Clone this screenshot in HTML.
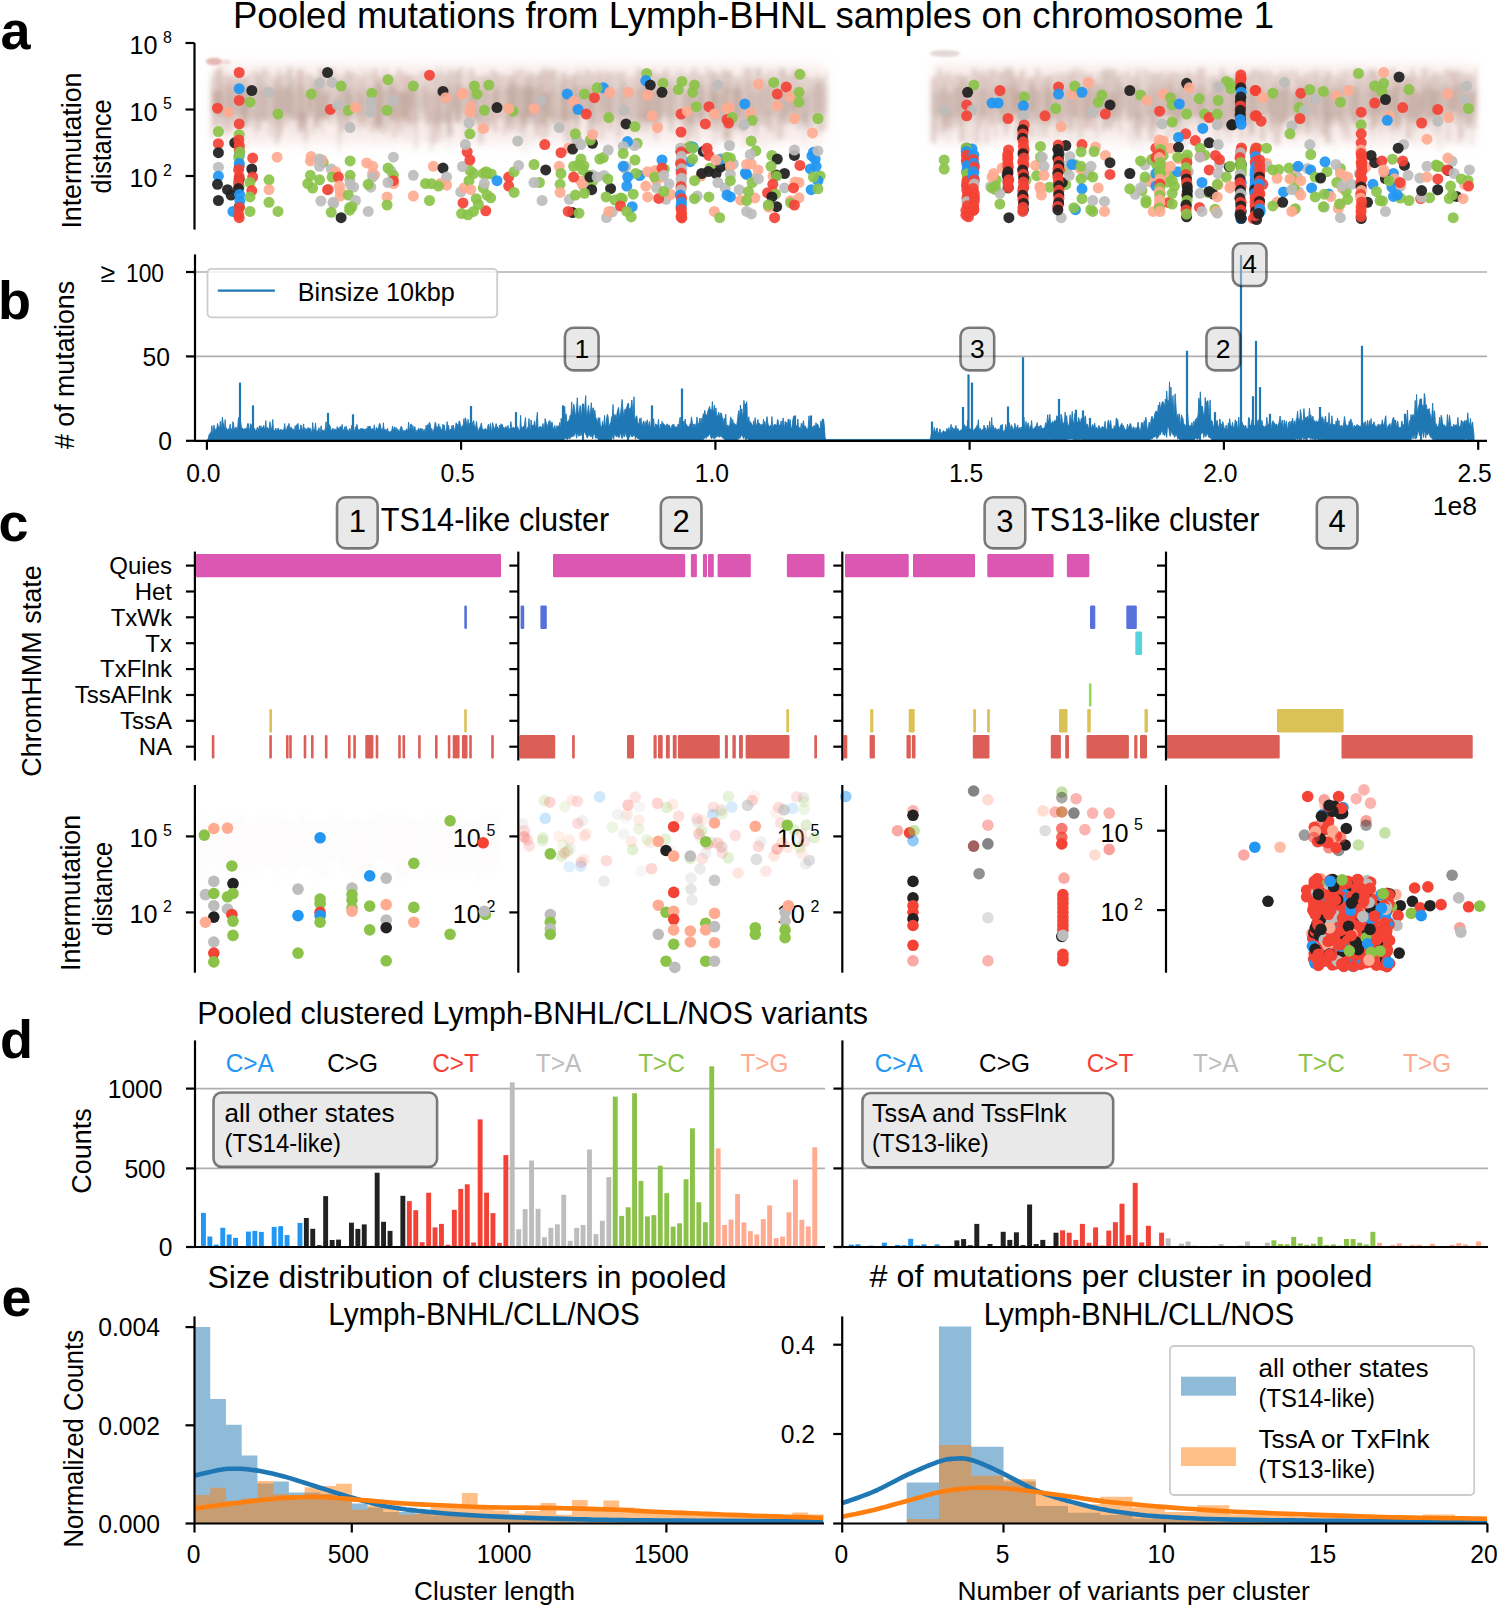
<!DOCTYPE html>
<html><head><meta charset="utf-8"><style>
html,body{margin:0;padding:0;background:#fff;}
svg{display:block;font-family:"Liberation Sans", sans-serif;}
</style></head><body>
<svg width="1497" height="1606" viewBox="0 0 1497 1606">
<rect width="1497" height="1606" fill="#fff"/>
<text x="0.5" y="48.5" font-size="54" text-anchor="start" font-weight="bold">a</text>
<text x="-2.0" y="318.5" font-size="54" text-anchor="start" font-weight="bold">b</text>
<text x="-1.5" y="541.2" font-size="54" text-anchor="start" font-weight="bold">c</text>
<text x="0.0" y="1058.4" font-size="54" text-anchor="start" font-weight="bold">d</text>
<text x="1.5" y="1315.5" font-size="54" text-anchor="start" font-weight="bold">e</text>
<text x="233.0" y="27.5" font-size="37.6" text-anchor="start" textLength="1041.0" lengthAdjust="spacingAndGlyphs">Pooled mutations from Lymph-BHNL samples on chromosome 1</text>
<text x="157.5" y="54.0" font-size="25.5" text-anchor="end" textLength="28.0" lengthAdjust="spacingAndGlyphs">10</text>
<text x="172.0" y="42.6" font-size="16" text-anchor="end">8</text>
<text x="157.5" y="120.5" font-size="25.5" text-anchor="end" textLength="28.0" lengthAdjust="spacingAndGlyphs">10</text>
<text x="172.0" y="109.1" font-size="16" text-anchor="end">5</text>
<text x="157.5" y="187.0" font-size="25.5" text-anchor="end" textLength="28.0" lengthAdjust="spacingAndGlyphs">10</text>
<text x="172.0" y="175.6" font-size="16" text-anchor="end">2</text>
<text x="81.0" y="150.6" font-size="27" text-anchor="middle" textLength="156.0" lengthAdjust="spacingAndGlyphs" transform="rotate(-90 81.0 150.6)">Intermutation</text>
<text x="111.0" y="146.4" font-size="27" text-anchor="middle" textLength="94.0" lengthAdjust="spacingAndGlyphs" transform="rotate(-90 111.0 146.4)">distance</text>
<defs><filter id="hz" x="-10%" y="-30%" width="120%" height="160%"><feGaussianBlur stdDeviation="2.6"/></filter><filter id="hz2" x="-10%" y="-30%" width="120%" height="160%"><feGaussianBlur stdDeviation="1.2"/></filter><filter id="hz3" x="-10%" y="-50%" width="120%" height="200%"><feGaussianBlur stdDeviation="6"/></filter><filter id="dotblur"><feGaussianBlur stdDeviation="0.6"/></filter></defs>
<rect x="213" y="64" width="611" height="80" fill="#e8c0b8" fill-opacity="0.25" filter="url(#hz3)"/>
<g filter="url(#hz)"><rect x="211.0" y="76.3" width="2.3" height="61.1" fill="#b07c74" fill-opacity="0.30"/><rect x="211.0" y="86.6" width="2.3" height="26.8" fill="#866654" fill-opacity="0.19"/><rect x="213.3" y="71.3" width="4.2" height="54.6" fill="#b08474" fill-opacity="0.35"/><rect x="213.3" y="90.7" width="4.2" height="23.0" fill="#866654" fill-opacity="0.29"/><rect x="217.6" y="67.3" width="4.3" height="48.1" fill="#a07c6c" fill-opacity="0.41"/><rect x="217.6" y="90.2" width="4.3" height="35.3" fill="#866654" fill-opacity="0.24"/><rect x="221.8" y="75.4" width="3.3" height="56.5" fill="#b07c74" fill-opacity="0.28"/><rect x="221.8" y="84.6" width="3.3" height="32.7" fill="#866654" fill-opacity="0.14"/><rect x="225.1" y="76.2" width="2.1" height="48.8" fill="#b07c74" fill-opacity="0.24"/><rect x="225.1" y="92.3" width="2.1" height="19.6" fill="#866654" fill-opacity="0.15"/><rect x="227.2" y="74.8" width="3.8" height="57.0" fill="#b07c74" fill-opacity="0.38"/><rect x="227.2" y="84.3" width="3.8" height="30.3" fill="#866654" fill-opacity="0.29"/><rect x="231.0" y="77.4" width="3.2" height="44.7" fill="#b07c74" fill-opacity="0.31"/><rect x="231.0" y="91.6" width="3.2" height="25.1" fill="#866654" fill-opacity="0.12"/><rect x="234.2" y="74.7" width="3.4" height="52.4" fill="#a88a80" fill-opacity="0.30"/><rect x="234.2" y="83.3" width="3.4" height="29.3" fill="#866654" fill-opacity="0.26"/><rect x="237.6" y="75.1" width="2.9" height="48.4" fill="#a88a80" fill-opacity="0.39"/><rect x="237.6" y="89.1" width="2.9" height="27.2" fill="#866654" fill-opacity="0.12"/><rect x="240.5" y="77.8" width="3.3" height="51.1" fill="#a08478" fill-opacity="0.39"/><rect x="240.5" y="86.9" width="3.3" height="28.6" fill="#866654" fill-opacity="0.27"/><rect x="243.8" y="77.0" width="2.9" height="49.9" fill="#a07c6c" fill-opacity="0.36"/><rect x="243.8" y="91.4" width="2.9" height="31.7" fill="#866654" fill-opacity="0.27"/><rect x="246.7" y="75.9" width="3.9" height="48.4" fill="#a88070" fill-opacity="0.29"/><rect x="246.7" y="87.8" width="3.9" height="28.1" fill="#866654" fill-opacity="0.20"/><rect x="250.5" y="71.5" width="4.4" height="58.1" fill="#a88a80" fill-opacity="0.20"/><rect x="250.5" y="89.5" width="4.4" height="30.3" fill="#866654" fill-opacity="0.18"/><rect x="254.9" y="69.5" width="2.1" height="48.7" fill="#a88a80" fill-opacity="0.39"/><rect x="254.9" y="91.6" width="2.1" height="31.5" fill="#866654" fill-opacity="0.14"/><rect x="257.0" y="74.4" width="4.1" height="55.8" fill="#a08478" fill-opacity="0.37"/><rect x="257.0" y="85.2" width="4.1" height="37.5" fill="#866654" fill-opacity="0.12"/><rect x="261.1" y="68.8" width="2.7" height="50.8" fill="#b07c74" fill-opacity="0.34"/><rect x="261.1" y="90.5" width="2.7" height="26.7" fill="#866654" fill-opacity="0.15"/><rect x="263.8" y="67.3" width="3.2" height="54.7" fill="#a88070" fill-opacity="0.24"/><rect x="263.8" y="85.0" width="3.2" height="36.6" fill="#866654" fill-opacity="0.29"/><rect x="267.0" y="71.7" width="4.4" height="64.2" fill="#a08478" fill-opacity="0.21"/><rect x="267.0" y="87.3" width="4.4" height="30.8" fill="#866654" fill-opacity="0.17"/><rect x="271.4" y="77.7" width="4.1" height="48.6" fill="#a88a80" fill-opacity="0.30"/><rect x="271.4" y="89.8" width="4.1" height="26.5" fill="#866654" fill-opacity="0.21"/><rect x="275.5" y="73.9" width="2.8" height="70.6" fill="#b08474" fill-opacity="0.39"/><rect x="275.5" y="82.8" width="2.8" height="28.4" fill="#866654" fill-opacity="0.28"/><rect x="278.3" y="68.7" width="2.7" height="69.7" fill="#a88a80" fill-opacity="0.39"/><rect x="278.3" y="91.8" width="2.7" height="33.6" fill="#866654" fill-opacity="0.21"/><rect x="281.0" y="76.5" width="2.4" height="56.0" fill="#a07c6c" fill-opacity="0.31"/><rect x="281.0" y="84.4" width="2.4" height="27.2" fill="#866654" fill-opacity="0.21"/><rect x="283.4" y="73.5" width="4.2" height="50.4" fill="#a88a80" fill-opacity="0.29"/><rect x="283.4" y="88.0" width="4.2" height="27.2" fill="#866654" fill-opacity="0.27"/><rect x="287.7" y="67.2" width="4.2" height="51.4" fill="#a08478" fill-opacity="0.42"/><rect x="287.7" y="86.1" width="4.2" height="27.3" fill="#866654" fill-opacity="0.23"/><rect x="291.9" y="77.3" width="4.1" height="43.9" fill="#a07c6c" fill-opacity="0.35"/><rect x="291.9" y="91.2" width="4.1" height="27.3" fill="#866654" fill-opacity="0.09"/><rect x="296.0" y="68.5" width="2.1" height="49.5" fill="#b08474" fill-opacity="0.26"/><rect x="296.0" y="89.2" width="2.1" height="34.3" fill="#866654" fill-opacity="0.16"/><rect x="298.1" y="70.2" width="2.9" height="60.4" fill="#a07c6c" fill-opacity="0.41"/><rect x="298.1" y="83.6" width="2.9" height="35.2" fill="#866654" fill-opacity="0.10"/><rect x="301.0" y="67.8" width="2.1" height="62.8" fill="#b08474" fill-opacity="0.38"/><rect x="301.0" y="83.4" width="2.1" height="36.0" fill="#866654" fill-opacity="0.28"/><rect x="303.1" y="73.1" width="2.2" height="52.1" fill="#b08474" fill-opacity="0.28"/><rect x="303.1" y="88.8" width="2.2" height="36.0" fill="#866654" fill-opacity="0.18"/><rect x="305.3" y="75.7" width="2.7" height="64.4" fill="#a88070" fill-opacity="0.22"/><rect x="305.3" y="91.9" width="2.7" height="30.7" fill="#866654" fill-opacity="0.12"/><rect x="308.0" y="73.5" width="4.0" height="44.5" fill="#a08478" fill-opacity="0.35"/><rect x="308.0" y="90.9" width="4.0" height="20.7" fill="#866654" fill-opacity="0.28"/><rect x="311.9" y="77.7" width="2.9" height="56.1" fill="#a88070" fill-opacity="0.30"/><rect x="311.9" y="84.5" width="2.9" height="30.6" fill="#866654" fill-opacity="0.09"/><rect x="314.9" y="77.2" width="4.0" height="50.9" fill="#a07c6c" fill-opacity="0.29"/><rect x="314.9" y="82.8" width="4.0" height="41.9" fill="#866654" fill-opacity="0.29"/><rect x="318.8" y="68.2" width="4.4" height="50.6" fill="#a88a80" fill-opacity="0.42"/><rect x="318.8" y="92.4" width="4.4" height="25.1" fill="#866654" fill-opacity="0.16"/><rect x="323.3" y="69.3" width="2.5" height="49.3" fill="#a88070" fill-opacity="0.38"/><rect x="323.3" y="93.8" width="2.5" height="23.4" fill="#866654" fill-opacity="0.22"/><rect x="325.7" y="77.3" width="3.6" height="44.7" fill="#b08474" fill-opacity="0.27"/><rect x="325.7" y="91.5" width="3.6" height="27.8" fill="#866654" fill-opacity="0.28"/><rect x="329.3" y="68.1" width="2.6" height="57.9" fill="#a08478" fill-opacity="0.22"/><rect x="329.3" y="82.2" width="2.6" height="31.7" fill="#866654" fill-opacity="0.10"/><rect x="331.9" y="67.8" width="3.4" height="48.6" fill="#b08474" fill-opacity="0.26"/><rect x="331.9" y="87.9" width="3.4" height="35.9" fill="#866654" fill-opacity="0.11"/><rect x="335.3" y="75.7" width="3.3" height="40.6" fill="#a08478" fill-opacity="0.24"/><rect x="335.3" y="93.8" width="3.3" height="29.3" fill="#866654" fill-opacity="0.15"/><rect x="338.6" y="72.7" width="2.3" height="70.7" fill="#b07c74" fill-opacity="0.23"/><rect x="338.6" y="82.4" width="2.3" height="32.7" fill="#866654" fill-opacity="0.28"/><rect x="340.8" y="77.0" width="4.0" height="53.2" fill="#a08478" fill-opacity="0.35"/><rect x="340.8" y="85.6" width="4.0" height="33.0" fill="#866654" fill-opacity="0.09"/><rect x="344.9" y="69.7" width="4.2" height="59.3" fill="#a07c6c" fill-opacity="0.30"/><rect x="344.9" y="88.6" width="4.2" height="30.1" fill="#866654" fill-opacity="0.27"/><rect x="349.0" y="71.4" width="3.1" height="59.0" fill="#a07c6c" fill-opacity="0.34"/><rect x="349.0" y="93.7" width="3.1" height="16.6" fill="#866654" fill-opacity="0.23"/><rect x="352.1" y="73.5" width="3.5" height="44.0" fill="#a88a80" fill-opacity="0.26"/><rect x="352.1" y="86.8" width="3.5" height="33.0" fill="#866654" fill-opacity="0.13"/><rect x="355.6" y="72.8" width="2.0" height="51.2" fill="#b07c74" fill-opacity="0.30"/><rect x="355.6" y="89.7" width="2.0" height="23.9" fill="#866654" fill-opacity="0.15"/><rect x="357.6" y="77.5" width="3.7" height="50.3" fill="#b07c74" fill-opacity="0.33"/><rect x="357.6" y="93.0" width="3.7" height="21.4" fill="#866654" fill-opacity="0.22"/><rect x="361.3" y="67.8" width="2.1" height="56.4" fill="#a08478" fill-opacity="0.24"/><rect x="361.3" y="85.7" width="2.1" height="35.3" fill="#866654" fill-opacity="0.27"/><rect x="363.4" y="74.7" width="2.9" height="53.5" fill="#a88a80" fill-opacity="0.39"/><rect x="363.4" y="93.5" width="2.9" height="25.6" fill="#866654" fill-opacity="0.12"/><rect x="366.4" y="69.4" width="2.6" height="55.9" fill="#b07c74" fill-opacity="0.21"/><rect x="366.4" y="86.7" width="2.6" height="33.5" fill="#866654" fill-opacity="0.16"/><rect x="369.0" y="73.0" width="4.1" height="59.9" fill="#b08474" fill-opacity="0.22"/><rect x="369.0" y="89.5" width="4.1" height="24.7" fill="#866654" fill-opacity="0.28"/><rect x="373.1" y="68.5" width="4.4" height="60.4" fill="#b07c74" fill-opacity="0.35"/><rect x="373.1" y="83.0" width="4.4" height="40.6" fill="#866654" fill-opacity="0.13"/><rect x="377.5" y="77.3" width="4.1" height="53.9" fill="#a07c6c" fill-opacity="0.40"/><rect x="377.5" y="83.5" width="4.1" height="41.0" fill="#866654" fill-opacity="0.29"/><rect x="381.6" y="73.6" width="2.3" height="60.8" fill="#b07c74" fill-opacity="0.25"/><rect x="381.6" y="88.7" width="2.3" height="36.6" fill="#866654" fill-opacity="0.20"/><rect x="383.9" y="67.3" width="3.4" height="66.6" fill="#a08478" fill-opacity="0.24"/><rect x="383.9" y="88.5" width="3.4" height="25.9" fill="#866654" fill-opacity="0.21"/><rect x="387.4" y="74.5" width="2.6" height="54.7" fill="#a88a80" fill-opacity="0.41"/><rect x="387.4" y="86.3" width="2.6" height="30.4" fill="#866654" fill-opacity="0.11"/><rect x="390.0" y="76.7" width="2.5" height="42.0" fill="#a88070" fill-opacity="0.40"/><rect x="390.0" y="83.4" width="2.5" height="38.5" fill="#866654" fill-opacity="0.20"/><rect x="392.5" y="75.4" width="4.4" height="62.1" fill="#b08474" fill-opacity="0.33"/><rect x="392.5" y="87.2" width="4.4" height="33.6" fill="#866654" fill-opacity="0.25"/><rect x="397.0" y="68.4" width="2.8" height="59.6" fill="#b08474" fill-opacity="0.32"/><rect x="397.0" y="91.4" width="2.8" height="29.5" fill="#866654" fill-opacity="0.19"/><rect x="399.8" y="71.2" width="3.6" height="63.0" fill="#b07c74" fill-opacity="0.33"/><rect x="399.8" y="92.0" width="3.6" height="26.2" fill="#866654" fill-opacity="0.30"/><rect x="403.4" y="76.2" width="3.2" height="46.2" fill="#b08474" fill-opacity="0.42"/><rect x="403.4" y="90.4" width="3.2" height="26.8" fill="#866654" fill-opacity="0.23"/><rect x="406.5" y="72.8" width="2.5" height="54.4" fill="#b08474" fill-opacity="0.41"/><rect x="406.5" y="92.3" width="2.5" height="27.0" fill="#866654" fill-opacity="0.24"/><rect x="409.0" y="75.2" width="4.2" height="48.6" fill="#b07c74" fill-opacity="0.34"/><rect x="409.0" y="85.5" width="4.2" height="24.8" fill="#866654" fill-opacity="0.24"/><rect x="413.3" y="75.6" width="2.4" height="57.1" fill="#a88a80" fill-opacity="0.22"/><rect x="413.3" y="82.1" width="2.4" height="42.5" fill="#866654" fill-opacity="0.26"/><rect x="415.7" y="74.5" width="3.0" height="45.9" fill="#a08478" fill-opacity="0.26"/><rect x="415.7" y="87.6" width="3.0" height="23.1" fill="#866654" fill-opacity="0.19"/><rect x="418.7" y="71.6" width="3.9" height="49.7" fill="#a88a80" fill-opacity="0.20"/><rect x="418.7" y="90.5" width="3.9" height="22.1" fill="#866654" fill-opacity="0.10"/><rect x="422.6" y="70.0" width="3.6" height="50.4" fill="#b08474" fill-opacity="0.25"/><rect x="422.6" y="85.2" width="3.6" height="26.0" fill="#866654" fill-opacity="0.26"/><rect x="426.1" y="71.1" width="3.3" height="53.2" fill="#b07c74" fill-opacity="0.24"/><rect x="426.1" y="90.8" width="3.3" height="35.1" fill="#866654" fill-opacity="0.20"/><rect x="429.5" y="75.1" width="2.9" height="46.9" fill="#b08474" fill-opacity="0.31"/><rect x="429.5" y="92.4" width="2.9" height="22.9" fill="#866654" fill-opacity="0.13"/><rect x="432.3" y="74.8" width="4.4" height="68.7" fill="#b08474" fill-opacity="0.34"/><rect x="432.3" y="93.1" width="4.4" height="31.8" fill="#866654" fill-opacity="0.13"/><rect x="436.7" y="67.8" width="2.7" height="60.4" fill="#a88a80" fill-opacity="0.33"/><rect x="436.7" y="93.0" width="2.7" height="28.7" fill="#866654" fill-opacity="0.21"/><rect x="439.4" y="72.8" width="2.7" height="67.9" fill="#a07c6c" fill-opacity="0.28"/><rect x="439.4" y="84.9" width="2.7" height="36.6" fill="#866654" fill-opacity="0.24"/><rect x="442.1" y="68.2" width="2.8" height="54.0" fill="#a08478" fill-opacity="0.22"/><rect x="442.1" y="82.5" width="2.8" height="40.4" fill="#866654" fill-opacity="0.09"/><rect x="444.8" y="74.5" width="3.9" height="49.4" fill="#a88a80" fill-opacity="0.36"/><rect x="444.8" y="87.3" width="3.9" height="33.3" fill="#866654" fill-opacity="0.14"/><rect x="448.7" y="68.9" width="3.5" height="67.8" fill="#a08478" fill-opacity="0.37"/><rect x="448.7" y="84.8" width="3.5" height="29.7" fill="#866654" fill-opacity="0.20"/><rect x="452.3" y="72.0" width="3.0" height="47.7" fill="#a08478" fill-opacity="0.22"/><rect x="452.3" y="93.9" width="3.0" height="16.8" fill="#866654" fill-opacity="0.26"/><rect x="455.2" y="70.5" width="4.1" height="51.4" fill="#a07c6c" fill-opacity="0.40"/><rect x="455.2" y="83.9" width="4.1" height="39.3" fill="#866654" fill-opacity="0.22"/><rect x="459.4" y="67.3" width="4.0" height="54.6" fill="#a88a80" fill-opacity="0.32"/><rect x="459.4" y="86.6" width="4.0" height="25.5" fill="#866654" fill-opacity="0.18"/><rect x="463.4" y="77.0" width="4.1" height="65.6" fill="#b08474" fill-opacity="0.21"/><rect x="463.4" y="91.4" width="4.1" height="25.6" fill="#866654" fill-opacity="0.12"/><rect x="467.5" y="68.4" width="3.2" height="51.6" fill="#a07c6c" fill-opacity="0.24"/><rect x="467.5" y="86.7" width="3.2" height="33.4" fill="#866654" fill-opacity="0.29"/><rect x="470.7" y="69.7" width="3.6" height="46.4" fill="#b08474" fill-opacity="0.33"/><rect x="470.7" y="87.1" width="3.6" height="34.0" fill="#866654" fill-opacity="0.22"/><rect x="474.3" y="77.0" width="4.4" height="47.9" fill="#a88a80" fill-opacity="0.36"/><rect x="474.3" y="87.1" width="4.4" height="33.5" fill="#866654" fill-opacity="0.24"/><rect x="478.7" y="74.9" width="3.9" height="69.7" fill="#a08478" fill-opacity="0.23"/><rect x="478.7" y="92.3" width="3.9" height="31.4" fill="#866654" fill-opacity="0.09"/><rect x="482.6" y="75.9" width="2.2" height="47.5" fill="#a88070" fill-opacity="0.42"/><rect x="482.6" y="83.5" width="2.2" height="27.0" fill="#866654" fill-opacity="0.23"/><rect x="484.8" y="75.4" width="4.2" height="55.8" fill="#b08474" fill-opacity="0.36"/><rect x="484.8" y="83.1" width="4.2" height="39.7" fill="#866654" fill-opacity="0.10"/><rect x="489.1" y="71.2" width="2.1" height="57.0" fill="#a07c6c" fill-opacity="0.23"/><rect x="489.1" y="91.7" width="2.1" height="32.0" fill="#866654" fill-opacity="0.15"/><rect x="491.1" y="69.7" width="3.1" height="55.3" fill="#a07c6c" fill-opacity="0.27"/><rect x="491.1" y="93.5" width="3.1" height="25.9" fill="#866654" fill-opacity="0.10"/><rect x="494.2" y="71.9" width="3.6" height="60.8" fill="#b07c74" fill-opacity="0.38"/><rect x="494.2" y="88.2" width="3.6" height="22.2" fill="#866654" fill-opacity="0.30"/><rect x="497.8" y="75.2" width="4.5" height="43.4" fill="#a07c6c" fill-opacity="0.27"/><rect x="497.8" y="86.1" width="4.5" height="33.1" fill="#866654" fill-opacity="0.09"/><rect x="502.3" y="74.2" width="4.0" height="61.1" fill="#b07c74" fill-opacity="0.27"/><rect x="502.3" y="88.2" width="4.0" height="21.9" fill="#866654" fill-opacity="0.11"/><rect x="506.4" y="75.0" width="2.8" height="54.1" fill="#b08474" fill-opacity="0.30"/><rect x="506.4" y="87.8" width="2.8" height="36.8" fill="#866654" fill-opacity="0.28"/><rect x="509.1" y="76.0" width="4.4" height="55.7" fill="#a08478" fill-opacity="0.38"/><rect x="509.1" y="82.6" width="4.4" height="35.3" fill="#866654" fill-opacity="0.27"/><rect x="513.6" y="69.7" width="2.6" height="55.6" fill="#b07c74" fill-opacity="0.42"/><rect x="513.6" y="86.4" width="2.6" height="28.5" fill="#866654" fill-opacity="0.21"/><rect x="516.2" y="72.6" width="2.9" height="60.7" fill="#a88070" fill-opacity="0.23"/><rect x="516.2" y="84.2" width="2.9" height="32.4" fill="#866654" fill-opacity="0.24"/><rect x="519.1" y="68.1" width="2.1" height="63.5" fill="#b07c74" fill-opacity="0.26"/><rect x="519.1" y="88.9" width="2.1" height="31.4" fill="#866654" fill-opacity="0.27"/><rect x="521.2" y="69.4" width="4.0" height="60.7" fill="#a88a80" fill-opacity="0.30"/><rect x="521.2" y="86.4" width="4.0" height="37.1" fill="#866654" fill-opacity="0.24"/><rect x="525.2" y="76.8" width="2.7" height="49.0" fill="#a07c6c" fill-opacity="0.40"/><rect x="525.2" y="87.4" width="2.7" height="28.4" fill="#866654" fill-opacity="0.28"/><rect x="527.9" y="72.3" width="2.5" height="44.0" fill="#a07c6c" fill-opacity="0.41"/><rect x="527.9" y="84.4" width="2.5" height="37.5" fill="#866654" fill-opacity="0.25"/><rect x="530.3" y="72.4" width="3.3" height="49.9" fill="#a88a80" fill-opacity="0.38"/><rect x="530.3" y="87.1" width="3.3" height="28.5" fill="#866654" fill-opacity="0.30"/><rect x="533.6" y="77.6" width="2.0" height="50.0" fill="#b08474" fill-opacity="0.32"/><rect x="533.6" y="88.1" width="2.0" height="37.8" fill="#866654" fill-opacity="0.15"/><rect x="535.6" y="74.1" width="3.9" height="62.1" fill="#a88a80" fill-opacity="0.41"/><rect x="535.6" y="86.9" width="3.9" height="33.2" fill="#866654" fill-opacity="0.15"/><rect x="539.6" y="72.6" width="2.8" height="53.0" fill="#a08478" fill-opacity="0.41"/><rect x="539.6" y="85.0" width="2.8" height="25.1" fill="#866654" fill-opacity="0.17"/><rect x="542.3" y="67.4" width="3.7" height="72.5" fill="#a88070" fill-opacity="0.37"/><rect x="542.3" y="92.8" width="3.7" height="32.0" fill="#866654" fill-opacity="0.27"/><rect x="546.0" y="72.1" width="3.0" height="57.2" fill="#a07c6c" fill-opacity="0.36"/><rect x="546.0" y="91.2" width="3.0" height="25.0" fill="#866654" fill-opacity="0.26"/><rect x="549.0" y="68.6" width="3.2" height="49.1" fill="#b08474" fill-opacity="0.38"/><rect x="549.0" y="92.3" width="3.2" height="27.1" fill="#866654" fill-opacity="0.14"/><rect x="552.2" y="69.8" width="4.5" height="54.4" fill="#a07c6c" fill-opacity="0.35"/><rect x="552.2" y="86.0" width="4.5" height="38.6" fill="#866654" fill-opacity="0.13"/><rect x="556.7" y="77.4" width="4.1" height="44.8" fill="#a08478" fill-opacity="0.21"/><rect x="556.7" y="93.6" width="4.1" height="20.1" fill="#866654" fill-opacity="0.09"/><rect x="560.7" y="72.3" width="2.6" height="59.9" fill="#a88070" fill-opacity="0.36"/><rect x="560.7" y="83.1" width="2.6" height="36.7" fill="#866654" fill-opacity="0.30"/><rect x="563.4" y="72.9" width="3.4" height="48.4" fill="#a88070" fill-opacity="0.41"/><rect x="563.4" y="90.8" width="3.4" height="30.1" fill="#866654" fill-opacity="0.26"/><rect x="566.7" y="77.9" width="3.9" height="64.1" fill="#a88070" fill-opacity="0.35"/><rect x="566.7" y="91.4" width="3.9" height="29.4" fill="#866654" fill-opacity="0.10"/><rect x="570.6" y="74.4" width="3.0" height="45.9" fill="#a88070" fill-opacity="0.40"/><rect x="570.6" y="89.3" width="3.0" height="28.4" fill="#866654" fill-opacity="0.11"/><rect x="573.6" y="74.7" width="3.5" height="66.4" fill="#a88a80" fill-opacity="0.41"/><rect x="573.6" y="85.5" width="3.5" height="32.4" fill="#866654" fill-opacity="0.28"/><rect x="577.1" y="69.4" width="3.4" height="59.3" fill="#a88070" fill-opacity="0.31"/><rect x="577.1" y="91.1" width="3.4" height="30.6" fill="#866654" fill-opacity="0.16"/><rect x="580.5" y="74.8" width="4.2" height="41.2" fill="#a88070" fill-opacity="0.27"/><rect x="580.5" y="84.7" width="4.2" height="29.7" fill="#866654" fill-opacity="0.24"/><rect x="584.7" y="68.4" width="3.0" height="50.1" fill="#a88070" fill-opacity="0.33"/><rect x="584.7" y="88.4" width="3.0" height="31.4" fill="#866654" fill-opacity="0.11"/><rect x="587.7" y="70.1" width="3.0" height="63.1" fill="#a07c6c" fill-opacity="0.28"/><rect x="587.7" y="84.9" width="3.0" height="27.9" fill="#866654" fill-opacity="0.25"/><rect x="590.7" y="73.4" width="3.8" height="64.2" fill="#a08478" fill-opacity="0.32"/><rect x="590.7" y="89.7" width="3.8" height="33.3" fill="#866654" fill-opacity="0.28"/><rect x="594.6" y="72.4" width="2.8" height="59.7" fill="#a88070" fill-opacity="0.26"/><rect x="594.6" y="89.6" width="2.8" height="33.6" fill="#866654" fill-opacity="0.09"/><rect x="597.4" y="68.3" width="2.4" height="56.9" fill="#b08474" fill-opacity="0.35"/><rect x="597.4" y="87.1" width="2.4" height="23.0" fill="#866654" fill-opacity="0.08"/><rect x="599.8" y="73.8" width="2.8" height="66.4" fill="#b08474" fill-opacity="0.42"/><rect x="599.8" y="85.2" width="2.8" height="36.3" fill="#866654" fill-opacity="0.16"/><rect x="602.6" y="70.8" width="2.3" height="46.2" fill="#a88a80" fill-opacity="0.23"/><rect x="602.6" y="82.5" width="2.3" height="28.7" fill="#866654" fill-opacity="0.24"/><rect x="604.9" y="70.5" width="2.3" height="60.0" fill="#a07c6c" fill-opacity="0.23"/><rect x="604.9" y="86.5" width="2.3" height="35.1" fill="#866654" fill-opacity="0.23"/><rect x="607.1" y="70.6" width="2.2" height="44.5" fill="#a88070" fill-opacity="0.41"/><rect x="607.1" y="86.2" width="2.2" height="36.6" fill="#866654" fill-opacity="0.22"/><rect x="609.4" y="73.7" width="4.1" height="57.0" fill="#a88a80" fill-opacity="0.35"/><rect x="609.4" y="90.7" width="4.1" height="26.9" fill="#866654" fill-opacity="0.17"/><rect x="613.5" y="70.3" width="4.3" height="48.6" fill="#a88a80" fill-opacity="0.23"/><rect x="613.5" y="88.1" width="4.3" height="24.7" fill="#866654" fill-opacity="0.13"/><rect x="617.8" y="73.0" width="3.1" height="64.9" fill="#a07c6c" fill-opacity="0.30"/><rect x="617.8" y="90.5" width="3.1" height="31.4" fill="#866654" fill-opacity="0.10"/><rect x="620.9" y="71.0" width="4.4" height="54.0" fill="#a88a80" fill-opacity="0.31"/><rect x="620.9" y="82.4" width="4.4" height="32.6" fill="#866654" fill-opacity="0.23"/><rect x="625.3" y="77.0" width="2.4" height="40.5" fill="#b08474" fill-opacity="0.25"/><rect x="625.3" y="86.4" width="2.4" height="28.3" fill="#866654" fill-opacity="0.11"/><rect x="627.7" y="76.2" width="4.0" height="46.1" fill="#b08474" fill-opacity="0.23"/><rect x="627.7" y="90.0" width="4.0" height="32.8" fill="#866654" fill-opacity="0.21"/><rect x="631.7" y="77.5" width="2.0" height="54.1" fill="#a88a80" fill-opacity="0.28"/><rect x="631.7" y="93.3" width="2.0" height="18.3" fill="#866654" fill-opacity="0.09"/><rect x="633.7" y="74.5" width="3.1" height="45.5" fill="#a07c6c" fill-opacity="0.29"/><rect x="633.7" y="82.6" width="3.1" height="34.9" fill="#866654" fill-opacity="0.09"/><rect x="636.8" y="67.0" width="3.8" height="65.1" fill="#b08474" fill-opacity="0.31"/><rect x="636.8" y="88.6" width="3.8" height="33.9" fill="#866654" fill-opacity="0.21"/><rect x="640.6" y="70.9" width="4.4" height="52.6" fill="#a88a80" fill-opacity="0.40"/><rect x="640.6" y="84.9" width="4.4" height="34.1" fill="#866654" fill-opacity="0.16"/><rect x="645.0" y="75.5" width="2.4" height="55.9" fill="#b08474" fill-opacity="0.39"/><rect x="645.0" y="85.0" width="2.4" height="35.0" fill="#866654" fill-opacity="0.28"/><rect x="647.4" y="73.8" width="4.3" height="48.7" fill="#b08474" fill-opacity="0.37"/><rect x="647.4" y="87.3" width="4.3" height="33.9" fill="#866654" fill-opacity="0.22"/><rect x="651.7" y="67.6" width="3.3" height="59.5" fill="#b07c74" fill-opacity="0.24"/><rect x="651.7" y="89.5" width="3.3" height="34.8" fill="#866654" fill-opacity="0.25"/><rect x="655.0" y="73.4" width="2.3" height="66.1" fill="#a07c6c" fill-opacity="0.41"/><rect x="655.0" y="90.6" width="2.3" height="21.0" fill="#866654" fill-opacity="0.15"/><rect x="657.3" y="74.2" width="4.4" height="54.9" fill="#a07c6c" fill-opacity="0.30"/><rect x="657.3" y="89.8" width="4.4" height="30.8" fill="#866654" fill-opacity="0.29"/><rect x="661.7" y="71.4" width="3.1" height="45.8" fill="#a08478" fill-opacity="0.26"/><rect x="661.7" y="83.8" width="3.1" height="32.2" fill="#866654" fill-opacity="0.10"/><rect x="664.8" y="67.8" width="2.1" height="50.5" fill="#b08474" fill-opacity="0.35"/><rect x="664.8" y="93.0" width="2.1" height="19.5" fill="#866654" fill-opacity="0.20"/><rect x="666.9" y="69.8" width="2.3" height="53.6" fill="#a08478" fill-opacity="0.36"/><rect x="666.9" y="88.5" width="2.3" height="27.8" fill="#866654" fill-opacity="0.08"/><rect x="669.1" y="77.8" width="4.0" height="53.5" fill="#a08478" fill-opacity="0.28"/><rect x="669.1" y="82.9" width="4.0" height="35.7" fill="#866654" fill-opacity="0.20"/><rect x="673.1" y="71.1" width="2.4" height="62.4" fill="#a88a80" fill-opacity="0.21"/><rect x="673.1" y="90.7" width="2.4" height="30.5" fill="#866654" fill-opacity="0.23"/><rect x="675.5" y="72.9" width="3.6" height="46.6" fill="#b07c74" fill-opacity="0.23"/><rect x="675.5" y="82.6" width="3.6" height="28.9" fill="#866654" fill-opacity="0.10"/><rect x="679.2" y="67.5" width="4.0" height="56.8" fill="#b08474" fill-opacity="0.20"/><rect x="679.2" y="87.6" width="4.0" height="34.0" fill="#866654" fill-opacity="0.12"/><rect x="683.2" y="73.2" width="2.3" height="56.7" fill="#a88a80" fill-opacity="0.34"/><rect x="683.2" y="91.6" width="2.3" height="27.2" fill="#866654" fill-opacity="0.23"/><rect x="685.5" y="75.9" width="3.7" height="68.0" fill="#b08474" fill-opacity="0.26"/><rect x="685.5" y="92.1" width="3.7" height="30.4" fill="#866654" fill-opacity="0.22"/><rect x="689.3" y="70.7" width="3.8" height="64.5" fill="#a07c6c" fill-opacity="0.26"/><rect x="689.3" y="82.2" width="3.8" height="43.1" fill="#866654" fill-opacity="0.29"/><rect x="693.1" y="67.8" width="2.6" height="57.7" fill="#b07c74" fill-opacity="0.32"/><rect x="693.1" y="92.5" width="2.6" height="26.8" fill="#866654" fill-opacity="0.20"/><rect x="695.7" y="69.2" width="3.0" height="72.6" fill="#b07c74" fill-opacity="0.21"/><rect x="695.7" y="86.9" width="3.0" height="29.8" fill="#866654" fill-opacity="0.11"/><rect x="698.7" y="74.4" width="3.5" height="50.4" fill="#a08478" fill-opacity="0.39"/><rect x="698.7" y="85.4" width="3.5" height="35.2" fill="#866654" fill-opacity="0.30"/><rect x="702.1" y="76.2" width="2.9" height="42.8" fill="#a88a80" fill-opacity="0.28"/><rect x="702.1" y="85.5" width="2.9" height="32.7" fill="#866654" fill-opacity="0.15"/><rect x="705.0" y="67.2" width="3.8" height="62.2" fill="#b08474" fill-opacity="0.22"/><rect x="705.0" y="91.1" width="3.8" height="23.0" fill="#866654" fill-opacity="0.09"/><rect x="708.8" y="70.5" width="4.1" height="59.1" fill="#a88070" fill-opacity="0.34"/><rect x="708.8" y="83.4" width="4.1" height="33.6" fill="#866654" fill-opacity="0.21"/><rect x="712.9" y="72.5" width="3.9" height="49.6" fill="#a08478" fill-opacity="0.42"/><rect x="712.9" y="91.8" width="3.9" height="24.3" fill="#866654" fill-opacity="0.28"/><rect x="716.7" y="74.9" width="2.3" height="56.9" fill="#a88a80" fill-opacity="0.24"/><rect x="716.7" y="86.5" width="2.3" height="31.2" fill="#866654" fill-opacity="0.21"/><rect x="719.1" y="74.0" width="2.7" height="53.1" fill="#a07c6c" fill-opacity="0.31"/><rect x="719.1" y="93.6" width="2.7" height="28.7" fill="#866654" fill-opacity="0.17"/><rect x="721.7" y="68.1" width="2.7" height="70.3" fill="#a88070" fill-opacity="0.30"/><rect x="721.7" y="87.9" width="2.7" height="28.4" fill="#866654" fill-opacity="0.24"/><rect x="724.4" y="70.7" width="4.1" height="70.5" fill="#a07c6c" fill-opacity="0.39"/><rect x="724.4" y="84.3" width="4.1" height="28.5" fill="#866654" fill-opacity="0.19"/><rect x="728.5" y="71.2" width="4.1" height="68.6" fill="#a88070" fill-opacity="0.33"/><rect x="728.5" y="86.1" width="4.1" height="24.7" fill="#866654" fill-opacity="0.09"/><rect x="732.6" y="76.8" width="3.5" height="53.6" fill="#a88a80" fill-opacity="0.30"/><rect x="732.6" y="88.0" width="3.5" height="37.8" fill="#866654" fill-opacity="0.26"/><rect x="736.1" y="77.9" width="3.0" height="51.4" fill="#a07c6c" fill-opacity="0.34"/><rect x="736.1" y="85.2" width="3.0" height="30.4" fill="#866654" fill-opacity="0.29"/><rect x="739.1" y="77.4" width="2.1" height="57.1" fill="#a08478" fill-opacity="0.36"/><rect x="739.1" y="89.2" width="2.1" height="29.7" fill="#866654" fill-opacity="0.30"/><rect x="741.2" y="73.7" width="2.2" height="55.6" fill="#a88a80" fill-opacity="0.29"/><rect x="741.2" y="91.5" width="2.2" height="27.7" fill="#866654" fill-opacity="0.10"/><rect x="743.4" y="67.2" width="3.4" height="64.1" fill="#a88a80" fill-opacity="0.28"/><rect x="743.4" y="82.4" width="3.4" height="33.5" fill="#866654" fill-opacity="0.10"/><rect x="746.8" y="67.9" width="4.2" height="56.8" fill="#a88a80" fill-opacity="0.40"/><rect x="746.8" y="82.0" width="4.2" height="30.5" fill="#866654" fill-opacity="0.15"/><rect x="751.1" y="76.9" width="2.5" height="57.9" fill="#b08474" fill-opacity="0.31"/><rect x="751.1" y="93.9" width="2.5" height="29.7" fill="#866654" fill-opacity="0.21"/><rect x="753.6" y="67.7" width="2.1" height="58.7" fill="#a07c6c" fill-opacity="0.26"/><rect x="753.6" y="88.6" width="2.1" height="30.6" fill="#866654" fill-opacity="0.22"/><rect x="755.7" y="68.9" width="2.2" height="62.4" fill="#b07c74" fill-opacity="0.26"/><rect x="755.7" y="89.7" width="2.2" height="24.1" fill="#866654" fill-opacity="0.10"/><rect x="757.9" y="67.5" width="3.8" height="56.7" fill="#a08478" fill-opacity="0.38"/><rect x="757.9" y="91.9" width="3.8" height="19.3" fill="#866654" fill-opacity="0.15"/><rect x="761.7" y="76.5" width="4.3" height="40.9" fill="#b07c74" fill-opacity="0.28"/><rect x="761.7" y="82.4" width="4.3" height="43.4" fill="#866654" fill-opacity="0.17"/><rect x="766.0" y="73.1" width="2.4" height="54.6" fill="#a88a80" fill-opacity="0.34"/><rect x="766.0" y="87.1" width="2.4" height="38.5" fill="#866654" fill-opacity="0.12"/><rect x="768.4" y="68.4" width="2.3" height="65.6" fill="#a88070" fill-opacity="0.24"/><rect x="768.4" y="86.3" width="2.3" height="31.0" fill="#866654" fill-opacity="0.28"/><rect x="770.7" y="70.9" width="3.5" height="60.8" fill="#a07c6c" fill-opacity="0.20"/><rect x="770.7" y="82.4" width="3.5" height="31.7" fill="#866654" fill-opacity="0.20"/><rect x="774.2" y="75.4" width="2.0" height="41.1" fill="#a88a80" fill-opacity="0.21"/><rect x="774.2" y="84.4" width="2.0" height="32.7" fill="#866654" fill-opacity="0.13"/><rect x="776.3" y="70.6" width="3.3" height="68.3" fill="#a88a80" fill-opacity="0.24"/><rect x="776.3" y="85.6" width="3.3" height="39.4" fill="#866654" fill-opacity="0.17"/><rect x="779.5" y="67.3" width="3.2" height="72.1" fill="#a07c6c" fill-opacity="0.35"/><rect x="779.5" y="91.9" width="3.2" height="27.4" fill="#866654" fill-opacity="0.15"/><rect x="782.7" y="69.1" width="3.6" height="55.1" fill="#a88a80" fill-opacity="0.39"/><rect x="782.7" y="88.8" width="3.6" height="30.0" fill="#866654" fill-opacity="0.19"/><rect x="786.3" y="74.5" width="3.2" height="50.9" fill="#a07c6c" fill-opacity="0.30"/><rect x="786.3" y="84.0" width="3.2" height="30.3" fill="#866654" fill-opacity="0.26"/><rect x="789.5" y="75.4" width="2.8" height="46.7" fill="#a88070" fill-opacity="0.26"/><rect x="789.5" y="89.3" width="2.8" height="21.5" fill="#866654" fill-opacity="0.18"/><rect x="792.3" y="69.6" width="4.2" height="53.4" fill="#b07c74" fill-opacity="0.40"/><rect x="792.3" y="93.9" width="4.2" height="18.5" fill="#866654" fill-opacity="0.27"/><rect x="796.5" y="68.2" width="2.1" height="62.5" fill="#a88a80" fill-opacity="0.26"/><rect x="796.5" y="90.9" width="2.1" height="24.0" fill="#866654" fill-opacity="0.08"/><rect x="798.6" y="73.5" width="2.8" height="55.7" fill="#a88070" fill-opacity="0.25"/><rect x="798.6" y="85.9" width="2.8" height="34.8" fill="#866654" fill-opacity="0.26"/><rect x="801.5" y="75.6" width="2.2" height="44.7" fill="#a88070" fill-opacity="0.27"/><rect x="801.5" y="93.5" width="2.2" height="27.7" fill="#866654" fill-opacity="0.12"/><rect x="803.7" y="72.5" width="3.9" height="52.8" fill="#a07c6c" fill-opacity="0.26"/><rect x="803.7" y="93.1" width="3.9" height="32.4" fill="#866654" fill-opacity="0.26"/><rect x="807.6" y="77.3" width="4.1" height="53.3" fill="#a08478" fill-opacity="0.25"/><rect x="807.6" y="84.9" width="4.1" height="31.4" fill="#866654" fill-opacity="0.13"/><rect x="811.7" y="77.9" width="2.4" height="50.5" fill="#b07c74" fill-opacity="0.20"/><rect x="811.7" y="90.2" width="2.4" height="26.9" fill="#866654" fill-opacity="0.12"/><rect x="814.1" y="77.9" width="2.4" height="45.0" fill="#a07c6c" fill-opacity="0.38"/><rect x="814.1" y="85.8" width="2.4" height="33.8" fill="#866654" fill-opacity="0.21"/><rect x="816.5" y="73.0" width="2.7" height="61.6" fill="#a07c6c" fill-opacity="0.22"/><rect x="816.5" y="83.4" width="2.7" height="30.1" fill="#866654" fill-opacity="0.21"/><rect x="819.2" y="77.7" width="3.6" height="54.0" fill="#a88070" fill-opacity="0.37"/><rect x="819.2" y="83.2" width="3.6" height="35.0" fill="#866654" fill-opacity="0.19"/><rect x="822.8" y="77.1" width="2.3" height="52.9" fill="#b07c74" fill-opacity="0.21"/><rect x="822.8" y="90.6" width="2.3" height="19.7" fill="#866654" fill-opacity="0.09"/><rect x="825.1" y="70.7" width="2.1" height="58.4" fill="#a07c6c" fill-opacity="0.32"/><rect x="825.1" y="84.4" width="2.1" height="30.3" fill="#866654" fill-opacity="0.20"/><rect x="364.6" y="112" width="2.7" height="20.7" fill="#b08880" fill-opacity="0.08"/><rect x="550.3" y="112" width="3.4" height="23.9" fill="#a08078" fill-opacity="0.07"/><rect x="554.7" y="112" width="3.5" height="17.5" fill="#a89088" fill-opacity="0.08"/><rect x="318.9" y="112" width="4.7" height="17.6" fill="#b89890" fill-opacity="0.16"/><rect x="300.4" y="112" width="4.5" height="19.1" fill="#b08880" fill-opacity="0.15"/><rect x="798.7" y="112" width="2.2" height="17.4" fill="#a89088" fill-opacity="0.15"/><rect x="617.2" y="112" width="2.4" height="20.5" fill="#b08880" fill-opacity="0.06"/><rect x="691.4" y="112" width="4.2" height="40.3" fill="#b89890" fill-opacity="0.12"/><rect x="743.3" y="112" width="4.2" height="34.5" fill="#a89088" fill-opacity="0.09"/><rect x="429.3" y="112" width="4.3" height="39.9" fill="#a08078" fill-opacity="0.16"/><rect x="447.2" y="112" width="3.3" height="21.6" fill="#a08078" fill-opacity="0.16"/><rect x="767.5" y="112" width="3.8" height="18.1" fill="#b08880" fill-opacity="0.15"/><rect x="477.8" y="112" width="2.8" height="23.2" fill="#b89890" fill-opacity="0.15"/><rect x="437.4" y="112" width="3.4" height="24.5" fill="#a08078" fill-opacity="0.17"/><rect x="523.4" y="112" width="3.1" height="23.2" fill="#b89890" fill-opacity="0.12"/><rect x="743.6" y="112" width="4.1" height="19.0" fill="#a08078" fill-opacity="0.13"/><rect x="304.0" y="112" width="2.5" height="36.9" fill="#b89890" fill-opacity="0.08"/><rect x="605.1" y="112" width="2.5" height="38.1" fill="#b89890" fill-opacity="0.06"/><rect x="305.1" y="112" width="3.1" height="27.1" fill="#b08880" fill-opacity="0.16"/><rect x="629.2" y="112" width="2.2" height="20.0" fill="#b08880" fill-opacity="0.18"/><rect x="654.7" y="112" width="2.6" height="24.6" fill="#b89890" fill-opacity="0.12"/><rect x="742.8" y="112" width="4.6" height="36.1" fill="#b89890" fill-opacity="0.09"/><rect x="284.6" y="112" width="4.8" height="15.9" fill="#b89890" fill-opacity="0.17"/><rect x="645.8" y="112" width="4.4" height="16.7" fill="#b89890" fill-opacity="0.09"/><rect x="457.2" y="112" width="3.1" height="16.3" fill="#b89890" fill-opacity="0.14"/><rect x="215.2" y="112" width="2.3" height="18.7" fill="#b89890" fill-opacity="0.12"/><rect x="373.9" y="112" width="2.5" height="17.0" fill="#a08078" fill-opacity="0.16"/><rect x="479.4" y="112" width="3.5" height="19.9" fill="#b89890" fill-opacity="0.08"/><rect x="702.5" y="112" width="2.8" height="21.2" fill="#a89088" fill-opacity="0.07"/><rect x="338.2" y="112" width="2.5" height="24.8" fill="#b08880" fill-opacity="0.15"/><rect x="261.4" y="112" width="2.7" height="33.8" fill="#a89088" fill-opacity="0.06"/><rect x="604.4" y="112" width="2.6" height="24.2" fill="#b08880" fill-opacity="0.08"/><rect x="754.6" y="112" width="3.7" height="39.3" fill="#b89890" fill-opacity="0.11"/><rect x="424.5" y="112" width="3.5" height="28.8" fill="#b89890" fill-opacity="0.13"/><rect x="755.0" y="112" width="3.7" height="28.0" fill="#a08078" fill-opacity="0.16"/><rect x="371.1" y="112" width="5.0" height="32.4" fill="#b89890" fill-opacity="0.05"/><rect x="321.1" y="112" width="3.0" height="23.5" fill="#b89890" fill-opacity="0.16"/><rect x="792.7" y="112" width="3.2" height="15.3" fill="#a89088" fill-opacity="0.13"/><rect x="240.7" y="112" width="3.3" height="40.0" fill="#a89088" fill-opacity="0.09"/><rect x="680.3" y="112" width="4.2" height="28.3" fill="#b89890" fill-opacity="0.13"/><rect x="623.7" y="112" width="3.0" height="24.5" fill="#a08078" fill-opacity="0.10"/><rect x="665.9" y="112" width="4.1" height="20.2" fill="#a08078" fill-opacity="0.07"/><rect x="505.0" y="112" width="4.1" height="16.0" fill="#a89088" fill-opacity="0.06"/><rect x="254.1" y="112" width="3.6" height="27.7" fill="#a08078" fill-opacity="0.14"/><rect x="771.3" y="112" width="4.4" height="30.2" fill="#a08078" fill-opacity="0.10"/><rect x="446.9" y="112" width="4.2" height="37.4" fill="#a08078" fill-opacity="0.07"/><rect x="570.7" y="112" width="2.2" height="34.6" fill="#b89890" fill-opacity="0.11"/><rect x="631.2" y="112" width="4.0" height="23.2" fill="#b08880" fill-opacity="0.11"/><rect x="743.6" y="112" width="2.6" height="18.6" fill="#b08880" fill-opacity="0.17"/><rect x="557.6" y="112" width="4.9" height="19.7" fill="#a08078" fill-opacity="0.11"/><rect x="562.9" y="112" width="4.7" height="31.5" fill="#a08078" fill-opacity="0.14"/><rect x="522.3" y="112" width="5.0" height="41.8" fill="#b08880" fill-opacity="0.09"/><rect x="295.5" y="112" width="2.5" height="18.6" fill="#b89890" fill-opacity="0.08"/><rect x="642.7" y="112" width="3.4" height="28.8" fill="#b89890" fill-opacity="0.07"/><rect x="587.1" y="112" width="4.9" height="31.0" fill="#a89088" fill-opacity="0.09"/><rect x="305.5" y="112" width="2.0" height="41.5" fill="#b08880" fill-opacity="0.11"/><rect x="646.8" y="112" width="3.5" height="19.8" fill="#a08078" fill-opacity="0.11"/><rect x="536.8" y="112" width="3.1" height="20.6" fill="#b08880" fill-opacity="0.14"/><rect x="270.4" y="112" width="3.2" height="27.0" fill="#a89088" fill-opacity="0.11"/><rect x="529.9" y="112" width="3.8" height="30.9" fill="#a08078" fill-opacity="0.11"/><rect x="388.6" y="112" width="3.0" height="35.4" fill="#b89890" fill-opacity="0.07"/><rect x="685.0" y="112" width="3.7" height="36.6" fill="#b08880" fill-opacity="0.18"/><rect x="547.1" y="112" width="3.3" height="23.6" fill="#b89890" fill-opacity="0.17"/><rect x="273.1" y="112" width="2.2" height="27.6" fill="#a08078" fill-opacity="0.11"/><rect x="521.1" y="112" width="2.5" height="29.6" fill="#a08078" fill-opacity="0.16"/><rect x="585.9" y="112" width="4.6" height="28.6" fill="#b89890" fill-opacity="0.07"/><rect x="804.4" y="112" width="3.8" height="21.1" fill="#a89088" fill-opacity="0.17"/><rect x="607.9" y="112" width="2.5" height="33.9" fill="#a08078" fill-opacity="0.06"/><rect x="303.7" y="112" width="3.1" height="23.7" fill="#b89890" fill-opacity="0.10"/><rect x="447.8" y="112" width="4.2" height="23.1" fill="#b89890" fill-opacity="0.13"/><rect x="447.4" y="112" width="4.5" height="22.8" fill="#b08880" fill-opacity="0.11"/><rect x="483.4" y="112" width="3.4" height="29.5" fill="#b89890" fill-opacity="0.09"/><rect x="714.5" y="112" width="4.9" height="30.1" fill="#b89890" fill-opacity="0.14"/><rect x="406.4" y="112" width="3.8" height="27.5" fill="#a08078" fill-opacity="0.14"/><rect x="714.3" y="112" width="4.7" height="19.5" fill="#a89088" fill-opacity="0.16"/><rect x="781.4" y="112" width="2.2" height="23.7" fill="#b08880" fill-opacity="0.09"/><rect x="787.0" y="112" width="3.0" height="24.8" fill="#a08078" fill-opacity="0.08"/><rect x="762.3" y="112" width="5.0" height="39.5" fill="#b89890" fill-opacity="0.10"/><rect x="637.8" y="112" width="4.0" height="19.7" fill="#a08078" fill-opacity="0.13"/><rect x="802.7" y="112" width="3.1" height="36.2" fill="#a89088" fill-opacity="0.08"/><rect x="713.8" y="112" width="3.0" height="20.5" fill="#b89890" fill-opacity="0.06"/><rect x="213.4" y="112" width="3.1" height="36.8" fill="#a89088" fill-opacity="0.06"/><rect x="694.2" y="112" width="4.5" height="19.8" fill="#b89890" fill-opacity="0.07"/><rect x="478.0" y="112" width="3.6" height="32.2" fill="#b89890" fill-opacity="0.17"/><rect x="338.4" y="112" width="2.5" height="41.2" fill="#a89088" fill-opacity="0.18"/><rect x="300.6" y="112" width="3.3" height="29.1" fill="#a08078" fill-opacity="0.07"/><rect x="415.0" y="112" width="4.4" height="34.0" fill="#b89890" fill-opacity="0.13"/><rect x="223.7" y="112" width="4.3" height="21.1" fill="#a08078" fill-opacity="0.13"/><rect x="231.9" y="112" width="4.0" height="18.6" fill="#a08078" fill-opacity="0.12"/><rect x="298.2" y="112" width="3.1" height="18.7" fill="#b89890" fill-opacity="0.18"/><rect x="445.4" y="112" width="2.1" height="27.5" fill="#a89088" fill-opacity="0.14"/><rect x="337.0" y="112" width="4.7" height="15.1" fill="#b89890" fill-opacity="0.06"/><rect x="711.8" y="112" width="2.6" height="36.5" fill="#b08880" fill-opacity="0.16"/><rect x="413.8" y="112" width="3.3" height="40.1" fill="#a08078" fill-opacity="0.14"/><rect x="298.2" y="112" width="3.1" height="24.4" fill="#a08078" fill-opacity="0.10"/><rect x="435.9" y="112" width="3.6" height="20.6" fill="#b08880" fill-opacity="0.07"/><rect x="357.6" y="112" width="2.7" height="25.6" fill="#a08078" fill-opacity="0.12"/><rect x="244.1" y="112" width="4.4" height="37.1" fill="#b08880" fill-opacity="0.06"/><rect x="733.1" y="112" width="2.8" height="18.6" fill="#a89088" fill-opacity="0.14"/><rect x="614.6" y="112" width="4.7" height="36.0" fill="#b08880" fill-opacity="0.12"/><rect x="290.0" y="112" width="4.8" height="24.8" fill="#b08880" fill-opacity="0.10"/><rect x="725.0" y="112" width="2.7" height="32.3" fill="#a08078" fill-opacity="0.17"/></g>
<rect x="933" y="64" width="541" height="80" fill="#e8c0b8" fill-opacity="0.25" filter="url(#hz3)"/>
<g filter="url(#hz)"><rect x="931.0" y="77.4" width="4.4" height="65.1" fill="#b07c74" fill-opacity="0.36"/><rect x="931.0" y="92.2" width="4.4" height="21.8" fill="#866654" fill-opacity="0.13"/><rect x="935.4" y="74.5" width="2.1" height="58.5" fill="#a88a80" fill-opacity="0.38"/><rect x="935.4" y="93.4" width="2.1" height="25.3" fill="#866654" fill-opacity="0.18"/><rect x="937.5" y="67.4" width="2.7" height="48.1" fill="#a07c6c" fill-opacity="0.27"/><rect x="937.5" y="87.1" width="2.7" height="37.1" fill="#866654" fill-opacity="0.12"/><rect x="940.2" y="69.5" width="2.4" height="68.1" fill="#a88a80" fill-opacity="0.28"/><rect x="940.2" y="90.1" width="2.4" height="22.8" fill="#866654" fill-opacity="0.28"/><rect x="942.6" y="75.1" width="4.0" height="56.2" fill="#b08474" fill-opacity="0.37"/><rect x="942.6" y="86.3" width="4.0" height="37.4" fill="#866654" fill-opacity="0.18"/><rect x="946.6" y="71.4" width="4.4" height="56.9" fill="#b08474" fill-opacity="0.25"/><rect x="946.6" y="93.1" width="4.4" height="24.9" fill="#866654" fill-opacity="0.26"/><rect x="951.0" y="76.7" width="2.9" height="54.5" fill="#a88a80" fill-opacity="0.32"/><rect x="951.0" y="90.7" width="2.9" height="27.1" fill="#866654" fill-opacity="0.13"/><rect x="953.9" y="74.7" width="2.8" height="43.3" fill="#a07c6c" fill-opacity="0.26"/><rect x="953.9" y="85.7" width="2.8" height="39.6" fill="#866654" fill-opacity="0.24"/><rect x="956.7" y="72.7" width="3.3" height="54.0" fill="#a08478" fill-opacity="0.27"/><rect x="956.7" y="87.9" width="3.3" height="28.0" fill="#866654" fill-opacity="0.23"/><rect x="959.9" y="75.6" width="4.2" height="66.6" fill="#a88070" fill-opacity="0.42"/><rect x="959.9" y="82.7" width="4.2" height="37.7" fill="#866654" fill-opacity="0.14"/><rect x="964.1" y="76.6" width="2.6" height="40.3" fill="#a08478" fill-opacity="0.39"/><rect x="964.1" y="91.9" width="2.6" height="33.2" fill="#866654" fill-opacity="0.09"/><rect x="966.7" y="75.4" width="4.2" height="40.7" fill="#a88070" fill-opacity="0.25"/><rect x="966.7" y="83.0" width="4.2" height="42.3" fill="#866654" fill-opacity="0.09"/><rect x="970.9" y="67.2" width="3.8" height="52.4" fill="#a08478" fill-opacity="0.23"/><rect x="970.9" y="88.3" width="3.8" height="21.8" fill="#866654" fill-opacity="0.21"/><rect x="974.8" y="69.7" width="4.0" height="74.4" fill="#b07c74" fill-opacity="0.34"/><rect x="974.8" y="83.4" width="4.0" height="32.0" fill="#866654" fill-opacity="0.09"/><rect x="978.8" y="75.4" width="3.1" height="52.9" fill="#a88a80" fill-opacity="0.37"/><rect x="978.8" y="90.5" width="3.1" height="27.1" fill="#866654" fill-opacity="0.13"/><rect x="981.9" y="70.5" width="3.7" height="46.4" fill="#a08478" fill-opacity="0.39"/><rect x="981.9" y="88.2" width="3.7" height="34.3" fill="#866654" fill-opacity="0.19"/><rect x="985.5" y="76.6" width="2.8" height="67.9" fill="#b07c74" fill-opacity="0.34"/><rect x="985.5" y="88.7" width="2.8" height="23.6" fill="#866654" fill-opacity="0.09"/><rect x="988.3" y="68.8" width="2.1" height="48.0" fill="#b07c74" fill-opacity="0.31"/><rect x="988.3" y="93.2" width="2.1" height="32.7" fill="#866654" fill-opacity="0.13"/><rect x="990.4" y="69.8" width="3.1" height="55.9" fill="#b07c74" fill-opacity="0.38"/><rect x="990.4" y="86.3" width="3.1" height="34.6" fill="#866654" fill-opacity="0.14"/><rect x="993.5" y="68.7" width="3.9" height="69.0" fill="#a88070" fill-opacity="0.22"/><rect x="993.5" y="83.2" width="3.9" height="29.7" fill="#866654" fill-opacity="0.13"/><rect x="997.4" y="72.7" width="2.5" height="50.6" fill="#a08478" fill-opacity="0.34"/><rect x="997.4" y="90.2" width="2.5" height="32.0" fill="#866654" fill-opacity="0.13"/><rect x="1000.0" y="71.7" width="4.0" height="43.7" fill="#a88a80" fill-opacity="0.39"/><rect x="1000.0" y="89.0" width="4.0" height="35.8" fill="#866654" fill-opacity="0.23"/><rect x="1004.0" y="67.2" width="3.2" height="68.3" fill="#b08474" fill-opacity="0.35"/><rect x="1004.0" y="85.7" width="3.2" height="38.3" fill="#866654" fill-opacity="0.17"/><rect x="1007.2" y="69.2" width="2.3" height="59.8" fill="#a88070" fill-opacity="0.38"/><rect x="1007.2" y="86.9" width="2.3" height="30.8" fill="#866654" fill-opacity="0.13"/><rect x="1009.4" y="67.8" width="3.5" height="52.3" fill="#a88070" fill-opacity="0.41"/><rect x="1009.4" y="84.6" width="3.5" height="33.2" fill="#866654" fill-opacity="0.11"/><rect x="1012.9" y="74.9" width="2.9" height="42.6" fill="#b08474" fill-opacity="0.40"/><rect x="1012.9" y="83.5" width="2.9" height="27.8" fill="#866654" fill-opacity="0.27"/><rect x="1015.8" y="77.6" width="3.6" height="62.3" fill="#b07c74" fill-opacity="0.37"/><rect x="1015.8" y="90.5" width="3.6" height="24.2" fill="#866654" fill-opacity="0.29"/><rect x="1019.4" y="71.1" width="2.4" height="52.6" fill="#b07c74" fill-opacity="0.36"/><rect x="1019.4" y="91.7" width="2.4" height="33.3" fill="#866654" fill-opacity="0.26"/><rect x="1021.8" y="69.5" width="2.7" height="66.9" fill="#a88070" fill-opacity="0.35"/><rect x="1021.8" y="89.0" width="2.7" height="34.1" fill="#866654" fill-opacity="0.10"/><rect x="1024.5" y="78.0" width="2.9" height="39.7" fill="#a88070" fill-opacity="0.21"/><rect x="1024.5" y="92.9" width="2.9" height="28.0" fill="#866654" fill-opacity="0.26"/><rect x="1027.4" y="77.7" width="2.1" height="44.3" fill="#b08474" fill-opacity="0.39"/><rect x="1027.4" y="87.3" width="2.1" height="31.1" fill="#866654" fill-opacity="0.10"/><rect x="1029.5" y="77.4" width="3.4" height="60.3" fill="#b08474" fill-opacity="0.36"/><rect x="1029.5" y="84.0" width="3.4" height="28.5" fill="#866654" fill-opacity="0.29"/><rect x="1032.9" y="76.6" width="2.6" height="44.8" fill="#a07c6c" fill-opacity="0.36"/><rect x="1032.9" y="87.3" width="2.6" height="23.2" fill="#866654" fill-opacity="0.21"/><rect x="1035.5" y="69.0" width="4.2" height="55.2" fill="#b07c74" fill-opacity="0.29"/><rect x="1035.5" y="90.8" width="4.2" height="25.8" fill="#866654" fill-opacity="0.22"/><rect x="1039.7" y="73.0" width="2.9" height="54.8" fill="#b07c74" fill-opacity="0.22"/><rect x="1039.7" y="84.7" width="2.9" height="35.2" fill="#866654" fill-opacity="0.17"/><rect x="1042.6" y="77.7" width="3.7" height="59.2" fill="#a07c6c" fill-opacity="0.36"/><rect x="1042.6" y="89.8" width="3.7" height="33.3" fill="#866654" fill-opacity="0.08"/><rect x="1046.2" y="75.0" width="4.4" height="50.9" fill="#a88070" fill-opacity="0.39"/><rect x="1046.2" y="86.7" width="4.4" height="32.2" fill="#866654" fill-opacity="0.26"/><rect x="1050.6" y="77.1" width="2.7" height="48.3" fill="#a88070" fill-opacity="0.33"/><rect x="1050.6" y="89.3" width="2.7" height="27.6" fill="#866654" fill-opacity="0.14"/><rect x="1053.3" y="72.1" width="3.4" height="46.6" fill="#a88070" fill-opacity="0.22"/><rect x="1053.3" y="92.9" width="3.4" height="25.7" fill="#866654" fill-opacity="0.23"/><rect x="1056.7" y="73.5" width="2.2" height="58.1" fill="#a88a80" fill-opacity="0.30"/><rect x="1056.7" y="87.5" width="2.2" height="38.3" fill="#866654" fill-opacity="0.21"/><rect x="1058.9" y="75.4" width="2.9" height="56.5" fill="#b07c74" fill-opacity="0.26"/><rect x="1058.9" y="91.4" width="2.9" height="32.4" fill="#866654" fill-opacity="0.11"/><rect x="1061.7" y="71.2" width="2.4" height="59.0" fill="#a88070" fill-opacity="0.32"/><rect x="1061.7" y="86.4" width="2.4" height="32.2" fill="#866654" fill-opacity="0.16"/><rect x="1064.1" y="76.6" width="3.1" height="44.0" fill="#a88a80" fill-opacity="0.31"/><rect x="1064.1" y="90.5" width="3.1" height="24.3" fill="#866654" fill-opacity="0.14"/><rect x="1067.2" y="70.7" width="2.8" height="61.4" fill="#a88a80" fill-opacity="0.34"/><rect x="1067.2" y="92.1" width="2.8" height="19.4" fill="#866654" fill-opacity="0.22"/><rect x="1070.0" y="72.8" width="3.0" height="57.5" fill="#b08474" fill-opacity="0.34"/><rect x="1070.0" y="82.5" width="3.0" height="42.7" fill="#866654" fill-opacity="0.20"/><rect x="1073.0" y="67.7" width="3.3" height="49.3" fill="#b08474" fill-opacity="0.37"/><rect x="1073.0" y="84.6" width="3.3" height="31.1" fill="#866654" fill-opacity="0.15"/><rect x="1076.3" y="72.5" width="2.9" height="58.2" fill="#b07c74" fill-opacity="0.23"/><rect x="1076.3" y="87.3" width="2.9" height="32.9" fill="#866654" fill-opacity="0.28"/><rect x="1079.2" y="68.1" width="2.8" height="72.1" fill="#b08474" fill-opacity="0.28"/><rect x="1079.2" y="83.7" width="2.8" height="28.5" fill="#866654" fill-opacity="0.14"/><rect x="1082.0" y="71.2" width="3.4" height="58.4" fill="#b07c74" fill-opacity="0.26"/><rect x="1082.0" y="93.1" width="3.4" height="24.9" fill="#866654" fill-opacity="0.23"/><rect x="1085.4" y="75.2" width="4.4" height="53.3" fill="#b07c74" fill-opacity="0.41"/><rect x="1085.4" y="85.5" width="4.4" height="34.5" fill="#866654" fill-opacity="0.23"/><rect x="1089.8" y="71.3" width="2.9" height="46.8" fill="#a07c6c" fill-opacity="0.28"/><rect x="1089.8" y="83.1" width="2.9" height="41.7" fill="#866654" fill-opacity="0.15"/><rect x="1092.7" y="77.6" width="2.9" height="53.5" fill="#b07c74" fill-opacity="0.39"/><rect x="1092.7" y="91.1" width="2.9" height="25.8" fill="#866654" fill-opacity="0.20"/><rect x="1095.6" y="76.2" width="2.6" height="63.4" fill="#b08474" fill-opacity="0.23"/><rect x="1095.6" y="84.4" width="2.6" height="33.5" fill="#866654" fill-opacity="0.29"/><rect x="1098.2" y="70.6" width="4.0" height="46.9" fill="#a08478" fill-opacity="0.22"/><rect x="1098.2" y="85.0" width="4.0" height="28.9" fill="#866654" fill-opacity="0.21"/><rect x="1102.2" y="71.1" width="2.8" height="61.1" fill="#a07c6c" fill-opacity="0.39"/><rect x="1102.2" y="87.3" width="2.8" height="27.0" fill="#866654" fill-opacity="0.15"/><rect x="1105.0" y="68.3" width="3.4" height="58.4" fill="#a08478" fill-opacity="0.41"/><rect x="1105.0" y="94.0" width="3.4" height="22.3" fill="#866654" fill-opacity="0.18"/><rect x="1108.5" y="70.5" width="3.5" height="59.6" fill="#a88a80" fill-opacity="0.33"/><rect x="1108.5" y="90.0" width="3.5" height="28.0" fill="#866654" fill-opacity="0.17"/><rect x="1112.0" y="68.9" width="3.7" height="53.1" fill="#a07c6c" fill-opacity="0.39"/><rect x="1112.0" y="93.9" width="3.7" height="18.1" fill="#866654" fill-opacity="0.29"/><rect x="1115.8" y="77.1" width="3.7" height="39.3" fill="#a88070" fill-opacity="0.38"/><rect x="1115.8" y="85.0" width="3.7" height="35.7" fill="#866654" fill-opacity="0.13"/><rect x="1119.5" y="71.7" width="2.1" height="61.0" fill="#a07c6c" fill-opacity="0.38"/><rect x="1119.5" y="82.6" width="2.1" height="41.8" fill="#866654" fill-opacity="0.13"/><rect x="1121.5" y="73.1" width="3.2" height="44.3" fill="#a08478" fill-opacity="0.21"/><rect x="1121.5" y="88.6" width="3.2" height="21.5" fill="#866654" fill-opacity="0.26"/><rect x="1124.7" y="72.8" width="2.8" height="46.5" fill="#a88a80" fill-opacity="0.20"/><rect x="1124.7" y="83.4" width="2.8" height="28.3" fill="#866654" fill-opacity="0.13"/><rect x="1127.6" y="69.4" width="2.1" height="52.5" fill="#b07c74" fill-opacity="0.39"/><rect x="1127.6" y="88.3" width="2.1" height="34.2" fill="#866654" fill-opacity="0.23"/><rect x="1129.7" y="76.2" width="3.3" height="41.6" fill="#a08478" fill-opacity="0.24"/><rect x="1129.7" y="85.6" width="3.3" height="31.3" fill="#866654" fill-opacity="0.17"/><rect x="1133.0" y="75.8" width="3.0" height="53.8" fill="#b08474" fill-opacity="0.30"/><rect x="1133.0" y="88.3" width="3.0" height="29.5" fill="#866654" fill-opacity="0.14"/><rect x="1136.0" y="68.5" width="3.1" height="70.5" fill="#a08478" fill-opacity="0.37"/><rect x="1136.0" y="84.3" width="3.1" height="34.9" fill="#866654" fill-opacity="0.22"/><rect x="1139.0" y="75.2" width="3.6" height="52.5" fill="#a08478" fill-opacity="0.21"/><rect x="1139.0" y="92.0" width="3.6" height="27.5" fill="#866654" fill-opacity="0.09"/><rect x="1142.6" y="68.2" width="2.5" height="58.3" fill="#a88070" fill-opacity="0.24"/><rect x="1142.6" y="93.7" width="2.5" height="30.7" fill="#866654" fill-opacity="0.18"/><rect x="1145.1" y="69.3" width="2.7" height="60.5" fill="#a88a80" fill-opacity="0.26"/><rect x="1145.1" y="88.8" width="2.7" height="27.8" fill="#866654" fill-opacity="0.17"/><rect x="1147.8" y="72.0" width="3.8" height="68.5" fill="#a88070" fill-opacity="0.26"/><rect x="1147.8" y="84.6" width="3.8" height="30.8" fill="#866654" fill-opacity="0.20"/><rect x="1151.6" y="72.8" width="3.0" height="68.8" fill="#a07c6c" fill-opacity="0.35"/><rect x="1151.6" y="92.5" width="3.0" height="33.1" fill="#866654" fill-opacity="0.16"/><rect x="1154.6" y="73.8" width="3.5" height="51.7" fill="#a88a80" fill-opacity="0.37"/><rect x="1154.6" y="86.1" width="3.5" height="25.1" fill="#866654" fill-opacity="0.16"/><rect x="1158.1" y="72.2" width="3.6" height="56.6" fill="#a08478" fill-opacity="0.33"/><rect x="1158.1" y="90.2" width="3.6" height="24.7" fill="#866654" fill-opacity="0.13"/><rect x="1161.7" y="70.3" width="4.1" height="44.9" fill="#b08474" fill-opacity="0.24"/><rect x="1161.7" y="82.7" width="4.1" height="35.8" fill="#866654" fill-opacity="0.25"/><rect x="1165.8" y="76.0" width="3.7" height="40.2" fill="#b08474" fill-opacity="0.36"/><rect x="1165.8" y="89.0" width="3.7" height="23.2" fill="#866654" fill-opacity="0.11"/><rect x="1169.4" y="71.1" width="3.5" height="45.0" fill="#b07c74" fill-opacity="0.40"/><rect x="1169.4" y="83.0" width="3.5" height="34.7" fill="#866654" fill-opacity="0.25"/><rect x="1173.0" y="73.2" width="2.6" height="57.1" fill="#a88a80" fill-opacity="0.25"/><rect x="1173.0" y="90.4" width="2.6" height="33.5" fill="#866654" fill-opacity="0.21"/><rect x="1175.6" y="72.8" width="3.8" height="58.2" fill="#a08478" fill-opacity="0.35"/><rect x="1175.6" y="93.3" width="3.8" height="28.4" fill="#866654" fill-opacity="0.26"/><rect x="1179.3" y="72.0" width="2.3" height="50.1" fill="#a08478" fill-opacity="0.26"/><rect x="1179.3" y="84.7" width="2.3" height="33.8" fill="#866654" fill-opacity="0.26"/><rect x="1181.6" y="77.4" width="2.2" height="63.2" fill="#a88a80" fill-opacity="0.29"/><rect x="1181.6" y="85.3" width="2.2" height="30.6" fill="#866654" fill-opacity="0.16"/><rect x="1183.8" y="72.4" width="4.4" height="43.8" fill="#b08474" fill-opacity="0.35"/><rect x="1183.8" y="82.3" width="4.4" height="35.4" fill="#866654" fill-opacity="0.11"/><rect x="1188.2" y="70.5" width="2.4" height="54.1" fill="#a88070" fill-opacity="0.34"/><rect x="1188.2" y="89.7" width="2.4" height="29.0" fill="#866654" fill-opacity="0.23"/><rect x="1190.5" y="74.8" width="2.3" height="40.8" fill="#a88070" fill-opacity="0.26"/><rect x="1190.5" y="93.3" width="2.3" height="22.3" fill="#866654" fill-opacity="0.15"/><rect x="1192.9" y="73.7" width="4.3" height="43.3" fill="#b07c74" fill-opacity="0.28"/><rect x="1192.9" y="85.3" width="4.3" height="32.3" fill="#866654" fill-opacity="0.14"/><rect x="1197.2" y="68.6" width="3.5" height="47.1" fill="#b08474" fill-opacity="0.34"/><rect x="1197.2" y="90.1" width="3.5" height="35.9" fill="#866654" fill-opacity="0.24"/><rect x="1200.7" y="67.8" width="4.2" height="56.9" fill="#a07c6c" fill-opacity="0.30"/><rect x="1200.7" y="84.9" width="4.2" height="28.0" fill="#866654" fill-opacity="0.22"/><rect x="1204.8" y="75.4" width="2.0" height="52.6" fill="#a88070" fill-opacity="0.24"/><rect x="1204.8" y="92.9" width="2.0" height="17.8" fill="#866654" fill-opacity="0.13"/><rect x="1206.9" y="76.8" width="4.0" height="45.4" fill="#a88a80" fill-opacity="0.22"/><rect x="1206.9" y="93.0" width="4.0" height="20.9" fill="#866654" fill-opacity="0.20"/><rect x="1210.9" y="74.6" width="2.3" height="41.8" fill="#a08478" fill-opacity="0.33"/><rect x="1210.9" y="82.6" width="2.3" height="35.6" fill="#866654" fill-opacity="0.20"/><rect x="1213.1" y="77.1" width="3.0" height="40.2" fill="#b08474" fill-opacity="0.30"/><rect x="1213.1" y="82.6" width="3.0" height="42.7" fill="#866654" fill-opacity="0.12"/><rect x="1216.1" y="77.4" width="4.0" height="48.4" fill="#a07c6c" fill-opacity="0.39"/><rect x="1216.1" y="83.9" width="4.0" height="35.6" fill="#866654" fill-opacity="0.11"/><rect x="1220.2" y="67.3" width="2.9" height="60.4" fill="#a88a80" fill-opacity="0.34"/><rect x="1220.2" y="89.6" width="2.9" height="36.1" fill="#866654" fill-opacity="0.18"/><rect x="1223.0" y="71.8" width="2.5" height="57.2" fill="#a88070" fill-opacity="0.34"/><rect x="1223.0" y="91.9" width="2.5" height="28.1" fill="#866654" fill-opacity="0.09"/><rect x="1225.5" y="76.2" width="2.8" height="56.3" fill="#b07c74" fill-opacity="0.33"/><rect x="1225.5" y="85.2" width="2.8" height="32.2" fill="#866654" fill-opacity="0.18"/><rect x="1228.3" y="73.8" width="3.3" height="68.9" fill="#b08474" fill-opacity="0.24"/><rect x="1228.3" y="93.4" width="3.3" height="28.7" fill="#866654" fill-opacity="0.17"/><rect x="1231.6" y="76.9" width="3.3" height="51.6" fill="#a88070" fill-opacity="0.41"/><rect x="1231.6" y="87.2" width="3.3" height="30.2" fill="#866654" fill-opacity="0.19"/><rect x="1234.8" y="75.2" width="2.2" height="54.8" fill="#b07c74" fill-opacity="0.41"/><rect x="1234.8" y="90.4" width="2.2" height="25.5" fill="#866654" fill-opacity="0.26"/><rect x="1237.1" y="68.6" width="2.9" height="58.3" fill="#a07c6c" fill-opacity="0.29"/><rect x="1237.1" y="90.5" width="2.9" height="31.1" fill="#866654" fill-opacity="0.12"/><rect x="1239.9" y="70.4" width="2.7" height="70.3" fill="#b08474" fill-opacity="0.41"/><rect x="1239.9" y="90.0" width="2.7" height="30.6" fill="#866654" fill-opacity="0.17"/><rect x="1242.6" y="72.0" width="2.1" height="45.1" fill="#a88a80" fill-opacity="0.28"/><rect x="1242.6" y="85.8" width="2.1" height="30.7" fill="#866654" fill-opacity="0.24"/><rect x="1244.7" y="75.6" width="4.3" height="48.9" fill="#a08478" fill-opacity="0.34"/><rect x="1244.7" y="87.3" width="4.3" height="24.2" fill="#866654" fill-opacity="0.08"/><rect x="1249.0" y="72.4" width="2.1" height="62.5" fill="#a88a80" fill-opacity="0.31"/><rect x="1249.0" y="93.6" width="2.1" height="30.4" fill="#866654" fill-opacity="0.22"/><rect x="1251.1" y="69.5" width="3.4" height="65.1" fill="#a88a80" fill-opacity="0.38"/><rect x="1251.1" y="89.2" width="3.4" height="28.6" fill="#866654" fill-opacity="0.25"/><rect x="1254.5" y="69.3" width="2.2" height="52.3" fill="#a08478" fill-opacity="0.28"/><rect x="1254.5" y="92.7" width="2.2" height="25.9" fill="#866654" fill-opacity="0.22"/><rect x="1256.7" y="69.3" width="3.6" height="54.1" fill="#a08478" fill-opacity="0.26"/><rect x="1256.7" y="88.1" width="3.6" height="24.5" fill="#866654" fill-opacity="0.17"/><rect x="1260.3" y="71.0" width="3.2" height="69.5" fill="#a07c6c" fill-opacity="0.40"/><rect x="1260.3" y="89.4" width="3.2" height="33.3" fill="#866654" fill-opacity="0.11"/><rect x="1263.5" y="74.7" width="2.5" height="66.9" fill="#a08478" fill-opacity="0.24"/><rect x="1263.5" y="85.3" width="2.5" height="34.6" fill="#866654" fill-opacity="0.08"/><rect x="1266.0" y="68.3" width="2.9" height="47.4" fill="#a88070" fill-opacity="0.28"/><rect x="1266.0" y="93.5" width="2.9" height="19.3" fill="#866654" fill-opacity="0.26"/><rect x="1268.9" y="72.0" width="4.2" height="60.2" fill="#a88070" fill-opacity="0.31"/><rect x="1268.9" y="92.9" width="4.2" height="31.4" fill="#866654" fill-opacity="0.24"/><rect x="1273.1" y="77.1" width="2.7" height="47.8" fill="#a08478" fill-opacity="0.22"/><rect x="1273.1" y="84.2" width="2.7" height="30.7" fill="#866654" fill-opacity="0.28"/><rect x="1275.8" y="74.7" width="4.1" height="70.1" fill="#b08474" fill-opacity="0.39"/><rect x="1275.8" y="89.6" width="4.1" height="33.2" fill="#866654" fill-opacity="0.22"/><rect x="1280.0" y="68.7" width="4.1" height="63.1" fill="#a88070" fill-opacity="0.22"/><rect x="1280.0" y="88.1" width="4.1" height="36.7" fill="#866654" fill-opacity="0.29"/><rect x="1284.1" y="73.8" width="4.4" height="47.6" fill="#a08478" fill-opacity="0.36"/><rect x="1284.1" y="85.7" width="4.4" height="36.5" fill="#866654" fill-opacity="0.25"/><rect x="1288.5" y="68.6" width="2.9" height="47.7" fill="#b07c74" fill-opacity="0.21"/><rect x="1288.5" y="87.9" width="2.9" height="28.8" fill="#866654" fill-opacity="0.16"/><rect x="1291.3" y="70.3" width="3.7" height="70.8" fill="#a88070" fill-opacity="0.20"/><rect x="1291.3" y="92.8" width="3.7" height="22.9" fill="#866654" fill-opacity="0.27"/><rect x="1295.0" y="70.3" width="2.4" height="54.9" fill="#a88070" fill-opacity="0.32"/><rect x="1295.0" y="93.9" width="2.4" height="19.8" fill="#866654" fill-opacity="0.24"/><rect x="1297.4" y="75.9" width="3.9" height="56.9" fill="#a08478" fill-opacity="0.35"/><rect x="1297.4" y="86.9" width="3.9" height="33.6" fill="#866654" fill-opacity="0.26"/><rect x="1301.2" y="77.2" width="2.8" height="49.6" fill="#a88070" fill-opacity="0.24"/><rect x="1301.2" y="89.9" width="2.8" height="20.8" fill="#866654" fill-opacity="0.23"/><rect x="1304.1" y="71.6" width="2.9" height="62.4" fill="#a88070" fill-opacity="0.32"/><rect x="1304.1" y="83.0" width="2.9" height="40.3" fill="#866654" fill-opacity="0.24"/><rect x="1307.0" y="74.3" width="2.4" height="51.9" fill="#b08474" fill-opacity="0.32"/><rect x="1307.0" y="83.6" width="2.4" height="30.2" fill="#866654" fill-opacity="0.23"/><rect x="1309.5" y="72.0" width="3.7" height="59.6" fill="#a88070" fill-opacity="0.20"/><rect x="1309.5" y="91.0" width="3.7" height="23.2" fill="#866654" fill-opacity="0.20"/><rect x="1313.2" y="69.5" width="2.8" height="48.0" fill="#a08478" fill-opacity="0.41"/><rect x="1313.2" y="86.7" width="2.8" height="39.2" fill="#866654" fill-opacity="0.22"/><rect x="1316.0" y="72.1" width="3.9" height="59.3" fill="#a07c6c" fill-opacity="0.21"/><rect x="1316.0" y="82.0" width="3.9" height="40.7" fill="#866654" fill-opacity="0.16"/><rect x="1319.9" y="68.7" width="2.8" height="65.2" fill="#a88a80" fill-opacity="0.25"/><rect x="1319.9" y="93.4" width="2.8" height="21.6" fill="#866654" fill-opacity="0.20"/><rect x="1322.7" y="76.5" width="3.2" height="59.4" fill="#a07c6c" fill-opacity="0.34"/><rect x="1322.7" y="85.5" width="3.2" height="33.7" fill="#866654" fill-opacity="0.20"/><rect x="1325.9" y="70.5" width="3.4" height="73.4" fill="#a07c6c" fill-opacity="0.40"/><rect x="1325.9" y="90.7" width="3.4" height="33.6" fill="#866654" fill-opacity="0.27"/><rect x="1329.4" y="72.8" width="3.4" height="47.2" fill="#a88070" fill-opacity="0.28"/><rect x="1329.4" y="90.8" width="3.4" height="34.9" fill="#866654" fill-opacity="0.18"/><rect x="1332.7" y="76.8" width="4.4" height="47.4" fill="#a88070" fill-opacity="0.24"/><rect x="1332.7" y="85.7" width="4.4" height="31.6" fill="#866654" fill-opacity="0.25"/><rect x="1337.2" y="71.1" width="2.2" height="47.2" fill="#a07c6c" fill-opacity="0.32"/><rect x="1337.2" y="88.7" width="2.2" height="35.6" fill="#866654" fill-opacity="0.20"/><rect x="1339.4" y="78.0" width="2.8" height="50.1" fill="#a08478" fill-opacity="0.40"/><rect x="1339.4" y="88.9" width="2.8" height="34.3" fill="#866654" fill-opacity="0.19"/><rect x="1342.1" y="70.1" width="2.6" height="69.2" fill="#b07c74" fill-opacity="0.29"/><rect x="1342.1" y="82.6" width="2.6" height="39.9" fill="#866654" fill-opacity="0.12"/><rect x="1344.8" y="70.2" width="2.8" height="62.0" fill="#a08478" fill-opacity="0.30"/><rect x="1344.8" y="87.4" width="2.8" height="26.0" fill="#866654" fill-opacity="0.14"/><rect x="1347.6" y="69.9" width="3.9" height="70.9" fill="#b07c74" fill-opacity="0.20"/><rect x="1347.6" y="84.7" width="3.9" height="31.4" fill="#866654" fill-opacity="0.23"/><rect x="1351.4" y="74.6" width="2.3" height="45.7" fill="#a88070" fill-opacity="0.24"/><rect x="1351.4" y="87.0" width="2.3" height="36.3" fill="#866654" fill-opacity="0.29"/><rect x="1353.8" y="67.2" width="3.5" height="54.4" fill="#a88a80" fill-opacity="0.34"/><rect x="1353.8" y="87.7" width="3.5" height="37.3" fill="#866654" fill-opacity="0.28"/><rect x="1357.2" y="73.5" width="3.5" height="59.6" fill="#a88a80" fill-opacity="0.36"/><rect x="1357.2" y="82.4" width="3.5" height="28.1" fill="#866654" fill-opacity="0.14"/><rect x="1360.8" y="73.4" width="2.0" height="58.3" fill="#b07c74" fill-opacity="0.22"/><rect x="1360.8" y="92.8" width="2.0" height="27.3" fill="#866654" fill-opacity="0.12"/><rect x="1362.8" y="69.4" width="2.0" height="48.5" fill="#a88070" fill-opacity="0.30"/><rect x="1362.8" y="88.9" width="2.0" height="22.7" fill="#866654" fill-opacity="0.21"/><rect x="1364.8" y="76.0" width="2.1" height="43.2" fill="#a88070" fill-opacity="0.34"/><rect x="1364.8" y="84.0" width="2.1" height="27.9" fill="#866654" fill-opacity="0.12"/><rect x="1367.0" y="70.6" width="2.6" height="45.9" fill="#a88a80" fill-opacity="0.34"/><rect x="1367.0" y="91.5" width="2.6" height="22.5" fill="#866654" fill-opacity="0.10"/><rect x="1369.6" y="69.1" width="3.2" height="62.2" fill="#a88a80" fill-opacity="0.38"/><rect x="1369.6" y="85.7" width="3.2" height="30.3" fill="#866654" fill-opacity="0.20"/><rect x="1372.8" y="70.4" width="4.4" height="56.5" fill="#a07c6c" fill-opacity="0.41"/><rect x="1372.8" y="88.0" width="4.4" height="24.2" fill="#866654" fill-opacity="0.20"/><rect x="1377.2" y="77.0" width="2.7" height="45.6" fill="#a88070" fill-opacity="0.40"/><rect x="1377.2" y="93.4" width="2.7" height="19.6" fill="#866654" fill-opacity="0.21"/><rect x="1379.9" y="74.0" width="4.3" height="58.2" fill="#a07c6c" fill-opacity="0.21"/><rect x="1379.9" y="84.3" width="4.3" height="31.7" fill="#866654" fill-opacity="0.22"/><rect x="1384.2" y="69.2" width="3.1" height="51.9" fill="#a88a80" fill-opacity="0.23"/><rect x="1384.2" y="85.1" width="3.1" height="37.8" fill="#866654" fill-opacity="0.28"/><rect x="1387.3" y="76.1" width="3.8" height="54.7" fill="#a88a80" fill-opacity="0.30"/><rect x="1387.3" y="91.1" width="3.8" height="22.2" fill="#866654" fill-opacity="0.26"/><rect x="1391.1" y="68.2" width="2.1" height="48.8" fill="#b07c74" fill-opacity="0.33"/><rect x="1391.1" y="88.2" width="2.1" height="22.2" fill="#866654" fill-opacity="0.27"/><rect x="1393.2" y="68.4" width="2.1" height="65.0" fill="#b08474" fill-opacity="0.40"/><rect x="1393.2" y="88.2" width="2.1" height="30.4" fill="#866654" fill-opacity="0.14"/><rect x="1395.2" y="75.9" width="3.9" height="53.0" fill="#a88070" fill-opacity="0.36"/><rect x="1395.2" y="84.1" width="3.9" height="41.4" fill="#866654" fill-opacity="0.28"/><rect x="1399.2" y="77.0" width="3.7" height="52.5" fill="#a88a80" fill-opacity="0.20"/><rect x="1399.2" y="82.0" width="3.7" height="42.3" fill="#866654" fill-opacity="0.13"/><rect x="1402.8" y="74.4" width="3.8" height="44.9" fill="#a88070" fill-opacity="0.37"/><rect x="1402.8" y="84.0" width="3.8" height="29.1" fill="#866654" fill-opacity="0.17"/><rect x="1406.6" y="76.4" width="4.1" height="63.0" fill="#a07c6c" fill-opacity="0.39"/><rect x="1406.6" y="84.6" width="4.1" height="41.3" fill="#866654" fill-opacity="0.12"/><rect x="1410.7" y="68.2" width="3.2" height="53.8" fill="#a88070" fill-opacity="0.36"/><rect x="1410.7" y="87.5" width="3.2" height="29.4" fill="#866654" fill-opacity="0.24"/><rect x="1413.9" y="74.8" width="3.7" height="55.9" fill="#b07c74" fill-opacity="0.29"/><rect x="1413.9" y="91.0" width="3.7" height="33.2" fill="#866654" fill-opacity="0.25"/><rect x="1417.6" y="77.6" width="4.0" height="42.2" fill="#a07c6c" fill-opacity="0.27"/><rect x="1417.6" y="93.8" width="4.0" height="28.2" fill="#866654" fill-opacity="0.27"/><rect x="1421.6" y="68.8" width="4.1" height="58.6" fill="#b08474" fill-opacity="0.37"/><rect x="1421.6" y="88.4" width="4.1" height="23.6" fill="#866654" fill-opacity="0.27"/><rect x="1425.7" y="67.4" width="3.5" height="60.0" fill="#a08478" fill-opacity="0.21"/><rect x="1425.7" y="82.4" width="3.5" height="42.1" fill="#866654" fill-opacity="0.24"/><rect x="1429.1" y="76.2" width="3.3" height="41.6" fill="#b07c74" fill-opacity="0.35"/><rect x="1429.1" y="87.2" width="3.3" height="31.6" fill="#866654" fill-opacity="0.27"/><rect x="1432.5" y="70.2" width="2.3" height="63.8" fill="#a08478" fill-opacity="0.38"/><rect x="1432.5" y="90.2" width="2.3" height="33.9" fill="#866654" fill-opacity="0.24"/><rect x="1434.7" y="75.4" width="3.1" height="39.9" fill="#a88a80" fill-opacity="0.39"/><rect x="1434.7" y="89.8" width="3.1" height="28.7" fill="#866654" fill-opacity="0.26"/><rect x="1437.9" y="72.1" width="2.2" height="60.5" fill="#a08478" fill-opacity="0.34"/><rect x="1437.9" y="90.6" width="2.2" height="33.0" fill="#866654" fill-opacity="0.19"/><rect x="1440.1" y="75.0" width="2.1" height="41.0" fill="#a07c6c" fill-opacity="0.26"/><rect x="1440.1" y="85.9" width="2.1" height="33.7" fill="#866654" fill-opacity="0.21"/><rect x="1442.2" y="73.3" width="2.3" height="44.3" fill="#b08474" fill-opacity="0.27"/><rect x="1442.2" y="82.7" width="2.3" height="40.3" fill="#866654" fill-opacity="0.13"/><rect x="1444.5" y="69.1" width="3.5" height="47.0" fill="#a88a80" fill-opacity="0.31"/><rect x="1444.5" y="83.8" width="3.5" height="27.0" fill="#866654" fill-opacity="0.22"/><rect x="1448.0" y="68.8" width="2.2" height="73.8" fill="#a07c6c" fill-opacity="0.26"/><rect x="1448.0" y="90.7" width="2.2" height="30.2" fill="#866654" fill-opacity="0.18"/><rect x="1450.2" y="70.6" width="4.0" height="44.4" fill="#b07c74" fill-opacity="0.36"/><rect x="1450.2" y="89.1" width="4.0" height="22.5" fill="#866654" fill-opacity="0.29"/><rect x="1454.1" y="72.0" width="3.1" height="53.1" fill="#a88070" fill-opacity="0.40"/><rect x="1454.1" y="85.1" width="3.1" height="25.2" fill="#866654" fill-opacity="0.12"/><rect x="1457.2" y="69.4" width="3.6" height="74.0" fill="#b08474" fill-opacity="0.28"/><rect x="1457.2" y="82.6" width="3.6" height="32.9" fill="#866654" fill-opacity="0.24"/><rect x="1460.8" y="74.2" width="2.5" height="63.4" fill="#a88a80" fill-opacity="0.39"/><rect x="1460.8" y="85.2" width="2.5" height="33.9" fill="#866654" fill-opacity="0.19"/><rect x="1463.3" y="73.1" width="3.5" height="49.7" fill="#a88a80" fill-opacity="0.29"/><rect x="1463.3" y="83.8" width="3.5" height="31.3" fill="#866654" fill-opacity="0.19"/><rect x="1466.7" y="73.4" width="4.2" height="55.0" fill="#b08474" fill-opacity="0.34"/><rect x="1466.7" y="93.0" width="4.2" height="32.8" fill="#866654" fill-opacity="0.19"/><rect x="1470.9" y="76.1" width="3.4" height="45.3" fill="#a88a80" fill-opacity="0.36"/><rect x="1470.9" y="91.9" width="3.4" height="18.2" fill="#866654" fill-opacity="0.26"/><rect x="1474.3" y="67.3" width="2.7" height="62.3" fill="#b08474" fill-opacity="0.34"/><rect x="1474.3" y="86.8" width="2.7" height="27.2" fill="#866654" fill-opacity="0.23"/><rect x="1368.4" y="112" width="2.8" height="25.1" fill="#b89890" fill-opacity="0.05"/><rect x="1029.5" y="112" width="2.9" height="20.4" fill="#a89088" fill-opacity="0.07"/><rect x="1355.6" y="112" width="3.7" height="35.4" fill="#b89890" fill-opacity="0.17"/><rect x="1248.4" y="112" width="2.1" height="17.8" fill="#a08078" fill-opacity="0.14"/><rect x="1136.4" y="112" width="2.4" height="20.4" fill="#a08078" fill-opacity="0.18"/><rect x="1295.1" y="112" width="3.3" height="26.2" fill="#b08880" fill-opacity="0.08"/><rect x="1443.7" y="112" width="4.1" height="32.3" fill="#a08078" fill-opacity="0.10"/><rect x="1313.1" y="112" width="4.4" height="39.7" fill="#a08078" fill-opacity="0.11"/><rect x="1271.8" y="112" width="4.5" height="32.2" fill="#a89088" fill-opacity="0.14"/><rect x="1398.1" y="112" width="4.9" height="25.2" fill="#b89890" fill-opacity="0.12"/><rect x="1423.4" y="112" width="2.9" height="30.5" fill="#a08078" fill-opacity="0.06"/><rect x="981.9" y="112" width="2.6" height="41.1" fill="#b89890" fill-opacity="0.09"/><rect x="1219.0" y="112" width="4.0" height="35.5" fill="#b08880" fill-opacity="0.06"/><rect x="1068.7" y="112" width="3.4" height="28.7" fill="#a89088" fill-opacity="0.16"/><rect x="1055.0" y="112" width="2.9" height="28.1" fill="#a08078" fill-opacity="0.11"/><rect x="1306.4" y="112" width="3.5" height="22.6" fill="#a89088" fill-opacity="0.11"/><rect x="946.4" y="112" width="3.3" height="29.3" fill="#a89088" fill-opacity="0.17"/><rect x="1056.4" y="112" width="3.0" height="26.2" fill="#a08078" fill-opacity="0.07"/><rect x="1080.2" y="112" width="3.9" height="33.4" fill="#b08880" fill-opacity="0.07"/><rect x="1131.5" y="112" width="4.4" height="37.5" fill="#a89088" fill-opacity="0.13"/><rect x="1164.9" y="112" width="3.6" height="36.6" fill="#a89088" fill-opacity="0.15"/><rect x="1098.2" y="112" width="3.8" height="21.4" fill="#b08880" fill-opacity="0.05"/><rect x="1219.7" y="112" width="4.2" height="39.6" fill="#a08078" fill-opacity="0.05"/><rect x="1225.2" y="112" width="5.0" height="16.8" fill="#b89890" fill-opacity="0.07"/><rect x="1028.3" y="112" width="3.8" height="23.1" fill="#a08078" fill-opacity="0.09"/><rect x="1246.1" y="112" width="3.9" height="33.5" fill="#a08078" fill-opacity="0.17"/><rect x="1420.9" y="112" width="3.1" height="35.0" fill="#a89088" fill-opacity="0.08"/><rect x="995.1" y="112" width="2.6" height="21.0" fill="#b89890" fill-opacity="0.06"/><rect x="1075.8" y="112" width="2.3" height="33.8" fill="#a89088" fill-opacity="0.14"/><rect x="1036.6" y="112" width="3.7" height="21.6" fill="#a08078" fill-opacity="0.13"/><rect x="1048.5" y="112" width="2.4" height="30.1" fill="#b89890" fill-opacity="0.17"/><rect x="1035.9" y="112" width="3.1" height="27.9" fill="#b89890" fill-opacity="0.17"/><rect x="1172.7" y="112" width="3.9" height="22.5" fill="#b08880" fill-opacity="0.05"/><rect x="1226.0" y="112" width="3.0" height="21.6" fill="#a89088" fill-opacity="0.08"/><rect x="1152.5" y="112" width="3.3" height="18.7" fill="#b89890" fill-opacity="0.14"/><rect x="1167.3" y="112" width="4.0" height="27.4" fill="#a89088" fill-opacity="0.17"/><rect x="1110.6" y="112" width="4.9" height="17.8" fill="#a89088" fill-opacity="0.17"/><rect x="1307.4" y="112" width="3.2" height="25.1" fill="#a08078" fill-opacity="0.18"/><rect x="1436.7" y="112" width="4.9" height="41.3" fill="#b08880" fill-opacity="0.06"/><rect x="1182.7" y="112" width="4.1" height="36.3" fill="#a89088" fill-opacity="0.18"/><rect x="1331.3" y="112" width="3.2" height="37.5" fill="#b89890" fill-opacity="0.13"/><rect x="1252.1" y="112" width="4.3" height="34.1" fill="#a08078" fill-opacity="0.13"/><rect x="1155.5" y="112" width="4.1" height="18.5" fill="#a89088" fill-opacity="0.07"/><rect x="1331.6" y="112" width="3.9" height="17.8" fill="#b08880" fill-opacity="0.10"/><rect x="1148.0" y="112" width="4.5" height="19.6" fill="#a08078" fill-opacity="0.07"/><rect x="933.3" y="112" width="3.2" height="31.2" fill="#a89088" fill-opacity="0.15"/><rect x="1092.8" y="112" width="2.4" height="18.0" fill="#a89088" fill-opacity="0.08"/><rect x="1036.7" y="112" width="3.0" height="36.1" fill="#b89890" fill-opacity="0.06"/><rect x="1326.4" y="112" width="4.3" height="29.4" fill="#b89890" fill-opacity="0.18"/><rect x="1214.4" y="112" width="2.9" height="18.5" fill="#a89088" fill-opacity="0.18"/><rect x="1060.9" y="112" width="4.1" height="26.8" fill="#a08078" fill-opacity="0.09"/><rect x="1195.0" y="112" width="4.8" height="19.9" fill="#a89088" fill-opacity="0.06"/><rect x="947.8" y="112" width="4.3" height="15.5" fill="#a08078" fill-opacity="0.07"/><rect x="1138.2" y="112" width="3.9" height="27.7" fill="#a89088" fill-opacity="0.11"/><rect x="969.3" y="112" width="3.8" height="28.9" fill="#a89088" fill-opacity="0.07"/><rect x="1190.0" y="112" width="4.4" height="23.5" fill="#a08078" fill-opacity="0.11"/><rect x="1346.4" y="112" width="2.4" height="31.5" fill="#a08078" fill-opacity="0.09"/><rect x="967.0" y="112" width="2.1" height="37.0" fill="#a08078" fill-opacity="0.15"/><rect x="1104.0" y="112" width="2.9" height="15.6" fill="#a89088" fill-opacity="0.10"/><rect x="1270.7" y="112" width="3.0" height="32.7" fill="#a89088" fill-opacity="0.06"/><rect x="1263.6" y="112" width="4.5" height="19.0" fill="#a89088" fill-opacity="0.05"/><rect x="1406.2" y="112" width="2.9" height="19.3" fill="#b08880" fill-opacity="0.10"/><rect x="1371.0" y="112" width="2.9" height="32.6" fill="#a89088" fill-opacity="0.15"/><rect x="1437.7" y="112" width="2.2" height="37.5" fill="#a08078" fill-opacity="0.14"/><rect x="1307.1" y="112" width="4.3" height="20.0" fill="#a08078" fill-opacity="0.09"/><rect x="1085.5" y="112" width="5.0" height="39.8" fill="#a89088" fill-opacity="0.06"/><rect x="1116.8" y="112" width="3.4" height="15.3" fill="#a89088" fill-opacity="0.13"/><rect x="1126.7" y="112" width="4.3" height="28.9" fill="#a89088" fill-opacity="0.14"/><rect x="1463.0" y="112" width="4.1" height="30.9" fill="#b89890" fill-opacity="0.08"/><rect x="1074.2" y="112" width="4.0" height="15.6" fill="#a08078" fill-opacity="0.07"/><rect x="1139.6" y="112" width="4.2" height="41.5" fill="#b89890" fill-opacity="0.10"/><rect x="1448.2" y="112" width="2.8" height="28.4" fill="#b89890" fill-opacity="0.10"/><rect x="968.0" y="112" width="4.4" height="39.4" fill="#a08078" fill-opacity="0.07"/><rect x="1376.4" y="112" width="2.4" height="26.1" fill="#b89890" fill-opacity="0.17"/><rect x="1390.2" y="112" width="3.1" height="15.6" fill="#a08078" fill-opacity="0.15"/><rect x="948.2" y="112" width="2.4" height="15.3" fill="#a08078" fill-opacity="0.14"/><rect x="1390.4" y="112" width="2.7" height="34.6" fill="#a89088" fill-opacity="0.13"/><rect x="1215.0" y="112" width="4.3" height="36.1" fill="#b89890" fill-opacity="0.13"/><rect x="1380.1" y="112" width="2.6" height="38.0" fill="#a08078" fill-opacity="0.08"/><rect x="1413.0" y="112" width="3.5" height="34.7" fill="#a89088" fill-opacity="0.11"/><rect x="1066.2" y="112" width="2.8" height="15.5" fill="#b08880" fill-opacity="0.12"/><rect x="1213.5" y="112" width="3.1" height="28.5" fill="#b08880" fill-opacity="0.10"/><rect x="1295.6" y="112" width="3.0" height="21.8" fill="#b08880" fill-opacity="0.09"/><rect x="940.1" y="112" width="5.0" height="21.4" fill="#b08880" fill-opacity="0.15"/><rect x="1176.2" y="112" width="4.1" height="30.0" fill="#a08078" fill-opacity="0.09"/><rect x="1170.1" y="112" width="4.3" height="23.0" fill="#b89890" fill-opacity="0.09"/><rect x="1319.4" y="112" width="4.5" height="25.9" fill="#b08880" fill-opacity="0.09"/><rect x="1470.7" y="112" width="3.5" height="34.2" fill="#a08078" fill-opacity="0.17"/><rect x="1364.0" y="112" width="4.0" height="17.1" fill="#a89088" fill-opacity="0.09"/><rect x="1150.7" y="112" width="3.7" height="16.8" fill="#b89890" fill-opacity="0.14"/></g>
<g filter="url(#hz2)"><ellipse cx="214" cy="61.5" rx="8" ry="3.8" fill="#d08a84" fill-opacity="0.6"/><ellipse cx="226" cy="62" rx="5" ry="2.5" fill="#e0b0b0" fill-opacity="0.4"/><ellipse cx="945" cy="53.5" rx="15" ry="3.5" fill="#b09090" fill-opacity="0.35"/></g>
<g filter="url(#dotblur)"><circle cx="333.7" cy="203.4" r="5.5" fill="#BDBDBD" fill-opacity="0.92"/><circle cx="320.9" cy="201.0" r="5.5" fill="#BDBDBD" fill-opacity="0.92"/><circle cx="311.1" cy="156.6" r="5.5" fill="#FFAB91" fill-opacity="0.92"/><circle cx="349.8" cy="180.2" r="5.5" fill="#BDBDBD" fill-opacity="0.92"/><circle cx="340.2" cy="196.1" r="5.5" fill="#FFAB91" fill-opacity="0.92"/><circle cx="312.6" cy="188.1" r="5.5" fill="#8BC34A" fill-opacity="0.92"/><circle cx="349.7" cy="207.5" r="5.5" fill="#8BC34A" fill-opacity="0.92"/><circle cx="353.6" cy="187.0" r="5.5" fill="#BDBDBD" fill-opacity="0.92"/><circle cx="323.2" cy="162.4" r="5.5" fill="#8BC34A" fill-opacity="0.92"/><circle cx="322.0" cy="159.9" r="5.5" fill="#FFAB91" fill-opacity="0.92"/><circle cx="340.2" cy="191.0" r="5.5" fill="#FFAB91" fill-opacity="0.92"/><circle cx="349.7" cy="210.2" r="5.5" fill="#8BC34A" fill-opacity="0.92"/><circle cx="328.8" cy="189.3" r="5.5" fill="#BDBDBD" fill-opacity="0.92"/><circle cx="307.8" cy="183.6" r="5.5" fill="#8BC34A" fill-opacity="0.92"/><circle cx="391.0" cy="170.8" r="5.5" fill="#BDBDBD" fill-opacity="0.92"/><circle cx="393.7" cy="183.7" r="5.5" fill="#FFAB91" fill-opacity="0.92"/><circle cx="366.7" cy="162.9" r="5.5" fill="#FFAB91" fill-opacity="0.92"/><circle cx="370.8" cy="187.2" r="5.5" fill="#BDBDBD" fill-opacity="0.92"/><circle cx="372.5" cy="173.8" r="5.5" fill="#FFAB91" fill-opacity="0.92"/><circle cx="374.6" cy="174.9" r="5.5" fill="#FFAB91" fill-opacity="0.92"/><circle cx="433.4" cy="166.3" r="5.5" fill="#FFAB91" fill-opacity="0.92"/><circle cx="425.5" cy="183.6" r="5.5" fill="#8BC34A" fill-opacity="0.92"/><circle cx="440.8" cy="183.2" r="5.5" fill="#FFAB91" fill-opacity="0.92"/><circle cx="431.5" cy="183.7" r="5.5" fill="#8BC34A" fill-opacity="0.92"/><circle cx="460.7" cy="191.9" r="5.5" fill="#BDBDBD" fill-opacity="0.92"/><circle cx="464.4" cy="187.7" r="5.5" fill="#FFAB91" fill-opacity="0.92"/><circle cx="486.1" cy="171.7" r="5.5" fill="#8BC34A" fill-opacity="0.92"/><circle cx="490.7" cy="197.8" r="5.5" fill="#8BC34A" fill-opacity="0.92"/><circle cx="461.6" cy="213.6" r="5.5" fill="#8BC34A" fill-opacity="0.92"/><circle cx="485.8" cy="210.8" r="5.5" fill="#F44336" fill-opacity="0.92"/><circle cx="470.1" cy="170.6" r="5.5" fill="#8BC34A" fill-opacity="0.92"/><circle cx="463.0" cy="202.9" r="5.5" fill="#F44336" fill-opacity="0.92"/><circle cx="468.0" cy="214.8" r="5.5" fill="#8BC34A" fill-opacity="0.92"/><circle cx="462.4" cy="166.5" r="5.5" fill="#BDBDBD" fill-opacity="0.92"/><circle cx="491.3" cy="173.9" r="5.5" fill="#8BC34A" fill-opacity="0.92"/><circle cx="478.4" cy="204.5" r="5.5" fill="#8BC34A" fill-opacity="0.92"/><circle cx="483.2" cy="187.8" r="5.5" fill="#8BC34A" fill-opacity="0.92"/><circle cx="486.4" cy="173.8" r="5.5" fill="#8BC34A" fill-opacity="0.92"/><circle cx="592.2" cy="175.0" r="5.5" fill="#BDBDBD" fill-opacity="0.92"/><circle cx="603.3" cy="157.6" r="5.5" fill="#8BC34A" fill-opacity="0.92"/><circle cx="606.5" cy="217.6" r="5.5" fill="#BDBDBD" fill-opacity="0.92"/><circle cx="569.3" cy="199.3" r="5.5" fill="#BDBDBD" fill-opacity="0.92"/><circle cx="592.4" cy="143.3" r="5.5" fill="#212121" fill-opacity="0.92"/><circle cx="583.5" cy="185.9" r="5.5" fill="#BDBDBD" fill-opacity="0.92"/><circle cx="578.9" cy="164.4" r="5.5" fill="#8BC34A" fill-opacity="0.92"/><circle cx="614.9" cy="200.1" r="5.5" fill="#8BC34A" fill-opacity="0.92"/><circle cx="588.4" cy="175.4" r="5.5" fill="#8BC34A" fill-opacity="0.92"/><circle cx="592.4" cy="181.4" r="5.5" fill="#8BC34A" fill-opacity="0.92"/><circle cx="612.3" cy="211.8" r="5.5" fill="#BDBDBD" fill-opacity="0.92"/><circle cx="604.0" cy="175.4" r="5.5" fill="#BDBDBD" fill-opacity="0.92"/><circle cx="608.2" cy="150.1" r="5.5" fill="#BDBDBD" fill-opacity="0.92"/><circle cx="590.3" cy="140.0" r="5.5" fill="#8BC34A" fill-opacity="0.92"/><circle cx="576.7" cy="139.7" r="5.5" fill="#BDBDBD" fill-opacity="0.92"/><circle cx="583.9" cy="165.6" r="5.5" fill="#8BC34A" fill-opacity="0.92"/><circle cx="580.6" cy="180.9" r="5.5" fill="#FFAB91" fill-opacity="0.92"/><circle cx="568.7" cy="148.1" r="5.5" fill="#FFAB91" fill-opacity="0.92"/><circle cx="610.6" cy="188.6" r="5.5" fill="#212121" fill-opacity="0.92"/><circle cx="572.6" cy="212.6" r="5.5" fill="#212121" fill-opacity="0.92"/><circle cx="639.7" cy="175.6" r="5.5" fill="#2196F3" fill-opacity="0.92"/><circle cx="637.2" cy="143.3" r="5.5" fill="#8BC34A" fill-opacity="0.92"/><circle cx="635.7" cy="173.5" r="5.5" fill="#8BC34A" fill-opacity="0.92"/><circle cx="634.5" cy="145.5" r="5.5" fill="#BDBDBD" fill-opacity="0.92"/><circle cx="624.5" cy="168.1" r="5.5" fill="#BDBDBD" fill-opacity="0.92"/><circle cx="631.2" cy="216.9" r="5.5" fill="#8BC34A" fill-opacity="0.92"/><circle cx="627.5" cy="141.6" r="5.5" fill="#2196F3" fill-opacity="0.92"/><circle cx="620.7" cy="198.0" r="5.5" fill="#8BC34A" fill-opacity="0.92"/><circle cx="632.2" cy="206.7" r="5.5" fill="#2196F3" fill-opacity="0.92"/><circle cx="625.8" cy="166.4" r="5.5" fill="#BDBDBD" fill-opacity="0.92"/><circle cx="665.9" cy="199.3" r="5.5" fill="#BDBDBD" fill-opacity="0.92"/><circle cx="653.7" cy="175.2" r="5.5" fill="#FFAB91" fill-opacity="0.92"/><circle cx="661.1" cy="177.2" r="5.5" fill="#FFAB91" fill-opacity="0.92"/><circle cx="655.0" cy="170.6" r="5.5" fill="#FFAB91" fill-opacity="0.92"/><circle cx="670.5" cy="194.3" r="5.5" fill="#FFAB91" fill-opacity="0.92"/><circle cx="664.3" cy="169.0" r="5.5" fill="#8BC34A" fill-opacity="0.92"/><circle cx="656.4" cy="180.0" r="5.5" fill="#FFAB91" fill-opacity="0.92"/><circle cx="658.7" cy="198.4" r="5.5" fill="#F44336" fill-opacity="0.92"/><circle cx="657.3" cy="171.9" r="5.5" fill="#FFAB91" fill-opacity="0.92"/><circle cx="669.0" cy="183.8" r="5.5" fill="#BDBDBD" fill-opacity="0.92"/><circle cx="728.1" cy="165.8" r="5.5" fill="#8BC34A" fill-opacity="0.92"/><circle cx="697.2" cy="196.0" r="5.5" fill="#BDBDBD" fill-opacity="0.92"/><circle cx="720.5" cy="167.0" r="5.5" fill="#212121" fill-opacity="0.92"/><circle cx="710.2" cy="168.0" r="5.5" fill="#8BC34A" fill-opacity="0.92"/><circle cx="721.4" cy="158.6" r="5.5" fill="#BDBDBD" fill-opacity="0.92"/><circle cx="708.3" cy="171.6" r="5.5" fill="#212121" fill-opacity="0.92"/><circle cx="687.3" cy="148.5" r="5.5" fill="#F44336" fill-opacity="0.92"/><circle cx="690.3" cy="146.3" r="5.5" fill="#8BC34A" fill-opacity="0.92"/><circle cx="703.3" cy="151.4" r="5.5" fill="#212121" fill-opacity="0.92"/><circle cx="690.1" cy="161.7" r="5.5" fill="#2196F3" fill-opacity="0.92"/><circle cx="706.9" cy="150.1" r="5.5" fill="#BDBDBD" fill-opacity="0.92"/><circle cx="719.0" cy="159.8" r="5.5" fill="#2196F3" fill-opacity="0.92"/><circle cx="701.0" cy="176.1" r="5.5" fill="#FFAB91" fill-opacity="0.92"/><circle cx="693.2" cy="147.3" r="5.5" fill="#2196F3" fill-opacity="0.92"/><circle cx="751.4" cy="213.9" r="5.5" fill="#BDBDBD" fill-opacity="0.92"/><circle cx="733.3" cy="163.9" r="5.5" fill="#BDBDBD" fill-opacity="0.92"/><circle cx="754.4" cy="178.4" r="5.5" fill="#BDBDBD" fill-opacity="0.92"/><circle cx="758.1" cy="170.0" r="5.5" fill="#FFAB91" fill-opacity="0.92"/><circle cx="755.8" cy="150.8" r="5.5" fill="#8BC34A" fill-opacity="0.92"/><circle cx="745.4" cy="172.9" r="5.5" fill="#2196F3" fill-opacity="0.92"/><circle cx="739.1" cy="189.7" r="5.5" fill="#BDBDBD" fill-opacity="0.92"/><circle cx="740.7" cy="200.2" r="5.5" fill="#FFAB91" fill-opacity="0.92"/><circle cx="751.3" cy="163.8" r="5.5" fill="#FFAB91" fill-opacity="0.92"/><circle cx="754.9" cy="197.9" r="5.5" fill="#FFAB91" fill-opacity="0.92"/><circle cx="773.0" cy="191.2" r="5.5" fill="#FFAB91" fill-opacity="0.92"/><circle cx="767.5" cy="192.8" r="5.5" fill="#F44336" fill-opacity="0.92"/><circle cx="790.3" cy="200.8" r="5.5" fill="#FFAB91" fill-opacity="0.92"/><circle cx="790.8" cy="202.9" r="5.5" fill="#8BC34A" fill-opacity="0.92"/><circle cx="769.6" cy="207.1" r="5.5" fill="#FFAB91" fill-opacity="0.92"/><circle cx="773.0" cy="176.1" r="5.5" fill="#FFAB91" fill-opacity="0.92"/><circle cx="776.7" cy="206.7" r="5.5" fill="#212121" fill-opacity="0.92"/><circle cx="776.4" cy="175.1" r="5.5" fill="#212121" fill-opacity="0.92"/><circle cx="795.0" cy="182.0" r="5.5" fill="#FFAB91" fill-opacity="0.92"/><circle cx="768.4" cy="206.8" r="5.5" fill="#FFAB91" fill-opacity="0.92"/><circle cx="811.2" cy="189.7" r="5.5" fill="#2196F3" fill-opacity="0.92"/><circle cx="810.4" cy="168.9" r="5.5" fill="#2196F3" fill-opacity="0.92"/><circle cx="811.9" cy="155.9" r="5.5" fill="#2196F3" fill-opacity="0.92"/><circle cx="813.5" cy="152.2" r="5.5" fill="#2196F3" fill-opacity="0.92"/><circle cx="820.2" cy="175.9" r="5.5" fill="#8BC34A" fill-opacity="0.92"/><circle cx="996.2" cy="180.1" r="5.5" fill="#8BC34A" fill-opacity="0.92"/><circle cx="1006.2" cy="166.4" r="5.5" fill="#BDBDBD" fill-opacity="0.92"/><circle cx="990.6" cy="186.5" r="5.5" fill="#BDBDBD" fill-opacity="0.92"/><circle cx="1002.2" cy="167.9" r="5.5" fill="#FFAB91" fill-opacity="0.92"/><circle cx="995.5" cy="189.6" r="5.5" fill="#8BC34A" fill-opacity="0.92"/><circle cx="1049.3" cy="187.2" r="5.5" fill="#8BC34A" fill-opacity="0.92"/><circle cx="1035.7" cy="165.5" r="5.5" fill="#FFAB91" fill-opacity="0.92"/><circle cx="1039.9" cy="186.7" r="5.5" fill="#FFAB91" fill-opacity="0.92"/><circle cx="1040.5" cy="157.1" r="5.5" fill="#8BC34A" fill-opacity="0.92"/><circle cx="1040.2" cy="188.3" r="5.5" fill="#FFAB91" fill-opacity="0.92"/><circle cx="1036.7" cy="175.7" r="5.5" fill="#8BC34A" fill-opacity="0.92"/><circle cx="1066.4" cy="169.4" r="5.5" fill="#8BC34A" fill-opacity="0.92"/><circle cx="1088.7" cy="174.6" r="5.5" fill="#8BC34A" fill-opacity="0.92"/><circle cx="1084.2" cy="173.2" r="5.5" fill="#BDBDBD" fill-opacity="0.92"/><circle cx="1065.6" cy="184.5" r="5.5" fill="#8BC34A" fill-opacity="0.92"/><circle cx="1069.9" cy="156.5" r="5.5" fill="#BDBDBD" fill-opacity="0.92"/><circle cx="1075.6" cy="164.8" r="5.5" fill="#8BC34A" fill-opacity="0.92"/><circle cx="1080.3" cy="168.8" r="5.5" fill="#FFAB91" fill-opacity="0.92"/><circle cx="1068.6" cy="164.5" r="5.5" fill="#BDBDBD" fill-opacity="0.92"/><circle cx="1090.8" cy="209.5" r="5.5" fill="#8BC34A" fill-opacity="0.92"/><circle cx="1095.5" cy="147.0" r="5.5" fill="#FFAB91" fill-opacity="0.92"/><circle cx="1075.4" cy="209.7" r="5.5" fill="#2196F3" fill-opacity="0.92"/><circle cx="1094.1" cy="151.5" r="5.5" fill="#8BC34A" fill-opacity="0.92"/><circle cx="1141.9" cy="190.6" r="5.5" fill="#8BC34A" fill-opacity="0.92"/><circle cx="1146.0" cy="202.9" r="5.5" fill="#8BC34A" fill-opacity="0.92"/><circle cx="1130.0" cy="173.3" r="5.5" fill="#BDBDBD" fill-opacity="0.92"/><circle cx="1144.9" cy="164.9" r="5.5" fill="#BDBDBD" fill-opacity="0.92"/><circle cx="1145.0" cy="182.0" r="5.5" fill="#BDBDBD" fill-opacity="0.92"/><circle cx="1135.3" cy="194.3" r="5.5" fill="#BDBDBD" fill-opacity="0.92"/><circle cx="1167.3" cy="182.2" r="5.5" fill="#8BC34A" fill-opacity="0.92"/><circle cx="1162.1" cy="149.7" r="5.5" fill="#8BC34A" fill-opacity="0.92"/><circle cx="1156.7" cy="164.9" r="5.5" fill="#8BC34A" fill-opacity="0.92"/><circle cx="1169.7" cy="175.3" r="5.5" fill="#8BC34A" fill-opacity="0.92"/><circle cx="1168.6" cy="202.6" r="5.5" fill="#F44336" fill-opacity="0.92"/><circle cx="1164.0" cy="173.0" r="5.5" fill="#FFAB91" fill-opacity="0.92"/><circle cx="1174.4" cy="186.3" r="5.5" fill="#8BC34A" fill-opacity="0.92"/><circle cx="1178.8" cy="158.7" r="5.5" fill="#FFAB91" fill-opacity="0.92"/><circle cx="1151.5" cy="159.6" r="5.5" fill="#8BC34A" fill-opacity="0.92"/><circle cx="1160.9" cy="172.1" r="5.5" fill="#8BC34A" fill-opacity="0.92"/><circle cx="1151.4" cy="182.0" r="5.5" fill="#FFAB91" fill-opacity="0.92"/><circle cx="1150.7" cy="180.6" r="5.5" fill="#FFAB91" fill-opacity="0.92"/><circle cx="1219.5" cy="164.1" r="5.5" fill="#BDBDBD" fill-opacity="0.92"/><circle cx="1229.4" cy="166.9" r="5.5" fill="#212121" fill-opacity="0.92"/><circle cx="1218.1" cy="184.9" r="5.5" fill="#FFAB91" fill-opacity="0.92"/><circle cx="1215.0" cy="209.2" r="5.5" fill="#8BC34A" fill-opacity="0.92"/><circle cx="1199.5" cy="207.4" r="5.5" fill="#F44336" fill-opacity="0.92"/><circle cx="1212.8" cy="193.9" r="5.5" fill="#212121" fill-opacity="0.92"/><circle cx="1195.3" cy="140.6" r="5.5" fill="#F44336" fill-opacity="0.92"/><circle cx="1208.1" cy="192.5" r="5.5" fill="#8BC34A" fill-opacity="0.92"/><circle cx="1204.8" cy="155.2" r="5.5" fill="#8BC34A" fill-opacity="0.92"/><circle cx="1216.2" cy="211.4" r="5.5" fill="#FFAB91" fill-opacity="0.92"/><circle cx="1200.2" cy="156.6" r="5.5" fill="#F44336" fill-opacity="0.92"/><circle cx="1219.5" cy="159.6" r="5.5" fill="#F44336" fill-opacity="0.92"/><circle cx="1295.5" cy="169.5" r="5.5" fill="#FFAB91" fill-opacity="0.92"/><circle cx="1297.4" cy="177.1" r="5.5" fill="#BDBDBD" fill-opacity="0.92"/><circle cx="1298.6" cy="191.9" r="5.5" fill="#BDBDBD" fill-opacity="0.92"/><circle cx="1294.3" cy="188.0" r="5.5" fill="#8BC34A" fill-opacity="0.92"/><circle cx="1294.4" cy="209.4" r="5.5" fill="#FFAB91" fill-opacity="0.92"/><circle cx="1327.0" cy="171.7" r="5.5" fill="#8BC34A" fill-opacity="0.92"/><circle cx="1267.1" cy="166.3" r="5.5" fill="#8BC34A" fill-opacity="0.92"/><circle cx="1277.2" cy="202.1" r="5.5" fill="#FFAB91" fill-opacity="0.92"/><circle cx="1278.6" cy="169.6" r="5.5" fill="#8BC34A" fill-opacity="0.92"/><circle cx="1328.6" cy="194.0" r="5.5" fill="#2196F3" fill-opacity="0.92"/><circle cx="1325.0" cy="161.8" r="5.5" fill="#2196F3" fill-opacity="0.92"/><circle cx="1291.7" cy="178.4" r="5.5" fill="#8BC34A" fill-opacity="0.92"/><circle cx="1295.3" cy="208.7" r="5.5" fill="#8BC34A" fill-opacity="0.92"/><circle cx="1266.7" cy="163.5" r="5.5" fill="#FFAB91" fill-opacity="0.92"/><circle cx="1283.5" cy="191.9" r="5.5" fill="#2196F3" fill-opacity="0.92"/><circle cx="1307.5" cy="168.6" r="5.5" fill="#BDBDBD" fill-opacity="0.92"/><circle cx="1277.1" cy="178.3" r="5.5" fill="#FFAB91" fill-opacity="0.92"/><circle cx="1324.4" cy="207.1" r="5.5" fill="#BDBDBD" fill-opacity="0.92"/><circle cx="1342.2" cy="188.2" r="5.5" fill="#FFAB91" fill-opacity="0.92"/><circle cx="1346.2" cy="191.3" r="5.5" fill="#8BC34A" fill-opacity="0.92"/><circle cx="1340.4" cy="168.4" r="5.5" fill="#8BC34A" fill-opacity="0.92"/><circle cx="1340.7" cy="204.0" r="5.5" fill="#FFAB91" fill-opacity="0.92"/><circle cx="1341.6" cy="175.5" r="5.5" fill="#BDBDBD" fill-opacity="0.92"/><circle cx="1347.6" cy="199.4" r="5.5" fill="#8BC34A" fill-opacity="0.92"/><circle cx="1338.3" cy="208.4" r="5.5" fill="#FFAB91" fill-opacity="0.92"/><circle cx="1330.9" cy="196.6" r="5.5" fill="#FFAB91" fill-opacity="0.92"/><circle cx="1392.5" cy="159.2" r="5.5" fill="#8BC34A" fill-opacity="0.92"/><circle cx="1382.5" cy="201.0" r="5.5" fill="#8BC34A" fill-opacity="0.92"/><circle cx="1393.4" cy="173.5" r="5.5" fill="#2196F3" fill-opacity="0.92"/><circle cx="1394.6" cy="178.8" r="5.5" fill="#FFAB91" fill-opacity="0.92"/><circle cx="1393.5" cy="196.4" r="5.5" fill="#2196F3" fill-opacity="0.92"/><circle cx="1398.6" cy="185.4" r="5.5" fill="#2196F3" fill-opacity="0.92"/><circle cx="1366.0" cy="166.9" r="5.5" fill="#FFAB91" fill-opacity="0.92"/><circle cx="1391.9" cy="187.1" r="5.5" fill="#2196F3" fill-opacity="0.92"/><circle cx="1385.4" cy="178.6" r="5.5" fill="#212121" fill-opacity="0.92"/><circle cx="1383.6" cy="172.1" r="5.5" fill="#FFAB91" fill-opacity="0.92"/><circle cx="1449.2" cy="198.6" r="5.5" fill="#8BC34A" fill-opacity="0.92"/><circle cx="1420.7" cy="198.6" r="5.5" fill="#F44336" fill-opacity="0.92"/><circle cx="1419.8" cy="178.1" r="5.5" fill="#BDBDBD" fill-opacity="0.92"/><circle cx="1439.1" cy="166.5" r="5.5" fill="#8BC34A" fill-opacity="0.92"/><circle cx="1400.7" cy="186.0" r="5.5" fill="#BDBDBD" fill-opacity="0.92"/><circle cx="1436.3" cy="164.9" r="5.5" fill="#8BC34A" fill-opacity="0.92"/><circle cx="1468.0" cy="180.4" r="5.5" fill="#8BC34A" fill-opacity="0.92"/><circle cx="1452.1" cy="161.3" r="5.5" fill="#BDBDBD" fill-opacity="0.92"/><circle cx="1437.3" cy="190.1" r="5.5" fill="#BDBDBD" fill-opacity="0.92"/><circle cx="1429.6" cy="197.8" r="5.5" fill="#8BC34A" fill-opacity="0.92"/><circle cx="1464.7" cy="184.6" r="5.5" fill="#FFAB91" fill-opacity="0.92"/><circle cx="1456.5" cy="196.4" r="5.5" fill="#212121" fill-opacity="0.92"/><circle cx="1448.3" cy="170.5" r="5.5" fill="#212121" fill-opacity="0.92"/><circle cx="1421.4" cy="197.3" r="5.5" fill="#BDBDBD" fill-opacity="0.92"/><circle cx="1400.4" cy="198.0" r="5.5" fill="#8BC34A" fill-opacity="0.92"/><circle cx="1400.9" cy="183.3" r="5.5" fill="#FFAB91" fill-opacity="0.92"/><circle cx="217.5" cy="108.2" r="5.5" fill="#F44336" fill-opacity="0.92"/><circle cx="218.4" cy="131.6" r="5.5" fill="#8BC34A" fill-opacity="0.92"/><circle cx="218.4" cy="143.7" r="5.5" fill="#F44336" fill-opacity="0.92"/><circle cx="218.4" cy="152.7" r="5.5" fill="#212121" fill-opacity="0.92"/><circle cx="218.4" cy="167.2" r="5.5" fill="#BDBDBD" fill-opacity="0.92"/><circle cx="218.4" cy="176.2" r="5.5" fill="#2196F3" fill-opacity="0.92"/><circle cx="217.5" cy="184.3" r="5.5" fill="#212121" fill-opacity="0.92"/><circle cx="218.4" cy="200.5" r="5.5" fill="#212121" fill-opacity="0.92"/><circle cx="228.4" cy="112.2" r="5.5" fill="#FFAB91" fill-opacity="0.92"/><circle cx="239.2" cy="72.5" r="5.5" fill="#F44336" fill-opacity="0.92"/><circle cx="239.2" cy="88.7" r="5.5" fill="#2196F3" fill-opacity="0.92"/><circle cx="239.2" cy="100.4" r="5.5" fill="#F44336" fill-opacity="0.92"/><circle cx="239.2" cy="123.9" r="5.5" fill="#F44336" fill-opacity="0.92"/><circle cx="239.2" cy="134.7" r="5.5" fill="#8BC34A" fill-opacity="0.92"/><circle cx="234.7" cy="142.8" r="5.5" fill="#212121" fill-opacity="0.92"/><circle cx="239.2" cy="150.0" r="5.5" fill="#F44336" fill-opacity="0.92"/><circle cx="239.2" cy="155.4" r="5.5" fill="#2196F3" fill-opacity="0.92"/><circle cx="239.2" cy="166.3" r="5.5" fill="#F44336" fill-opacity="0.92"/><circle cx="239.2" cy="178.9" r="5.5" fill="#212121" fill-opacity="0.92"/><circle cx="239.2" cy="187.0" r="5.5" fill="#8BC34A" fill-opacity="0.92"/><circle cx="231.1" cy="195.1" r="5.5" fill="#212121" fill-opacity="0.92"/><circle cx="239.2" cy="206.8" r="5.5" fill="#212121" fill-opacity="0.92"/><circle cx="232.9" cy="211.4" r="5.5" fill="#2196F3" fill-opacity="0.92"/><circle cx="239.2" cy="217.7" r="5.5" fill="#F44336" fill-opacity="0.92"/><circle cx="227.5" cy="189.7" r="5.5" fill="#212121" fill-opacity="0.92"/><circle cx="251.8" cy="90.5" r="5.5" fill="#212121" fill-opacity="0.92"/><circle cx="250.0" cy="102.2" r="5.5" fill="#8BC34A" fill-opacity="0.92"/><circle cx="252.7" cy="158.1" r="5.5" fill="#F44336" fill-opacity="0.92"/><circle cx="251.8" cy="169.0" r="5.5" fill="#212121" fill-opacity="0.92"/><circle cx="252.7" cy="177.1" r="5.5" fill="#F44336" fill-opacity="0.92"/><circle cx="250.0" cy="182.5" r="5.5" fill="#8BC34A" fill-opacity="0.92"/><circle cx="251.8" cy="190.6" r="5.5" fill="#F44336" fill-opacity="0.92"/><circle cx="250.0" cy="196.9" r="5.5" fill="#8BC34A" fill-opacity="0.92"/><circle cx="250.0" cy="211.4" r="5.5" fill="#8BC34A" fill-opacity="0.92"/><circle cx="269.0" cy="92.3" r="5.5" fill="#BDBDBD" fill-opacity="0.92"/><circle cx="278.0" cy="114.0" r="5.5" fill="#8BC34A" fill-opacity="0.92"/><circle cx="277.1" cy="157.2" r="5.5" fill="#FFAB91" fill-opacity="0.92"/><circle cx="269.0" cy="179.8" r="5.5" fill="#8BC34A" fill-opacity="0.92"/><circle cx="269.0" cy="189.7" r="5.5" fill="#FFAB91" fill-opacity="0.92"/><circle cx="269.0" cy="202.3" r="5.5" fill="#8BC34A" fill-opacity="0.92"/><circle cx="278.0" cy="211.4" r="5.5" fill="#8BC34A" fill-opacity="0.92"/><circle cx="327.6" cy="72.5" r="5.5" fill="#212121" fill-opacity="0.92"/><circle cx="319.5" cy="83.3" r="5.5" fill="#BDBDBD" fill-opacity="0.92"/><circle cx="332.1" cy="82.4" r="5.5" fill="#BDBDBD" fill-opacity="0.92"/><circle cx="311.3" cy="94.1" r="5.5" fill="#8BC34A" fill-opacity="0.92"/><circle cx="341.1" cy="86.0" r="5.5" fill="#8BC34A" fill-opacity="0.92"/><circle cx="330.3" cy="109.4" r="5.5" fill="#F44336" fill-opacity="0.92"/><circle cx="337.5" cy="104.9" r="5.5" fill="#BDBDBD" fill-opacity="0.92"/><circle cx="348.3" cy="110.3" r="5.5" fill="#8BC34A" fill-opacity="0.92"/><circle cx="355.5" cy="107.6" r="5.5" fill="#FFAB91" fill-opacity="0.92"/><circle cx="350.1" cy="127.5" r="5.5" fill="#BDBDBD" fill-opacity="0.92"/><circle cx="371.8" cy="93.2" r="5.5" fill="#8BC34A" fill-opacity="0.92"/><circle cx="370.9" cy="102.2" r="5.5" fill="#BDBDBD" fill-opacity="0.92"/><circle cx="370.9" cy="112.2" r="5.5" fill="#BDBDBD" fill-opacity="0.92"/><circle cx="388.0" cy="79.7" r="5.5" fill="#8BC34A" fill-opacity="0.92"/><circle cx="393.4" cy="100.4" r="5.5" fill="#BDBDBD" fill-opacity="0.92"/><circle cx="387.1" cy="110.3" r="5.5" fill="#8BC34A" fill-opacity="0.92"/><circle cx="413.3" cy="86.0" r="5.5" fill="#8BC34A" fill-opacity="0.92"/><circle cx="429.5" cy="75.2" r="5.5" fill="#F44336" fill-opacity="0.92"/><circle cx="443.0" cy="91.4" r="5.5" fill="#212121" fill-opacity="0.92"/><circle cx="445.7" cy="97.7" r="5.5" fill="#FFAB91" fill-opacity="0.92"/><circle cx="462.0" cy="94.1" r="5.5" fill="#FFAB91" fill-opacity="0.92"/><circle cx="310.4" cy="160.9" r="5.5" fill="#FFAB91" fill-opacity="0.92"/><circle cx="319.5" cy="159.1" r="5.5" fill="#BDBDBD" fill-opacity="0.92"/><circle cx="319.5" cy="166.3" r="5.5" fill="#BDBDBD" fill-opacity="0.92"/><circle cx="310.4" cy="175.3" r="5.5" fill="#8BC34A" fill-opacity="0.92"/><circle cx="319.5" cy="179.8" r="5.5" fill="#8BC34A" fill-opacity="0.92"/><circle cx="331.2" cy="169.0" r="5.5" fill="#BDBDBD" fill-opacity="0.92"/><circle cx="335.7" cy="171.7" r="5.5" fill="#FFAB91" fill-opacity="0.92"/><circle cx="332.1" cy="177.1" r="5.5" fill="#8BC34A" fill-opacity="0.92"/><circle cx="338.4" cy="177.1" r="5.5" fill="#F44336" fill-opacity="0.92"/><circle cx="339.3" cy="186.1" r="5.5" fill="#FFAB91" fill-opacity="0.92"/><circle cx="327.6" cy="189.7" r="5.5" fill="#F44336" fill-opacity="0.92"/><circle cx="333.0" cy="202.3" r="5.5" fill="#BDBDBD" fill-opacity="0.92"/><circle cx="331.2" cy="212.3" r="5.5" fill="#8BC34A" fill-opacity="0.92"/><circle cx="341.1" cy="217.7" r="5.5" fill="#212121" fill-opacity="0.92"/><circle cx="350.1" cy="160.9" r="5.5" fill="#8BC34A" fill-opacity="0.92"/><circle cx="350.1" cy="175.3" r="5.5" fill="#8BC34A" fill-opacity="0.92"/><circle cx="350.1" cy="184.3" r="5.5" fill="#BDBDBD" fill-opacity="0.92"/><circle cx="348.3" cy="195.1" r="5.5" fill="#8BC34A" fill-opacity="0.92"/><circle cx="355.5" cy="200.5" r="5.5" fill="#BDBDBD" fill-opacity="0.92"/><circle cx="351.9" cy="206.8" r="5.5" fill="#8BC34A" fill-opacity="0.92"/><circle cx="368.2" cy="211.4" r="5.5" fill="#BDBDBD" fill-opacity="0.92"/><circle cx="372.7" cy="166.3" r="5.5" fill="#FFAB91" fill-opacity="0.92"/><circle cx="372.7" cy="177.1" r="5.5" fill="#BDBDBD" fill-opacity="0.92"/><circle cx="368.2" cy="184.3" r="5.5" fill="#8BC34A" fill-opacity="0.92"/><circle cx="393.4" cy="157.2" r="5.5" fill="#BDBDBD" fill-opacity="0.92"/><circle cx="388.0" cy="168.1" r="5.5" fill="#8BC34A" fill-opacity="0.92"/><circle cx="393.4" cy="175.3" r="5.5" fill="#8BC34A" fill-opacity="0.92"/><circle cx="393.4" cy="180.7" r="5.5" fill="#F44336" fill-opacity="0.92"/><circle cx="388.0" cy="182.5" r="5.5" fill="#BDBDBD" fill-opacity="0.92"/><circle cx="387.1" cy="196.9" r="5.5" fill="#FFAB91" fill-opacity="0.92"/><circle cx="387.1" cy="205.0" r="5.5" fill="#8BC34A" fill-opacity="0.92"/><circle cx="413.3" cy="175.3" r="5.5" fill="#BDBDBD" fill-opacity="0.92"/><circle cx="413.3" cy="196.0" r="5.5" fill="#FFAB91" fill-opacity="0.92"/><circle cx="429.5" cy="200.5" r="5.5" fill="#8BC34A" fill-opacity="0.92"/><circle cx="443.0" cy="168.1" r="5.5" fill="#212121" fill-opacity="0.92"/><circle cx="446.6" cy="177.1" r="5.5" fill="#BDBDBD" fill-opacity="0.92"/><circle cx="446.6" cy="185.2" r="5.5" fill="#FFAB91" fill-opacity="0.92"/><circle cx="438.5" cy="186.1" r="5.5" fill="#8BC34A" fill-opacity="0.92"/><circle cx="474.4" cy="86.0" r="5.5" fill="#8BC34A" fill-opacity="0.92"/><circle cx="488.9" cy="85.1" r="5.5" fill="#8BC34A" fill-opacity="0.92"/><circle cx="477.1" cy="94.1" r="5.5" fill="#8BC34A" fill-opacity="0.92"/><circle cx="462.7" cy="93.2" r="5.5" fill="#FFAB91" fill-opacity="0.92"/><circle cx="470.8" cy="106.7" r="5.5" fill="#FFAB91" fill-opacity="0.92"/><circle cx="469.9" cy="112.2" r="5.5" fill="#FFAB91" fill-opacity="0.92"/><circle cx="469.0" cy="123.0" r="5.5" fill="#BDBDBD" fill-opacity="0.92"/><circle cx="483.4" cy="128.4" r="5.5" fill="#FFAB91" fill-opacity="0.92"/><circle cx="469.9" cy="133.8" r="5.5" fill="#8BC34A" fill-opacity="0.92"/><circle cx="484.4" cy="110.3" r="5.5" fill="#8BC34A" fill-opacity="0.92"/><circle cx="497.0" cy="107.6" r="5.5" fill="#212121" fill-opacity="0.92"/><circle cx="513.2" cy="111.2" r="5.5" fill="#8BC34A" fill-opacity="0.92"/><circle cx="508.7" cy="108.5" r="5.5" fill="#FFAB91" fill-opacity="0.92"/><circle cx="534.0" cy="108.5" r="5.5" fill="#FFAB91" fill-opacity="0.92"/><circle cx="541.2" cy="100.4" r="5.5" fill="#BDBDBD" fill-opacity="0.92"/><circle cx="517.7" cy="141.0" r="5.5" fill="#BDBDBD" fill-opacity="0.92"/><circle cx="559.2" cy="127.5" r="5.5" fill="#BDBDBD" fill-opacity="0.92"/><circle cx="544.8" cy="144.6" r="5.5" fill="#F44336" fill-opacity="0.92"/><circle cx="567.3" cy="94.1" r="5.5" fill="#2196F3" fill-opacity="0.92"/><circle cx="573.6" cy="101.3" r="5.5" fill="#FFAB91" fill-opacity="0.92"/><circle cx="578.1" cy="109.4" r="5.5" fill="#2196F3" fill-opacity="0.92"/><circle cx="586.3" cy="114.0" r="5.5" fill="#F44336" fill-opacity="0.92"/><circle cx="584.5" cy="94.1" r="5.5" fill="#8BC34A" fill-opacity="0.92"/><circle cx="594.4" cy="97.7" r="5.5" fill="#F44336" fill-opacity="0.92"/><circle cx="603.4" cy="87.8" r="5.5" fill="#2196F3" fill-opacity="0.92"/><circle cx="597.1" cy="87.8" r="5.5" fill="#8BC34A" fill-opacity="0.92"/><circle cx="609.7" cy="92.3" r="5.5" fill="#FFAB91" fill-opacity="0.92"/><circle cx="608.8" cy="117.6" r="5.5" fill="#8BC34A" fill-opacity="0.92"/><circle cx="592.6" cy="134.7" r="5.5" fill="#FFAB91" fill-opacity="0.92"/><circle cx="575.4" cy="133.8" r="5.5" fill="#8BC34A" fill-opacity="0.92"/><circle cx="624.1" cy="110.3" r="5.5" fill="#BDBDBD" fill-opacity="0.92"/><circle cx="626.0" cy="123.9" r="5.5" fill="#212121" fill-opacity="0.92"/><circle cx="635.0" cy="126.6" r="5.5" fill="#8BC34A" fill-opacity="0.92"/><circle cx="628.7" cy="92.3" r="5.5" fill="#FFAB91" fill-opacity="0.92"/><circle cx="646.7" cy="73.4" r="5.5" fill="#8BC34A" fill-opacity="0.92"/><circle cx="645.8" cy="80.6" r="5.5" fill="#2196F3" fill-opacity="0.92"/><circle cx="650.3" cy="85.1" r="5.5" fill="#212121" fill-opacity="0.92"/><circle cx="662.9" cy="83.3" r="5.5" fill="#8BC34A" fill-opacity="0.92"/><circle cx="662.0" cy="92.3" r="5.5" fill="#212121" fill-opacity="0.92"/><circle cx="647.6" cy="95.0" r="5.5" fill="#FFAB91" fill-opacity="0.92"/><circle cx="652.1" cy="115.8" r="5.5" fill="#FFAB91" fill-opacity="0.92"/><circle cx="657.5" cy="127.5" r="5.5" fill="#FFAB91" fill-opacity="0.92"/><circle cx="681.9" cy="81.5" r="5.5" fill="#8BC34A" fill-opacity="0.92"/><circle cx="678.3" cy="89.6" r="5.5" fill="#8BC34A" fill-opacity="0.92"/><circle cx="694.5" cy="85.1" r="5.5" fill="#8BC34A" fill-opacity="0.92"/><circle cx="692.7" cy="92.3" r="5.5" fill="#8BC34A" fill-opacity="0.92"/><circle cx="681.0" cy="114.0" r="5.5" fill="#F44336" fill-opacity="0.92"/><circle cx="687.3" cy="111.2" r="5.5" fill="#FFAB91" fill-opacity="0.92"/><circle cx="681.0" cy="132.0" r="5.5" fill="#F44336" fill-opacity="0.92"/><circle cx="696.3" cy="106.7" r="5.5" fill="#8BC34A" fill-opacity="0.92"/><circle cx="708.9" cy="106.7" r="5.5" fill="#F44336" fill-opacity="0.92"/><circle cx="705.3" cy="123.9" r="5.5" fill="#F44336" fill-opacity="0.92"/><circle cx="714.3" cy="114.0" r="5.5" fill="#FFAB91" fill-opacity="0.92"/><circle cx="717.9" cy="85.1" r="5.5" fill="#BDBDBD" fill-opacity="0.92"/><circle cx="727.0" cy="108.5" r="5.5" fill="#FFAB91" fill-opacity="0.92"/><circle cx="727.0" cy="119.4" r="5.5" fill="#F44336" fill-opacity="0.92"/><circle cx="467.2" cy="151.8" r="5.5" fill="#F44336" fill-opacity="0.92"/><circle cx="469.9" cy="160.0" r="5.5" fill="#F44336" fill-opacity="0.92"/><circle cx="465.4" cy="144.6" r="5.5" fill="#BDBDBD" fill-opacity="0.92"/><circle cx="473.5" cy="173.5" r="5.5" fill="#8BC34A" fill-opacity="0.92"/><circle cx="483.4" cy="173.5" r="5.5" fill="#8BC34A" fill-opacity="0.92"/><circle cx="469.0" cy="180.7" r="5.5" fill="#8BC34A" fill-opacity="0.92"/><circle cx="484.4" cy="183.4" r="5.5" fill="#BDBDBD" fill-opacity="0.92"/><circle cx="487.0" cy="195.1" r="5.5" fill="#8BC34A" fill-opacity="0.92"/><circle cx="470.8" cy="189.7" r="5.5" fill="#FFAB91" fill-opacity="0.92"/><circle cx="476.2" cy="198.7" r="5.5" fill="#8BC34A" fill-opacity="0.92"/><circle cx="473.5" cy="211.4" r="5.5" fill="#8BC34A" fill-opacity="0.92"/><circle cx="497.0" cy="180.7" r="5.5" fill="#2196F3" fill-opacity="0.92"/><circle cx="508.7" cy="177.1" r="5.5" fill="#F44336" fill-opacity="0.92"/><circle cx="508.7" cy="186.1" r="5.5" fill="#F44336" fill-opacity="0.92"/><circle cx="514.1" cy="192.4" r="5.5" fill="#8BC34A" fill-opacity="0.92"/><circle cx="514.1" cy="171.7" r="5.5" fill="#8BC34A" fill-opacity="0.92"/><circle cx="518.6" cy="165.4" r="5.5" fill="#BDBDBD" fill-opacity="0.92"/><circle cx="534.0" cy="164.5" r="5.5" fill="#8BC34A" fill-opacity="0.92"/><circle cx="545.7" cy="169.9" r="5.5" fill="#212121" fill-opacity="0.92"/><circle cx="539.4" cy="182.5" r="5.5" fill="#8BC34A" fill-opacity="0.92"/><circle cx="534.0" cy="182.5" r="5.5" fill="#BDBDBD" fill-opacity="0.92"/><circle cx="542.1" cy="200.5" r="5.5" fill="#BDBDBD" fill-opacity="0.92"/><circle cx="561.0" cy="152.7" r="5.5" fill="#F44336" fill-opacity="0.92"/><circle cx="559.2" cy="166.3" r="5.5" fill="#FFAB91" fill-opacity="0.92"/><circle cx="561.0" cy="173.5" r="5.5" fill="#8BC34A" fill-opacity="0.92"/><circle cx="560.1" cy="184.3" r="5.5" fill="#8BC34A" fill-opacity="0.92"/><circle cx="560.1" cy="192.4" r="5.5" fill="#FFAB91" fill-opacity="0.92"/><circle cx="568.2" cy="211.4" r="5.5" fill="#F44336" fill-opacity="0.92"/><circle cx="579.0" cy="213.2" r="5.5" fill="#8BC34A" fill-opacity="0.92"/><circle cx="572.7" cy="149.1" r="5.5" fill="#212121" fill-opacity="0.92"/><circle cx="580.9" cy="144.6" r="5.5" fill="#BDBDBD" fill-opacity="0.92"/><circle cx="580.9" cy="159.1" r="5.5" fill="#8BC34A" fill-opacity="0.92"/><circle cx="573.6" cy="166.3" r="5.5" fill="#8BC34A" fill-opacity="0.92"/><circle cx="582.7" cy="169.9" r="5.5" fill="#8BC34A" fill-opacity="0.92"/><circle cx="573.6" cy="177.1" r="5.5" fill="#F44336" fill-opacity="0.92"/><circle cx="582.7" cy="184.3" r="5.5" fill="#FFAB91" fill-opacity="0.92"/><circle cx="575.4" cy="195.1" r="5.5" fill="#8BC34A" fill-opacity="0.92"/><circle cx="589.9" cy="177.1" r="5.5" fill="#212121" fill-opacity="0.92"/><circle cx="591.7" cy="189.7" r="5.5" fill="#212121" fill-opacity="0.92"/><circle cx="597.1" cy="177.1" r="5.5" fill="#BDBDBD" fill-opacity="0.92"/><circle cx="584.5" cy="193.3" r="5.5" fill="#8BC34A" fill-opacity="0.92"/><circle cx="599.8" cy="159.1" r="5.5" fill="#8BC34A" fill-opacity="0.92"/><circle cx="607.9" cy="178.9" r="5.5" fill="#8BC34A" fill-opacity="0.92"/><circle cx="606.1" cy="196.9" r="5.5" fill="#8BC34A" fill-opacity="0.92"/><circle cx="608.8" cy="211.4" r="5.5" fill="#FFAB91" fill-opacity="0.92"/><circle cx="623.2" cy="146.4" r="5.5" fill="#BDBDBD" fill-opacity="0.92"/><circle cx="623.2" cy="153.6" r="5.5" fill="#8BC34A" fill-opacity="0.92"/><circle cx="635.0" cy="160.0" r="5.5" fill="#8BC34A" fill-opacity="0.92"/><circle cx="623.2" cy="166.3" r="5.5" fill="#2196F3" fill-opacity="0.92"/><circle cx="627.7" cy="177.1" r="5.5" fill="#2196F3" fill-opacity="0.92"/><circle cx="626.8" cy="186.1" r="5.5" fill="#2196F3" fill-opacity="0.92"/><circle cx="622.3" cy="198.7" r="5.5" fill="#8BC34A" fill-opacity="0.92"/><circle cx="620.5" cy="206.0" r="5.5" fill="#F44336" fill-opacity="0.92"/><circle cx="626.8" cy="211.4" r="5.5" fill="#8BC34A" fill-opacity="0.92"/><circle cx="633.2" cy="194.2" r="5.5" fill="#8BC34A" fill-opacity="0.92"/><circle cx="647.6" cy="171.7" r="5.5" fill="#FFAB91" fill-opacity="0.92"/><circle cx="654.8" cy="177.1" r="5.5" fill="#8BC34A" fill-opacity="0.92"/><circle cx="662.0" cy="160.0" r="5.5" fill="#2196F3" fill-opacity="0.92"/><circle cx="662.0" cy="168.1" r="5.5" fill="#F44336" fill-opacity="0.92"/><circle cx="663.8" cy="175.3" r="5.5" fill="#BDBDBD" fill-opacity="0.92"/><circle cx="645.8" cy="186.1" r="5.5" fill="#FFAB91" fill-opacity="0.92"/><circle cx="656.6" cy="187.9" r="5.5" fill="#BDBDBD" fill-opacity="0.92"/><circle cx="663.8" cy="191.5" r="5.5" fill="#8BC34A" fill-opacity="0.92"/><circle cx="647.6" cy="196.9" r="5.5" fill="#FFAB91" fill-opacity="0.92"/><circle cx="681.0" cy="151.8" r="5.5" fill="#212121" fill-opacity="0.92"/><circle cx="681.0" cy="162.7" r="5.5" fill="#F44336" fill-opacity="0.92"/><circle cx="681.0" cy="169.9" r="5.5" fill="#2196F3" fill-opacity="0.92"/><circle cx="681.0" cy="178.9" r="5.5" fill="#BDBDBD" fill-opacity="0.92"/><circle cx="681.0" cy="187.9" r="5.5" fill="#BDBDBD" fill-opacity="0.92"/><circle cx="681.0" cy="196.9" r="5.5" fill="#BDBDBD" fill-opacity="0.92"/><circle cx="681.0" cy="207.7" r="5.5" fill="#F44336" fill-opacity="0.92"/><circle cx="681.0" cy="216.8" r="5.5" fill="#F44336" fill-opacity="0.92"/><circle cx="692.7" cy="148.2" r="5.5" fill="#8BC34A" fill-opacity="0.92"/><circle cx="692.7" cy="159.1" r="5.5" fill="#8BC34A" fill-opacity="0.92"/><circle cx="707.1" cy="148.2" r="5.5" fill="#F44336" fill-opacity="0.92"/><circle cx="708.9" cy="155.4" r="5.5" fill="#F44336" fill-opacity="0.92"/><circle cx="701.7" cy="173.5" r="5.5" fill="#212121" fill-opacity="0.92"/><circle cx="694.5" cy="180.7" r="5.5" fill="#8BC34A" fill-opacity="0.92"/><circle cx="694.5" cy="198.7" r="5.5" fill="#8BC34A" fill-opacity="0.92"/><circle cx="708.9" cy="196.9" r="5.5" fill="#8BC34A" fill-opacity="0.92"/><circle cx="716.1" cy="173.5" r="5.5" fill="#212121" fill-opacity="0.92"/><circle cx="717.9" cy="182.5" r="5.5" fill="#BDBDBD" fill-opacity="0.92"/><circle cx="725.2" cy="187.9" r="5.5" fill="#BDBDBD" fill-opacity="0.92"/><circle cx="727.0" cy="195.1" r="5.5" fill="#2196F3" fill-opacity="0.92"/><circle cx="714.3" cy="211.4" r="5.5" fill="#FFAB91" fill-opacity="0.92"/><circle cx="719.7" cy="217.7" r="5.5" fill="#8BC34A" fill-opacity="0.92"/><circle cx="716.1" cy="160.0" r="5.5" fill="#FFAB91" fill-opacity="0.92"/><circle cx="727.0" cy="157.2" r="5.5" fill="#8BC34A" fill-opacity="0.92"/><circle cx="729.5" cy="107.6" r="5.5" fill="#FFAB91" fill-opacity="0.92"/><circle cx="744.8" cy="104.0" r="5.5" fill="#2196F3" fill-opacity="0.92"/><circle cx="732.2" cy="117.6" r="5.5" fill="#8BC34A" fill-opacity="0.92"/><circle cx="728.6" cy="123.0" r="5.5" fill="#F44336" fill-opacity="0.92"/><circle cx="750.3" cy="113.0" r="5.5" fill="#FFAB91" fill-opacity="0.92"/><circle cx="752.1" cy="120.3" r="5.5" fill="#8BC34A" fill-opacity="0.92"/><circle cx="743.9" cy="124.8" r="5.5" fill="#BDBDBD" fill-opacity="0.92"/><circle cx="758.4" cy="84.2" r="5.5" fill="#FFAB91" fill-opacity="0.92"/><circle cx="773.7" cy="82.4" r="5.5" fill="#8BC34A" fill-opacity="0.92"/><circle cx="786.3" cy="86.9" r="5.5" fill="#F44336" fill-opacity="0.92"/><circle cx="777.3" cy="94.1" r="5.5" fill="#F44336" fill-opacity="0.92"/><circle cx="789.9" cy="96.8" r="5.5" fill="#FFAB91" fill-opacity="0.92"/><circle cx="799.0" cy="92.3" r="5.5" fill="#8BC34A" fill-opacity="0.92"/><circle cx="799.0" cy="102.2" r="5.5" fill="#8BC34A" fill-opacity="0.92"/><circle cx="799.9" cy="74.3" r="5.5" fill="#8BC34A" fill-opacity="0.92"/><circle cx="777.3" cy="105.8" r="5.5" fill="#FFAB91" fill-opacity="0.92"/><circle cx="794.4" cy="118.5" r="5.5" fill="#FFAB91" fill-opacity="0.92"/><circle cx="817.9" cy="118.5" r="5.5" fill="#8BC34A" fill-opacity="0.92"/><circle cx="812.5" cy="132.9" r="5.5" fill="#FFAB91" fill-opacity="0.92"/><circle cx="751.2" cy="141.0" r="5.5" fill="#8BC34A" fill-opacity="0.92"/><circle cx="729.5" cy="145.5" r="5.5" fill="#BDBDBD" fill-opacity="0.92"/><circle cx="730.4" cy="158.1" r="5.5" fill="#8BC34A" fill-opacity="0.92"/><circle cx="730.4" cy="166.3" r="5.5" fill="#FFAB91" fill-opacity="0.92"/><circle cx="730.4" cy="174.4" r="5.5" fill="#BDBDBD" fill-opacity="0.92"/><circle cx="730.4" cy="180.7" r="5.5" fill="#8BC34A" fill-opacity="0.92"/><circle cx="730.4" cy="196.9" r="5.5" fill="#2196F3" fill-opacity="0.92"/><circle cx="750.3" cy="154.5" r="5.5" fill="#BDBDBD" fill-opacity="0.92"/><circle cx="746.6" cy="164.5" r="5.5" fill="#FFAB91" fill-opacity="0.92"/><circle cx="746.6" cy="174.4" r="5.5" fill="#2196F3" fill-opacity="0.92"/><circle cx="752.1" cy="182.5" r="5.5" fill="#8BC34A" fill-opacity="0.92"/><circle cx="748.4" cy="191.5" r="5.5" fill="#8BC34A" fill-opacity="0.92"/><circle cx="746.6" cy="200.5" r="5.5" fill="#8BC34A" fill-opacity="0.92"/><circle cx="746.6" cy="211.4" r="5.5" fill="#BDBDBD" fill-opacity="0.92"/><circle cx="758.4" cy="178.9" r="5.5" fill="#BDBDBD" fill-opacity="0.92"/><circle cx="771.9" cy="155.4" r="5.5" fill="#8BC34A" fill-opacity="0.92"/><circle cx="777.3" cy="159.1" r="5.5" fill="#212121" fill-opacity="0.92"/><circle cx="771.0" cy="166.3" r="5.5" fill="#8BC34A" fill-opacity="0.92"/><circle cx="784.5" cy="173.5" r="5.5" fill="#212121" fill-opacity="0.92"/><circle cx="776.4" cy="176.2" r="5.5" fill="#8BC34A" fill-opacity="0.92"/><circle cx="772.8" cy="184.3" r="5.5" fill="#F44336" fill-opacity="0.92"/><circle cx="775.5" cy="194.2" r="5.5" fill="#8BC34A" fill-opacity="0.92"/><circle cx="771.9" cy="196.9" r="5.5" fill="#212121" fill-opacity="0.92"/><circle cx="768.3" cy="205.0" r="5.5" fill="#8BC34A" fill-opacity="0.92"/><circle cx="774.6" cy="217.7" r="5.5" fill="#F44336" fill-opacity="0.92"/><circle cx="784.5" cy="187.9" r="5.5" fill="#BDBDBD" fill-opacity="0.92"/><circle cx="794.4" cy="155.4" r="5.5" fill="#212121" fill-opacity="0.92"/><circle cx="794.4" cy="150.0" r="5.5" fill="#BDBDBD" fill-opacity="0.92"/><circle cx="799.9" cy="165.4" r="5.5" fill="#F44336" fill-opacity="0.92"/><circle cx="799.0" cy="182.5" r="5.5" fill="#FFAB91" fill-opacity="0.92"/><circle cx="793.5" cy="187.9" r="5.5" fill="#F44336" fill-opacity="0.92"/><circle cx="799.0" cy="197.8" r="5.5" fill="#FFAB91" fill-opacity="0.92"/><circle cx="794.4" cy="205.0" r="5.5" fill="#F44336" fill-opacity="0.92"/><circle cx="815.2" cy="159.1" r="5.5" fill="#2196F3" fill-opacity="0.92"/><circle cx="816.1" cy="166.3" r="5.5" fill="#2196F3" fill-opacity="0.92"/><circle cx="817.9" cy="180.7" r="5.5" fill="#2196F3" fill-opacity="0.92"/><circle cx="817.9" cy="150.9" r="5.5" fill="#BDBDBD" fill-opacity="0.92"/><circle cx="813.4" cy="177.1" r="5.5" fill="#8BC34A" fill-opacity="0.92"/><circle cx="817.9" cy="188.8" r="5.5" fill="#8BC34A" fill-opacity="0.92"/><circle cx="973.9" cy="85.1" r="5.5" fill="#8BC34A" fill-opacity="0.92"/><circle cx="967.6" cy="92.3" r="5.5" fill="#212121" fill-opacity="0.92"/><circle cx="966.7" cy="104.9" r="5.5" fill="#F44336" fill-opacity="0.92"/><circle cx="972.1" cy="110.3" r="5.5" fill="#BDBDBD" fill-opacity="0.92"/><circle cx="966.7" cy="115.8" r="5.5" fill="#F44336" fill-opacity="0.92"/><circle cx="944.2" cy="110.3" r="5.5" fill="#BDBDBD" fill-opacity="0.92"/><circle cx="992.0" cy="103.1" r="5.5" fill="#2196F3" fill-opacity="0.92"/><circle cx="966.7" cy="148.2" r="5.5" fill="#212121" fill-opacity="0.92"/><circle cx="972.1" cy="149.1" r="5.5" fill="#2196F3" fill-opacity="0.92"/><circle cx="944.2" cy="160.0" r="5.5" fill="#8BC34A" fill-opacity="0.92"/><circle cx="944.2" cy="169.0" r="5.5" fill="#8BC34A" fill-opacity="0.92"/><circle cx="966.7" cy="162.7" r="5.5" fill="#F44336" fill-opacity="0.92"/><circle cx="973.9" cy="164.5" r="5.5" fill="#F44336" fill-opacity="0.92"/><circle cx="966.7" cy="171.7" r="5.5" fill="#F44336" fill-opacity="0.92"/><circle cx="973.9" cy="171.7" r="5.5" fill="#2196F3" fill-opacity="0.92"/><circle cx="972.1" cy="178.9" r="5.5" fill="#BDBDBD" fill-opacity="0.92"/><circle cx="966.7" cy="184.3" r="5.5" fill="#F44336" fill-opacity="0.92"/><circle cx="972.1" cy="189.7" r="5.5" fill="#8BC34A" fill-opacity="0.92"/><circle cx="972.1" cy="196.9" r="5.5" fill="#8BC34A" fill-opacity="0.92"/><circle cx="968.5" cy="206.0" r="5.5" fill="#F44336" fill-opacity="0.92"/><circle cx="973.9" cy="209.6" r="5.5" fill="#F44336" fill-opacity="0.92"/><circle cx="968.5" cy="216.8" r="5.5" fill="#F44336" fill-opacity="0.92"/><circle cx="992.0" cy="177.1" r="5.5" fill="#FFAB91" fill-opacity="0.92"/><circle cx="992.0" cy="187.9" r="5.5" fill="#8BC34A" fill-opacity="0.92"/><circle cx="999.9" cy="90.5" r="5.5" fill="#F44336" fill-opacity="0.92"/><circle cx="998.1" cy="103.1" r="5.5" fill="#2196F3" fill-opacity="0.92"/><circle cx="1008.0" cy="118.5" r="5.5" fill="#F44336" fill-opacity="0.92"/><circle cx="1024.3" cy="96.8" r="5.5" fill="#8BC34A" fill-opacity="0.92"/><circle cx="1023.4" cy="105.8" r="5.5" fill="#2196F3" fill-opacity="0.92"/><circle cx="1023.4" cy="115.8" r="5.5" fill="#BDBDBD" fill-opacity="0.92"/><circle cx="1045.0" cy="115.8" r="5.5" fill="#F44336" fill-opacity="0.92"/><circle cx="1055.8" cy="108.5" r="5.5" fill="#8BC34A" fill-opacity="0.92"/><circle cx="1058.5" cy="86.9" r="5.5" fill="#F44336" fill-opacity="0.92"/><circle cx="1058.5" cy="94.1" r="5.5" fill="#2196F3" fill-opacity="0.92"/><circle cx="1061.2" cy="126.6" r="5.5" fill="#FFAB91" fill-opacity="0.92"/><circle cx="1072.1" cy="94.1" r="5.5" fill="#FFAB91" fill-opacity="0.92"/><circle cx="1074.8" cy="86.0" r="5.5" fill="#8BC34A" fill-opacity="0.92"/><circle cx="1082.0" cy="92.3" r="5.5" fill="#2196F3" fill-opacity="0.92"/><circle cx="1088.3" cy="82.4" r="5.5" fill="#FFAB91" fill-opacity="0.92"/><circle cx="1101.8" cy="95.0" r="5.5" fill="#8BC34A" fill-opacity="0.92"/><circle cx="1098.2" cy="102.2" r="5.5" fill="#8BC34A" fill-opacity="0.92"/><circle cx="1110.0" cy="104.9" r="5.5" fill="#212121" fill-opacity="0.92"/><circle cx="1092.8" cy="112.2" r="5.5" fill="#BDBDBD" fill-opacity="0.92"/><circle cx="1105.4" cy="114.0" r="5.5" fill="#F44336" fill-opacity="0.92"/><circle cx="1129.8" cy="90.5" r="5.5" fill="#212121" fill-opacity="0.92"/><circle cx="1140.6" cy="95.0" r="5.5" fill="#8BC34A" fill-opacity="0.92"/><circle cx="1146.9" cy="100.4" r="5.5" fill="#FFAB91" fill-opacity="0.92"/><circle cx="1163.2" cy="94.1" r="5.5" fill="#FFAB91" fill-opacity="0.92"/><circle cx="1170.4" cy="97.7" r="5.5" fill="#8BC34A" fill-opacity="0.92"/><circle cx="1159.6" cy="111.2" r="5.5" fill="#F44336" fill-opacity="0.92"/><circle cx="1162.3" cy="123.9" r="5.5" fill="#BDBDBD" fill-opacity="0.92"/><circle cx="1172.2" cy="104.9" r="5.5" fill="#8BC34A" fill-opacity="0.92"/><circle cx="1179.4" cy="104.0" r="5.5" fill="#2196F3" fill-opacity="0.92"/><circle cx="1186.6" cy="83.3" r="5.5" fill="#212121" fill-opacity="0.92"/><circle cx="1189.3" cy="87.8" r="5.5" fill="#FFAB91" fill-opacity="0.92"/><circle cx="1186.6" cy="114.0" r="5.5" fill="#8BC34A" fill-opacity="0.92"/><circle cx="1172.2" cy="122.1" r="5.5" fill="#8BC34A" fill-opacity="0.92"/><circle cx="1199.2" cy="98.6" r="5.5" fill="#8BC34A" fill-opacity="0.92"/><circle cx="1202.8" cy="128.4" r="5.5" fill="#2196F3" fill-opacity="0.92"/><circle cx="1204.6" cy="114.0" r="5.5" fill="#8BC34A" fill-opacity="0.92"/><circle cx="1209.2" cy="117.6" r="5.5" fill="#F44336" fill-opacity="0.92"/><circle cx="1218.2" cy="100.4" r="5.5" fill="#8BC34A" fill-opacity="0.92"/><circle cx="1217.3" cy="114.0" r="5.5" fill="#8BC34A" fill-opacity="0.92"/><circle cx="1217.3" cy="124.8" r="5.5" fill="#BDBDBD" fill-opacity="0.92"/><circle cx="1226.3" cy="81.5" r="5.5" fill="#8BC34A" fill-opacity="0.92"/><circle cx="1230.8" cy="88.7" r="5.5" fill="#8BC34A" fill-opacity="0.92"/><circle cx="1219.1" cy="86.9" r="5.5" fill="#BDBDBD" fill-opacity="0.92"/><circle cx="1240.7" cy="78.8" r="5.5" fill="#F44336" fill-opacity="0.92"/><circle cx="1240.7" cy="88.7" r="5.5" fill="#2196F3" fill-opacity="0.92"/><circle cx="1240.7" cy="97.7" r="5.5" fill="#212121" fill-opacity="0.92"/><circle cx="1240.7" cy="106.7" r="5.5" fill="#212121" fill-opacity="0.92"/><circle cx="1240.7" cy="114.0" r="5.5" fill="#F44336" fill-opacity="0.92"/><circle cx="1240.7" cy="119.4" r="5.5" fill="#212121" fill-opacity="0.92"/><circle cx="1231.7" cy="124.8" r="5.5" fill="#212121" fill-opacity="0.92"/><circle cx="1255.2" cy="90.5" r="5.5" fill="#F44336" fill-opacity="0.92"/><circle cx="1255.2" cy="115.8" r="5.5" fill="#F44336" fill-opacity="0.92"/><circle cx="1185.7" cy="133.8" r="5.5" fill="#F44336" fill-opacity="0.92"/><circle cx="1178.5" cy="137.4" r="5.5" fill="#2196F3" fill-opacity="0.92"/><circle cx="1008.0" cy="157.2" r="5.5" fill="#F44336" fill-opacity="0.92"/><circle cx="1008.0" cy="166.3" r="5.5" fill="#F44336" fill-opacity="0.92"/><circle cx="1008.0" cy="173.5" r="5.5" fill="#F44336" fill-opacity="0.92"/><circle cx="1008.0" cy="180.7" r="5.5" fill="#212121" fill-opacity="0.92"/><circle cx="1008.0" cy="187.9" r="5.5" fill="#212121" fill-opacity="0.92"/><circle cx="999.9" cy="193.3" r="5.5" fill="#BDBDBD" fill-opacity="0.92"/><circle cx="995.4" cy="186.1" r="5.5" fill="#8BC34A" fill-opacity="0.92"/><circle cx="999.9" cy="204.1" r="5.5" fill="#8BC34A" fill-opacity="0.92"/><circle cx="1008.9" cy="217.7" r="5.5" fill="#212121" fill-opacity="0.92"/><circle cx="993.6" cy="173.5" r="5.5" fill="#FFAB91" fill-opacity="0.92"/><circle cx="1023.4" cy="130.2" r="5.5" fill="#F44336" fill-opacity="0.92"/><circle cx="1023.4" cy="151.8" r="5.5" fill="#F44336" fill-opacity="0.92"/><circle cx="1023.4" cy="162.7" r="5.5" fill="#F44336" fill-opacity="0.92"/><circle cx="1023.4" cy="173.5" r="5.5" fill="#212121" fill-opacity="0.92"/><circle cx="1026.1" cy="179.8" r="5.5" fill="#8BC34A" fill-opacity="0.92"/><circle cx="1023.4" cy="187.9" r="5.5" fill="#212121" fill-opacity="0.92"/><circle cx="1023.4" cy="196.9" r="5.5" fill="#F44336" fill-opacity="0.92"/><circle cx="1023.4" cy="209.6" r="5.5" fill="#212121" fill-opacity="0.92"/><circle cx="1040.5" cy="146.4" r="5.5" fill="#8BC34A" fill-opacity="0.92"/><circle cx="1042.3" cy="157.2" r="5.5" fill="#BDBDBD" fill-opacity="0.92"/><circle cx="1044.1" cy="166.3" r="5.5" fill="#BDBDBD" fill-opacity="0.92"/><circle cx="1044.1" cy="175.3" r="5.5" fill="#FFAB91" fill-opacity="0.92"/><circle cx="1041.4" cy="195.1" r="5.5" fill="#FFAB91" fill-opacity="0.92"/><circle cx="1065.8" cy="145.5" r="5.5" fill="#212121" fill-opacity="0.92"/><circle cx="1058.5" cy="150.0" r="5.5" fill="#F44336" fill-opacity="0.92"/><circle cx="1058.5" cy="159.1" r="5.5" fill="#212121" fill-opacity="0.92"/><circle cx="1059.4" cy="169.9" r="5.5" fill="#F44336" fill-opacity="0.92"/><circle cx="1062.2" cy="182.5" r="5.5" fill="#212121" fill-opacity="0.92"/><circle cx="1058.5" cy="193.3" r="5.5" fill="#F44336" fill-opacity="0.92"/><circle cx="1058.5" cy="204.1" r="5.5" fill="#F44336" fill-opacity="0.92"/><circle cx="1061.2" cy="217.7" r="5.5" fill="#BDBDBD" fill-opacity="0.92"/><circle cx="1072.1" cy="164.5" r="5.5" fill="#2196F3" fill-opacity="0.92"/><circle cx="1069.4" cy="175.3" r="5.5" fill="#BDBDBD" fill-opacity="0.92"/><circle cx="1082.0" cy="144.6" r="5.5" fill="#F44336" fill-opacity="0.92"/><circle cx="1081.1" cy="151.8" r="5.5" fill="#8BC34A" fill-opacity="0.92"/><circle cx="1081.1" cy="166.3" r="5.5" fill="#8BC34A" fill-opacity="0.92"/><circle cx="1081.1" cy="178.9" r="5.5" fill="#8BC34A" fill-opacity="0.92"/><circle cx="1082.0" cy="188.8" r="5.5" fill="#2196F3" fill-opacity="0.92"/><circle cx="1082.0" cy="198.7" r="5.5" fill="#8BC34A" fill-opacity="0.92"/><circle cx="1073.9" cy="207.7" r="5.5" fill="#8BC34A" fill-opacity="0.92"/><circle cx="1091.0" cy="166.3" r="5.5" fill="#BDBDBD" fill-opacity="0.92"/><circle cx="1092.8" cy="177.1" r="5.5" fill="#8BC34A" fill-opacity="0.92"/><circle cx="1092.8" cy="200.5" r="5.5" fill="#BDBDBD" fill-opacity="0.92"/><circle cx="1092.8" cy="211.4" r="5.5" fill="#8BC34A" fill-opacity="0.92"/><circle cx="1098.2" cy="187.9" r="5.5" fill="#FFAB91" fill-opacity="0.92"/><circle cx="1105.4" cy="155.4" r="5.5" fill="#FFAB91" fill-opacity="0.92"/><circle cx="1110.0" cy="162.7" r="5.5" fill="#212121" fill-opacity="0.92"/><circle cx="1110.0" cy="174.4" r="5.5" fill="#F44336" fill-opacity="0.92"/><circle cx="1104.5" cy="201.4" r="5.5" fill="#BDBDBD" fill-opacity="0.92"/><circle cx="1104.5" cy="211.4" r="5.5" fill="#FFAB91" fill-opacity="0.92"/><circle cx="1129.8" cy="173.5" r="5.5" fill="#212121" fill-opacity="0.92"/><circle cx="1129.8" cy="188.8" r="5.5" fill="#8BC34A" fill-opacity="0.92"/><circle cx="1140.6" cy="160.9" r="5.5" fill="#8BC34A" fill-opacity="0.92"/><circle cx="1140.6" cy="187.9" r="5.5" fill="#BDBDBD" fill-opacity="0.92"/><circle cx="1145.1" cy="177.1" r="5.5" fill="#8BC34A" fill-opacity="0.92"/><circle cx="1146.0" cy="200.5" r="5.5" fill="#8BC34A" fill-opacity="0.92"/><circle cx="1155.9" cy="148.2" r="5.5" fill="#F44336" fill-opacity="0.92"/><circle cx="1155.9" cy="157.2" r="5.5" fill="#F44336" fill-opacity="0.92"/><circle cx="1163.2" cy="141.0" r="5.5" fill="#FFAB91" fill-opacity="0.92"/><circle cx="1163.2" cy="155.4" r="5.5" fill="#8BC34A" fill-opacity="0.92"/><circle cx="1163.2" cy="166.3" r="5.5" fill="#FFAB91" fill-opacity="0.92"/><circle cx="1155.9" cy="173.5" r="5.5" fill="#2196F3" fill-opacity="0.92"/><circle cx="1155.9" cy="186.1" r="5.5" fill="#2196F3" fill-opacity="0.92"/><circle cx="1160.5" cy="193.3" r="5.5" fill="#FFAB91" fill-opacity="0.92"/><circle cx="1159.6" cy="206.0" r="5.5" fill="#F44336" fill-opacity="0.92"/><circle cx="1153.2" cy="211.4" r="5.5" fill="#FFAB91" fill-opacity="0.92"/><circle cx="1170.4" cy="148.2" r="5.5" fill="#FFAB91" fill-opacity="0.92"/><circle cx="1178.5" cy="147.3" r="5.5" fill="#212121" fill-opacity="0.92"/><circle cx="1177.6" cy="157.2" r="5.5" fill="#8BC34A" fill-opacity="0.92"/><circle cx="1177.6" cy="171.7" r="5.5" fill="#2196F3" fill-opacity="0.92"/><circle cx="1170.4" cy="166.3" r="5.5" fill="#FFAB91" fill-opacity="0.92"/><circle cx="1172.2" cy="180.7" r="5.5" fill="#8BC34A" fill-opacity="0.92"/><circle cx="1172.2" cy="193.3" r="5.5" fill="#8BC34A" fill-opacity="0.92"/><circle cx="1172.2" cy="204.1" r="5.5" fill="#8BC34A" fill-opacity="0.92"/><circle cx="1186.6" cy="160.9" r="5.5" fill="#F44336" fill-opacity="0.92"/><circle cx="1188.4" cy="171.7" r="5.5" fill="#BDBDBD" fill-opacity="0.92"/><circle cx="1186.6" cy="184.3" r="5.5" fill="#8BC34A" fill-opacity="0.92"/><circle cx="1186.6" cy="195.1" r="5.5" fill="#F44336" fill-opacity="0.92"/><circle cx="1186.6" cy="206.0" r="5.5" fill="#F44336" fill-opacity="0.92"/><circle cx="1186.6" cy="216.8" r="5.5" fill="#212121" fill-opacity="0.92"/><circle cx="1200.1" cy="148.2" r="5.5" fill="#8BC34A" fill-opacity="0.92"/><circle cx="1200.1" cy="157.2" r="5.5" fill="#BDBDBD" fill-opacity="0.92"/><circle cx="1202.0" cy="182.5" r="5.5" fill="#2196F3" fill-opacity="0.92"/><circle cx="1200.1" cy="193.3" r="5.5" fill="#BDBDBD" fill-opacity="0.92"/><circle cx="1202.0" cy="211.4" r="5.5" fill="#BDBDBD" fill-opacity="0.92"/><circle cx="1209.2" cy="142.8" r="5.5" fill="#212121" fill-opacity="0.92"/><circle cx="1215.5" cy="155.4" r="5.5" fill="#F44336" fill-opacity="0.92"/><circle cx="1209.2" cy="169.9" r="5.5" fill="#F44336" fill-opacity="0.92"/><circle cx="1209.2" cy="191.5" r="5.5" fill="#212121" fill-opacity="0.92"/><circle cx="1218.2" cy="144.6" r="5.5" fill="#BDBDBD" fill-opacity="0.92"/><circle cx="1218.2" cy="173.5" r="5.5" fill="#BDBDBD" fill-opacity="0.92"/><circle cx="1217.3" cy="184.3" r="5.5" fill="#8BC34A" fill-opacity="0.92"/><circle cx="1217.3" cy="196.9" r="5.5" fill="#FFAB91" fill-opacity="0.92"/><circle cx="1217.3" cy="213.2" r="5.5" fill="#BDBDBD" fill-opacity="0.92"/><circle cx="1226.3" cy="177.1" r="5.5" fill="#8BC34A" fill-opacity="0.92"/><circle cx="1229.9" cy="187.9" r="5.5" fill="#FFAB91" fill-opacity="0.92"/><circle cx="1240.7" cy="151.8" r="5.5" fill="#F44336" fill-opacity="0.92"/><circle cx="1240.7" cy="164.5" r="5.5" fill="#212121" fill-opacity="0.92"/><circle cx="1240.7" cy="173.5" r="5.5" fill="#8BC34A" fill-opacity="0.92"/><circle cx="1240.7" cy="182.5" r="5.5" fill="#2196F3" fill-opacity="0.92"/><circle cx="1240.7" cy="193.3" r="5.5" fill="#BDBDBD" fill-opacity="0.92"/><circle cx="1240.7" cy="202.3" r="5.5" fill="#F44336" fill-opacity="0.92"/><circle cx="1240.7" cy="211.4" r="5.5" fill="#212121" fill-opacity="0.92"/><circle cx="1240.7" cy="218.6" r="5.5" fill="#2196F3" fill-opacity="0.92"/><circle cx="1255.2" cy="150.0" r="5.5" fill="#8BC34A" fill-opacity="0.92"/><circle cx="1255.2" cy="162.7" r="5.5" fill="#F44336" fill-opacity="0.92"/><circle cx="1257.0" cy="169.9" r="5.5" fill="#2196F3" fill-opacity="0.92"/><circle cx="1255.2" cy="180.7" r="5.5" fill="#F44336" fill-opacity="0.92"/><circle cx="1255.2" cy="193.3" r="5.5" fill="#212121" fill-opacity="0.92"/><circle cx="1255.2" cy="206.0" r="5.5" fill="#F44336" fill-opacity="0.92"/><circle cx="1257.0" cy="213.2" r="5.5" fill="#2196F3" fill-opacity="0.92"/><circle cx="1253.3" cy="218.6" r="5.5" fill="#F44336" fill-opacity="0.92"/><circle cx="1229.5" cy="83.3" r="5.5" fill="#8BC34A" fill-opacity="0.92"/><circle cx="1255.7" cy="90.5" r="5.5" fill="#F44336" fill-opacity="0.92"/><circle cx="1262.9" cy="97.7" r="5.5" fill="#FFAB91" fill-opacity="0.92"/><circle cx="1272.8" cy="93.2" r="5.5" fill="#8BC34A" fill-opacity="0.92"/><circle cx="1256.6" cy="115.8" r="5.5" fill="#F44336" fill-opacity="0.92"/><circle cx="1261.1" cy="121.2" r="5.5" fill="#F44336" fill-opacity="0.92"/><circle cx="1232.2" cy="124.8" r="5.5" fill="#212121" fill-opacity="0.92"/><circle cx="1284.5" cy="82.4" r="5.5" fill="#BDBDBD" fill-opacity="0.92"/><circle cx="1300.8" cy="93.2" r="5.5" fill="#F44336" fill-opacity="0.92"/><circle cx="1309.8" cy="89.6" r="5.5" fill="#8BC34A" fill-opacity="0.92"/><circle cx="1323.3" cy="91.4" r="5.5" fill="#8BC34A" fill-opacity="0.92"/><circle cx="1315.2" cy="99.5" r="5.5" fill="#BDBDBD" fill-opacity="0.92"/><circle cx="1299.0" cy="107.6" r="5.5" fill="#8BC34A" fill-opacity="0.92"/><circle cx="1304.4" cy="110.3" r="5.5" fill="#BDBDBD" fill-opacity="0.92"/><circle cx="1299.9" cy="118.5" r="5.5" fill="#F44336" fill-opacity="0.92"/><circle cx="1291.7" cy="125.7" r="5.5" fill="#BDBDBD" fill-opacity="0.92"/><circle cx="1289.9" cy="133.8" r="5.5" fill="#8BC34A" fill-opacity="0.92"/><circle cx="1336.8" cy="95.9" r="5.5" fill="#FFAB91" fill-opacity="0.92"/><circle cx="1340.4" cy="102.2" r="5.5" fill="#8BC34A" fill-opacity="0.92"/><circle cx="1348.6" cy="90.5" r="5.5" fill="#FFAB91" fill-opacity="0.92"/><circle cx="1358.5" cy="73.4" r="5.5" fill="#8BC34A" fill-opacity="0.92"/><circle cx="1374.7" cy="86.0" r="5.5" fill="#8BC34A" fill-opacity="0.92"/><circle cx="1383.7" cy="72.5" r="5.5" fill="#FFAB91" fill-opacity="0.92"/><circle cx="1383.7" cy="83.3" r="5.5" fill="#8BC34A" fill-opacity="0.92"/><circle cx="1381.9" cy="91.4" r="5.5" fill="#8BC34A" fill-opacity="0.92"/><circle cx="1385.5" cy="99.5" r="5.5" fill="#212121" fill-opacity="0.92"/><circle cx="1374.7" cy="103.1" r="5.5" fill="#F44336" fill-opacity="0.92"/><circle cx="1399.1" cy="77.0" r="5.5" fill="#212121" fill-opacity="0.92"/><circle cx="1409.0" cy="89.6" r="5.5" fill="#8BC34A" fill-opacity="0.92"/><circle cx="1402.7" cy="107.6" r="5.5" fill="#F44336" fill-opacity="0.92"/><circle cx="1389.1" cy="115.8" r="5.5" fill="#FFAB91" fill-opacity="0.92"/><circle cx="1387.3" cy="120.3" r="5.5" fill="#2196F3" fill-opacity="0.92"/><circle cx="1361.2" cy="112.2" r="5.5" fill="#F44336" fill-opacity="0.92"/><circle cx="1361.2" cy="124.8" r="5.5" fill="#8BC34A" fill-opacity="0.92"/><circle cx="1361.2" cy="133.8" r="5.5" fill="#F44336" fill-opacity="0.92"/><circle cx="1361.2" cy="142.8" r="5.5" fill="#F44336" fill-opacity="0.92"/><circle cx="1421.6" cy="123.0" r="5.5" fill="#F44336" fill-opacity="0.92"/><circle cx="1437.8" cy="109.4" r="5.5" fill="#F44336" fill-opacity="0.92"/><circle cx="1437.8" cy="121.2" r="5.5" fill="#BDBDBD" fill-opacity="0.92"/><circle cx="1447.8" cy="94.1" r="5.5" fill="#FFAB91" fill-opacity="0.92"/><circle cx="1448.7" cy="117.6" r="5.5" fill="#FFAB91" fill-opacity="0.92"/><circle cx="1427.0" cy="139.2" r="5.5" fill="#FFAB91" fill-opacity="0.92"/><circle cx="1466.7" cy="86.0" r="5.5" fill="#BDBDBD" fill-opacity="0.92"/><circle cx="1464.9" cy="99.5" r="5.5" fill="#BDBDBD" fill-opacity="0.92"/><circle cx="1468.5" cy="108.5" r="5.5" fill="#8BC34A" fill-opacity="0.92"/><circle cx="1241.2" cy="150.0" r="5.5" fill="#F44336" fill-opacity="0.92"/><circle cx="1241.2" cy="164.5" r="5.5" fill="#212121" fill-opacity="0.92"/><circle cx="1241.2" cy="173.5" r="5.5" fill="#8BC34A" fill-opacity="0.92"/><circle cx="1241.2" cy="182.5" r="5.5" fill="#2196F3" fill-opacity="0.92"/><circle cx="1241.2" cy="193.3" r="5.5" fill="#BDBDBD" fill-opacity="0.92"/><circle cx="1241.2" cy="202.3" r="5.5" fill="#F44336" fill-opacity="0.92"/><circle cx="1241.2" cy="211.4" r="5.5" fill="#212121" fill-opacity="0.92"/><circle cx="1241.2" cy="218.6" r="5.5" fill="#2196F3" fill-opacity="0.92"/><circle cx="1230.4" cy="166.3" r="5.5" fill="#8BC34A" fill-opacity="0.92"/><circle cx="1230.4" cy="186.1" r="5.5" fill="#FFAB91" fill-opacity="0.92"/><circle cx="1257.5" cy="148.2" r="5.5" fill="#8BC34A" fill-opacity="0.92"/><circle cx="1266.5" cy="148.2" r="5.5" fill="#8BC34A" fill-opacity="0.92"/><circle cx="1259.3" cy="164.5" r="5.5" fill="#2196F3" fill-opacity="0.92"/><circle cx="1259.3" cy="175.3" r="5.5" fill="#212121" fill-opacity="0.92"/><circle cx="1262.9" cy="184.3" r="5.5" fill="#F44336" fill-opacity="0.92"/><circle cx="1259.3" cy="193.3" r="5.5" fill="#F44336" fill-opacity="0.92"/><circle cx="1259.3" cy="200.5" r="5.5" fill="#212121" fill-opacity="0.92"/><circle cx="1260.2" cy="211.4" r="5.5" fill="#2196F3" fill-opacity="0.92"/><circle cx="1256.6" cy="219.5" r="5.5" fill="#212121" fill-opacity="0.92"/><circle cx="1266.5" cy="166.3" r="5.5" fill="#BDBDBD" fill-opacity="0.92"/><circle cx="1272.8" cy="169.9" r="5.5" fill="#8BC34A" fill-opacity="0.92"/><circle cx="1272.8" cy="205.9" r="5.5" fill="#8BC34A" fill-opacity="0.92"/><circle cx="1282.7" cy="202.3" r="5.5" fill="#212121" fill-opacity="0.92"/><circle cx="1289.0" cy="168.1" r="5.5" fill="#8BC34A" fill-opacity="0.92"/><circle cx="1289.9" cy="178.9" r="5.5" fill="#FFAB91" fill-opacity="0.92"/><circle cx="1291.7" cy="189.7" r="5.5" fill="#BDBDBD" fill-opacity="0.92"/><circle cx="1291.7" cy="211.4" r="5.5" fill="#FFAB91" fill-opacity="0.92"/><circle cx="1298.1" cy="166.3" r="5.5" fill="#2196F3" fill-opacity="0.92"/><circle cx="1300.8" cy="180.7" r="5.5" fill="#FFAB91" fill-opacity="0.92"/><circle cx="1300.8" cy="195.1" r="5.5" fill="#FFAB91" fill-opacity="0.92"/><circle cx="1309.8" cy="144.6" r="5.5" fill="#BDBDBD" fill-opacity="0.92"/><circle cx="1310.7" cy="154.5" r="5.5" fill="#8BC34A" fill-opacity="0.92"/><circle cx="1310.7" cy="169.9" r="5.5" fill="#2196F3" fill-opacity="0.92"/><circle cx="1311.6" cy="187.9" r="5.5" fill="#2196F3" fill-opacity="0.92"/><circle cx="1315.2" cy="177.1" r="5.5" fill="#8BC34A" fill-opacity="0.92"/><circle cx="1320.6" cy="178.0" r="5.5" fill="#212121" fill-opacity="0.92"/><circle cx="1315.2" cy="196.9" r="5.5" fill="#8BC34A" fill-opacity="0.92"/><circle cx="1324.2" cy="194.2" r="5.5" fill="#8BC34A" fill-opacity="0.92"/><circle cx="1323.3" cy="206.8" r="5.5" fill="#8BC34A" fill-opacity="0.92"/><circle cx="1335.9" cy="164.5" r="5.5" fill="#BDBDBD" fill-opacity="0.92"/><circle cx="1340.4" cy="173.5" r="5.5" fill="#FFAB91" fill-opacity="0.92"/><circle cx="1336.8" cy="182.5" r="5.5" fill="#8BC34A" fill-opacity="0.92"/><circle cx="1342.2" cy="186.1" r="5.5" fill="#BDBDBD" fill-opacity="0.92"/><circle cx="1347.7" cy="177.1" r="5.5" fill="#FFAB91" fill-opacity="0.92"/><circle cx="1351.3" cy="184.3" r="5.5" fill="#BDBDBD" fill-opacity="0.92"/><circle cx="1339.5" cy="204.1" r="5.5" fill="#8BC34A" fill-opacity="0.92"/><circle cx="1340.4" cy="217.7" r="5.5" fill="#BDBDBD" fill-opacity="0.92"/><circle cx="1361.2" cy="153.6" r="5.5" fill="#F44336" fill-opacity="0.92"/><circle cx="1361.2" cy="162.7" r="5.5" fill="#F44336" fill-opacity="0.92"/><circle cx="1359.4" cy="173.5" r="5.5" fill="#BDBDBD" fill-opacity="0.92"/><circle cx="1361.2" cy="186.1" r="5.5" fill="#F44336" fill-opacity="0.92"/><circle cx="1361.2" cy="198.7" r="5.5" fill="#FFAB91" fill-opacity="0.92"/><circle cx="1361.2" cy="209.6" r="5.5" fill="#FFAB91" fill-opacity="0.92"/><circle cx="1361.2" cy="218.6" r="5.5" fill="#212121" fill-opacity="0.92"/><circle cx="1371.1" cy="155.4" r="5.5" fill="#212121" fill-opacity="0.92"/><circle cx="1374.7" cy="162.7" r="5.5" fill="#212121" fill-opacity="0.92"/><circle cx="1381.9" cy="160.9" r="5.5" fill="#F44336" fill-opacity="0.92"/><circle cx="1383.7" cy="169.9" r="5.5" fill="#FFAB91" fill-opacity="0.92"/><circle cx="1372.9" cy="184.3" r="5.5" fill="#2196F3" fill-opacity="0.92"/><circle cx="1376.5" cy="191.5" r="5.5" fill="#8BC34A" fill-opacity="0.92"/><circle cx="1380.1" cy="200.5" r="5.5" fill="#8BC34A" fill-opacity="0.92"/><circle cx="1367.5" cy="202.3" r="5.5" fill="#212121" fill-opacity="0.92"/><circle cx="1385.5" cy="211.4" r="5.5" fill="#BDBDBD" fill-opacity="0.92"/><circle cx="1389.1" cy="180.7" r="5.5" fill="#8BC34A" fill-opacity="0.92"/><circle cx="1403.6" cy="144.6" r="5.5" fill="#BDBDBD" fill-opacity="0.92"/><circle cx="1398.2" cy="148.2" r="5.5" fill="#212121" fill-opacity="0.92"/><circle cx="1404.5" cy="165.4" r="5.5" fill="#212121" fill-opacity="0.92"/><circle cx="1402.7" cy="160.9" r="5.5" fill="#F44336" fill-opacity="0.92"/><circle cx="1408.1" cy="175.3" r="5.5" fill="#BDBDBD" fill-opacity="0.92"/><circle cx="1400.0" cy="182.5" r="5.5" fill="#F44336" fill-opacity="0.92"/><circle cx="1397.3" cy="195.1" r="5.5" fill="#2196F3" fill-opacity="0.92"/><circle cx="1409.0" cy="200.5" r="5.5" fill="#8BC34A" fill-opacity="0.92"/><circle cx="1421.6" cy="190.6" r="5.5" fill="#212121" fill-opacity="0.92"/><circle cx="1427.0" cy="166.3" r="5.5" fill="#BDBDBD" fill-opacity="0.92"/><circle cx="1427.0" cy="177.1" r="5.5" fill="#FFAB91" fill-opacity="0.92"/><circle cx="1437.0" cy="166.3" r="5.5" fill="#8BC34A" fill-opacity="0.92"/><circle cx="1437.8" cy="178.9" r="5.5" fill="#F44336" fill-opacity="0.92"/><circle cx="1437.8" cy="189.7" r="5.5" fill="#212121" fill-opacity="0.92"/><circle cx="1447.8" cy="158.1" r="5.5" fill="#FFAB91" fill-opacity="0.92"/><circle cx="1446.9" cy="169.9" r="5.5" fill="#F44336" fill-opacity="0.92"/><circle cx="1454.1" cy="173.5" r="5.5" fill="#BDBDBD" fill-opacity="0.92"/><circle cx="1450.5" cy="186.1" r="5.5" fill="#8BC34A" fill-opacity="0.92"/><circle cx="1452.3" cy="195.1" r="5.5" fill="#8BC34A" fill-opacity="0.92"/><circle cx="1463.1" cy="198.7" r="5.5" fill="#FFAB91" fill-opacity="0.92"/><circle cx="1469.4" cy="169.9" r="5.5" fill="#BDBDBD" fill-opacity="0.92"/><circle cx="1468.5" cy="186.1" r="5.5" fill="#F44336" fill-opacity="0.92"/><circle cx="1461.3" cy="178.9" r="5.5" fill="#8BC34A" fill-opacity="0.92"/><circle cx="1453.2" cy="217.7" r="5.5" fill="#8BC34A" fill-opacity="0.92"/><circle cx="238.8" cy="140.0" r="5.5" fill="#F44336" fill-opacity="0.92"/><circle cx="239.4" cy="145.7" r="5.5" fill="#F44336" fill-opacity="0.92"/><circle cx="239.9" cy="151.9" r="5.5" fill="#8BC34A" fill-opacity="0.92"/><circle cx="238.8" cy="157.4" r="5.5" fill="#8BC34A" fill-opacity="0.92"/><circle cx="239.3" cy="163.5" r="5.5" fill="#2196F3" fill-opacity="0.92"/><circle cx="238.6" cy="169.8" r="5.5" fill="#F44336" fill-opacity="0.92"/><circle cx="239.2" cy="176.7" r="5.5" fill="#F44336" fill-opacity="0.92"/><circle cx="238.5" cy="183.1" r="5.5" fill="#F44336" fill-opacity="0.92"/><circle cx="238.4" cy="188.6" r="5.5" fill="#212121" fill-opacity="0.92"/><circle cx="239.6" cy="194.5" r="5.5" fill="#2196F3" fill-opacity="0.92"/><circle cx="239.9" cy="201.1" r="5.5" fill="#2196F3" fill-opacity="0.92"/><circle cx="239.3" cy="207.6" r="5.5" fill="#F44336" fill-opacity="0.92"/><circle cx="238.6" cy="214.5" r="5.5" fill="#F44336" fill-opacity="0.92"/><circle cx="680.6" cy="148.0" r="5.5" fill="#BDBDBD" fill-opacity="0.92"/><circle cx="681.2" cy="152.1" r="5.5" fill="#F44336" fill-opacity="0.92"/><circle cx="681.5" cy="156.2" r="5.5" fill="#BDBDBD" fill-opacity="0.92"/><circle cx="681.1" cy="160.1" r="5.5" fill="#BDBDBD" fill-opacity="0.92"/><circle cx="680.7" cy="163.9" r="5.5" fill="#F44336" fill-opacity="0.92"/><circle cx="681.8" cy="168.7" r="5.5" fill="#BDBDBD" fill-opacity="0.92"/><circle cx="681.3" cy="173.2" r="5.5" fill="#F44336" fill-opacity="0.92"/><circle cx="681.6" cy="178.2" r="5.5" fill="#BDBDBD" fill-opacity="0.92"/><circle cx="681.2" cy="181.7" r="5.5" fill="#BDBDBD" fill-opacity="0.92"/><circle cx="681.1" cy="186.5" r="5.5" fill="#F44336" fill-opacity="0.92"/><circle cx="681.0" cy="190.0" r="5.5" fill="#BDBDBD" fill-opacity="0.92"/><circle cx="680.3" cy="195.1" r="5.5" fill="#2196F3" fill-opacity="0.92"/><circle cx="681.6" cy="198.5" r="5.5" fill="#F44336" fill-opacity="0.92"/><circle cx="681.4" cy="202.4" r="5.5" fill="#2196F3" fill-opacity="0.92"/><circle cx="681.2" cy="205.9" r="5.5" fill="#2196F3" fill-opacity="0.92"/><circle cx="681.3" cy="209.4" r="5.5" fill="#F44336" fill-opacity="0.92"/><circle cx="681.7" cy="213.7" r="5.5" fill="#F44336" fill-opacity="0.92"/><circle cx="681.8" cy="217.9" r="5.5" fill="#F44336" fill-opacity="0.92"/><circle cx="966.1" cy="148.0" r="5.5" fill="#8BC34A" fill-opacity="0.92"/><circle cx="966.2" cy="151.4" r="5.5" fill="#2196F3" fill-opacity="0.92"/><circle cx="966.3" cy="155.3" r="5.5" fill="#F44336" fill-opacity="0.92"/><circle cx="966.4" cy="160.3" r="5.5" fill="#F44336" fill-opacity="0.92"/><circle cx="967.3" cy="165.2" r="5.5" fill="#2196F3" fill-opacity="0.92"/><circle cx="967.3" cy="169.2" r="5.5" fill="#2196F3" fill-opacity="0.92"/><circle cx="966.9" cy="173.7" r="5.5" fill="#8BC34A" fill-opacity="0.92"/><circle cx="967.5" cy="177.2" r="5.5" fill="#8BC34A" fill-opacity="0.92"/><circle cx="966.9" cy="181.0" r="5.5" fill="#F44336" fill-opacity="0.92"/><circle cx="966.6" cy="186.0" r="5.5" fill="#F44336" fill-opacity="0.92"/><circle cx="966.8" cy="190.2" r="5.5" fill="#F44336" fill-opacity="0.92"/><circle cx="967.5" cy="194.9" r="5.5" fill="#F44336" fill-opacity="0.92"/><circle cx="966.9" cy="198.3" r="5.5" fill="#F44336" fill-opacity="0.92"/><circle cx="966.9" cy="201.7" r="5.5" fill="#BDBDBD" fill-opacity="0.92"/><circle cx="967.4" cy="205.7" r="5.5" fill="#F44336" fill-opacity="0.92"/><circle cx="965.9" cy="210.3" r="5.5" fill="#F44336" fill-opacity="0.92"/><circle cx="965.9" cy="215.2" r="5.5" fill="#F44336" fill-opacity="0.92"/><circle cx="973.8" cy="155.0" r="5.5" fill="#2196F3" fill-opacity="0.92"/><circle cx="973.4" cy="159.4" r="5.5" fill="#F44336" fill-opacity="0.92"/><circle cx="973.7" cy="163.3" r="5.5" fill="#2196F3" fill-opacity="0.92"/><circle cx="974.4" cy="167.1" r="5.5" fill="#F44336" fill-opacity="0.92"/><circle cx="973.1" cy="171.7" r="5.5" fill="#2196F3" fill-opacity="0.92"/><circle cx="973.3" cy="176.2" r="5.5" fill="#2196F3" fill-opacity="0.92"/><circle cx="974.4" cy="180.0" r="5.5" fill="#F44336" fill-opacity="0.92"/><circle cx="974.2" cy="183.9" r="5.5" fill="#BDBDBD" fill-opacity="0.92"/><circle cx="973.3" cy="188.4" r="5.5" fill="#F44336" fill-opacity="0.92"/><circle cx="974.2" cy="193.4" r="5.5" fill="#F44336" fill-opacity="0.92"/><circle cx="974.5" cy="197.5" r="5.5" fill="#F44336" fill-opacity="0.92"/><circle cx="974.3" cy="200.9" r="5.5" fill="#F44336" fill-opacity="0.92"/><circle cx="973.8" cy="205.8" r="5.5" fill="#F44336" fill-opacity="0.92"/><circle cx="973.2" cy="210.5" r="5.5" fill="#F44336" fill-opacity="0.92"/><circle cx="1008.5" cy="150.0" r="5.5" fill="#F44336" fill-opacity="0.92"/><circle cx="1007.7" cy="154.8" r="5.5" fill="#F44336" fill-opacity="0.92"/><circle cx="1007.8" cy="159.5" r="5.5" fill="#F44336" fill-opacity="0.92"/><circle cx="1008.0" cy="163.6" r="5.5" fill="#F44336" fill-opacity="0.92"/><circle cx="1008.2" cy="167.7" r="5.5" fill="#F44336" fill-opacity="0.92"/><circle cx="1007.9" cy="171.8" r="5.5" fill="#212121" fill-opacity="0.92"/><circle cx="1007.2" cy="175.4" r="5.5" fill="#212121" fill-opacity="0.92"/><circle cx="1008.8" cy="179.7" r="5.5" fill="#F44336" fill-opacity="0.92"/><circle cx="1007.9" cy="183.1" r="5.5" fill="#F44336" fill-opacity="0.92"/><circle cx="1008.6" cy="187.4" r="5.5" fill="#F44336" fill-opacity="0.92"/><circle cx="1024.2" cy="125.0" r="5.5" fill="#F44336" fill-opacity="0.92"/><circle cx="1022.7" cy="129.7" r="5.5" fill="#212121" fill-opacity="0.92"/><circle cx="1022.9" cy="133.9" r="5.5" fill="#F44336" fill-opacity="0.92"/><circle cx="1022.6" cy="138.3" r="5.5" fill="#212121" fill-opacity="0.92"/><circle cx="1023.4" cy="141.8" r="5.5" fill="#F44336" fill-opacity="0.92"/><circle cx="1023.4" cy="146.3" r="5.5" fill="#F44336" fill-opacity="0.92"/><circle cx="1024.1" cy="149.8" r="5.5" fill="#F44336" fill-opacity="0.92"/><circle cx="1023.0" cy="153.7" r="5.5" fill="#212121" fill-opacity="0.92"/><circle cx="1023.9" cy="157.9" r="5.5" fill="#F44336" fill-opacity="0.92"/><circle cx="1022.8" cy="161.6" r="5.5" fill="#F44336" fill-opacity="0.92"/><circle cx="1023.9" cy="165.2" r="5.5" fill="#F44336" fill-opacity="0.92"/><circle cx="1022.6" cy="170.0" r="5.5" fill="#212121" fill-opacity="0.92"/><circle cx="1023.2" cy="174.3" r="5.5" fill="#F44336" fill-opacity="0.92"/><circle cx="1023.6" cy="178.1" r="5.5" fill="#212121" fill-opacity="0.92"/><circle cx="1023.4" cy="182.1" r="5.5" fill="#F44336" fill-opacity="0.92"/><circle cx="1023.8" cy="186.9" r="5.5" fill="#F44336" fill-opacity="0.92"/><circle cx="1022.7" cy="190.5" r="5.5" fill="#F44336" fill-opacity="0.92"/><circle cx="1022.7" cy="195.3" r="5.5" fill="#212121" fill-opacity="0.92"/><circle cx="1022.9" cy="199.5" r="5.5" fill="#F44336" fill-opacity="0.92"/><circle cx="1023.6" cy="203.4" r="5.5" fill="#212121" fill-opacity="0.92"/><circle cx="1023.0" cy="207.3" r="5.5" fill="#F44336" fill-opacity="0.92"/><circle cx="1022.8" cy="211.4" r="5.5" fill="#F44336" fill-opacity="0.92"/><circle cx="1058.3" cy="145.0" r="5.5" fill="#F44336" fill-opacity="0.92"/><circle cx="1057.8" cy="149.3" r="5.5" fill="#212121" fill-opacity="0.92"/><circle cx="1059.0" cy="153.7" r="5.5" fill="#212121" fill-opacity="0.92"/><circle cx="1057.8" cy="158.1" r="5.5" fill="#212121" fill-opacity="0.92"/><circle cx="1058.7" cy="161.6" r="5.5" fill="#F44336" fill-opacity="0.92"/><circle cx="1058.8" cy="165.6" r="5.5" fill="#212121" fill-opacity="0.92"/><circle cx="1058.0" cy="169.0" r="5.5" fill="#F44336" fill-opacity="0.92"/><circle cx="1057.8" cy="173.6" r="5.5" fill="#212121" fill-opacity="0.92"/><circle cx="1057.9" cy="177.3" r="5.5" fill="#F44336" fill-opacity="0.92"/><circle cx="1058.3" cy="182.2" r="5.5" fill="#F44336" fill-opacity="0.92"/><circle cx="1058.8" cy="185.8" r="5.5" fill="#212121" fill-opacity="0.92"/><circle cx="1058.9" cy="190.3" r="5.5" fill="#F44336" fill-opacity="0.92"/><circle cx="1058.8" cy="195.0" r="5.5" fill="#212121" fill-opacity="0.92"/><circle cx="1058.9" cy="198.6" r="5.5" fill="#F44336" fill-opacity="0.92"/><circle cx="1058.6" cy="202.8" r="5.5" fill="#212121" fill-opacity="0.92"/><circle cx="1057.7" cy="206.5" r="5.5" fill="#F44336" fill-opacity="0.92"/><circle cx="1057.9" cy="209.9" r="5.5" fill="#212121" fill-opacity="0.92"/><circle cx="1187.3" cy="155.0" r="5.5" fill="#8BC34A" fill-opacity="0.92"/><circle cx="1185.9" cy="158.9" r="5.5" fill="#8BC34A" fill-opacity="0.92"/><circle cx="1186.9" cy="163.1" r="5.5" fill="#F44336" fill-opacity="0.92"/><circle cx="1186.0" cy="167.4" r="5.5" fill="#8BC34A" fill-opacity="0.92"/><circle cx="1186.3" cy="170.8" r="5.5" fill="#8BC34A" fill-opacity="0.92"/><circle cx="1185.9" cy="174.5" r="5.5" fill="#F44336" fill-opacity="0.92"/><circle cx="1186.5" cy="178.9" r="5.5" fill="#212121" fill-opacity="0.92"/><circle cx="1186.8" cy="182.7" r="5.5" fill="#F44336" fill-opacity="0.92"/><circle cx="1187.3" cy="187.0" r="5.5" fill="#212121" fill-opacity="0.92"/><circle cx="1187.4" cy="191.2" r="5.5" fill="#212121" fill-opacity="0.92"/><circle cx="1187.3" cy="196.0" r="5.5" fill="#212121" fill-opacity="0.92"/><circle cx="1187.0" cy="200.5" r="5.5" fill="#8BC34A" fill-opacity="0.92"/><circle cx="1186.0" cy="205.0" r="5.5" fill="#212121" fill-opacity="0.92"/><circle cx="1186.0" cy="209.9" r="5.5" fill="#F44336" fill-opacity="0.92"/><circle cx="1186.6" cy="214.1" r="5.5" fill="#8BC34A" fill-opacity="0.92"/><circle cx="1240.8" cy="75.0" r="5.5" fill="#F44336" fill-opacity="0.92"/><circle cx="1241.1" cy="78.6" r="5.5" fill="#F44336" fill-opacity="0.92"/><circle cx="1240.4" cy="82.9" r="5.5" fill="#F44336" fill-opacity="0.92"/><circle cx="1240.8" cy="87.7" r="5.5" fill="#212121" fill-opacity="0.92"/><circle cx="1241.3" cy="92.2" r="5.5" fill="#2196F3" fill-opacity="0.92"/><circle cx="1240.8" cy="97.0" r="5.5" fill="#212121" fill-opacity="0.92"/><circle cx="1240.4" cy="101.9" r="5.5" fill="#212121" fill-opacity="0.92"/><circle cx="1240.5" cy="106.0" r="5.5" fill="#F44336" fill-opacity="0.92"/><circle cx="1240.3" cy="110.3" r="5.5" fill="#212121" fill-opacity="0.92"/><circle cx="1240.1" cy="115.0" r="5.5" fill="#212121" fill-opacity="0.92"/><circle cx="1240.2" cy="119.5" r="5.5" fill="#2196F3" fill-opacity="0.92"/><circle cx="1241.2" cy="124.3" r="5.5" fill="#2196F3" fill-opacity="0.92"/><circle cx="1241.5" cy="148.0" r="5.5" fill="#F44336" fill-opacity="0.92"/><circle cx="1240.5" cy="152.8" r="5.5" fill="#BDBDBD" fill-opacity="0.92"/><circle cx="1240.0" cy="157.6" r="5.5" fill="#F44336" fill-opacity="0.92"/><circle cx="1240.9" cy="162.5" r="5.5" fill="#8BC34A" fill-opacity="0.92"/><circle cx="1241.4" cy="167.0" r="5.5" fill="#8BC34A" fill-opacity="0.92"/><circle cx="1241.3" cy="170.8" r="5.5" fill="#8BC34A" fill-opacity="0.92"/><circle cx="1240.2" cy="174.6" r="5.5" fill="#BDBDBD" fill-opacity="0.92"/><circle cx="1240.0" cy="179.1" r="5.5" fill="#212121" fill-opacity="0.92"/><circle cx="1240.0" cy="182.7" r="5.5" fill="#F44336" fill-opacity="0.92"/><circle cx="1241.1" cy="186.8" r="5.5" fill="#F44336" fill-opacity="0.92"/><circle cx="1240.3" cy="190.3" r="5.5" fill="#212121" fill-opacity="0.92"/><circle cx="1240.6" cy="193.8" r="5.5" fill="#BDBDBD" fill-opacity="0.92"/><circle cx="1239.9" cy="198.3" r="5.5" fill="#212121" fill-opacity="0.92"/><circle cx="1240.5" cy="202.2" r="5.5" fill="#F44336" fill-opacity="0.92"/><circle cx="1240.8" cy="205.9" r="5.5" fill="#212121" fill-opacity="0.92"/><circle cx="1240.8" cy="209.9" r="5.5" fill="#F44336" fill-opacity="0.92"/><circle cx="1240.0" cy="214.7" r="5.5" fill="#212121" fill-opacity="0.92"/><circle cx="1241.3" cy="218.3" r="5.5" fill="#212121" fill-opacity="0.92"/><circle cx="1255.9" cy="148.0" r="5.5" fill="#F44336" fill-opacity="0.92"/><circle cx="1255.0" cy="152.5" r="5.5" fill="#F44336" fill-opacity="0.92"/><circle cx="1255.5" cy="156.4" r="5.5" fill="#2196F3" fill-opacity="0.92"/><circle cx="1255.7" cy="161.3" r="5.5" fill="#F44336" fill-opacity="0.92"/><circle cx="1255.9" cy="165.9" r="5.5" fill="#2196F3" fill-opacity="0.92"/><circle cx="1255.2" cy="170.2" r="5.5" fill="#2196F3" fill-opacity="0.92"/><circle cx="1255.0" cy="174.4" r="5.5" fill="#2196F3" fill-opacity="0.92"/><circle cx="1255.6" cy="178.3" r="5.5" fill="#2196F3" fill-opacity="0.92"/><circle cx="1255.4" cy="182.0" r="5.5" fill="#2196F3" fill-opacity="0.92"/><circle cx="1255.0" cy="185.6" r="5.5" fill="#2196F3" fill-opacity="0.92"/><circle cx="1254.6" cy="189.7" r="5.5" fill="#212121" fill-opacity="0.92"/><circle cx="1254.9" cy="193.3" r="5.5" fill="#2196F3" fill-opacity="0.92"/><circle cx="1255.1" cy="197.7" r="5.5" fill="#F44336" fill-opacity="0.92"/><circle cx="1255.1" cy="202.2" r="5.5" fill="#F44336" fill-opacity="0.92"/><circle cx="1255.5" cy="206.9" r="5.5" fill="#F44336" fill-opacity="0.92"/><circle cx="1255.6" cy="211.4" r="5.5" fill="#212121" fill-opacity="0.92"/><circle cx="1255.0" cy="215.7" r="5.5" fill="#F44336" fill-opacity="0.92"/><circle cx="1361.0" cy="150.0" r="5.5" fill="#FFAB91" fill-opacity="0.92"/><circle cx="1361.2" cy="153.6" r="5.5" fill="#F44336" fill-opacity="0.92"/><circle cx="1361.6" cy="157.4" r="5.5" fill="#F44336" fill-opacity="0.92"/><circle cx="1361.9" cy="162.2" r="5.5" fill="#F44336" fill-opacity="0.92"/><circle cx="1361.6" cy="166.5" r="5.5" fill="#F44336" fill-opacity="0.92"/><circle cx="1362.0" cy="170.7" r="5.5" fill="#F44336" fill-opacity="0.92"/><circle cx="1360.6" cy="174.5" r="5.5" fill="#F44336" fill-opacity="0.92"/><circle cx="1361.9" cy="178.8" r="5.5" fill="#F44336" fill-opacity="0.92"/><circle cx="1360.7" cy="182.5" r="5.5" fill="#F44336" fill-opacity="0.92"/><circle cx="1361.0" cy="186.9" r="5.5" fill="#212121" fill-opacity="0.92"/><circle cx="1361.4" cy="190.5" r="5.5" fill="#FFAB91" fill-opacity="0.92"/><circle cx="1360.7" cy="194.5" r="5.5" fill="#F44336" fill-opacity="0.92"/><circle cx="1360.7" cy="198.2" r="5.5" fill="#FFAB91" fill-opacity="0.92"/><circle cx="1361.7" cy="202.0" r="5.5" fill="#F44336" fill-opacity="0.92"/><circle cx="1361.1" cy="206.7" r="5.5" fill="#F44336" fill-opacity="0.92"/><circle cx="1361.0" cy="211.7" r="5.5" fill="#F44336" fill-opacity="0.92"/><circle cx="1360.9" cy="216.6" r="5.5" fill="#F44336" fill-opacity="0.92"/><circle cx="1259.6" cy="160.0" r="5.5" fill="#F44336" fill-opacity="0.92"/><circle cx="1259.6" cy="164.9" r="5.5" fill="#F44336" fill-opacity="0.92"/><circle cx="1259.7" cy="169.2" r="5.5" fill="#F44336" fill-opacity="0.92"/><circle cx="1259.7" cy="172.8" r="5.5" fill="#F44336" fill-opacity="0.92"/><circle cx="1259.3" cy="177.0" r="5.5" fill="#212121" fill-opacity="0.92"/><circle cx="1259.8" cy="180.7" r="5.5" fill="#F44336" fill-opacity="0.92"/><circle cx="1259.3" cy="184.1" r="5.5" fill="#2196F3" fill-opacity="0.92"/><circle cx="1258.7" cy="189.0" r="5.5" fill="#F44336" fill-opacity="0.92"/><circle cx="1259.9" cy="194.0" r="5.5" fill="#F44336" fill-opacity="0.92"/><circle cx="1258.6" cy="198.1" r="5.5" fill="#F44336" fill-opacity="0.92"/><circle cx="1259.5" cy="201.5" r="5.5" fill="#212121" fill-opacity="0.92"/><circle cx="1259.4" cy="205.0" r="5.5" fill="#F44336" fill-opacity="0.92"/><circle cx="1259.9" cy="208.9" r="5.5" fill="#2196F3" fill-opacity="0.92"/><circle cx="1258.6" cy="213.5" r="5.5" fill="#212121" fill-opacity="0.92"/><circle cx="1159.3" cy="140.0" r="5.5" fill="#FFAB91" fill-opacity="0.92"/><circle cx="1159.7" cy="144.6" r="5.5" fill="#FFAB91" fill-opacity="0.92"/><circle cx="1160.6" cy="149.5" r="5.5" fill="#8BC34A" fill-opacity="0.92"/><circle cx="1159.6" cy="154.1" r="5.5" fill="#F44336" fill-opacity="0.92"/><circle cx="1159.3" cy="157.6" r="5.5" fill="#FFAB91" fill-opacity="0.92"/><circle cx="1160.3" cy="162.4" r="5.5" fill="#8BC34A" fill-opacity="0.92"/><circle cx="1160.3" cy="166.6" r="5.5" fill="#8BC34A" fill-opacity="0.92"/><circle cx="1159.5" cy="171.4" r="5.5" fill="#8BC34A" fill-opacity="0.92"/><circle cx="1159.9" cy="175.2" r="5.5" fill="#8BC34A" fill-opacity="0.92"/><circle cx="1159.9" cy="179.3" r="5.5" fill="#FFAB91" fill-opacity="0.92"/><circle cx="1159.8" cy="183.9" r="5.5" fill="#F44336" fill-opacity="0.92"/><circle cx="1159.8" cy="188.0" r="5.5" fill="#8BC34A" fill-opacity="0.92"/><circle cx="1159.2" cy="191.8" r="5.5" fill="#FFAB91" fill-opacity="0.92"/><circle cx="1159.8" cy="195.6" r="5.5" fill="#8BC34A" fill-opacity="0.92"/><circle cx="1159.5" cy="199.8" r="5.5" fill="#FFAB91" fill-opacity="0.92"/><circle cx="1159.8" cy="203.5" r="5.5" fill="#FFAB91" fill-opacity="0.92"/><circle cx="1159.4" cy="207.9" r="5.5" fill="#8BC34A" fill-opacity="0.92"/><circle cx="1160.0" cy="211.5" r="5.5" fill="#FFAB91" fill-opacity="0.92"/></g>
<line x1="195.0" y1="272.0" x2="1487.0" y2="272.0" stroke="#b0b0b0" stroke-width="1.6"/>
<line x1="195.0" y1="356.4" x2="1487.0" y2="356.4" stroke="#b0b0b0" stroke-width="1.6"/>
<text x="115.0" y="281.5" font-size="26.5" text-anchor="end">≥</text>
<text x="164.0" y="281.5" font-size="26.5" text-anchor="end" textLength="38.0" lengthAdjust="spacingAndGlyphs">100</text>
<text x="170.0" y="366.0" font-size="26.5" text-anchor="end" textLength="27.4" lengthAdjust="spacingAndGlyphs">50</text>
<text x="172.0" y="450.0" font-size="26.5" text-anchor="end" textLength="13.7" lengthAdjust="spacingAndGlyphs">0</text>
<text x="203.4" y="481.5" font-size="26.5" text-anchor="middle" textLength="34.3" lengthAdjust="spacingAndGlyphs">0.0</text>
<text x="457.6" y="481.5" font-size="26.5" text-anchor="middle" textLength="34.3" lengthAdjust="spacingAndGlyphs">0.5</text>
<text x="711.9" y="481.5" font-size="26.5" text-anchor="middle" textLength="34.3" lengthAdjust="spacingAndGlyphs">1.0</text>
<text x="966.1" y="481.5" font-size="26.5" text-anchor="middle" textLength="34.3" lengthAdjust="spacingAndGlyphs">1.5</text>
<text x="1220.4" y="481.5" font-size="26.5" text-anchor="middle" textLength="34.3" lengthAdjust="spacingAndGlyphs">2.0</text>
<text x="1474.7" y="481.5" font-size="26.5" text-anchor="middle" textLength="34.3" lengthAdjust="spacingAndGlyphs">2.5</text>
<text x="1477.0" y="515.4" font-size="26.5" text-anchor="end">1e8</text>
<text x="74.0" y="365.0" font-size="27" text-anchor="middle" textLength="168.0" lengthAdjust="spacingAndGlyphs" transform="rotate(-90 74.0 365.0)"># of mutations</text>
<path d="M207.00,440.80 L207.70,439.30 L208.40,438.14 L209.10,434.42 L209.80,434.00 L210.50,432.62 L211.20,432.01 L211.90,425.64 L212.60,432.47 L213.30,431.23 L214.00,425.11 L214.70,429.29 L215.40,431.23 L216.10,428.42 L216.80,429.58 L217.50,423.54 L218.20,425.63 L218.90,426.83 L219.60,429.21 L220.30,421.33 L221.00,428.49 L221.70,425.07 L222.40,417.16 L223.10,422.80 L223.80,425.32 L224.50,429.12 L225.20,419.60 L225.90,430.12 L226.60,427.96 L227.30,430.27 L228.00,429.32 L228.70,428.76 L229.40,430.68 L230.10,424.23 L230.80,430.48 L231.50,428.63 L232.20,431.20 L232.90,421.65 L233.60,424.15 L234.30,430.34 L235.00,428.58 L235.70,427.30 L236.40,427.36 L237.10,430.80 L237.80,426.95 L238.50,417.50 L239.20,420.56 L239.90,429.23 L240.60,422.08 L241.30,427.35 L242.00,427.84 L242.70,428.34 L243.40,429.56 L244.10,428.86 L244.80,428.83 L245.50,428.58 L246.20,428.18 L246.90,428.86 L247.60,423.67 L248.30,423.62 L249.00,428.73 L249.70,431.45 L250.40,423.66 L251.10,429.52 L251.80,424.45 L252.50,427.42 L253.20,428.91 L253.90,429.31 L254.60,428.35 L255.30,430.79 L256.00,430.59 L256.70,429.35 L257.40,427.17 L258.10,431.43 L258.80,428.41 L259.50,425.75 L260.20,431.47 L260.90,425.74 L261.60,428.79 L262.30,427.33 L263.00,427.95 L263.70,425.34 L264.40,428.52 L265.10,428.27 L265.80,420.61 L266.50,431.06 L267.20,427.61 L267.90,427.75 L268.60,429.60 L269.30,428.46 L270.00,421.71 L270.70,427.35 L271.40,430.26 L272.10,426.08 L272.80,419.46 L273.50,431.41 L274.20,430.22 L274.90,431.05 L275.60,428.01 L276.30,429.55 L277.00,430.75 L277.70,428.52 L278.40,428.03 L279.10,430.06 L279.80,430.83 L280.50,429.45 L281.20,429.41 L281.90,431.64 L282.60,430.01 L283.30,429.62 L284.00,429.42 L284.70,423.54 L285.40,429.90 L286.10,429.72 L286.80,429.11 L287.50,425.83 L288.20,428.82 L288.90,423.43 L289.60,427.01 L290.30,429.93 L291.00,426.91 L291.70,429.07 L292.40,429.19 L293.10,428.64 L293.80,430.49 L294.50,430.92 L295.20,425.66 L295.90,431.45 L296.60,424.71 L297.30,426.44 L298.00,423.37 L298.70,429.73 L299.40,429.95 L300.10,429.69 L300.80,424.86 L301.50,426.14 L302.20,429.93 L302.90,429.91 L303.60,423.90 L304.30,431.15 L305.00,427.82 L305.70,431.87 L306.40,428.92 L307.10,430.21 L307.80,427.73 L308.50,428.05 L309.20,428.46 L309.90,428.19 L310.60,428.69 L311.30,431.66 L312.00,431.92 L312.70,422.50 L313.40,430.53 L314.10,429.70 L314.80,429.24 L315.50,422.88 L316.20,430.89 L316.90,431.16 L317.60,430.93 L318.30,429.84 L319.00,427.77 L319.70,431.68 L320.40,431.82 L321.10,425.78 L321.80,431.77 L322.50,429.78 L323.20,430.81 L323.90,430.83 L324.60,430.32 L325.30,428.84 L326.00,421.87 L326.70,431.73 L327.40,430.02 L328.10,429.84 L328.80,430.07 L329.50,424.58 L330.20,426.81 L330.90,430.19 L331.60,430.96 L332.30,428.79 L333.00,428.06 L333.70,431.60 L334.40,429.45 L335.10,429.20 L335.80,429.42 L336.50,431.05 L337.20,426.65 L337.90,430.31 L338.60,427.94 L339.30,429.79 L340.00,426.77 L340.70,426.52 L341.40,429.50 L342.10,424.41 L342.80,429.39 L343.50,429.83 L344.20,430.34 L344.90,426.61 L345.60,430.11 L346.30,426.31 L347.00,431.81 L347.70,429.25 L348.40,430.66 L349.10,431.67 L349.80,428.33 L350.50,430.34 L351.20,430.85 L351.90,425.04 L352.60,430.66 L353.30,431.37 L354.00,429.93 L354.70,431.45 L355.40,426.77 L356.10,429.84 L356.80,424.43 L357.50,426.38 L358.20,431.86 L358.90,429.11 L359.60,431.30 L360.30,429.04 L361.00,428.21 L361.70,430.00 L362.40,428.44 L363.10,429.47 L363.80,428.78 L364.50,429.59 L365.20,428.92 L365.90,431.64 L366.60,428.19 L367.30,431.05 L368.00,426.04 L368.70,427.62 L369.40,426.54 L370.10,426.05 L370.80,428.43 L371.50,429.15 L372.20,428.91 L372.90,428.63 L373.60,430.04 L374.30,424.81 L375.00,430.71 L375.70,431.17 L376.40,427.37 L377.10,429.03 L377.80,428.53 L378.50,428.75 L379.20,423.95 L379.90,423.30 L380.60,426.11 L381.30,431.93 L382.00,428.42 L382.70,431.09 L383.40,422.71 L384.10,430.12 L384.80,428.95 L385.50,432.04 L386.20,429.43 L386.90,431.93 L387.60,428.42 L388.30,432.32 L389.00,431.40 L389.70,432.33 L390.40,431.53 L391.10,430.85 L391.80,431.01 L392.50,426.02 L393.20,428.55 L393.90,431.05 L394.60,426.80 L395.30,431.67 L396.00,427.42 L396.70,431.91 L397.40,428.68 L398.10,429.79 L398.80,430.86 L399.50,432.36 L400.20,428.45 L400.90,426.81 L401.60,426.38 L402.30,429.20 L403.00,431.76 L403.70,430.16 L404.40,431.81 L405.10,430.28 L405.80,431.57 L406.50,428.87 L407.20,429.51 L407.90,430.88 L408.60,422.07 L409.30,430.04 L410.00,428.61 L410.70,423.98 L411.40,424.13 L412.10,431.55 L412.80,425.40 L413.50,429.59 L414.20,429.26 L414.90,426.50 L415.60,431.69 L416.30,431.56 L417.00,429.92 L417.70,432.10 L418.40,428.28 L419.10,430.54 L419.80,429.10 L420.50,428.11 L421.20,430.53 L421.90,428.46 L422.60,430.42 L423.30,431.98 L424.00,429.15 L424.70,430.92 L425.40,431.67 L426.10,425.27 L426.80,431.17 L427.50,424.71 L428.20,429.38 L428.90,423.22 L429.60,422.54 L430.30,424.86 L431.00,430.88 L431.70,428.37 L432.40,430.62 L433.10,431.98 L433.80,430.01 L434.50,427.05 L435.20,422.20 L435.90,423.74 L436.60,431.23 L437.30,426.35 L438.00,430.74 L438.70,423.71 L439.40,427.50 L440.10,426.60 L440.80,429.22 L441.50,429.22 L442.20,431.05 L442.90,424.14 L443.60,427.83 L444.30,424.93 L445.00,430.93 L445.70,430.78 L446.40,430.80 L447.10,421.66 L447.80,428.77 L448.50,425.24 L449.20,430.42 L449.90,429.74 L450.60,429.01 L451.30,431.19 L452.00,425.37 L452.70,428.55 L453.40,425.06 L454.10,431.76 L454.80,429.44 L455.50,426.56 L456.20,422.80 L456.90,426.57 L457.60,423.99 L458.30,429.96 L459.00,421.07 L459.70,421.24 L460.40,425.16 L461.10,428.35 L461.80,427.04 L462.50,425.27 L463.20,427.36 L463.90,418.77 L464.60,425.85 L465.30,417.68 L466.00,419.70 L466.70,426.77 L467.40,426.03 L468.10,419.24 L468.80,427.89 L469.50,422.99 L470.20,425.53 L470.90,426.34 L471.60,420.71 L472.30,422.60 L473.00,426.96 L473.70,420.52 L474.40,426.34 L475.10,426.66 L475.80,425.92 L476.50,421.38 L477.20,427.46 L477.90,431.25 L478.60,430.99 L479.30,427.85 L480.00,427.78 L480.70,425.19 L481.40,423.01 L482.10,428.00 L482.80,430.38 L483.50,429.45 L484.20,430.26 L484.90,428.62 L485.60,428.68 L486.30,429.90 L487.00,430.27 L487.70,426.85 L488.40,424.15 L489.10,430.96 L489.80,426.41 L490.50,423.36 L491.20,430.78 L491.90,430.50 L492.60,422.60 L493.30,425.43 L494.00,428.87 L494.70,427.95 L495.40,427.00 L496.10,423.55 L496.80,426.68 L497.50,426.72 L498.20,428.22 L498.90,429.82 L499.60,425.02 L500.30,428.72 L501.00,423.72 L501.70,426.31 L502.40,424.55 L503.10,428.48 L503.80,427.13 L504.50,429.41 L505.20,427.65 L505.90,426.47 L506.60,428.07 L507.30,429.26 L508.00,425.31 L508.70,430.15 L509.40,428.45 L510.10,430.43 L510.80,421.59 L511.50,425.89 L512.20,429.07 L512.90,427.52 L513.60,427.30 L514.30,428.20 L515.00,427.93 L515.70,430.30 L516.40,428.10 L517.10,426.37 L517.80,427.57 L518.50,428.96 L519.20,430.62 L519.90,430.64 L520.60,415.28 L521.30,428.50 L522.00,426.95 L522.70,428.92 L523.40,426.06 L524.10,428.15 L524.80,422.29 L525.50,417.50 L526.20,430.07 L526.90,429.65 L527.60,427.45 L528.30,426.43 L529.00,418.61 L529.70,428.70 L530.40,430.43 L531.10,419.91 L531.80,425.83 L532.50,425.33 L533.20,426.12 L533.90,424.35 L534.60,420.87 L535.30,426.76 L536.00,426.69 L536.70,417.91 L537.40,412.27 L538.10,429.49 L538.80,427.36 L539.50,427.45 L540.20,426.11 L540.90,428.92 L541.60,426.89 L542.30,427.09 L543.00,423.44 L543.70,428.95 L544.40,429.52 L545.10,418.57 L545.80,421.36 L546.50,423.46 L547.20,424.86 L547.90,429.75 L548.60,421.50 L549.30,426.19 L550.00,420.37 L550.70,428.18 L551.40,422.83 L552.10,421.98 L552.80,427.45 L553.50,429.65 L554.20,426.70 L554.90,425.42 L555.60,429.75 L556.30,429.20 L557.00,425.64 L557.70,427.78 L558.40,425.96 L559.10,426.26 L559.80,422.38 L560.50,429.42 L561.20,418.36 L561.90,423.70 L562.60,417.29 L563.30,424.55 L564.00,424.86 L564.70,406.42 L565.40,417.85 L566.10,414.08 L566.80,421.16 L567.50,421.91 L568.20,421.49 L568.90,420.25 L569.60,418.19 L570.30,415.02 L571.00,416.09 L571.70,401.94 L572.40,416.65 L573.10,409.30 L573.80,404.22 L574.50,407.65 L575.20,415.00 L575.90,414.76 L576.60,407.83 L577.30,397.79 L578.00,409.49 L578.70,416.73 L579.40,411.47 L580.10,405.40 L580.80,406.84 L581.50,415.63 L582.20,413.68 L582.90,414.42 L583.60,413.97 L584.30,412.77 L585.00,405.05 L585.70,395.59 L586.40,414.95 L587.10,415.10 L587.80,410.92 L588.50,405.27 L589.20,412.25 L589.90,416.01 L590.60,411.28 L591.30,402.71 L592.00,412.81 L592.70,408.67 L593.40,407.73 L594.10,416.10 L594.80,410.16 L595.50,416.87 L596.20,418.51 L596.90,419.35 L597.60,423.73 L598.30,417.55 L599.00,424.98 L599.70,417.79 L600.40,426.08 L601.10,426.58 L601.80,426.60 L602.50,421.40 L603.20,427.07 L603.90,423.74 L604.60,415.39 L605.30,427.05 L606.00,424.54 L606.70,418.21 L607.40,414.32 L608.10,416.53 L608.80,425.45 L609.50,426.43 L610.20,423.10 L610.90,422.25 L611.60,416.71 L612.30,421.49 L613.00,404.49 L613.70,419.12 L614.40,415.31 L615.10,414.35 L615.80,418.08 L616.50,416.78 L617.20,412.31 L617.90,409.25 L618.60,407.36 L619.30,414.95 L620.00,416.86 L620.70,412.40 L621.40,406.60 L622.10,399.41 L622.80,408.31 L623.50,414.45 L624.20,414.81 L624.90,409.23 L625.60,408.93 L626.30,411.90 L627.00,406.44 L627.70,416.58 L628.40,402.97 L629.10,414.26 L629.80,408.08 L630.50,409.88 L631.20,405.41 L631.90,400.02 L632.60,408.85 L633.30,416.73 L634.00,396.80 L634.70,418.52 L635.40,419.89 L636.10,416.29 L636.80,415.82 L637.50,422.27 L638.20,423.37 L638.90,425.43 L639.60,418.50 L640.30,422.46 L641.00,417.82 L641.70,426.00 L642.40,425.87 L643.10,422.26 L643.80,420.86 L644.50,424.67 L645.20,426.06 L645.90,421.53 L646.60,424.65 L647.30,419.78 L648.00,426.03 L648.70,425.53 L649.40,421.40 L650.10,426.62 L650.80,427.96 L651.50,418.01 L652.20,427.99 L652.90,425.24 L653.60,418.75 L654.30,428.07 L655.00,427.22 L655.70,423.77 L656.40,424.89 L657.10,424.88 L657.80,425.98 L658.50,419.17 L659.20,428.93 L659.90,428.14 L660.60,424.10 L661.30,428.50 L662.00,421.32 L662.70,425.24 L663.40,423.33 L664.10,424.45 L664.80,424.81 L665.50,426.28 L666.20,426.35 L666.90,423.89 L667.60,424.14 L668.30,427.45 L669.00,424.87 L669.70,425.93 L670.40,428.23 L671.10,429.15 L671.80,425.86 L672.50,424.62 L673.20,426.51 L673.90,424.15 L674.60,427.84 L675.30,426.65 L676.00,427.30 L676.70,426.97 L677.40,427.44 L678.10,424.07 L678.80,428.38 L679.50,420.45 L680.20,417.14 L680.90,428.75 L681.60,426.17 L682.30,419.70 L683.00,427.79 L683.70,421.16 L684.40,425.72 L685.10,419.02 L685.80,424.67 L686.50,424.26 L687.20,426.20 L687.90,426.60 L688.60,426.49 L689.30,428.09 L690.00,423.84 L690.70,424.85 L691.40,416.92 L692.10,421.10 L692.80,427.38 L693.50,424.21 L694.20,428.93 L694.90,423.82 L695.60,428.25 L696.30,423.80 L697.00,416.94 L697.70,424.91 L698.40,424.03 L699.10,422.68 L699.80,418.14 L700.50,424.44 L701.20,418.09 L701.90,424.22 L702.60,418.42 L703.30,413.67 L704.00,416.18 L704.70,410.32 L705.40,413.54 L706.10,415.05 L706.80,415.99 L707.50,413.22 L708.20,409.93 L708.90,408.55 L709.60,406.39 L710.30,409.98 L711.00,409.51 L711.70,411.47 L712.40,401.49 L713.10,412.29 L713.80,410.09 L714.50,405.23 L715.20,417.18 L715.90,407.86 L716.60,415.13 L717.30,416.46 L718.00,414.89 L718.70,412.01 L719.40,414.99 L720.10,416.97 L720.80,412.75 L721.50,413.45 L722.20,417.06 L722.90,419.22 L723.60,423.85 L724.30,418.09 L725.00,426.08 L725.70,414.07 L726.40,425.99 L727.10,426.97 L727.80,424.79 L728.50,427.59 L729.20,425.83 L729.90,424.38 L730.60,416.97 L731.30,419.03 L732.00,424.76 L732.70,419.36 L733.40,425.36 L734.10,422.74 L734.80,427.91 L735.50,424.12 L736.20,426.22 L736.90,424.30 L737.60,419.37 L738.30,412.82 L739.00,410.54 L739.70,420.55 L740.40,405.02 L741.10,414.29 L741.80,408.83 L742.50,418.34 L743.20,412.81 L743.90,400.35 L744.60,405.42 L745.30,420.44 L746.00,412.26 L746.70,401.71 L747.40,420.61 L748.10,420.19 L748.80,416.75 L749.50,423.83 L750.20,421.45 L750.90,422.64 L751.60,424.06 L752.30,425.92 L753.00,425.10 L753.70,420.74 L754.40,428.15 L755.10,417.66 L755.80,424.27 L756.50,425.67 L757.20,423.14 L757.90,419.48 L758.60,425.21 L759.30,423.34 L760.00,423.67 L760.70,426.20 L761.40,425.20 L762.10,424.04 L762.80,427.56 L763.50,419.13 L764.20,426.63 L764.90,421.42 L765.60,428.23 L766.30,423.06 L767.00,416.66 L767.70,422.07 L768.40,425.74 L769.10,426.00 L769.80,427.27 L770.50,425.11 L771.20,428.57 L771.90,416.63 L772.60,426.00 L773.30,427.27 L774.00,424.78 L774.70,424.07 L775.40,425.10 L776.10,424.85 L776.80,426.17 L777.50,419.34 L778.20,420.74 L778.90,428.02 L779.60,424.71 L780.30,428.01 L781.00,420.89 L781.70,424.35 L782.40,424.85 L783.10,417.85 L783.80,424.25 L784.50,428.94 L785.20,421.38 L785.90,424.81 L786.60,422.48 L787.30,428.45 L788.00,419.61 L788.70,418.88 L789.40,426.08 L790.10,419.49 L790.80,427.33 L791.50,429.18 L792.20,425.29 L792.90,419.65 L793.60,416.27 L794.30,424.74 L795.00,424.26 L795.70,424.67 L796.40,425.97 L797.10,427.37 L797.80,418.99 L798.50,427.85 L799.20,427.20 L799.90,428.23 L800.60,428.64 L801.30,423.31 L802.00,429.69 L802.70,424.41 L803.40,420.70 L804.10,425.19 L804.80,428.09 L805.50,425.86 L806.20,429.02 L806.90,428.77 L807.60,429.68 L808.30,426.02 L809.00,415.87 L809.70,425.59 L810.40,425.45 L811.10,418.78 L811.80,429.65 L812.50,426.85 L813.20,429.40 L813.90,425.44 L814.60,425.58 L815.30,428.60 L816.00,422.67 L816.70,427.02 L817.40,423.95 L818.10,425.07 L818.80,427.84 L819.50,428.18 L820.20,428.19 L820.90,420.72 L821.60,424.10 L822.30,427.22 L823.00,428.81 L823.70,421.57 L824.40,426.69 L825.10,437.45 L825.80,439.45 L826.50,439.45 L827.20,439.45 L827.90,439.45 L828.60,439.45 L829.30,439.45 L830.00,439.45 L830.70,439.45 L831.40,439.45 L832.10,439.45 L832.80,439.45 L833.50,439.45 L834.20,439.45 L834.90,439.45 L835.60,439.45 L836.30,439.45 L837.00,439.45 L837.70,439.45 L838.40,439.45 L839.10,439.45 L839.80,439.45 L840.50,439.45 L841.20,439.45 L841.90,439.45 L842.60,439.45 L843.30,439.45 L844.00,439.45 L844.70,439.45 L845.40,439.45 L846.10,439.45 L846.80,439.45 L847.50,439.45 L848.20,439.45 L848.90,439.45 L849.60,439.45 L850.30,439.45 L851.00,439.45 L851.70,439.45 L852.40,439.45 L853.10,439.45 L853.80,439.45 L854.50,439.45 L855.20,439.45 L855.90,439.45 L856.60,439.45 L857.30,439.45 L858.00,439.45 L858.70,439.45 L859.40,439.45 L860.10,439.45 L860.80,439.45 L861.50,439.45 L862.20,439.45 L862.90,439.45 L863.60,439.45 L864.30,439.45 L865.00,439.45 L865.70,439.45 L866.40,439.45 L867.10,439.45 L867.80,439.45 L868.50,439.45 L869.20,439.45 L869.90,439.45 L870.60,439.45 L871.30,439.45 L872.00,439.45 L872.70,439.45 L873.40,439.45 L874.10,439.45 L874.80,439.45 L875.50,439.45 L876.20,439.45 L876.90,439.45 L877.60,439.45 L878.30,439.45 L879.00,439.45 L879.70,439.45 L880.40,439.45 L881.10,439.45 L881.80,439.45 L882.50,439.45 L883.20,439.45 L883.90,439.45 L884.60,439.45 L885.30,439.45 L886.00,439.45 L886.70,439.45 L887.40,439.45 L888.10,439.45 L888.80,439.45 L889.50,439.45 L890.20,439.45 L890.90,439.45 L891.60,439.45 L892.30,439.45 L893.00,439.45 L893.70,439.45 L894.40,439.45 L895.10,439.45 L895.80,439.45 L896.50,439.45 L897.20,439.45 L897.90,439.45 L898.60,439.45 L899.30,439.45 L900.00,439.45 L900.70,439.45 L901.40,439.45 L902.10,439.45 L902.80,439.45 L903.50,439.45 L904.20,439.45 L904.90,439.45 L905.60,439.45 L906.30,439.45 L907.00,439.45 L907.70,439.45 L908.40,439.45 L909.10,439.45 L909.80,439.45 L910.50,439.45 L911.20,439.45 L911.90,439.45 L912.60,439.45 L913.30,439.45 L914.00,439.45 L914.70,439.45 L915.40,439.45 L916.10,439.45 L916.80,439.45 L917.50,439.45 L918.20,439.45 L918.90,439.45 L919.60,439.45 L920.30,439.45 L921.00,439.45 L921.70,439.45 L922.40,439.45 L923.10,439.45 L923.80,439.45 L924.50,439.45 L925.20,439.45 L925.90,439.45 L926.60,439.45 L927.30,439.45 L928.00,439.45 L928.70,439.45 L929.40,439.45 L930.10,439.69 L930.80,436.60 L931.50,433.19 L932.20,433.07 L932.90,430.32 L933.60,433.47 L934.30,427.46 L935.00,432.35 L935.70,431.38 L936.40,429.18 L937.10,427.91 L937.80,433.54 L938.50,432.93 L939.20,431.58 L939.90,428.84 L940.60,431.72 L941.30,433.23 L942.00,433.34 L942.70,431.62 L943.40,430.64 L944.10,431.36 L944.80,432.28 L945.50,432.27 L946.20,431.06 L946.90,428.41 L947.60,430.48 L948.30,430.03 L949.00,427.53 L949.70,432.37 L950.40,428.72 L951.10,424.37 L951.80,430.03 L952.50,427.28 L953.20,432.88 L953.90,428.23 L954.60,429.08 L955.30,429.41 L956.00,425.37 L956.70,432.31 L957.40,428.70 L958.10,428.76 L958.80,430.62 L959.50,431.83 L960.20,430.33 L960.90,430.09 L961.60,430.40 L962.30,428.45 L963.00,430.45 L963.70,429.14 L964.40,424.64 L965.10,425.82 L965.80,429.84 L966.50,426.18 L967.20,427.30 L967.90,419.97 L968.60,428.73 L969.30,428.74 L970.00,429.01 L970.70,428.96 L971.40,428.35 L972.10,431.57 L972.80,429.36 L973.50,430.23 L974.20,430.49 L974.90,429.02 L975.60,427.79 L976.30,428.03 L977.00,425.19 L977.70,425.84 L978.40,419.74 L979.10,430.94 L979.80,428.31 L980.50,428.71 L981.20,430.34 L981.90,430.72 L982.60,429.23 L983.30,431.07 L984.00,425.09 L984.70,428.12 L985.40,427.84 L986.10,431.52 L986.80,429.89 L987.50,425.20 L988.20,428.35 L988.90,429.85 L989.60,421.22 L990.30,430.15 L991.00,427.18 L991.70,417.44 L992.40,429.97 L993.10,425.28 L993.80,429.33 L994.50,429.27 L995.20,427.49 L995.90,429.41 L996.60,429.10 L997.30,431.22 L998.00,428.72 L998.70,429.26 L999.40,430.65 L1000.10,427.94 L1000.80,425.06 L1001.50,427.99 L1002.20,424.20 L1002.90,431.03 L1003.60,431.13 L1004.30,430.79 L1005.00,430.68 L1005.70,424.52 L1006.40,429.02 L1007.10,426.83 L1007.80,424.25 L1008.50,428.16 L1009.20,422.52 L1009.90,430.14 L1010.60,427.83 L1011.30,424.66 L1012.00,426.49 L1012.70,427.52 L1013.40,429.75 L1014.10,429.48 L1014.80,423.37 L1015.50,426.46 L1016.20,426.92 L1016.90,430.58 L1017.60,424.93 L1018.30,428.57 L1019.00,428.74 L1019.70,427.53 L1020.40,430.52 L1021.10,426.96 L1021.80,428.63 L1022.50,426.08 L1023.20,425.37 L1023.90,417.08 L1024.60,427.77 L1025.30,428.99 L1026.00,421.39 L1026.70,427.41 L1027.40,425.96 L1028.10,422.73 L1028.80,426.38 L1029.50,430.59 L1030.20,425.72 L1030.90,426.75 L1031.60,420.53 L1032.30,428.79 L1033.00,429.15 L1033.70,428.98 L1034.40,427.50 L1035.10,428.76 L1035.80,426.02 L1036.50,425.93 L1037.20,422.51 L1037.90,428.63 L1038.60,426.49 L1039.30,425.97 L1040.00,429.67 L1040.70,425.00 L1041.40,426.90 L1042.10,428.95 L1042.80,427.98 L1043.50,428.84 L1044.20,427.77 L1044.90,426.94 L1045.60,422.72 L1046.30,426.83 L1047.00,421.72 L1047.70,414.71 L1048.40,422.08 L1049.10,420.37 L1049.80,414.33 L1050.50,422.19 L1051.20,425.52 L1051.90,422.39 L1052.60,421.25 L1053.30,424.58 L1054.00,421.52 L1054.70,420.46 L1055.40,421.76 L1056.10,420.00 L1056.80,415.73 L1057.50,416.40 L1058.20,419.63 L1058.90,417.07 L1059.60,420.47 L1060.30,427.59 L1061.00,414.21 L1061.70,416.23 L1062.40,421.75 L1063.10,424.51 L1063.80,422.96 L1064.50,421.19 L1065.20,412.06 L1065.90,424.01 L1066.60,415.62 L1067.30,422.67 L1068.00,425.62 L1068.70,426.22 L1069.40,422.84 L1070.10,414.81 L1070.80,422.79 L1071.50,420.01 L1072.20,411.41 L1072.90,419.40 L1073.60,425.68 L1074.30,420.35 L1075.00,413.20 L1075.70,425.12 L1076.40,425.59 L1077.10,421.82 L1077.80,424.19 L1078.50,417.41 L1079.20,419.46 L1079.90,422.19 L1080.60,422.38 L1081.30,418.12 L1082.00,420.89 L1082.70,425.38 L1083.40,423.23 L1084.10,416.74 L1084.80,427.91 L1085.50,415.80 L1086.20,426.62 L1086.90,424.29 L1087.60,424.14 L1088.30,427.87 L1089.00,428.61 L1089.70,424.62 L1090.40,428.14 L1091.10,427.71 L1091.80,426.90 L1092.50,424.48 L1093.20,425.54 L1093.90,427.71 L1094.60,423.11 L1095.30,427.08 L1096.00,429.46 L1096.70,427.17 L1097.40,428.84 L1098.10,429.24 L1098.80,425.40 L1099.50,426.44 L1100.20,428.14 L1100.90,429.40 L1101.60,427.83 L1102.30,426.58 L1103.00,426.70 L1103.70,428.13 L1104.40,427.12 L1105.10,421.25 L1105.80,428.17 L1106.50,429.49 L1107.20,429.50 L1107.90,421.55 L1108.60,419.91 L1109.30,425.73 L1110.00,423.92 L1110.70,420.60 L1111.40,427.53 L1112.10,428.70 L1112.80,428.96 L1113.50,430.10 L1114.20,425.62 L1114.90,428.20 L1115.60,427.19 L1116.30,417.98 L1117.00,422.14 L1117.70,419.38 L1118.40,425.93 L1119.10,427.41 L1119.80,427.50 L1120.50,426.13 L1121.20,424.30 L1121.90,423.33 L1122.60,426.45 L1123.30,425.43 L1124.00,427.34 L1124.70,429.12 L1125.40,429.78 L1126.10,429.32 L1126.80,428.95 L1127.50,424.01 L1128.20,429.18 L1128.90,426.53 L1129.60,425.29 L1130.30,423.39 L1131.00,424.81 L1131.70,429.00 L1132.40,429.59 L1133.10,427.18 L1133.80,426.78 L1134.50,429.08 L1135.20,429.68 L1135.90,427.49 L1136.60,428.14 L1137.30,428.04 L1138.00,422.18 L1138.70,426.85 L1139.40,428.53 L1140.10,430.30 L1140.80,429.59 L1141.50,422.57 L1142.20,426.87 L1142.90,422.53 L1143.60,428.83 L1144.30,420.65 L1145.00,427.36 L1145.70,417.12 L1146.40,420.11 L1147.10,429.15 L1147.80,429.15 L1148.50,426.31 L1149.20,422.01 L1149.90,424.53 L1150.60,423.59 L1151.30,418.05 L1152.00,416.22 L1152.70,418.12 L1153.40,420.11 L1154.10,418.19 L1154.80,413.85 L1155.50,411.71 L1156.20,411.38 L1156.90,411.34 L1157.60,413.52 L1158.30,405.05 L1159.00,414.85 L1159.70,402.18 L1160.40,411.05 L1161.10,405.80 L1161.80,403.97 L1162.50,401.15 L1163.20,402.90 L1163.90,402.84 L1164.60,409.91 L1165.30,399.11 L1166.00,406.31 L1166.70,391.12 L1167.40,401.69 L1168.10,400.28 L1168.80,404.96 L1169.50,381.79 L1170.20,405.99 L1170.90,387.00 L1171.60,406.80 L1172.30,402.05 L1173.00,395.50 L1173.70,414.42 L1174.40,409.12 L1175.10,393.87 L1175.80,403.41 L1176.50,415.74 L1177.20,418.81 L1177.90,414.23 L1178.60,420.54 L1179.30,413.74 L1180.00,423.92 L1180.70,422.37 L1181.40,414.79 L1182.10,417.71 L1182.80,417.84 L1183.50,422.38 L1184.20,424.86 L1184.90,424.70 L1185.60,428.34 L1186.30,424.17 L1187.00,424.15 L1187.70,414.23 L1188.40,423.77 L1189.10,425.82 L1189.80,426.49 L1190.50,425.34 L1191.20,427.94 L1191.90,422.54 L1192.60,428.32 L1193.30,425.16 L1194.00,421.13 L1194.70,425.90 L1195.40,419.08 L1196.10,422.78 L1196.80,417.70 L1197.50,418.90 L1198.20,413.37 L1198.90,398.15 L1199.60,409.19 L1200.30,391.84 L1201.00,405.93 L1201.70,407.11 L1202.40,406.02 L1203.10,412.53 L1203.80,414.55 L1204.50,415.75 L1205.20,397.55 L1205.90,410.82 L1206.60,402.10 L1207.30,400.90 L1208.00,400.77 L1208.70,413.18 L1209.40,417.13 L1210.10,399.85 L1210.80,423.19 L1211.50,420.36 L1212.20,421.21 L1212.90,424.90 L1213.60,428.23 L1214.30,424.63 L1215.00,427.72 L1215.70,422.73 L1216.40,422.65 L1217.10,420.25 L1217.80,424.58 L1218.50,427.24 L1219.20,427.75 L1219.90,418.86 L1220.60,424.83 L1221.30,423.79 L1222.00,427.80 L1222.70,421.61 L1223.40,424.15 L1224.10,427.39 L1224.80,428.67 L1225.50,429.24 L1226.20,424.97 L1226.90,428.84 L1227.60,429.15 L1228.30,423.07 L1229.00,424.89 L1229.70,418.70 L1230.40,424.93 L1231.10,425.87 L1231.80,427.68 L1232.50,422.44 L1233.20,428.06 L1233.90,427.06 L1234.60,425.41 L1235.30,419.73 L1236.00,424.10 L1236.70,421.06 L1237.40,428.52 L1238.10,428.10 L1238.80,417.27 L1239.50,428.32 L1240.20,428.76 L1240.90,421.76 L1241.60,422.33 L1242.30,422.15 L1243.00,429.13 L1243.70,424.80 L1244.40,427.56 L1245.10,425.80 L1245.80,425.68 L1246.50,428.81 L1247.20,428.47 L1247.90,429.26 L1248.60,417.50 L1249.30,417.88 L1250.00,426.50 L1250.70,425.09 L1251.40,425.16 L1252.10,419.76 L1252.80,426.52 L1253.50,424.23 L1254.20,425.16 L1254.90,425.98 L1255.60,426.31 L1256.30,428.23 L1257.00,420.52 L1257.70,425.84 L1258.40,419.69 L1259.10,428.78 L1259.80,425.88 L1260.50,423.78 L1261.20,424.76 L1261.90,420.30 L1262.60,424.73 L1263.30,426.58 L1264.00,426.02 L1264.70,428.78 L1265.40,425.87 L1266.10,427.58 L1266.80,417.34 L1267.50,423.96 L1268.20,424.95 L1268.90,424.99 L1269.60,419.08 L1270.30,427.28 L1271.00,429.16 L1271.70,425.19 L1272.40,421.58 L1273.10,420.73 L1273.80,424.89 L1274.50,422.79 L1275.20,424.59 L1275.90,425.02 L1276.60,423.98 L1277.30,428.58 L1278.00,424.57 L1278.70,424.19 L1279.40,420.83 L1280.10,416.02 L1280.80,422.86 L1281.50,424.99 L1282.20,420.03 L1282.90,427.72 L1283.60,425.65 L1284.30,420.00 L1285.00,423.13 L1285.70,426.85 L1286.40,421.15 L1287.10,428.82 L1287.80,427.67 L1288.50,422.45 L1289.20,428.28 L1289.90,421.09 L1290.60,426.14 L1291.30,421.57 L1292.00,421.11 L1292.70,418.17 L1293.40,427.16 L1294.10,421.21 L1294.80,420.88 L1295.50,426.66 L1296.20,419.88 L1296.90,417.88 L1297.60,411.14 L1298.30,420.22 L1299.00,418.73 L1299.70,423.91 L1300.40,409.55 L1301.10,413.89 L1301.80,421.40 L1302.50,420.21 L1303.20,422.41 L1303.90,408.58 L1304.60,417.02 L1305.30,418.13 L1306.00,417.15 L1306.70,418.98 L1307.40,416.10 L1308.10,419.72 L1308.80,417.26 L1309.50,408.04 L1310.20,416.60 L1310.90,415.03 L1311.60,420.10 L1312.30,417.00 L1313.00,416.22 L1313.70,423.78 L1314.40,420.37 L1315.10,422.80 L1315.80,421.49 L1316.50,420.81 L1317.20,422.60 L1317.90,421.34 L1318.60,421.77 L1319.30,418.08 L1320.00,419.90 L1320.70,414.67 L1321.40,422.32 L1322.10,416.90 L1322.80,417.29 L1323.50,421.65 L1324.20,425.57 L1324.90,418.57 L1325.60,416.05 L1326.30,424.52 L1327.00,422.49 L1327.70,422.51 L1328.40,423.77 L1329.10,412.62 L1329.80,426.35 L1330.50,424.21 L1331.20,424.00 L1331.90,415.76 L1332.60,425.67 L1333.30,424.58 L1334.00,424.07 L1334.70,425.04 L1335.40,426.93 L1336.10,420.92 L1336.80,425.34 L1337.50,418.01 L1338.20,429.25 L1338.90,420.33 L1339.60,428.08 L1340.30,425.67 L1341.00,427.69 L1341.70,425.18 L1342.40,426.33 L1343.10,426.39 L1343.80,422.58 L1344.50,416.57 L1345.20,421.63 L1345.90,428.40 L1346.60,424.65 L1347.30,425.38 L1348.00,426.82 L1348.70,424.57 L1349.40,420.83 L1350.10,424.00 L1350.80,418.89 L1351.50,421.75 L1352.20,422.72 L1352.90,427.13 L1353.60,427.95 L1354.30,425.02 L1355.00,426.67 L1355.70,426.19 L1356.40,426.39 L1357.10,424.34 L1357.80,427.13 L1358.50,425.39 L1359.20,426.49 L1359.90,425.74 L1360.60,428.30 L1361.30,425.50 L1362.00,418.23 L1362.70,426.78 L1363.40,424.50 L1364.10,422.39 L1364.80,426.62 L1365.50,421.46 L1366.20,427.01 L1366.90,425.51 L1367.60,420.34 L1368.30,425.05 L1369.00,425.85 L1369.70,420.54 L1370.40,427.81 L1371.10,418.56 L1371.80,426.09 L1372.50,424.05 L1373.20,425.11 L1373.90,421.74 L1374.60,424.22 L1375.30,425.89 L1376.00,428.37 L1376.70,426.20 L1377.40,426.26 L1378.10,424.24 L1378.80,424.26 L1379.50,425.14 L1380.20,426.48 L1380.90,424.33 L1381.60,425.31 L1382.30,419.78 L1383.00,423.69 L1383.70,424.48 L1384.40,425.05 L1385.10,418.21 L1385.80,415.72 L1386.50,428.56 L1387.20,428.29 L1387.90,426.30 L1388.60,424.96 L1389.30,424.68 L1390.00,423.44 L1390.70,427.98 L1391.40,426.55 L1392.10,421.87 L1392.80,418.71 L1393.50,417.26 L1394.20,419.60 L1394.90,423.99 L1395.60,419.94 L1396.30,424.52 L1397.00,427.16 L1397.70,420.97 L1398.40,426.09 L1399.10,428.10 L1399.80,427.60 L1400.50,428.11 L1401.20,426.24 L1401.90,421.00 L1402.60,424.53 L1403.30,426.73 L1404.00,424.03 L1404.70,428.91 L1405.40,424.62 L1406.10,425.06 L1406.80,417.87 L1407.50,409.94 L1408.20,427.24 L1408.90,424.44 L1409.60,420.48 L1410.30,421.99 L1411.00,414.60 L1411.70,418.50 L1412.40,415.36 L1413.10,414.30 L1413.80,417.90 L1414.50,416.05 L1415.20,400.48 L1415.90,413.89 L1416.60,394.41 L1417.30,415.69 L1418.00,408.79 L1418.70,406.57 L1419.40,403.22 L1420.10,399.20 L1420.80,405.73 L1421.50,405.11 L1422.20,404.89 L1422.90,405.33 L1423.60,409.86 L1424.30,393.40 L1425.00,396.88 L1425.70,411.22 L1426.40,404.74 L1427.10,411.74 L1427.80,408.98 L1428.50,411.04 L1429.20,408.46 L1429.90,413.48 L1430.60,415.37 L1431.30,421.40 L1432.00,413.88 L1432.70,403.18 L1433.40,422.85 L1434.10,410.65 L1434.80,413.13 L1435.50,427.51 L1436.20,423.61 L1436.90,426.79 L1437.60,426.04 L1438.30,427.42 L1439.00,423.62 L1439.70,417.08 L1440.40,427.70 L1441.10,415.26 L1441.80,417.17 L1442.50,422.53 L1443.20,424.98 L1443.90,426.21 L1444.60,424.75 L1445.30,426.93 L1446.00,426.36 L1446.70,426.49 L1447.40,414.58 L1448.10,427.34 L1448.80,421.51 L1449.50,415.20 L1450.20,420.78 L1450.90,427.44 L1451.60,426.32 L1452.30,426.95 L1453.00,426.81 L1453.70,424.17 L1454.40,426.35 L1455.10,425.27 L1455.80,424.91 L1456.50,424.79 L1457.20,426.22 L1457.90,417.40 L1458.60,427.26 L1459.30,426.05 L1460.00,426.94 L1460.70,424.80 L1461.40,420.02 L1462.10,428.07 L1462.80,421.27 L1463.50,424.44 L1464.20,421.58 L1464.90,420.33 L1465.60,423.78 L1466.30,420.33 L1467.00,425.61 L1467.70,412.81 L1468.40,420.26 L1469.10,423.22 L1469.80,426.18 L1470.50,418.41 L1471.20,427.51 L1471.90,424.62 L1472.60,421.94 L1473.30,429.31 L1474.00,436.09 L1474.00,440.80 L1473.30,440.80 L1472.60,440.80 L1471.90,440.80 L1471.20,440.80 L1470.50,440.80 L1469.80,440.80 L1469.10,440.44 L1468.40,439.78 L1467.70,439.66 L1467.00,440.34 L1466.30,438.75 L1465.60,438.75 L1464.90,439.91 L1464.20,440.22 L1463.50,440.13 L1462.80,440.11 L1462.10,440.05 L1461.40,440.80 L1460.70,440.80 L1460.00,440.80 L1459.30,440.80 L1458.60,440.80 L1457.90,440.80 L1457.20,440.80 L1456.50,440.80 L1455.80,440.80 L1455.10,440.80 L1454.40,440.80 L1453.70,440.80 L1453.00,440.80 L1452.30,440.80 L1451.60,440.80 L1450.90,440.80 L1450.20,440.80 L1449.50,440.80 L1448.80,440.80 L1448.10,440.80 L1447.40,440.80 L1446.70,440.80 L1446.00,440.80 L1445.30,440.80 L1444.60,440.80 L1443.90,440.80 L1443.20,440.80 L1442.50,440.80 L1441.80,440.80 L1441.10,440.80 L1440.40,440.80 L1439.70,440.80 L1439.00,440.80 L1438.30,440.80 L1437.60,440.80 L1436.90,440.80 L1436.20,440.80 L1435.50,439.87 L1434.80,439.23 L1434.10,440.16 L1433.40,439.95 L1432.70,439.38 L1432.00,438.47 L1431.30,436.30 L1430.60,437.50 L1429.90,435.86 L1429.20,433.13 L1428.50,433.11 L1427.80,434.66 L1427.10,434.63 L1426.40,433.59 L1425.70,438.04 L1425.00,432.37 L1424.30,430.50 L1423.60,437.56 L1422.90,433.93 L1422.20,429.09 L1421.50,429.26 L1420.80,429.01 L1420.10,433.19 L1419.40,435.55 L1418.70,430.87 L1418.00,431.19 L1417.30,434.49 L1416.60,438.32 L1415.90,433.82 L1415.20,438.96 L1414.50,435.29 L1413.80,435.27 L1413.10,438.77 L1412.40,436.81 L1411.70,436.61 L1411.00,439.94 L1410.30,439.69 L1409.60,439.79 L1408.90,440.05 L1408.20,440.80 L1407.50,440.80 L1406.80,440.80 L1406.10,440.80 L1405.40,440.80 L1404.70,440.80 L1404.00,440.80 L1403.30,440.80 L1402.60,440.80 L1401.90,440.80 L1401.20,440.80 L1400.50,440.80 L1399.80,440.80 L1399.10,440.80 L1398.40,440.80 L1397.70,440.80 L1397.00,440.80 L1396.30,440.80 L1395.60,440.80 L1394.90,440.80 L1394.20,440.80 L1393.50,440.80 L1392.80,440.80 L1392.10,440.80 L1391.40,440.80 L1390.70,440.80 L1390.00,440.80 L1389.30,440.80 L1388.60,440.80 L1387.90,440.80 L1387.20,440.80 L1386.50,440.80 L1385.80,440.80 L1385.10,440.80 L1384.40,440.80 L1383.70,440.80 L1383.00,440.80 L1382.30,440.80 L1381.60,440.80 L1380.90,440.80 L1380.20,440.80 L1379.50,440.80 L1378.80,440.80 L1378.10,440.80 L1377.40,440.80 L1376.70,440.80 L1376.00,440.80 L1375.30,440.80 L1374.60,440.80 L1373.90,440.80 L1373.20,440.80 L1372.50,440.80 L1371.80,440.80 L1371.10,440.80 L1370.40,440.80 L1369.70,440.80 L1369.00,440.80 L1368.30,440.80 L1367.60,440.80 L1366.90,440.80 L1366.20,440.80 L1365.50,440.80 L1364.80,440.80 L1364.10,440.80 L1363.40,440.80 L1362.70,440.80 L1362.00,440.80 L1361.30,440.80 L1360.60,440.80 L1359.90,440.80 L1359.20,440.80 L1358.50,440.80 L1357.80,440.80 L1357.10,440.80 L1356.40,440.80 L1355.70,440.80 L1355.00,440.80 L1354.30,440.80 L1353.60,440.80 L1352.90,440.80 L1352.20,440.80 L1351.50,440.80 L1350.80,440.80 L1350.10,440.80 L1349.40,440.80 L1348.70,440.80 L1348.00,440.80 L1347.30,440.80 L1346.60,440.80 L1345.90,440.80 L1345.20,440.80 L1344.50,440.80 L1343.80,440.80 L1343.10,440.80 L1342.40,440.80 L1341.70,440.80 L1341.00,440.80 L1340.30,440.80 L1339.60,440.80 L1338.90,440.80 L1338.20,440.80 L1337.50,440.80 L1336.80,440.80 L1336.10,440.80 L1335.40,440.80 L1334.70,440.80 L1334.00,440.80 L1333.30,440.80 L1332.60,440.80 L1331.90,440.80 L1331.20,440.80 L1330.50,440.80 L1329.80,440.80 L1329.10,440.80 L1328.40,440.80 L1327.70,440.80 L1327.00,440.80 L1326.30,440.80 L1325.60,440.80 L1324.90,439.93 L1324.20,439.94 L1323.50,440.33 L1322.80,440.04 L1322.10,439.60 L1321.40,440.25 L1320.70,438.81 L1320.00,438.74 L1319.30,439.07 L1318.60,439.80 L1317.90,440.11 L1317.20,439.43 L1316.50,438.37 L1315.80,439.84 L1315.10,439.17 L1314.40,439.86 L1313.70,438.54 L1313.00,439.46 L1312.30,438.85 L1311.60,436.93 L1310.90,439.53 L1310.20,436.80 L1309.50,438.07 L1308.80,437.68 L1308.10,437.45 L1307.40,438.80 L1306.70,439.83 L1306.00,439.71 L1305.30,439.01 L1304.60,437.67 L1303.90,439.63 L1303.20,437.51 L1302.50,437.40 L1301.80,439.09 L1301.10,439.85 L1300.40,438.96 L1299.70,440.04 L1299.00,438.38 L1298.30,439.21 L1297.60,439.75 L1296.90,439.04 L1296.20,438.94 L1295.50,439.31 L1294.80,440.22 L1294.10,440.18 L1293.40,440.37 L1292.70,440.08 L1292.00,440.80 L1291.30,440.80 L1290.60,440.80 L1289.90,440.80 L1289.20,440.80 L1288.50,440.80 L1287.80,440.80 L1287.10,440.80 L1286.40,440.80 L1285.70,440.80 L1285.00,440.80 L1284.30,440.80 L1283.60,440.80 L1282.90,440.80 L1282.20,440.80 L1281.50,440.80 L1280.80,440.80 L1280.10,440.80 L1279.40,440.80 L1278.70,440.80 L1278.00,440.80 L1277.30,440.80 L1276.60,440.80 L1275.90,440.80 L1275.20,440.80 L1274.50,440.80 L1273.80,440.80 L1273.10,440.80 L1272.40,440.80 L1271.70,440.80 L1271.00,440.80 L1270.30,440.80 L1269.60,440.80 L1268.90,440.80 L1268.20,440.80 L1267.50,440.80 L1266.80,440.80 L1266.10,440.80 L1265.40,440.80 L1264.70,440.80 L1264.00,440.80 L1263.30,440.80 L1262.60,440.80 L1261.90,440.80 L1261.20,440.80 L1260.50,440.80 L1259.80,440.80 L1259.10,440.80 L1258.40,440.80 L1257.70,440.80 L1257.00,440.80 L1256.30,440.80 L1255.60,440.80 L1254.90,440.80 L1254.20,440.80 L1253.50,440.80 L1252.80,440.80 L1252.10,440.80 L1251.40,440.80 L1250.70,440.80 L1250.00,440.80 L1249.30,440.80 L1248.60,440.80 L1247.90,440.80 L1247.20,440.80 L1246.50,440.80 L1245.80,440.80 L1245.10,440.80 L1244.40,440.80 L1243.70,440.80 L1243.00,440.80 L1242.30,440.80 L1241.60,440.80 L1240.90,440.80 L1240.20,440.80 L1239.50,440.80 L1238.80,440.80 L1238.10,440.80 L1237.40,440.80 L1236.70,440.80 L1236.00,440.80 L1235.30,440.80 L1234.60,440.80 L1233.90,440.80 L1233.20,440.80 L1232.50,440.80 L1231.80,440.80 L1231.10,440.80 L1230.40,440.80 L1229.70,440.80 L1229.00,440.80 L1228.30,440.80 L1227.60,440.80 L1226.90,440.80 L1226.20,440.80 L1225.50,440.80 L1224.80,440.80 L1224.10,440.80 L1223.40,440.80 L1222.70,440.80 L1222.00,440.80 L1221.30,440.80 L1220.60,440.80 L1219.90,440.80 L1219.20,440.80 L1218.50,440.80 L1217.80,440.80 L1217.10,440.80 L1216.40,440.80 L1215.70,440.80 L1215.00,440.80 L1214.30,440.80 L1213.60,440.80 L1212.90,440.11 L1212.20,439.76 L1211.50,439.63 L1210.80,436.68 L1210.10,438.25 L1209.40,436.88 L1208.70,437.13 L1208.00,434.86 L1207.30,433.96 L1206.60,434.36 L1205.90,436.83 L1205.20,433.92 L1204.50,434.04 L1203.80,437.70 L1203.10,433.23 L1202.40,432.65 L1201.70,433.16 L1201.00,433.48 L1200.30,435.85 L1199.60,434.97 L1198.90,438.16 L1198.20,438.27 L1197.50,439.25 L1196.80,438.92 L1196.10,437.83 L1195.40,438.31 L1194.70,439.28 L1194.00,439.69 L1193.30,440.80 L1192.60,440.80 L1191.90,440.80 L1191.20,440.80 L1190.50,440.80 L1189.80,440.80 L1189.10,440.80 L1188.40,440.80 L1187.70,440.80 L1187.00,440.80 L1186.30,440.80 L1185.60,440.80 L1184.90,440.80 L1184.20,440.80 L1183.50,440.80 L1182.80,440.80 L1182.10,440.80 L1181.40,439.99 L1180.70,439.29 L1180.00,439.69 L1179.30,439.32 L1178.60,438.49 L1177.90,439.21 L1177.20,436.54 L1176.50,433.24 L1175.80,436.44 L1175.10,431.39 L1174.40,437.34 L1173.70,434.89 L1173.00,432.91 L1172.30,434.48 L1171.60,431.48 L1170.90,431.06 L1170.20,436.29 L1169.50,433.78 L1168.80,427.41 L1168.10,427.56 L1167.40,427.61 L1166.70,437.37 L1166.00,433.89 L1165.30,431.85 L1164.60,435.61 L1163.90,430.75 L1163.20,434.86 L1162.50,430.57 L1161.80,432.16 L1161.10,431.82 L1160.40,434.84 L1159.70,431.30 L1159.00,436.12 L1158.30,436.54 L1157.60,437.81 L1156.90,438.84 L1156.20,436.49 L1155.50,436.66 L1154.80,435.16 L1154.10,437.54 L1153.40,436.15 L1152.70,438.39 L1152.00,439.31 L1151.30,438.66 L1150.60,438.93 L1149.90,439.86 L1149.20,440.80 L1148.50,440.80 L1147.80,440.80 L1147.10,440.80 L1146.40,440.80 L1145.70,440.80 L1145.00,440.80 L1144.30,440.80 L1143.60,440.80 L1142.90,440.80 L1142.20,440.80 L1141.50,440.80 L1140.80,440.80 L1140.10,440.80 L1139.40,440.80 L1138.70,440.80 L1138.00,440.80 L1137.30,440.80 L1136.60,440.80 L1135.90,440.80 L1135.20,440.80 L1134.50,440.80 L1133.80,440.80 L1133.10,440.80 L1132.40,440.80 L1131.70,440.80 L1131.00,440.80 L1130.30,440.80 L1129.60,440.80 L1128.90,440.80 L1128.20,440.80 L1127.50,440.80 L1126.80,440.80 L1126.10,440.80 L1125.40,440.80 L1124.70,440.80 L1124.00,440.80 L1123.30,440.80 L1122.60,440.80 L1121.90,440.80 L1121.20,440.80 L1120.50,440.80 L1119.80,440.80 L1119.10,440.80 L1118.40,440.80 L1117.70,440.80 L1117.00,440.80 L1116.30,440.80 L1115.60,440.80 L1114.90,440.80 L1114.20,440.80 L1113.50,440.80 L1112.80,440.80 L1112.10,440.80 L1111.40,440.80 L1110.70,440.80 L1110.00,440.80 L1109.30,440.80 L1108.60,440.80 L1107.90,440.80 L1107.20,440.80 L1106.50,440.80 L1105.80,440.80 L1105.10,440.80 L1104.40,440.80 L1103.70,440.80 L1103.00,440.80 L1102.30,440.80 L1101.60,440.80 L1100.90,440.80 L1100.20,440.80 L1099.50,440.80 L1098.80,440.80 L1098.10,440.80 L1097.40,440.80 L1096.70,440.80 L1096.00,440.80 L1095.30,440.80 L1094.60,440.80 L1093.90,440.80 L1093.20,440.80 L1092.50,440.80 L1091.80,440.80 L1091.10,440.80 L1090.40,440.80 L1089.70,440.80 L1089.00,440.80 L1088.30,440.80 L1087.60,440.80 L1086.90,440.80 L1086.20,440.80 L1085.50,440.80 L1084.80,440.55 L1084.10,440.48 L1083.40,439.60 L1082.70,439.49 L1082.00,439.64 L1081.30,439.48 L1080.60,438.91 L1079.90,439.93 L1079.20,440.21 L1078.50,438.80 L1077.80,439.15 L1077.10,440.01 L1076.40,438.83 L1075.70,440.08 L1075.00,439.57 L1074.30,439.48 L1073.60,439.55 L1072.90,439.28 L1072.20,439.09 L1071.50,438.73 L1070.80,439.53 L1070.10,438.94 L1069.40,438.90 L1068.70,439.03 L1068.00,439.61 L1067.30,439.18 L1066.60,440.23 L1065.90,439.65 L1065.20,440.20 L1064.50,440.04 L1063.80,440.38 L1063.10,440.44 L1062.40,440.38 L1061.70,440.01 L1061.00,440.32 L1060.30,440.34 L1059.60,440.22 L1058.90,440.56 L1058.20,440.55 L1057.50,439.91 L1056.80,440.01 L1056.10,440.52 L1055.40,440.09 L1054.70,440.21 L1054.00,440.32 L1053.30,439.90 L1052.60,439.90 L1051.90,440.49 L1051.20,440.09 L1050.50,439.87 L1049.80,440.10 L1049.10,439.56 L1048.40,440.14 L1047.70,440.53 L1047.00,440.53 L1046.30,440.80 L1045.60,440.80 L1044.90,440.80 L1044.20,440.80 L1043.50,440.80 L1042.80,440.80 L1042.10,440.80 L1041.40,440.80 L1040.70,440.80 L1040.00,440.80 L1039.30,440.80 L1038.60,440.80 L1037.90,440.80 L1037.20,440.80 L1036.50,440.80 L1035.80,440.80 L1035.10,440.80 L1034.40,440.80 L1033.70,440.80 L1033.00,440.80 L1032.30,440.80 L1031.60,440.80 L1030.90,440.80 L1030.20,440.80 L1029.50,440.80 L1028.80,440.80 L1028.10,440.80 L1027.40,440.80 L1026.70,440.80 L1026.00,440.80 L1025.30,440.80 L1024.60,440.80 L1023.90,440.80 L1023.20,440.80 L1022.50,440.80 L1021.80,440.80 L1021.10,440.80 L1020.40,440.80 L1019.70,440.80 L1019.00,440.80 L1018.30,440.80 L1017.60,440.80 L1016.90,440.80 L1016.20,440.80 L1015.50,440.80 L1014.80,440.80 L1014.10,440.80 L1013.40,440.80 L1012.70,440.80 L1012.00,440.80 L1011.30,440.80 L1010.60,440.80 L1009.90,440.80 L1009.20,440.80 L1008.50,440.80 L1007.80,440.80 L1007.10,440.80 L1006.40,440.80 L1005.70,440.80 L1005.00,440.80 L1004.30,440.80 L1003.60,440.80 L1002.90,440.80 L1002.20,440.80 L1001.50,440.80 L1000.80,440.80 L1000.10,440.80 L999.40,440.80 L998.70,440.80 L998.00,440.80 L997.30,440.80 L996.60,440.80 L995.90,440.80 L995.20,440.80 L994.50,440.80 L993.80,440.80 L993.10,440.80 L992.40,440.80 L991.70,440.80 L991.00,440.80 L990.30,440.80 L989.60,440.80 L988.90,440.80 L988.20,440.80 L987.50,440.80 L986.80,440.80 L986.10,440.80 L985.40,440.80 L984.70,440.80 L984.00,440.80 L983.30,440.80 L982.60,440.80 L981.90,440.80 L981.20,440.80 L980.50,440.80 L979.80,440.80 L979.10,440.80 L978.40,440.80 L977.70,440.80 L977.00,440.80 L976.30,440.80 L975.60,440.80 L974.90,440.80 L974.20,440.80 L973.50,440.80 L972.80,440.80 L972.10,440.80 L971.40,440.80 L970.70,440.80 L970.00,440.80 L969.30,440.80 L968.60,440.80 L967.90,440.80 L967.20,440.80 L966.50,440.80 L965.80,440.80 L965.10,440.80 L964.40,440.80 L963.70,440.80 L963.00,440.80 L962.30,440.80 L961.60,440.80 L960.90,440.80 L960.20,440.80 L959.50,440.80 L958.80,440.80 L958.10,440.80 L957.40,440.80 L956.70,440.80 L956.00,440.80 L955.30,440.80 L954.60,440.80 L953.90,440.80 L953.20,440.80 L952.50,440.80 L951.80,440.80 L951.10,440.80 L950.40,440.80 L949.70,440.80 L949.00,440.80 L948.30,440.80 L947.60,440.80 L946.90,440.80 L946.20,440.80 L945.50,440.80 L944.80,440.80 L944.10,440.80 L943.40,440.80 L942.70,440.80 L942.00,440.80 L941.30,440.80 L940.60,440.80 L939.90,440.80 L939.20,440.80 L938.50,440.80 L937.80,440.80 L937.10,440.80 L936.40,440.80 L935.70,440.80 L935.00,440.80 L934.30,440.80 L933.60,440.80 L932.90,440.80 L932.20,440.80 L931.50,440.80 L930.80,440.80 L930.10,440.80 L929.40,440.80 L928.70,440.80 L928.00,440.80 L927.30,440.80 L926.60,440.80 L925.90,440.80 L925.20,440.80 L924.50,440.80 L923.80,440.80 L923.10,440.80 L922.40,440.80 L921.70,440.80 L921.00,440.80 L920.30,440.80 L919.60,440.80 L918.90,440.80 L918.20,440.80 L917.50,440.80 L916.80,440.80 L916.10,440.80 L915.40,440.80 L914.70,440.80 L914.00,440.80 L913.30,440.80 L912.60,440.80 L911.90,440.80 L911.20,440.80 L910.50,440.80 L909.80,440.80 L909.10,440.80 L908.40,440.80 L907.70,440.80 L907.00,440.80 L906.30,440.80 L905.60,440.80 L904.90,440.80 L904.20,440.80 L903.50,440.80 L902.80,440.80 L902.10,440.80 L901.40,440.80 L900.70,440.80 L900.00,440.80 L899.30,440.80 L898.60,440.80 L897.90,440.80 L897.20,440.80 L896.50,440.80 L895.80,440.80 L895.10,440.80 L894.40,440.80 L893.70,440.80 L893.00,440.80 L892.30,440.80 L891.60,440.80 L890.90,440.80 L890.20,440.80 L889.50,440.80 L888.80,440.80 L888.10,440.80 L887.40,440.80 L886.70,440.80 L886.00,440.80 L885.30,440.80 L884.60,440.80 L883.90,440.80 L883.20,440.80 L882.50,440.80 L881.80,440.80 L881.10,440.80 L880.40,440.80 L879.70,440.80 L879.00,440.80 L878.30,440.80 L877.60,440.80 L876.90,440.80 L876.20,440.80 L875.50,440.80 L874.80,440.80 L874.10,440.80 L873.40,440.80 L872.70,440.80 L872.00,440.80 L871.30,440.80 L870.60,440.80 L869.90,440.80 L869.20,440.80 L868.50,440.80 L867.80,440.80 L867.10,440.80 L866.40,440.80 L865.70,440.80 L865.00,440.80 L864.30,440.80 L863.60,440.80 L862.90,440.80 L862.20,440.80 L861.50,440.80 L860.80,440.80 L860.10,440.80 L859.40,440.80 L858.70,440.80 L858.00,440.80 L857.30,440.80 L856.60,440.80 L855.90,440.80 L855.20,440.80 L854.50,440.80 L853.80,440.80 L853.10,440.80 L852.40,440.80 L851.70,440.80 L851.00,440.80 L850.30,440.80 L849.60,440.80 L848.90,440.80 L848.20,440.80 L847.50,440.80 L846.80,440.80 L846.10,440.80 L845.40,440.80 L844.70,440.80 L844.00,440.80 L843.30,440.80 L842.60,440.80 L841.90,440.80 L841.20,440.80 L840.50,440.80 L839.80,440.80 L839.10,440.80 L838.40,440.80 L837.70,440.80 L837.00,440.80 L836.30,440.80 L835.60,440.80 L834.90,440.80 L834.20,440.80 L833.50,440.80 L832.80,440.80 L832.10,440.80 L831.40,440.80 L830.70,440.80 L830.00,440.80 L829.30,440.80 L828.60,440.80 L827.90,440.80 L827.20,440.80 L826.50,440.80 L825.80,440.80 L825.10,440.80 L824.40,440.80 L823.70,440.80 L823.00,440.80 L822.30,440.80 L821.60,440.80 L820.90,440.80 L820.20,440.80 L819.50,440.80 L818.80,440.80 L818.10,440.80 L817.40,440.80 L816.70,440.80 L816.00,440.80 L815.30,440.80 L814.60,440.80 L813.90,440.80 L813.20,440.80 L812.50,440.80 L811.80,440.80 L811.10,440.80 L810.40,440.80 L809.70,440.80 L809.00,440.80 L808.30,440.80 L807.60,440.80 L806.90,440.80 L806.20,440.80 L805.50,440.80 L804.80,440.80 L804.10,440.80 L803.40,440.80 L802.70,440.80 L802.00,440.80 L801.30,440.80 L800.60,440.80 L799.90,440.80 L799.20,440.80 L798.50,440.80 L797.80,440.80 L797.10,440.80 L796.40,440.80 L795.70,440.80 L795.00,440.80 L794.30,440.80 L793.60,440.80 L792.90,440.80 L792.20,440.80 L791.50,440.80 L790.80,440.80 L790.10,440.80 L789.40,440.80 L788.70,440.80 L788.00,440.80 L787.30,440.80 L786.60,440.80 L785.90,440.80 L785.20,440.80 L784.50,440.80 L783.80,440.80 L783.10,440.80 L782.40,440.80 L781.70,440.80 L781.00,440.80 L780.30,440.80 L779.60,440.80 L778.90,440.80 L778.20,440.80 L777.50,440.80 L776.80,440.80 L776.10,440.80 L775.40,440.80 L774.70,440.80 L774.00,440.80 L773.30,440.80 L772.60,440.80 L771.90,440.80 L771.20,440.80 L770.50,440.80 L769.80,440.80 L769.10,440.80 L768.40,440.80 L767.70,440.80 L767.00,440.80 L766.30,440.80 L765.60,440.80 L764.90,440.80 L764.20,440.80 L763.50,440.80 L762.80,440.80 L762.10,440.80 L761.40,440.80 L760.70,440.80 L760.00,440.80 L759.30,440.80 L758.60,440.80 L757.90,440.80 L757.20,440.80 L756.50,440.80 L755.80,440.80 L755.10,440.80 L754.40,440.80 L753.70,440.80 L753.00,440.80 L752.30,440.80 L751.60,440.80 L750.90,440.16 L750.20,440.05 L749.50,440.07 L748.80,440.07 L748.10,438.88 L747.40,438.63 L746.70,438.88 L746.00,436.61 L745.30,436.75 L744.60,436.30 L743.90,438.48 L743.20,437.95 L742.50,435.92 L741.80,435.41 L741.10,435.40 L740.40,437.76 L739.70,438.39 L739.00,437.08 L738.30,439.35 L737.60,439.87 L736.90,439.97 L736.20,440.56 L735.50,440.80 L734.80,440.80 L734.10,440.80 L733.40,440.80 L732.70,440.80 L732.00,440.80 L731.30,440.80 L730.60,440.80 L729.90,440.80 L729.20,440.80 L728.50,440.80 L727.80,440.80 L727.10,440.80 L726.40,440.80 L725.70,440.80 L725.00,440.19 L724.30,439.21 L723.60,438.11 L722.90,438.22 L722.20,436.64 L721.50,436.98 L720.80,435.35 L720.10,436.83 L719.40,437.00 L718.70,436.75 L718.00,434.60 L717.30,436.68 L716.60,437.22 L715.90,435.36 L715.20,438.30 L714.50,438.82 L713.80,438.58 L713.10,436.08 L712.40,437.90 L711.70,438.42 L711.00,438.18 L710.30,434.85 L709.60,434.69 L708.90,434.72 L708.20,436.26 L707.50,435.99 L706.80,437.28 L706.10,438.40 L705.40,435.49 L704.70,438.42 L704.00,437.39 L703.30,439.92 L702.60,438.52 L701.90,439.89 L701.20,439.58 L700.50,440.80 L699.80,440.80 L699.10,440.80 L698.40,440.80 L697.70,440.80 L697.00,440.80 L696.30,440.80 L695.60,440.80 L694.90,440.80 L694.20,440.80 L693.50,440.80 L692.80,440.80 L692.10,440.80 L691.40,440.80 L690.70,440.80 L690.00,440.80 L689.30,440.80 L688.60,440.80 L687.90,440.80 L687.20,440.80 L686.50,440.80 L685.80,440.80 L685.10,440.80 L684.40,440.80 L683.70,440.80 L683.00,440.80 L682.30,440.80 L681.60,440.80 L680.90,440.80 L680.20,440.80 L679.50,440.80 L678.80,440.80 L678.10,440.80 L677.40,440.80 L676.70,440.80 L676.00,440.80 L675.30,440.80 L674.60,440.80 L673.90,440.80 L673.20,440.80 L672.50,440.80 L671.80,440.80 L671.10,440.80 L670.40,440.80 L669.70,440.80 L669.00,440.80 L668.30,440.80 L667.60,440.80 L666.90,440.80 L666.20,440.80 L665.50,440.80 L664.80,440.80 L664.10,440.80 L663.40,440.80 L662.70,440.80 L662.00,440.80 L661.30,440.80 L660.60,440.80 L659.90,440.80 L659.20,440.80 L658.50,440.80 L657.80,440.80 L657.10,440.80 L656.40,440.80 L655.70,440.80 L655.00,440.80 L654.30,440.80 L653.60,440.80 L652.90,440.80 L652.20,440.80 L651.50,440.80 L650.80,440.80 L650.10,440.80 L649.40,440.80 L648.70,440.80 L648.00,440.80 L647.30,440.80 L646.60,440.80 L645.90,440.80 L645.20,440.80 L644.50,440.80 L643.80,440.80 L643.10,440.80 L642.40,440.80 L641.70,440.80 L641.00,440.80 L640.30,440.05 L639.60,439.57 L638.90,438.46 L638.20,438.89 L637.50,438.37 L636.80,437.78 L636.10,435.85 L635.40,439.23 L634.70,434.56 L634.00,436.07 L633.30,433.79 L632.60,437.07 L631.90,434.66 L631.20,436.77 L630.50,433.11 L629.80,435.37 L629.10,437.81 L628.40,436.87 L627.70,436.72 L627.00,436.94 L626.30,436.55 L625.60,433.45 L624.90,432.75 L624.20,437.16 L623.50,432.77 L622.80,436.34 L622.10,438.54 L621.40,437.23 L620.70,432.28 L620.00,434.18 L619.30,437.30 L618.60,437.53 L617.90,436.08 L617.20,435.64 L616.50,437.08 L615.80,435.83 L615.10,434.89 L614.40,434.24 L613.70,439.20 L613.00,435.82 L612.30,437.58 L611.60,439.53 L610.90,439.77 L610.20,440.01 L609.50,439.42 L608.80,439.95 L608.10,440.80 L607.40,440.80 L606.70,440.80 L606.00,440.80 L605.30,440.80 L604.60,440.80 L603.90,440.80 L603.20,440.80 L602.50,440.80 L601.80,440.80 L601.10,440.80 L600.40,440.80 L599.70,439.71 L599.00,440.35 L598.30,439.11 L597.60,438.84 L596.90,436.85 L596.20,438.11 L595.50,438.16 L594.80,434.42 L594.10,434.32 L593.40,433.94 L592.70,438.86 L592.00,437.27 L591.30,434.62 L590.60,436.36 L589.90,436.29 L589.20,433.20 L588.50,435.02 L587.80,437.06 L587.10,438.11 L586.40,434.97 L585.70,434.64 L585.00,431.35 L584.30,432.73 L583.60,433.08 L582.90,438.06 L582.20,435.98 L581.50,433.96 L580.80,431.58 L580.10,435.96 L579.40,434.54 L578.70,436.31 L578.00,432.33 L577.30,433.97 L576.60,438.22 L575.90,433.49 L575.20,433.10 L574.50,434.76 L573.80,436.42 L573.10,435.70 L572.40,436.75 L571.70,434.78 L571.00,437.69 L570.30,437.57 L569.60,438.91 L568.90,436.61 L568.20,438.34 L567.50,439.33 L566.80,439.28 L566.10,438.06 L565.40,438.32 L564.70,438.80 L564.00,439.20 L563.30,440.25 L562.60,440.50 L561.90,440.80 L561.20,440.80 L560.50,440.80 L559.80,440.80 L559.10,440.80 L558.40,440.80 L557.70,440.80 L557.00,440.80 L556.30,440.80 L555.60,440.80 L554.90,440.80 L554.20,440.80 L553.50,440.80 L552.80,440.80 L552.10,440.80 L551.40,440.80 L550.70,440.80 L550.00,440.80 L549.30,440.80 L548.60,440.80 L547.90,440.80 L547.20,440.80 L546.50,440.80 L545.80,440.80 L545.10,440.80 L544.40,440.80 L543.70,440.80 L543.00,440.80 L542.30,440.80 L541.60,440.80 L540.90,440.80 L540.20,440.80 L539.50,440.80 L538.80,440.80 L538.10,440.80 L537.40,440.80 L536.70,440.80 L536.00,440.80 L535.30,440.80 L534.60,440.80 L533.90,440.80 L533.20,440.80 L532.50,440.80 L531.80,440.80 L531.10,440.80 L530.40,440.80 L529.70,440.80 L529.00,440.80 L528.30,440.80 L527.60,440.80 L526.90,440.80 L526.20,440.80 L525.50,440.80 L524.80,440.80 L524.10,440.80 L523.40,440.80 L522.70,440.80 L522.00,440.80 L521.30,440.80 L520.60,440.80 L519.90,440.80 L519.20,440.80 L518.50,440.80 L517.80,440.80 L517.10,440.80 L516.40,440.80 L515.70,440.80 L515.00,440.80 L514.30,440.80 L513.60,440.80 L512.90,440.80 L512.20,440.80 L511.50,440.80 L510.80,440.80 L510.10,440.80 L509.40,440.80 L508.70,440.80 L508.00,440.80 L507.30,440.80 L506.60,440.80 L505.90,440.80 L505.20,440.80 L504.50,440.80 L503.80,440.80 L503.10,440.80 L502.40,440.80 L501.70,440.80 L501.00,440.80 L500.30,440.80 L499.60,440.80 L498.90,440.80 L498.20,440.80 L497.50,440.80 L496.80,440.80 L496.10,440.80 L495.40,440.80 L494.70,440.80 L494.00,440.80 L493.30,440.80 L492.60,440.80 L491.90,440.80 L491.20,440.80 L490.50,440.80 L489.80,440.80 L489.10,440.80 L488.40,440.80 L487.70,440.80 L487.00,440.80 L486.30,440.80 L485.60,440.80 L484.90,440.80 L484.20,440.80 L483.50,440.80 L482.80,440.80 L482.10,440.80 L481.40,440.80 L480.70,440.80 L480.00,440.80 L479.30,440.80 L478.60,440.80 L477.90,440.80 L477.20,440.80 L476.50,440.80 L475.80,440.80 L475.10,440.80 L474.40,440.80 L473.70,440.80 L473.00,440.80 L472.30,440.80 L471.60,440.80 L470.90,440.80 L470.20,440.80 L469.50,440.80 L468.80,440.80 L468.10,440.80 L467.40,440.80 L466.70,440.80 L466.00,440.80 L465.30,440.80 L464.60,440.80 L463.90,440.80 L463.20,440.80 L462.50,440.80 L461.80,440.80 L461.10,440.80 L460.40,440.80 L459.70,440.80 L459.00,440.80 L458.30,440.80 L457.60,440.80 L456.90,440.80 L456.20,440.80 L455.50,440.80 L454.80,440.80 L454.10,440.80 L453.40,440.80 L452.70,440.80 L452.00,440.80 L451.30,440.80 L450.60,440.80 L449.90,440.80 L449.20,440.80 L448.50,440.80 L447.80,440.80 L447.10,440.80 L446.40,440.80 L445.70,440.80 L445.00,440.80 L444.30,440.80 L443.60,440.80 L442.90,440.80 L442.20,440.80 L441.50,440.80 L440.80,440.80 L440.10,440.80 L439.40,440.80 L438.70,440.80 L438.00,440.80 L437.30,440.80 L436.60,440.80 L435.90,440.80 L435.20,440.80 L434.50,440.80 L433.80,440.80 L433.10,440.80 L432.40,440.80 L431.70,440.80 L431.00,440.80 L430.30,440.80 L429.60,440.80 L428.90,440.80 L428.20,440.80 L427.50,440.80 L426.80,440.80 L426.10,440.80 L425.40,440.80 L424.70,440.80 L424.00,440.80 L423.30,440.80 L422.60,440.80 L421.90,440.80 L421.20,440.80 L420.50,440.80 L419.80,440.80 L419.10,440.80 L418.40,440.80 L417.70,440.80 L417.00,440.80 L416.30,440.80 L415.60,440.80 L414.90,440.80 L414.20,440.80 L413.50,440.80 L412.80,440.80 L412.10,440.80 L411.40,440.80 L410.70,440.80 L410.00,440.80 L409.30,440.80 L408.60,440.80 L407.90,440.80 L407.20,440.80 L406.50,440.80 L405.80,440.80 L405.10,440.80 L404.40,440.80 L403.70,440.80 L403.00,440.80 L402.30,440.80 L401.60,440.80 L400.90,440.80 L400.20,440.80 L399.50,440.80 L398.80,440.80 L398.10,440.80 L397.40,440.80 L396.70,440.80 L396.00,440.80 L395.30,440.80 L394.60,440.80 L393.90,440.80 L393.20,440.80 L392.50,440.80 L391.80,440.80 L391.10,440.80 L390.40,440.80 L389.70,440.80 L389.00,440.80 L388.30,440.80 L387.60,440.80 L386.90,440.80 L386.20,440.80 L385.50,440.80 L384.80,440.80 L384.10,440.80 L383.40,440.80 L382.70,440.80 L382.00,440.80 L381.30,440.80 L380.60,440.80 L379.90,440.80 L379.20,440.80 L378.50,440.80 L377.80,440.80 L377.10,440.80 L376.40,440.80 L375.70,440.80 L375.00,440.80 L374.30,440.80 L373.60,440.80 L372.90,440.80 L372.20,440.80 L371.50,440.80 L370.80,440.80 L370.10,440.80 L369.40,440.80 L368.70,440.80 L368.00,440.80 L367.30,440.80 L366.60,440.80 L365.90,440.80 L365.20,440.80 L364.50,440.80 L363.80,440.80 L363.10,440.80 L362.40,440.80 L361.70,440.80 L361.00,440.80 L360.30,440.80 L359.60,440.80 L358.90,440.80 L358.20,440.80 L357.50,440.80 L356.80,440.80 L356.10,440.80 L355.40,440.80 L354.70,440.80 L354.00,440.80 L353.30,440.80 L352.60,440.80 L351.90,440.80 L351.20,440.80 L350.50,440.80 L349.80,440.80 L349.10,440.80 L348.40,440.80 L347.70,440.80 L347.00,440.80 L346.30,440.80 L345.60,440.80 L344.90,440.80 L344.20,440.80 L343.50,440.80 L342.80,440.80 L342.10,440.80 L341.40,440.80 L340.70,440.80 L340.00,440.80 L339.30,440.80 L338.60,440.80 L337.90,440.80 L337.20,440.80 L336.50,440.80 L335.80,440.80 L335.10,440.80 L334.40,440.80 L333.70,440.80 L333.00,440.80 L332.30,440.80 L331.60,440.80 L330.90,440.80 L330.20,440.80 L329.50,440.80 L328.80,440.80 L328.10,440.80 L327.40,440.80 L326.70,440.80 L326.00,440.80 L325.30,440.80 L324.60,440.80 L323.90,440.80 L323.20,440.80 L322.50,440.80 L321.80,440.80 L321.10,440.80 L320.40,440.80 L319.70,440.80 L319.00,440.80 L318.30,440.80 L317.60,440.80 L316.90,440.80 L316.20,440.80 L315.50,440.80 L314.80,440.80 L314.10,440.80 L313.40,440.80 L312.70,440.80 L312.00,440.80 L311.30,440.80 L310.60,440.80 L309.90,440.80 L309.20,440.80 L308.50,440.80 L307.80,440.80 L307.10,440.80 L306.40,440.80 L305.70,440.80 L305.00,440.80 L304.30,440.80 L303.60,440.80 L302.90,440.80 L302.20,440.80 L301.50,440.80 L300.80,440.80 L300.10,440.80 L299.40,440.80 L298.70,440.80 L298.00,440.80 L297.30,440.80 L296.60,440.80 L295.90,440.80 L295.20,440.80 L294.50,440.80 L293.80,440.80 L293.10,440.80 L292.40,440.80 L291.70,440.80 L291.00,440.80 L290.30,440.80 L289.60,440.80 L288.90,440.80 L288.20,440.80 L287.50,440.80 L286.80,440.80 L286.10,440.80 L285.40,440.80 L284.70,440.80 L284.00,440.80 L283.30,440.80 L282.60,440.80 L281.90,440.80 L281.20,440.80 L280.50,440.80 L279.80,440.80 L279.10,440.80 L278.40,440.80 L277.70,440.80 L277.00,440.80 L276.30,440.80 L275.60,440.80 L274.90,440.80 L274.20,440.80 L273.50,440.80 L272.80,440.80 L272.10,440.80 L271.40,440.80 L270.70,440.80 L270.00,440.80 L269.30,440.80 L268.60,440.80 L267.90,440.80 L267.20,440.80 L266.50,440.80 L265.80,440.80 L265.10,440.80 L264.40,440.80 L263.70,440.80 L263.00,440.80 L262.30,440.80 L261.60,440.80 L260.90,440.80 L260.20,440.80 L259.50,440.80 L258.80,440.80 L258.10,440.80 L257.40,440.80 L256.70,440.80 L256.00,440.80 L255.30,440.80 L254.60,440.80 L253.90,440.80 L253.20,440.80 L252.50,440.80 L251.80,440.80 L251.10,440.80 L250.40,440.80 L249.70,440.80 L249.00,440.80 L248.30,440.80 L247.60,440.80 L246.90,440.80 L246.20,440.80 L245.50,440.80 L244.80,440.80 L244.10,440.80 L243.40,440.80 L242.70,440.80 L242.00,440.80 L241.30,440.80 L240.60,440.80 L239.90,440.80 L239.20,440.80 L238.50,440.80 L237.80,440.80 L237.10,440.80 L236.40,440.80 L235.70,440.80 L235.00,440.80 L234.30,440.80 L233.60,440.80 L232.90,440.80 L232.20,440.80 L231.50,440.80 L230.80,440.80 L230.10,440.80 L229.40,440.80 L228.70,440.80 L228.00,440.80 L227.30,440.80 L226.60,440.80 L225.90,440.80 L225.20,440.80 L224.50,440.80 L223.80,440.80 L223.10,440.80 L222.40,440.80 L221.70,440.80 L221.00,440.80 L220.30,440.80 L219.60,440.80 L218.90,440.80 L218.20,440.80 L217.50,440.80 L216.80,440.80 L216.10,440.80 L215.40,440.80 L214.70,440.80 L214.00,440.80 L213.30,440.80 L212.60,440.80 L211.90,440.80 L211.20,440.80 L210.50,440.80 L209.80,440.80 L209.10,440.80 L208.40,440.80 L207.70,440.80 L207.00,440.80Z" fill="#1f77b4" stroke="#1f77b4" stroke-width="0.9" stroke-linejoin="miter"/>
<rect x="238.9" y="382.6" width="2.2" height="57.2" fill="#1f77b4"/>
<rect x="251.9" y="405.4" width="2.2" height="34.4" fill="#1f77b4"/>
<rect x="326.9" y="412.9" width="2.2" height="26.9" fill="#1f77b4"/>
<rect x="351.9" y="414.3" width="2.2" height="25.5" fill="#1f77b4"/>
<rect x="469.9" y="406.0" width="2.2" height="33.8" fill="#1f77b4"/>
<rect x="514.9" y="412.1" width="2.2" height="27.7" fill="#1f77b4"/>
<rect x="561.9" y="405.4" width="2.2" height="34.4" fill="#1f77b4"/>
<rect x="581.9" y="403.7" width="2.2" height="36.1" fill="#1f77b4"/>
<rect x="626.9" y="403.7" width="2.2" height="36.1" fill="#1f77b4"/>
<rect x="650.9" y="405.4" width="2.2" height="34.4" fill="#1f77b4"/>
<rect x="680.9" y="388.5" width="2.2" height="51.3" fill="#1f77b4"/>
<rect x="744.9" y="403.7" width="2.2" height="36.1" fill="#1f77b4"/>
<rect x="793.9" y="415.5" width="2.2" height="24.3" fill="#1f77b4"/>
<rect x="809.9" y="415.5" width="2.2" height="24.3" fill="#1f77b4"/>
<rect x="821.9" y="418.9" width="2.2" height="20.9" fill="#1f77b4"/>
<rect x="930.9" y="421.6" width="2.2" height="18.2" fill="#1f77b4"/>
<rect x="961.9" y="407.0" width="2.2" height="32.8" fill="#1f77b4"/>
<rect x="967.4" y="374.5" width="2.2" height="65.3" fill="#1f77b4"/>
<rect x="970.9" y="382.6" width="2.2" height="57.2" fill="#1f77b4"/>
<rect x="1006.9" y="406.5" width="2.2" height="33.3" fill="#1f77b4"/>
<rect x="1021.9" y="357.2" width="2.2" height="82.6" fill="#1f77b4"/>
<rect x="1057.9" y="398.9" width="2.2" height="40.9" fill="#1f77b4"/>
<rect x="1074.9" y="409.7" width="2.2" height="30.1" fill="#1f77b4"/>
<rect x="1081.9" y="410.4" width="2.2" height="29.4" fill="#1f77b4"/>
<rect x="1088.9" y="418.0" width="2.2" height="21.8" fill="#1f77b4"/>
<rect x="1185.9" y="350.8" width="2.2" height="89.0" fill="#1f77b4"/>
<rect x="1198.9" y="400.6" width="2.2" height="39.2" fill="#1f77b4"/>
<rect x="1213.9" y="412.1" width="2.2" height="27.7" fill="#1f77b4"/>
<rect x="1239.9" y="255.1" width="2.2" height="184.7" fill="#1f77b4"/>
<rect x="1251.9" y="396.2" width="2.2" height="43.6" fill="#1f77b4"/>
<rect x="1254.9" y="340.9" width="2.2" height="98.9" fill="#1f77b4"/>
<rect x="1258.9" y="387.1" width="2.2" height="52.7" fill="#1f77b4"/>
<rect x="1268.9" y="413.8" width="2.2" height="26.0" fill="#1f77b4"/>
<rect x="1318.9" y="407.0" width="2.2" height="32.8" fill="#1f77b4"/>
<rect x="1360.9" y="345.8" width="2.2" height="94.0" fill="#1f77b4"/>
<rect x="1403.9" y="413.8" width="2.2" height="26.0" fill="#1f77b4"/>
<rect x="1419.9" y="398.6" width="2.2" height="41.2" fill="#1f77b4"/>
<rect x="207.5" y="268.8" width="289.7" height="48.5" rx="4" ry="4" fill="#fff" fill-opacity="0.8" stroke="#cccccc" stroke-width="1.8"/>
<line x1="217.8" y1="290.6" x2="274.9" y2="290.6" stroke="#1f77b4" stroke-width="2.2"/>
<text x="297.8" y="301.0" font-size="26.5" text-anchor="start" textLength="157.0" lengthAdjust="spacingAndGlyphs">Binsize 10kbp</text>
<rect x="564.9" y="327.7" width="33.7" height="42.7" rx="8.5" ry="8.5" fill="#d3d3d3" fill-opacity="0.5" stroke="#000" stroke-opacity="0.5" stroke-width="2.6"/>
<text x="581.8" y="357.7" font-size="26.5" text-anchor="middle">1</text>
<rect x="960.5" y="327.7" width="33.7" height="42.7" rx="8.5" ry="8.5" fill="#d3d3d3" fill-opacity="0.5" stroke="#000" stroke-opacity="0.5" stroke-width="2.6"/>
<text x="977.4" y="357.7" font-size="26.5" text-anchor="middle">3</text>
<rect x="1206.4" y="327.7" width="33.7" height="42.7" rx="8.5" ry="8.5" fill="#d3d3d3" fill-opacity="0.5" stroke="#000" stroke-opacity="0.5" stroke-width="2.6"/>
<text x="1223.2" y="357.7" font-size="26.5" text-anchor="middle">2</text>
<rect x="1232.8" y="243.3" width="33.7" height="42.7" rx="8.5" ry="8.5" fill="#d3d3d3" fill-opacity="0.5" stroke="#000" stroke-opacity="0.5" stroke-width="2.6"/>
<text x="1249.7" y="273.3" font-size="26.5" text-anchor="middle">4</text>
<text x="172.0" y="573.9" font-size="24" text-anchor="end">Quies</text>
<text x="172.0" y="599.8" font-size="24" text-anchor="end">Het</text>
<text x="172.0" y="625.6" font-size="24" text-anchor="end">TxWk</text>
<text x="172.0" y="651.5" font-size="24" text-anchor="end">Tx</text>
<text x="172.0" y="677.4" font-size="24" text-anchor="end">TxFlnk</text>
<text x="172.0" y="703.2" font-size="24" text-anchor="end">TssAFlnk</text>
<text x="172.0" y="729.1" font-size="24" text-anchor="end">TssA</text>
<text x="172.0" y="755.0" font-size="24" text-anchor="end">NA</text>
<text x="41.0" y="671.0" font-size="27" text-anchor="middle" transform="rotate(-90 41.0 671.0)">ChromHMM state</text>
<rect x="337.0" y="497.2" width="40.7" height="51.2" rx="8.5" ry="8.5" fill="#d3d3d3" fill-opacity="0.5" stroke="#000" stroke-opacity="0.5" stroke-width="2.6"/>
<text x="357.4" y="532.1" font-size="31" text-anchor="middle">1</text>
<text x="380.8" y="531.0" font-size="32.7" text-anchor="start" textLength="228.5" lengthAdjust="spacingAndGlyphs">TS14-like cluster</text>
<rect x="660.8" y="497.2" width="40.7" height="51.2" rx="8.5" ry="8.5" fill="#d3d3d3" fill-opacity="0.5" stroke="#000" stroke-opacity="0.5" stroke-width="2.6"/>
<text x="681.1" y="532.1" font-size="31" text-anchor="middle">2</text>
<rect x="984.6" y="497.2" width="40.7" height="51.2" rx="8.5" ry="8.5" fill="#d3d3d3" fill-opacity="0.5" stroke="#000" stroke-opacity="0.5" stroke-width="2.6"/>
<text x="1004.9" y="532.1" font-size="31" text-anchor="middle">3</text>
<text x="1031.0" y="531.0" font-size="32.7" text-anchor="start" textLength="228.5" lengthAdjust="spacingAndGlyphs">TS13-like cluster</text>
<rect x="1316.8" y="497.2" width="40.7" height="51.2" rx="8.5" ry="8.5" fill="#d3d3d3" fill-opacity="0.5" stroke="#000" stroke-opacity="0.5" stroke-width="2.6"/>
<text x="1337.2" y="532.1" font-size="31" text-anchor="middle">4</text>
<text x="157.4" y="847.4" font-size="25.5" text-anchor="end" textLength="28.0" lengthAdjust="spacingAndGlyphs">10</text>
<text x="171.9" y="836.0" font-size="16" text-anchor="end">5</text>
<text x="157.4" y="923.4" font-size="25.5" text-anchor="end" textLength="28.0" lengthAdjust="spacingAndGlyphs">10</text>
<text x="171.9" y="912.0" font-size="16" text-anchor="end">2</text>
<text x="480.8" y="847.4" font-size="25.5" text-anchor="end" textLength="28.0" lengthAdjust="spacingAndGlyphs">10</text>
<text x="495.3" y="836.0" font-size="16" text-anchor="end">5</text>
<text x="480.8" y="923.4" font-size="25.5" text-anchor="end" textLength="28.0" lengthAdjust="spacingAndGlyphs">10</text>
<text x="495.3" y="912.0" font-size="16" text-anchor="end">2</text>
<text x="804.8" y="847.4" font-size="25.5" text-anchor="end" textLength="28.0" lengthAdjust="spacingAndGlyphs">10</text>
<text x="819.3" y="836.0" font-size="16" text-anchor="end">5</text>
<text x="804.8" y="923.4" font-size="25.5" text-anchor="end" textLength="28.0" lengthAdjust="spacingAndGlyphs">10</text>
<text x="819.3" y="912.0" font-size="16" text-anchor="end">2</text>
<text x="1128.5" y="841.7" font-size="25.5" text-anchor="end" textLength="28.0" lengthAdjust="spacingAndGlyphs">10</text>
<text x="1143.0" y="830.3" font-size="16" text-anchor="end">5</text>
<text x="1128.5" y="921.1" font-size="25.5" text-anchor="end" textLength="28.0" lengthAdjust="spacingAndGlyphs">10</text>
<text x="1143.0" y="909.7" font-size="16" text-anchor="end">2</text>
<text x="80.5" y="892.9" font-size="27" text-anchor="middle" textLength="156.0" lengthAdjust="spacingAndGlyphs" transform="rotate(-90 80.5 892.9)">Intermutation</text>
<text x="112.0" y="888.9" font-size="27" text-anchor="middle" textLength="94.0" lengthAdjust="spacingAndGlyphs" transform="rotate(-90 112.0 888.9)">distance</text>
<rect x="195.3" y="553.9" width="305.7" height="23.4" rx="1.2" fill="#db57b2"/>
<rect x="464.3" y="605.6" width="2.6" height="23.4" rx="1.2" fill="#5770db"/>
<rect x="269.4" y="709.1" width="2.6" height="23.4" rx="1.2" fill="#dbc257"/>
<rect x="464.2" y="709.1" width="2.6" height="23.4" rx="1.2" fill="#dbc257"/>
<rect x="211.8" y="735.0" width="2.6" height="23.4" rx="1.2" fill="#db5f57"/>
<rect x="269.3" y="735.0" width="2.6" height="23.4" rx="1.2" fill="#db5f57"/>
<rect x="286.0" y="735.0" width="2.6" height="23.4" rx="1.2" fill="#db5f57"/>
<rect x="289.2" y="735.0" width="2.6" height="23.4" rx="1.2" fill="#db5f57"/>
<rect x="303.7" y="735.0" width="2.6" height="23.4" rx="1.2" fill="#db5f57"/>
<rect x="311.0" y="735.0" width="2.6" height="23.4" rx="1.2" fill="#db5f57"/>
<rect x="324.9" y="735.0" width="2.6" height="23.4" rx="1.2" fill="#db5f57"/>
<rect x="348.0" y="735.0" width="2.6" height="23.4" rx="1.2" fill="#db5f57"/>
<rect x="353.3" y="735.0" width="2.6" height="23.4" rx="1.2" fill="#db5f57"/>
<rect x="375.7" y="735.0" width="2.6" height="23.4" rx="1.2" fill="#db5f57"/>
<rect x="398.2" y="735.0" width="2.6" height="23.4" rx="1.2" fill="#db5f57"/>
<rect x="402.5" y="735.0" width="2.6" height="23.4" rx="1.2" fill="#db5f57"/>
<rect x="418.1" y="735.0" width="2.6" height="23.4" rx="1.2" fill="#db5f57"/>
<rect x="435.0" y="735.0" width="2.6" height="23.4" rx="1.2" fill="#db5f57"/>
<rect x="447.8" y="735.0" width="2.6" height="23.4" rx="1.2" fill="#db5f57"/>
<rect x="452.7" y="735.0" width="2.6" height="23.4" rx="1.2" fill="#db5f57"/>
<rect x="454.9" y="735.0" width="2.6" height="23.4" rx="1.2" fill="#db5f57"/>
<rect x="457.0" y="735.0" width="2.6" height="23.4" rx="1.2" fill="#db5f57"/>
<rect x="461.9" y="735.0" width="2.6" height="23.4" rx="1.2" fill="#db5f57"/>
<rect x="463.4" y="735.0" width="2.6" height="23.4" rx="1.2" fill="#db5f57"/>
<rect x="464.9" y="735.0" width="2.6" height="23.4" rx="1.2" fill="#db5f57"/>
<rect x="469.2" y="735.0" width="2.6" height="23.4" rx="1.2" fill="#db5f57"/>
<rect x="491.2" y="735.0" width="2.6" height="23.4" rx="1.2" fill="#db5f57"/>
<rect x="365.3" y="735.0" width="8.1" height="23.4" rx="1.2" fill="#db5f57"/>
<rect x="553.0" y="553.9" width="132.2" height="23.4" rx="1.2" fill="#db57b2"/>
<rect x="690.9" y="553.9" width="6.0" height="23.4" rx="1.2" fill="#db57b2"/>
<rect x="702.9" y="553.9" width="4.1" height="23.4" rx="1.2" fill="#db57b2"/>
<rect x="708.0" y="553.9" width="5.8" height="23.4" rx="1.2" fill="#db57b2"/>
<rect x="717.6" y="553.9" width="33.2" height="23.4" rx="1.2" fill="#db57b2"/>
<rect x="786.9" y="553.9" width="37.6" height="23.4" rx="1.2" fill="#db57b2"/>
<rect x="520.6" y="605.6" width="3.6" height="23.4" rx="1.2" fill="#5770db"/>
<rect x="540.4" y="605.6" width="6.4" height="23.4" rx="1.2" fill="#5770db"/>
<rect x="786.3" y="709.1" width="2.7" height="23.4" rx="1.2" fill="#dbc257"/>
<rect x="519.5" y="735.0" width="35.7" height="23.4" rx="1.2" fill="#db5f57"/>
<rect x="572.1" y="735.0" width="2.7" height="23.4" rx="1.2" fill="#db5f57"/>
<rect x="627.0" y="735.0" width="7.1" height="23.4" rx="1.2" fill="#db5f57"/>
<rect x="653.5" y="735.0" width="3.2" height="23.4" rx="1.2" fill="#db5f57"/>
<rect x="658.0" y="735.0" width="4.7" height="23.4" rx="1.2" fill="#db5f57"/>
<rect x="665.9" y="735.0" width="3.9" height="23.4" rx="1.2" fill="#db5f57"/>
<rect x="672.8" y="735.0" width="3.8" height="23.4" rx="1.2" fill="#db5f57"/>
<rect x="677.9" y="735.0" width="41.9" height="23.4" rx="1.2" fill="#db5f57"/>
<rect x="724.9" y="735.0" width="3.0" height="23.4" rx="1.2" fill="#db5f57"/>
<rect x="732.4" y="735.0" width="3.4" height="23.4" rx="1.2" fill="#db5f57"/>
<rect x="739.0" y="735.0" width="3.9" height="23.4" rx="1.2" fill="#db5f57"/>
<rect x="745.6" y="735.0" width="43.9" height="23.4" rx="1.2" fill="#db5f57"/>
<rect x="814.3" y="735.0" width="2.7" height="23.4" rx="1.2" fill="#db5f57"/>
<rect x="845.0" y="553.9" width="63.7" height="23.4" rx="1.2" fill="#db57b2"/>
<rect x="913.0" y="553.9" width="62.0" height="23.4" rx="1.2" fill="#db57b2"/>
<rect x="987.3" y="553.9" width="66.3" height="23.4" rx="1.2" fill="#db57b2"/>
<rect x="1066.9" y="553.9" width="22.4" height="23.4" rx="1.2" fill="#db57b2"/>
<rect x="1090.0" y="605.6" width="5.3" height="23.4" rx="1.2" fill="#5770db"/>
<rect x="1126.3" y="605.6" width="10.5" height="23.4" rx="1.2" fill="#5770db"/>
<rect x="1135.3" y="631.5" width="6.8" height="23.4" rx="1.2" fill="#57d3db"/>
<rect x="1088.9" y="683.2" width="2.6" height="23.4" rx="1.2" fill="#91db57"/>
<rect x="870.2" y="709.1" width="3.2" height="23.4" rx="1.2" fill="#dbc257"/>
<rect x="908.7" y="709.1" width="6.0" height="23.4" rx="1.2" fill="#dbc257"/>
<rect x="973.2" y="709.1" width="2.8" height="23.4" rx="1.2" fill="#dbc257"/>
<rect x="987.1" y="709.1" width="2.8" height="23.4" rx="1.2" fill="#dbc257"/>
<rect x="1059.0" y="709.1" width="8.5" height="23.4" rx="1.2" fill="#dbc257"/>
<rect x="1087.2" y="709.1" width="3.6" height="23.4" rx="1.2" fill="#dbc257"/>
<rect x="1144.5" y="709.1" width="3.4" height="23.4" rx="1.2" fill="#dbc257"/>
<rect x="843.5" y="735.0" width="3.8" height="23.4" rx="1.2" fill="#db5f57"/>
<rect x="869.6" y="735.0" width="5.3" height="23.4" rx="1.2" fill="#db5f57"/>
<rect x="906.5" y="735.0" width="4.3" height="23.4" rx="1.2" fill="#db5f57"/>
<rect x="911.9" y="735.0" width="3.6" height="23.4" rx="1.2" fill="#db5f57"/>
<rect x="972.8" y="735.0" width="16.7" height="23.4" rx="1.2" fill="#db5f57"/>
<rect x="1050.8" y="735.0" width="10.1" height="23.4" rx="1.2" fill="#db5f57"/>
<rect x="1065.2" y="735.0" width="3.8" height="23.4" rx="1.2" fill="#db5f57"/>
<rect x="1086.5" y="735.0" width="42.4" height="23.4" rx="1.2" fill="#db5f57"/>
<rect x="1134.2" y="735.0" width="3.2" height="23.4" rx="1.2" fill="#db5f57"/>
<rect x="1140.0" y="735.0" width="7.0" height="23.4" rx="1.2" fill="#db5f57"/>
<rect x="1166.5" y="735.0" width="113.2" height="23.4" rx="1.2" fill="#db5f57"/>
<rect x="1277.0" y="709.1" width="66.6" height="23.4" rx="1.2" fill="#dbc257"/>
<rect x="1341.5" y="735.0" width="131.2" height="23.4" rx="1.2" fill="#db5f57"/>
<g filter="url(#hz)"><rect x="196.0" y="823.0" width="4" height="56.1" fill="#e0c0c0" fill-opacity="0.06"/><rect x="200.0" y="815.3" width="4" height="56.3" fill="#e0c0c0" fill-opacity="0.06"/><rect x="204.0" y="825.0" width="4" height="58.3" fill="#c8d4e4" fill-opacity="0.06"/><rect x="208.0" y="819.5" width="4" height="40.5" fill="#d8c8c0" fill-opacity="0.06"/><rect x="212.0" y="820.1" width="4" height="45.7" fill="#d8c8c0" fill-opacity="0.06"/><rect x="216.0" y="817.0" width="4" height="56.7" fill="#c8d4e4" fill-opacity="0.06"/><rect x="220.0" y="813.1" width="4" height="55.8" fill="#d8c8c0" fill-opacity="0.06"/><rect x="224.0" y="819.7" width="4" height="48.5" fill="#e0c0c0" fill-opacity="0.06"/><rect x="228.0" y="822.8" width="4" height="47.9" fill="#c8d4e4" fill-opacity="0.06"/><rect x="232.0" y="817.6" width="4" height="59.7" fill="#e0c0c0" fill-opacity="0.06"/><rect x="236.0" y="819.6" width="4" height="50.5" fill="#e0c0c0" fill-opacity="0.06"/><rect x="240.0" y="813.3" width="4" height="51.3" fill="#e0c0c0" fill-opacity="0.06"/><rect x="244.0" y="824.6" width="4" height="54.9" fill="#d8c8c0" fill-opacity="0.06"/><rect x="248.0" y="823.8" width="4" height="41.4" fill="#d8c8c0" fill-opacity="0.06"/><rect x="252.0" y="824.2" width="4" height="43.0" fill="#e0c0c0" fill-opacity="0.06"/><rect x="256.0" y="819.0" width="4" height="53.1" fill="#e0c0c0" fill-opacity="0.06"/><rect x="260.0" y="813.6" width="4" height="50.2" fill="#e0c0c0" fill-opacity="0.06"/><rect x="264.0" y="815.8" width="4" height="50.2" fill="#d8c8c0" fill-opacity="0.06"/><rect x="268.0" y="819.4" width="4" height="49.7" fill="#d8c8c0" fill-opacity="0.06"/><rect x="272.0" y="815.2" width="4" height="54.6" fill="#e0c0c0" fill-opacity="0.06"/><rect x="276.0" y="824.2" width="4" height="55.1" fill="#d8c8c0" fill-opacity="0.06"/><rect x="280.0" y="817.4" width="4" height="49.2" fill="#e0c0c0" fill-opacity="0.06"/><rect x="284.0" y="819.2" width="4" height="47.5" fill="#c8d4e4" fill-opacity="0.06"/><rect x="288.0" y="823.1" width="4" height="42.0" fill="#d8c8c0" fill-opacity="0.06"/><rect x="292.0" y="824.3" width="4" height="47.2" fill="#e0c0c0" fill-opacity="0.06"/><rect x="296.0" y="823.3" width="4" height="44.6" fill="#c8d4e4" fill-opacity="0.06"/><rect x="300.0" y="814.0" width="4" height="42.0" fill="#e0c0c0" fill-opacity="0.06"/><rect x="304.0" y="820.4" width="4" height="49.1" fill="#c8d4e4" fill-opacity="0.06"/><rect x="308.0" y="821.8" width="4" height="42.3" fill="#c8d4e4" fill-opacity="0.06"/><rect x="312.0" y="822.0" width="4" height="57.6" fill="#c8d4e4" fill-opacity="0.06"/><rect x="316.0" y="821.3" width="4" height="49.3" fill="#e0c0c0" fill-opacity="0.06"/><rect x="320.0" y="820.2" width="4" height="56.6" fill="#e0c0c0" fill-opacity="0.06"/><rect x="324.0" y="822.7" width="4" height="55.4" fill="#c8d4e4" fill-opacity="0.06"/><rect x="328.0" y="815.0" width="4" height="44.4" fill="#c8d4e4" fill-opacity="0.06"/><rect x="332.0" y="814.3" width="4" height="47.8" fill="#d8c8c0" fill-opacity="0.06"/><rect x="336.0" y="814.6" width="4" height="41.8" fill="#c8d4e4" fill-opacity="0.06"/><rect x="340.0" y="821.5" width="4" height="48.8" fill="#d8c8c0" fill-opacity="0.06"/><rect x="344.0" y="819.1" width="4" height="51.1" fill="#e0c0c0" fill-opacity="0.06"/><rect x="348.0" y="821.3" width="4" height="40.2" fill="#e0c0c0" fill-opacity="0.06"/><rect x="352.0" y="820.6" width="4" height="59.3" fill="#d8c8c0" fill-opacity="0.06"/><rect x="356.0" y="820.0" width="4" height="54.2" fill="#e0c0c0" fill-opacity="0.06"/><rect x="360.0" y="820.8" width="4" height="59.0" fill="#c8d4e4" fill-opacity="0.06"/><rect x="364.0" y="824.5" width="4" height="55.1" fill="#e0c0c0" fill-opacity="0.06"/><rect x="368.0" y="818.3" width="4" height="53.2" fill="#c8d4e4" fill-opacity="0.06"/><rect x="372.0" y="819.3" width="4" height="52.9" fill="#c8d4e4" fill-opacity="0.06"/><rect x="376.0" y="812.2" width="4" height="41.4" fill="#c8d4e4" fill-opacity="0.06"/><rect x="380.0" y="815.6" width="4" height="45.2" fill="#c8d4e4" fill-opacity="0.06"/><rect x="384.0" y="816.4" width="4" height="47.4" fill="#d8c8c0" fill-opacity="0.06"/><rect x="388.0" y="819.1" width="4" height="43.0" fill="#e0c0c0" fill-opacity="0.06"/><rect x="392.0" y="815.6" width="4" height="48.8" fill="#e0c0c0" fill-opacity="0.06"/><rect x="396.0" y="821.9" width="4" height="58.6" fill="#e0c0c0" fill-opacity="0.06"/><rect x="400.0" y="815.5" width="4" height="55.6" fill="#d8c8c0" fill-opacity="0.06"/><rect x="404.0" y="818.4" width="4" height="59.3" fill="#c8d4e4" fill-opacity="0.06"/><rect x="408.0" y="819.3" width="4" height="58.8" fill="#e0c0c0" fill-opacity="0.06"/><rect x="412.0" y="818.8" width="4" height="42.1" fill="#e0c0c0" fill-opacity="0.06"/><rect x="416.0" y="821.4" width="4" height="49.2" fill="#c8d4e4" fill-opacity="0.06"/><rect x="420.0" y="818.9" width="4" height="56.8" fill="#c8d4e4" fill-opacity="0.06"/><rect x="424.0" y="824.4" width="4" height="42.8" fill="#c8d4e4" fill-opacity="0.06"/><rect x="428.0" y="812.3" width="4" height="44.4" fill="#d8c8c0" fill-opacity="0.06"/><rect x="432.0" y="819.7" width="4" height="54.9" fill="#e0c0c0" fill-opacity="0.06"/><rect x="436.0" y="821.5" width="4" height="48.7" fill="#d8c8c0" fill-opacity="0.06"/><rect x="440.0" y="822.0" width="4" height="50.1" fill="#d8c8c0" fill-opacity="0.06"/><rect x="444.0" y="821.8" width="4" height="50.1" fill="#c8d4e4" fill-opacity="0.06"/><rect x="448.0" y="820.9" width="4" height="41.8" fill="#e0c0c0" fill-opacity="0.06"/><rect x="452.0" y="813.6" width="4" height="59.3" fill="#d8c8c0" fill-opacity="0.06"/><rect x="456.0" y="823.2" width="4" height="50.8" fill="#d8c8c0" fill-opacity="0.06"/><rect x="460.0" y="822.6" width="4" height="44.3" fill="#c8d4e4" fill-opacity="0.06"/><rect x="464.0" y="822.7" width="4" height="50.8" fill="#d8c8c0" fill-opacity="0.06"/><rect x="468.0" y="819.2" width="4" height="41.2" fill="#c8d4e4" fill-opacity="0.06"/><rect x="472.0" y="820.7" width="4" height="49.9" fill="#e0c0c0" fill-opacity="0.06"/><rect x="476.0" y="820.9" width="4" height="58.2" fill="#e0c0c0" fill-opacity="0.06"/><rect x="480.0" y="817.6" width="4" height="57.4" fill="#e0c0c0" fill-opacity="0.06"/><rect x="484.0" y="816.1" width="4" height="47.1" fill="#e0c0c0" fill-opacity="0.06"/><rect x="488.0" y="823.6" width="4" height="51.1" fill="#d8c8c0" fill-opacity="0.06"/><rect x="492.0" y="814.5" width="4" height="56.0" fill="#d8c8c0" fill-opacity="0.06"/><rect x="496.0" y="816.8" width="4" height="49.0" fill="#e0c0c0" fill-opacity="0.06"/></g>
<g filter="url(#dotblur)"><circle cx="712.7" cy="814.5" r="5.8" fill="#2196F3" fill-opacity="0.25"/><circle cx="701.8" cy="830.8" r="5.8" fill="#8BC34A" fill-opacity="0.24"/><circle cx="672.6" cy="804.5" r="5.8" fill="#FFAB91" fill-opacity="0.23"/><circle cx="584.3" cy="836.0" r="5.8" fill="#FFAB91" fill-opacity="0.26"/><circle cx="801.7" cy="853.1" r="5.8" fill="#FFAB91" fill-opacity="0.24"/><circle cx="628.1" cy="805.1" r="5.8" fill="#F44336" fill-opacity="0.27"/><circle cx="697.6" cy="822.1" r="5.8" fill="#BDBDBD" fill-opacity="0.25"/><circle cx="780.7" cy="822.9" r="5.8" fill="#F44336" fill-opacity="0.16"/><circle cx="814.4" cy="837.7" r="5.8" fill="#8BC34A" fill-opacity="0.24"/><circle cx="569.3" cy="866.7" r="5.8" fill="#2196F3" fill-opacity="0.15"/><circle cx="599.7" cy="796.9" r="5.8" fill="#2196F3" fill-opacity="0.22"/><circle cx="754.6" cy="795.9" r="5.8" fill="#FFAB91" fill-opacity="0.15"/><circle cx="806.3" cy="825.0" r="5.8" fill="#8BC34A" fill-opacity="0.27"/><circle cx="711.8" cy="842.4" r="5.8" fill="#BDBDBD" fill-opacity="0.27"/><circle cx="787.6" cy="847.3" r="5.8" fill="#FFAB91" fill-opacity="0.23"/><circle cx="666.7" cy="807.5" r="5.8" fill="#8BC34A" fill-opacity="0.25"/><circle cx="707.5" cy="844.5" r="5.8" fill="#F44336" fill-opacity="0.23"/><circle cx="586.2" cy="833.7" r="5.8" fill="#FFAB91" fill-opacity="0.22"/><circle cx="735.2" cy="835.4" r="5.8" fill="#F44336" fill-opacity="0.17"/><circle cx="627.1" cy="814.3" r="5.8" fill="#FFAB91" fill-opacity="0.23"/><circle cx="713.4" cy="807.2" r="5.8" fill="#F44336" fill-opacity="0.16"/><circle cx="569.5" cy="840.1" r="5.8" fill="#FFAB91" fill-opacity="0.23"/><circle cx="720.7" cy="809.6" r="5.8" fill="#FFAB91" fill-opacity="0.18"/><circle cx="758.4" cy="846.4" r="5.8" fill="#F44336" fill-opacity="0.20"/><circle cx="625.5" cy="817.9" r="5.8" fill="#BDBDBD" fill-opacity="0.12"/><circle cx="721.0" cy="847.1" r="5.8" fill="#F44336" fill-opacity="0.16"/><circle cx="760.9" cy="841.7" r="5.8" fill="#BDBDBD" fill-opacity="0.20"/><circle cx="766.0" cy="871.2" r="5.8" fill="#F44336" fill-opacity="0.13"/><circle cx="527.2" cy="839.8" r="5.8" fill="#F44336" fill-opacity="0.19"/><circle cx="690.4" cy="858.4" r="5.8" fill="#8BC34A" fill-opacity="0.26"/><circle cx="612.4" cy="827.1" r="5.8" fill="#8BC34A" fill-opacity="0.16"/><circle cx="561.5" cy="856.0" r="5.8" fill="#8BC34A" fill-opacity="0.25"/><circle cx="577.8" cy="823.5" r="5.8" fill="#F44336" fill-opacity="0.18"/><circle cx="524.2" cy="836.9" r="5.8" fill="#F44336" fill-opacity="0.28"/><circle cx="638.7" cy="829.0" r="5.8" fill="#8BC34A" fill-opacity="0.16"/><circle cx="728.4" cy="796.5" r="5.8" fill="#8BC34A" fill-opacity="0.21"/><circle cx="803.5" cy="797.6" r="5.8" fill="#BDBDBD" fill-opacity="0.27"/><circle cx="717.6" cy="842.9" r="5.8" fill="#F44336" fill-opacity="0.15"/><circle cx="650.0" cy="842.5" r="5.8" fill="#FFAB91" fill-opacity="0.23"/><circle cx="731.8" cy="807.1" r="5.8" fill="#2196F3" fill-opacity="0.19"/><circle cx="721.6" cy="810.4" r="5.8" fill="#BDBDBD" fill-opacity="0.23"/><circle cx="577.3" cy="801.3" r="5.8" fill="#F44336" fill-opacity="0.17"/><circle cx="582.3" cy="820.8" r="5.8" fill="#BDBDBD" fill-opacity="0.21"/><circle cx="657.5" cy="803.3" r="5.8" fill="#F44336" fill-opacity="0.23"/><circle cx="545.3" cy="818.3" r="5.8" fill="#2196F3" fill-opacity="0.24"/><circle cx="581.2" cy="862.4" r="5.8" fill="#F44336" fill-opacity="0.21"/><circle cx="702.1" cy="858.5" r="5.8" fill="#F44336" fill-opacity="0.15"/><circle cx="722.1" cy="813.9" r="5.8" fill="#8BC34A" fill-opacity="0.18"/><circle cx="705.7" cy="853.4" r="5.8" fill="#BDBDBD" fill-opacity="0.23"/><circle cx="631.3" cy="841.6" r="5.8" fill="#FFAB91" fill-opacity="0.24"/><circle cx="804.2" cy="801.6" r="5.8" fill="#8BC34A" fill-opacity="0.15"/><circle cx="638.9" cy="820.2" r="5.8" fill="#FFAB91" fill-opacity="0.22"/><circle cx="728.3" cy="857.9" r="5.8" fill="#8BC34A" fill-opacity="0.25"/><circle cx="529.3" cy="845.9" r="5.8" fill="#F44336" fill-opacity="0.16"/><circle cx="799.5" cy="847.4" r="5.8" fill="#8BC34A" fill-opacity="0.20"/><circle cx="544.3" cy="800.6" r="5.8" fill="#8BC34A" fill-opacity="0.20"/><circle cx="702.6" cy="820.1" r="5.8" fill="#FFAB91" fill-opacity="0.18"/><circle cx="670.9" cy="851.6" r="5.8" fill="#FFAB91" fill-opacity="0.17"/><circle cx="665.6" cy="839.1" r="5.8" fill="#8BC34A" fill-opacity="0.22"/><circle cx="567.8" cy="850.9" r="5.8" fill="#8BC34A" fill-opacity="0.25"/><circle cx="804.5" cy="841.6" r="5.8" fill="#F44336" fill-opacity="0.16"/><circle cx="524.3" cy="830.7" r="5.8" fill="#F44336" fill-opacity="0.18"/><circle cx="698.9" cy="833.9" r="5.8" fill="#F44336" fill-opacity="0.25"/><circle cx="632.7" cy="849.7" r="5.8" fill="#8BC34A" fill-opacity="0.24"/><circle cx="782.2" cy="842.8" r="5.8" fill="#F44336" fill-opacity="0.15"/><circle cx="559.1" cy="836.5" r="5.8" fill="#FFAB91" fill-opacity="0.18"/><circle cx="752.3" cy="800.5" r="5.8" fill="#F44336" fill-opacity="0.22"/><circle cx="549.8" cy="802.2" r="5.8" fill="#F44336" fill-opacity="0.22"/><circle cx="722.2" cy="852.9" r="5.8" fill="#F44336" fill-opacity="0.14"/><circle cx="617.6" cy="814.2" r="5.8" fill="#BDBDBD" fill-opacity="0.19"/><circle cx="678.6" cy="816.3" r="5.8" fill="#F44336" fill-opacity="0.18"/><circle cx="646.8" cy="839.7" r="5.8" fill="#8BC34A" fill-opacity="0.17"/><circle cx="584.1" cy="859.5" r="5.8" fill="#FFAB91" fill-opacity="0.22"/><circle cx="562.9" cy="845.1" r="5.8" fill="#8BC34A" fill-opacity="0.12"/><circle cx="564.8" cy="806.6" r="5.8" fill="#8BC34A" fill-opacity="0.13"/><circle cx="572.0" cy="800.3" r="5.8" fill="#FFAB91" fill-opacity="0.22"/><circle cx="606.4" cy="860.7" r="5.8" fill="#F44336" fill-opacity="0.19"/><circle cx="778.7" cy="807.5" r="5.8" fill="#F44336" fill-opacity="0.19"/><circle cx="623.6" cy="834.0" r="5.8" fill="#BDBDBD" fill-opacity="0.16"/><circle cx="641.3" cy="871.2" r="5.8" fill="#BDBDBD" fill-opacity="0.12"/><circle cx="722.2" cy="847.0" r="5.8" fill="#BDBDBD" fill-opacity="0.27"/><circle cx="792.5" cy="808.4" r="5.8" fill="#2196F3" fill-opacity="0.18"/><circle cx="697.0" cy="818.6" r="5.8" fill="#F44336" fill-opacity="0.15"/><circle cx="718.2" cy="843.2" r="5.8" fill="#FFAB91" fill-opacity="0.18"/><circle cx="700.4" cy="837.8" r="5.8" fill="#BDBDBD" fill-opacity="0.14"/><circle cx="542.5" cy="841.2" r="5.8" fill="#8BC34A" fill-opacity="0.16"/><circle cx="635.3" cy="797.1" r="5.8" fill="#F44336" fill-opacity="0.15"/><circle cx="801.7" cy="833.6" r="5.8" fill="#FFAB91" fill-opacity="0.28"/><circle cx="580.9" cy="866.1" r="5.8" fill="#2196F3" fill-opacity="0.17"/><circle cx="542.8" cy="838.1" r="5.8" fill="#8BC34A" fill-opacity="0.25"/><circle cx="805.8" cy="863.8" r="5.8" fill="#BDBDBD" fill-opacity="0.28"/><circle cx="775.7" cy="813.1" r="5.8" fill="#FFAB91" fill-opacity="0.15"/><circle cx="639.6" cy="806.6" r="5.8" fill="#BDBDBD" fill-opacity="0.13"/><circle cx="793.9" cy="829.9" r="5.8" fill="#8BC34A" fill-opacity="0.24"/><circle cx="796.8" cy="796.8" r="5.8" fill="#F44336" fill-opacity="0.14"/><circle cx="651.5" cy="868.7" r="5.8" fill="#F44336" fill-opacity="0.22"/><circle cx="564.5" cy="852.9" r="5.8" fill="#F44336" fill-opacity="0.19"/><circle cx="522.9" cy="823.6" r="5.8" fill="#BDBDBD" fill-opacity="0.19"/><circle cx="804.2" cy="809.1" r="5.8" fill="#8BC34A" fill-opacity="0.16"/><circle cx="570.3" cy="848.1" r="5.8" fill="#BDBDBD" fill-opacity="0.17"/><circle cx="204.3" cy="835.1" r="5.8" fill="#8BC34A"/><circle cx="213.8" cy="828.5" r="5.8" fill="#FFAB91"/><circle cx="227.5" cy="828.1" r="5.8" fill="#FFAB91"/><circle cx="320.1" cy="837.8" r="5.8" fill="#2196F3"/><circle cx="450.1" cy="820.8" r="5.8" fill="#8BC34A"/><circle cx="483.2" cy="842.8" r="5.8" fill="#F44336"/><circle cx="231.9" cy="866.0" r="5.8" fill="#8BC34A"/><circle cx="213.8" cy="881.4" r="5.8" fill="#BDBDBD"/><circle cx="233.0" cy="883.6" r="5.8" fill="#212121"/><circle cx="205.4" cy="894.6" r="5.8" fill="#BDBDBD"/><circle cx="213.8" cy="893.5" r="5.8" fill="#8BC34A"/><circle cx="227.5" cy="896.8" r="5.8" fill="#8BC34A"/><circle cx="233.0" cy="893.5" r="5.8" fill="#8BC34A"/><circle cx="213.8" cy="905.7" r="5.8" fill="#BDBDBD"/><circle cx="227.5" cy="909.0" r="5.8" fill="#BDBDBD"/><circle cx="213.8" cy="917.1" r="5.8" fill="#212121"/><circle cx="205.4" cy="922.2" r="5.8" fill="#FFAB91"/><circle cx="231.9" cy="914.5" r="5.8" fill="#F44336"/><circle cx="233.0" cy="921.1" r="5.8" fill="#8BC34A"/><circle cx="233.0" cy="935.4" r="5.8" fill="#8BC34A"/><circle cx="213.8" cy="942.0" r="5.8" fill="#BDBDBD"/><circle cx="213.8" cy="953.1" r="5.8" fill="#F44336"/><circle cx="213.8" cy="961.9" r="5.8" fill="#8BC34A"/><circle cx="298.0" cy="889.1" r="5.8" fill="#BDBDBD"/><circle cx="298.0" cy="915.6" r="5.8" fill="#2196F3"/><circle cx="298.0" cy="953.1" r="5.8" fill="#8BC34A"/><circle cx="320.1" cy="899.0" r="5.8" fill="#8BC34A"/><circle cx="320.1" cy="903.5" r="5.8" fill="#8BC34A"/><circle cx="320.1" cy="912.3" r="5.8" fill="#F44336"/><circle cx="320.1" cy="915.6" r="5.8" fill="#2196F3"/><circle cx="320.1" cy="922.2" r="5.8" fill="#8BC34A"/><circle cx="352.0" cy="888.0" r="5.8" fill="#BDBDBD"/><circle cx="352.0" cy="894.6" r="5.8" fill="#8BC34A"/><circle cx="352.0" cy="900.1" r="5.8" fill="#8BC34A"/><circle cx="352.0" cy="907.9" r="5.8" fill="#8BC34A"/><circle cx="352.0" cy="911.2" r="5.8" fill="#FFAB91"/><circle cx="369.7" cy="875.9" r="5.8" fill="#2196F3"/><circle cx="369.7" cy="906.1" r="5.8" fill="#8BC34A"/><circle cx="369.7" cy="929.9" r="5.8" fill="#8BC34A"/><circle cx="386.2" cy="878.1" r="5.8" fill="#BDBDBD"/><circle cx="386.2" cy="904.6" r="5.8" fill="#FFAB91"/><circle cx="386.2" cy="920.0" r="5.8" fill="#BDBDBD"/><circle cx="386.2" cy="927.7" r="5.8" fill="#212121"/><circle cx="386.2" cy="960.8" r="5.8" fill="#8BC34A"/><circle cx="413.8" cy="863.3" r="5.8" fill="#8BC34A"/><circle cx="413.8" cy="907.4" r="5.8" fill="#8BC34A"/><circle cx="413.8" cy="922.2" r="5.8" fill="#FFAB91"/><circle cx="450.1" cy="934.3" r="5.8" fill="#8BC34A"/><circle cx="485.4" cy="914.5" r="5.8" fill="#8BC34A"/><circle cx="484.3" cy="911.2" r="5.8" fill="#BDBDBD"/><circle cx="673.7" cy="826.7" r="5.8" fill="#F44336"/><circle cx="658.3" cy="841.3" r="5.8" fill="#FFAB91"/><circle cx="666.0" cy="850.5" r="5.8" fill="#212121"/><circle cx="673.7" cy="856.1" r="5.8" fill="#FFAB91"/><circle cx="690.3" cy="856.1" r="5.8" fill="#BDBDBD"/><circle cx="714.5" cy="823.0" r="5.8" fill="#FFAB91"/><circle cx="705.7" cy="841.7" r="5.8" fill="#8BC34A"/><circle cx="755.3" cy="826.3" r="5.8" fill="#FFAB91"/><circle cx="787.3" cy="825.2" r="5.8" fill="#8BC34A"/><circle cx="784.0" cy="809.8" r="5.8" fill="#BDBDBD" fill-opacity="0.70"/><circle cx="747.6" cy="805.4" r="5.8" fill="#BDBDBD" fill-opacity="0.60"/><circle cx="550.3" cy="853.9" r="5.8" fill="#8BC34A"/><circle cx="714.5" cy="880.3" r="5.8" fill="#BDBDBD" fill-opacity="0.80"/><circle cx="673.7" cy="892.4" r="5.8" fill="#F44336"/><circle cx="658.3" cy="905.2" r="5.8" fill="#FFAB91"/><circle cx="666.0" cy="912.3" r="5.8" fill="#8BC34A"/><circle cx="673.7" cy="911.2" r="5.8" fill="#FFAB91"/><circle cx="673.7" cy="919.3" r="5.8" fill="#F44336"/><circle cx="673.7" cy="929.9" r="5.8" fill="#FFAB91"/><circle cx="658.3" cy="934.3" r="5.8" fill="#BDBDBD"/><circle cx="690.3" cy="931.0" r="5.8" fill="#FFAB91"/><circle cx="690.3" cy="942.0" r="5.8" fill="#FFAB91"/><circle cx="673.7" cy="944.2" r="5.8" fill="#8BC34A"/><circle cx="705.7" cy="923.3" r="5.8" fill="#8BC34A"/><circle cx="705.7" cy="929.9" r="5.8" fill="#FFAB91"/><circle cx="714.5" cy="913.4" r="5.8" fill="#FFAB91"/><circle cx="714.5" cy="926.6" r="5.8" fill="#BDBDBD"/><circle cx="714.5" cy="942.7" r="5.8" fill="#FFAB91"/><circle cx="666.0" cy="961.2" r="5.8" fill="#8BC34A"/><circle cx="674.8" cy="967.4" r="5.8" fill="#BDBDBD"/><circle cx="705.7" cy="961.2" r="5.8" fill="#8BC34A"/><circle cx="714.5" cy="961.2" r="5.8" fill="#BDBDBD"/><circle cx="550.3" cy="914.5" r="5.8" fill="#BDBDBD"/><circle cx="550.3" cy="922.2" r="5.8" fill="#8BC34A"/><circle cx="550.3" cy="928.8" r="5.8" fill="#BDBDBD"/><circle cx="550.3" cy="934.3" r="5.8" fill="#8BC34A"/><circle cx="755.3" cy="927.7" r="5.8" fill="#8BC34A"/><circle cx="755.3" cy="934.3" r="5.8" fill="#8BC34A"/><circle cx="785.1" cy="912.3" r="5.8" fill="#BDBDBD"/><circle cx="785.1" cy="921.1" r="5.8" fill="#BDBDBD"/><circle cx="785.1" cy="929.9" r="5.8" fill="#8BC34A"/><circle cx="785.1" cy="937.6" r="5.8" fill="#8BC34A"/><circle cx="788.4" cy="905.7" r="5.8" fill="#FFAB91"/><circle cx="756.4" cy="859.4" r="5.8" fill="#BDBDBD" fill-opacity="0.50"/><circle cx="809.3" cy="860.5" r="5.8" fill="#BDBDBD" fill-opacity="0.50"/><circle cx="604.0" cy="881.0" r="5.8" fill="#BDBDBD" fill-opacity="0.30"/><circle cx="700.0" cy="869.0" r="5.8" fill="#BDBDBD" fill-opacity="0.30"/><circle cx="691.0" cy="889.0" r="5.8" fill="#BDBDBD" fill-opacity="0.40"/><circle cx="692.0" cy="900.0" r="5.8" fill="#BDBDBD" fill-opacity="0.30"/><circle cx="691.0" cy="878.0" r="5.8" fill="#BDBDBD" fill-opacity="0.25"/><circle cx="738.0" cy="873.0" r="5.8" fill="#FFAB91" fill-opacity="0.30"/><circle cx="774.0" cy="856.0" r="5.8" fill="#FFAB91" fill-opacity="0.30"/><circle cx="777.0" cy="849.0" r="5.8" fill="#F44336" fill-opacity="0.30"/><circle cx="845.7" cy="796.5" r="5.8" fill="#2196F3" fill-opacity="0.50"/><circle cx="913.0" cy="810.9" r="5.8" fill="#F44336" fill-opacity="0.40"/><circle cx="913.0" cy="815.3" r="5.8" fill="#212121"/><circle cx="897.5" cy="830.7" r="5.8" fill="#F44336" fill-opacity="0.45"/><circle cx="909.6" cy="832.9" r="5.8" fill="#F44336"/><circle cx="914.1" cy="830.7" r="5.8" fill="#8BC34A" fill-opacity="0.50"/><circle cx="913.0" cy="840.6" r="5.8" fill="#2196F3" fill-opacity="0.50"/><circle cx="913.0" cy="881.4" r="5.8" fill="#212121"/><circle cx="913.0" cy="897.9" r="5.8" fill="#212121"/><circle cx="913.0" cy="905.7" r="5.8" fill="#F44336"/><circle cx="913.0" cy="912.3" r="5.8" fill="#F44336"/><circle cx="913.0" cy="918.9" r="5.8" fill="#212121"/><circle cx="913.0" cy="925.5" r="5.8" fill="#F44336"/><circle cx="913.0" cy="945.3" r="5.8" fill="#F44336"/><circle cx="913.0" cy="960.8" r="5.8" fill="#F44336" fill-opacity="0.45"/><circle cx="973.6" cy="791.0" r="5.8" fill="#212121" fill-opacity="0.55"/><circle cx="987.9" cy="799.8" r="5.8" fill="#FFAB91" fill-opacity="0.40"/><circle cx="987.9" cy="825.2" r="5.8" fill="#F44336" fill-opacity="0.40"/><circle cx="973.6" cy="846.1" r="5.8" fill="#F44336" fill-opacity="0.60"/><circle cx="973.6" cy="846.1" r="5.8" fill="#212121" fill-opacity="0.40"/><circle cx="987.9" cy="843.9" r="5.8" fill="#212121" fill-opacity="0.55"/><circle cx="979.1" cy="873.7" r="5.8" fill="#212121" fill-opacity="0.50"/><circle cx="987.9" cy="917.8" r="5.8" fill="#BDBDBD" fill-opacity="0.50"/><circle cx="987.9" cy="960.8" r="5.8" fill="#F44336" fill-opacity="0.40"/><circle cx="1061.8" cy="792.1" r="5.8" fill="#8BC34A" fill-opacity="0.50"/><circle cx="1061.8" cy="797.6" r="5.8" fill="#212121" fill-opacity="0.40"/><circle cx="1076.1" cy="798.7" r="5.8" fill="#F44336" fill-opacity="0.40"/><circle cx="1043.0" cy="810.9" r="5.8" fill="#FFAB91" fill-opacity="0.40"/><circle cx="1055.2" cy="812.0" r="5.8" fill="#F44336" fill-opacity="0.40"/><circle cx="1061.8" cy="812.0" r="5.8" fill="#F44336" fill-opacity="0.70"/><circle cx="1061.8" cy="812.0" r="5.8" fill="#8BC34A" fill-opacity="0.30"/><circle cx="1073.9" cy="813.1" r="5.8" fill="#212121" fill-opacity="0.55"/><circle cx="1092.6" cy="813.1" r="5.8" fill="#F44336" fill-opacity="0.40"/><circle cx="1109.2" cy="813.1" r="5.8" fill="#F44336" fill-opacity="0.40"/><circle cx="1045.2" cy="830.7" r="5.8" fill="#BDBDBD" fill-opacity="0.50"/><circle cx="1061.8" cy="828.5" r="5.8" fill="#F44336" fill-opacity="0.70"/><circle cx="1061.8" cy="837.3" r="5.8" fill="#F44336" fill-opacity="0.80"/><circle cx="1061.8" cy="843.9" r="5.8" fill="#F44336"/><circle cx="1084.9" cy="829.6" r="5.8" fill="#F44336" fill-opacity="0.40"/><circle cx="1094.8" cy="855.0" r="5.8" fill="#FFAB91" fill-opacity="0.40"/><circle cx="1109.2" cy="849.4" r="5.8" fill="#F44336" fill-opacity="0.50"/><circle cx="1064.0" cy="878.1" r="5.8" fill="#F44336" fill-opacity="0.45"/><circle cx="1062.9" cy="894.6" r="5.8" fill="#F44336"/><circle cx="1062.9" cy="899.0" r="5.8" fill="#F44336"/><circle cx="1062.9" cy="903.5" r="5.8" fill="#F44336"/><circle cx="1062.9" cy="908.0" r="5.8" fill="#F44336"/><circle cx="1062.9" cy="912.3" r="5.8" fill="#F44336"/><circle cx="1062.9" cy="917.0" r="5.8" fill="#F44336"/><circle cx="1062.9" cy="921.1" r="5.8" fill="#F44336"/><circle cx="1062.9" cy="925.5" r="5.8" fill="#F44336"/><circle cx="1062.9" cy="929.9" r="5.8" fill="#F44336"/><circle cx="1061.8" cy="936.5" r="5.8" fill="#212121"/><circle cx="1062.9" cy="935.4" r="5.8" fill="#BDBDBD"/><circle cx="1062.9" cy="954.2" r="5.8" fill="#F44336"/><circle cx="1062.9" cy="958.0" r="5.8" fill="#F44336"/><circle cx="1062.9" cy="960.8" r="5.8" fill="#F44336"/><circle cx="1243.8" cy="855.0" r="5.8" fill="#F44336" fill-opacity="0.45"/><circle cx="1254.8" cy="847.2" r="5.8" fill="#2196F3"/><circle cx="1280.1" cy="847.2" r="5.8" fill="#FFAB91" fill-opacity="0.80"/><circle cx="1268.0" cy="901.3" r="5.8" fill="#212121"/><circle cx="1307.7" cy="796.5" r="5.8" fill="#F44336"/><circle cx="1338.6" cy="796.5" r="5.8" fill="#F44336"/><circle cx="1324.2" cy="799.8" r="5.8" fill="#F44336" fill-opacity="0.50"/><circle cx="1363.9" cy="789.9" r="5.8" fill="#F44336" fill-opacity="0.40"/><circle cx="1356.2" cy="798.7" r="5.8" fill="#F44336" fill-opacity="0.40"/><circle cx="1370.5" cy="803.1" r="5.8" fill="#F44336" fill-opacity="0.40"/><circle cx="1334.2" cy="807.6" r="5.8" fill="#212121"/><circle cx="1343.0" cy="807.6" r="5.8" fill="#2196F3"/><circle cx="1323.1" cy="814.2" r="5.8" fill="#2196F3"/><circle cx="1328.6" cy="820.8" r="5.8" fill="#F44336"/><circle cx="1314.3" cy="827.4" r="5.8" fill="#F44336"/><circle cx="1325.3" cy="829.6" r="5.8" fill="#F44336"/><circle cx="1336.4" cy="836.2" r="5.8" fill="#F44336"/><circle cx="1346.3" cy="828.5" r="5.8" fill="#212121"/><circle cx="1366.1" cy="820.8" r="5.8" fill="#F44336" fill-opacity="0.50"/><circle cx="1366.1" cy="825.2" r="5.8" fill="#212121" fill-opacity="0.45"/><circle cx="1384.9" cy="832.9" r="5.8" fill="#8BC34A" fill-opacity="0.50"/><circle cx="1358.4" cy="845.0" r="5.8" fill="#8BC34A" fill-opacity="0.50"/><circle cx="1345.2" cy="845.0" r="5.8" fill="#212121"/><circle cx="1338.6" cy="850.5" r="5.8" fill="#212121" fill-opacity="0.50"/><circle cx="1317.6" cy="841.7" r="5.8" fill="#F44336"/><circle cx="1327.5" cy="842.8" r="5.8" fill="#F44336" fill-opacity="0.50"/><circle cx="1304.4" cy="835.1" r="5.8" fill="#212121" fill-opacity="0.45"/><circle cx="1314.3" cy="881.4" r="5.8" fill="#F44336"/><circle cx="1306.6" cy="890.2" r="5.8" fill="#F44336"/><circle cx="1306.6" cy="896.8" r="5.8" fill="#F44336"/><circle cx="1395.9" cy="894.6" r="5.8" fill="#FFAB91"/><circle cx="1414.6" cy="888.0" r="5.8" fill="#F44336"/><circle cx="1427.9" cy="886.9" r="5.8" fill="#F44336"/><circle cx="1400.3" cy="905.7" r="5.8" fill="#212121"/><circle cx="1412.4" cy="901.3" r="5.8" fill="#212121"/><circle cx="1420.1" cy="907.9" r="5.8" fill="#F44336"/><circle cx="1430.0" cy="905.7" r="5.8" fill="#212121"/><circle cx="1441.1" cy="904.6" r="5.8" fill="#F44336"/><circle cx="1391.5" cy="906.8" r="5.8" fill="#8BC34A"/><circle cx="1411.3" cy="913.4" r="5.8" fill="#8BC34A"/><circle cx="1421.2" cy="915.6" r="5.8" fill="#2196F3"/><circle cx="1398.1" cy="915.6" r="5.8" fill="#F44336"/><circle cx="1397.0" cy="925.5" r="5.8" fill="#BDBDBD"/><circle cx="1452.1" cy="875.2" r="5.8" fill="#212121" fill-opacity="0.50"/><circle cx="1458.7" cy="897.9" r="5.8" fill="#BDBDBD"/><circle cx="1468.6" cy="906.8" r="5.8" fill="#F44336"/><circle cx="1479.7" cy="906.1" r="5.8" fill="#8BC34A"/><circle cx="1459.8" cy="927.7" r="5.8" fill="#F44336" fill-opacity="0.50"/><circle cx="1460.9" cy="932.1" r="5.8" fill="#BDBDBD"/><circle cx="1399.2" cy="953.1" r="5.8" fill="#212121"/><circle cx="1376.0" cy="952.0" r="5.8" fill="#2196F3"/><circle cx="1382.7" cy="960.8" r="5.8" fill="#2196F3"/><circle cx="1380.5" cy="923.3" r="5.8" fill="#F44336"/><circle cx="1319.3" cy="825.5" r="5.8" fill="#F44336" fill-opacity="0.60"/><circle cx="1340.3" cy="813.8" r="5.8" fill="#212121"/><circle cx="1331.4" cy="839.5" r="5.8" fill="#FFAB91"/><circle cx="1336.1" cy="847.7" r="5.8" fill="#F44336"/><circle cx="1325.0" cy="805.2" r="5.8" fill="#FFAB91" fill-opacity="0.60"/><circle cx="1321.8" cy="840.8" r="5.8" fill="#F44336"/><circle cx="1328.0" cy="842.4" r="5.8" fill="#F44336"/><circle cx="1334.2" cy="806.2" r="5.8" fill="#212121"/><circle cx="1328.5" cy="824.8" r="5.8" fill="#F44336" fill-opacity="0.60"/><circle cx="1332.7" cy="830.7" r="5.8" fill="#FFAB91"/><circle cx="1340.6" cy="837.3" r="5.8" fill="#F44336" fill-opacity="0.60"/><circle cx="1320.3" cy="838.6" r="5.8" fill="#212121"/><circle cx="1342.6" cy="813.5" r="5.8" fill="#212121"/><circle cx="1341.4" cy="808.3" r="5.8" fill="#F44336"/><circle cx="1332.9" cy="811.3" r="5.8" fill="#212121"/><circle cx="1315.4" cy="831.5" r="5.8" fill="#FFAB91"/><circle cx="1329.0" cy="810.8" r="5.8" fill="#212121" fill-opacity="0.60"/><circle cx="1328.3" cy="806.4" r="5.8" fill="#F44336" fill-opacity="0.60"/><circle cx="1329.2" cy="805.4" r="5.8" fill="#212121"/><circle cx="1321.4" cy="816.3" r="5.8" fill="#212121"/><circle cx="1314.0" cy="837.5" r="5.8" fill="#F44336" fill-opacity="0.60"/><circle cx="1328.9" cy="847.8" r="5.8" fill="#F44336" fill-opacity="0.60"/><circle cx="1365.8" cy="921.4" r="5.8" fill="#8BC34A"/><circle cx="1386.9" cy="911.3" r="5.8" fill="#F44336"/><circle cx="1360.1" cy="910.5" r="5.8" fill="#F44336"/><circle cx="1340.9" cy="917.5" r="5.8" fill="#212121"/><circle cx="1367.0" cy="930.2" r="5.8" fill="#212121"/><circle cx="1360.7" cy="918.5" r="5.8" fill="#F44336"/><circle cx="1371.5" cy="958.3" r="5.8" fill="#F44336"/><circle cx="1336.3" cy="891.7" r="5.8" fill="#F44336"/><circle cx="1373.5" cy="907.1" r="5.8" fill="#F44336"/><circle cx="1332.5" cy="963.8" r="5.8" fill="#212121"/><circle cx="1323.3" cy="891.5" r="5.8" fill="#FFAB91"/><circle cx="1321.0" cy="891.6" r="5.8" fill="#8BC34A"/><circle cx="1317.2" cy="925.6" r="5.8" fill="#F44336"/><circle cx="1359.5" cy="888.9" r="5.8" fill="#F44336"/><circle cx="1324.7" cy="940.3" r="5.8" fill="#8BC34A"/><circle cx="1326.0" cy="928.6" r="5.8" fill="#F44336"/><circle cx="1324.7" cy="929.3" r="5.8" fill="#2196F3"/><circle cx="1365.3" cy="950.3" r="5.8" fill="#212121"/><circle cx="1332.8" cy="906.3" r="5.8" fill="#F44336"/><circle cx="1380.5" cy="915.2" r="5.8" fill="#BDBDBD"/><circle cx="1348.9" cy="957.3" r="5.8" fill="#BDBDBD"/><circle cx="1347.5" cy="881.4" r="5.8" fill="#F44336"/><circle cx="1371.9" cy="900.9" r="5.8" fill="#2196F3"/><circle cx="1367.0" cy="925.2" r="5.8" fill="#F44336"/><circle cx="1331.7" cy="911.0" r="5.8" fill="#2196F3"/><circle cx="1361.8" cy="912.6" r="5.8" fill="#F44336"/><circle cx="1315.4" cy="906.9" r="5.8" fill="#F44336"/><circle cx="1369.8" cy="891.3" r="5.8" fill="#F44336"/><circle cx="1340.0" cy="902.0" r="5.8" fill="#212121"/><circle cx="1369.2" cy="951.6" r="5.8" fill="#2196F3"/><circle cx="1364.6" cy="933.9" r="5.8" fill="#2196F3"/><circle cx="1325.9" cy="956.6" r="5.8" fill="#F44336"/><circle cx="1311.8" cy="933.7" r="5.8" fill="#FFAB91"/><circle cx="1335.1" cy="894.6" r="5.8" fill="#F44336"/><circle cx="1342.9" cy="895.8" r="5.8" fill="#F44336"/><circle cx="1325.8" cy="892.7" r="5.8" fill="#F44336"/><circle cx="1377.7" cy="963.8" r="5.8" fill="#F44336"/><circle cx="1368.4" cy="925.0" r="5.8" fill="#212121"/><circle cx="1323.6" cy="940.4" r="5.8" fill="#F44336"/><circle cx="1364.7" cy="920.7" r="5.8" fill="#F44336"/><circle cx="1338.2" cy="958.3" r="5.8" fill="#F44336"/><circle cx="1331.6" cy="944.8" r="5.8" fill="#F44336"/><circle cx="1380.1" cy="899.9" r="5.8" fill="#F44336"/><circle cx="1334.9" cy="911.8" r="5.8" fill="#F44336"/><circle cx="1367.2" cy="880.5" r="5.8" fill="#BDBDBD"/><circle cx="1330.4" cy="901.8" r="5.8" fill="#FFAB91"/><circle cx="1370.9" cy="898.5" r="5.8" fill="#F44336"/><circle cx="1379.5" cy="957.5" r="5.8" fill="#212121"/><circle cx="1388.2" cy="922.4" r="5.8" fill="#2196F3"/><circle cx="1325.4" cy="892.8" r="5.8" fill="#212121"/><circle cx="1339.2" cy="960.6" r="5.8" fill="#F44336"/><circle cx="1350.6" cy="882.3" r="5.8" fill="#F44336"/><circle cx="1369.9" cy="892.8" r="5.8" fill="#F44336"/><circle cx="1370.6" cy="882.3" r="5.8" fill="#F44336"/><circle cx="1317.1" cy="923.4" r="5.8" fill="#F44336"/><circle cx="1361.5" cy="955.6" r="5.8" fill="#F44336"/><circle cx="1341.9" cy="912.9" r="5.8" fill="#8BC34A"/><circle cx="1317.5" cy="909.1" r="5.8" fill="#212121"/><circle cx="1376.5" cy="965.2" r="5.8" fill="#F44336"/><circle cx="1346.0" cy="958.8" r="5.8" fill="#F44336"/><circle cx="1336.3" cy="961.3" r="5.8" fill="#F44336"/><circle cx="1324.8" cy="892.3" r="5.8" fill="#F44336"/><circle cx="1330.9" cy="947.7" r="5.8" fill="#F44336"/><circle cx="1372.7" cy="939.7" r="5.8" fill="#2196F3"/><circle cx="1322.2" cy="929.0" r="5.8" fill="#8BC34A"/><circle cx="1327.0" cy="889.4" r="5.8" fill="#F44336"/><circle cx="1359.0" cy="893.0" r="5.8" fill="#F44336"/><circle cx="1316.0" cy="960.6" r="5.8" fill="#F44336"/><circle cx="1341.8" cy="907.0" r="5.8" fill="#212121"/><circle cx="1339.5" cy="948.7" r="5.8" fill="#F44336"/><circle cx="1369.2" cy="942.9" r="5.8" fill="#F44336"/><circle cx="1332.5" cy="898.3" r="5.8" fill="#212121"/><circle cx="1371.1" cy="894.9" r="5.8" fill="#F44336"/><circle cx="1358.7" cy="958.1" r="5.8" fill="#212121"/><circle cx="1345.8" cy="939.7" r="5.8" fill="#F44336"/><circle cx="1323.3" cy="932.8" r="5.8" fill="#F44336"/><circle cx="1380.2" cy="959.1" r="5.8" fill="#F44336"/><circle cx="1381.9" cy="927.4" r="5.8" fill="#F44336"/><circle cx="1375.0" cy="958.9" r="5.8" fill="#FFAB91"/><circle cx="1374.0" cy="942.3" r="5.8" fill="#F44336"/><circle cx="1389.0" cy="924.4" r="5.8" fill="#F44336"/><circle cx="1359.7" cy="883.6" r="5.8" fill="#212121"/><circle cx="1315.4" cy="914.3" r="5.8" fill="#FFAB91"/><circle cx="1378.8" cy="948.1" r="5.8" fill="#2196F3"/><circle cx="1369.5" cy="894.6" r="5.8" fill="#F44336"/><circle cx="1360.4" cy="964.5" r="5.8" fill="#F44336"/><circle cx="1313.6" cy="959.1" r="5.8" fill="#F44336"/><circle cx="1383.3" cy="936.2" r="5.8" fill="#8BC34A"/><circle cx="1329.5" cy="909.4" r="5.8" fill="#8BC34A"/><circle cx="1369.1" cy="910.8" r="5.8" fill="#2196F3"/><circle cx="1324.6" cy="899.4" r="5.8" fill="#F44336"/><circle cx="1346.8" cy="923.9" r="5.8" fill="#F44336"/><circle cx="1362.0" cy="920.1" r="5.8" fill="#F44336"/><circle cx="1364.2" cy="906.1" r="5.8" fill="#FFAB91"/><circle cx="1356.4" cy="921.0" r="5.8" fill="#212121"/><circle cx="1369.7" cy="934.3" r="5.8" fill="#F44336"/><circle cx="1324.7" cy="894.0" r="5.8" fill="#8BC34A"/><circle cx="1351.3" cy="958.6" r="5.8" fill="#F44336"/><circle cx="1385.4" cy="894.5" r="5.8" fill="#2196F3"/><circle cx="1342.7" cy="925.6" r="5.8" fill="#F44336"/><circle cx="1349.2" cy="885.7" r="5.8" fill="#FFAB91"/><circle cx="1360.8" cy="934.0" r="5.8" fill="#F44336"/><circle cx="1377.5" cy="928.1" r="5.8" fill="#F44336"/><circle cx="1324.7" cy="925.9" r="5.8" fill="#F44336"/><circle cx="1349.9" cy="927.3" r="5.8" fill="#F44336"/><circle cx="1360.5" cy="940.2" r="5.8" fill="#212121"/><circle cx="1329.4" cy="939.6" r="5.8" fill="#212121"/><circle cx="1323.8" cy="941.3" r="5.8" fill="#212121"/><circle cx="1342.3" cy="957.4" r="5.8" fill="#F44336"/><circle cx="1384.4" cy="934.0" r="5.8" fill="#212121"/><circle cx="1348.3" cy="930.2" r="5.8" fill="#F44336"/><circle cx="1312.9" cy="910.2" r="5.8" fill="#F44336"/><circle cx="1386.8" cy="925.1" r="5.8" fill="#2196F3"/><circle cx="1312.7" cy="938.4" r="5.8" fill="#F44336"/><circle cx="1361.7" cy="958.7" r="5.8" fill="#F44336"/><circle cx="1371.2" cy="893.4" r="5.8" fill="#FFAB91"/><circle cx="1351.2" cy="959.8" r="5.8" fill="#FFAB91"/><circle cx="1314.9" cy="963.1" r="5.8" fill="#2196F3"/><circle cx="1375.8" cy="928.6" r="5.8" fill="#F44336"/><circle cx="1321.8" cy="913.3" r="5.8" fill="#F44336"/><circle cx="1346.0" cy="881.7" r="5.8" fill="#F44336"/><circle cx="1320.0" cy="961.3" r="5.8" fill="#212121"/><circle cx="1360.8" cy="917.9" r="5.8" fill="#212121"/><circle cx="1373.8" cy="912.1" r="5.8" fill="#F44336"/><circle cx="1363.1" cy="896.2" r="5.8" fill="#2196F3"/><circle cx="1387.2" cy="949.3" r="5.8" fill="#F44336"/><circle cx="1353.0" cy="948.8" r="5.8" fill="#2196F3"/><circle cx="1330.4" cy="950.3" r="5.8" fill="#212121"/><circle cx="1312.4" cy="946.2" r="5.8" fill="#2196F3"/><circle cx="1355.2" cy="891.1" r="5.8" fill="#2196F3"/><circle cx="1348.9" cy="906.4" r="5.8" fill="#F44336"/><circle cx="1345.4" cy="914.7" r="5.8" fill="#212121"/><circle cx="1374.9" cy="945.8" r="5.8" fill="#FFAB91"/><circle cx="1373.7" cy="914.6" r="5.8" fill="#F44336"/><circle cx="1371.3" cy="943.9" r="5.8" fill="#BDBDBD"/><circle cx="1329.8" cy="920.0" r="5.8" fill="#F44336"/><circle cx="1355.1" cy="927.8" r="5.8" fill="#F44336"/><circle cx="1372.0" cy="960.2" r="5.8" fill="#212121"/><circle cx="1339.2" cy="908.5" r="5.8" fill="#F44336"/><circle cx="1333.7" cy="952.9" r="5.8" fill="#F44336"/><circle cx="1370.0" cy="903.2" r="5.8" fill="#212121"/><circle cx="1317.6" cy="922.3" r="5.8" fill="#2196F3"/><circle cx="1334.2" cy="953.1" r="5.8" fill="#212121"/><circle cx="1335.0" cy="898.2" r="5.8" fill="#F44336"/><circle cx="1314.2" cy="953.6" r="5.8" fill="#F44336"/><circle cx="1352.8" cy="960.8" r="5.8" fill="#F44336"/><circle cx="1338.5" cy="914.0" r="5.8" fill="#8BC34A"/><circle cx="1387.2" cy="923.7" r="5.8" fill="#2196F3"/><circle cx="1316.7" cy="923.9" r="5.8" fill="#F44336"/><circle cx="1315.1" cy="933.0" r="5.8" fill="#2196F3"/><circle cx="1323.7" cy="948.9" r="5.8" fill="#F44336"/><circle cx="1330.7" cy="896.3" r="5.8" fill="#F44336"/><circle cx="1361.2" cy="896.0" r="5.8" fill="#F44336"/><circle cx="1357.1" cy="931.2" r="5.8" fill="#F44336"/><circle cx="1354.5" cy="960.5" r="5.8" fill="#F44336"/><circle cx="1376.8" cy="951.5" r="5.8" fill="#F44336"/><circle cx="1379.9" cy="945.9" r="5.8" fill="#F44336"/><circle cx="1364.4" cy="952.2" r="5.8" fill="#F44336"/><circle cx="1383.3" cy="949.0" r="5.8" fill="#212121"/><circle cx="1336.3" cy="911.3" r="5.8" fill="#2196F3"/><circle cx="1368.9" cy="902.2" r="5.8" fill="#F44336"/><circle cx="1352.2" cy="889.4" r="5.8" fill="#2196F3"/><circle cx="1353.2" cy="930.4" r="5.8" fill="#F44336"/><circle cx="1385.5" cy="919.3" r="5.8" fill="#F44336"/><circle cx="1355.6" cy="902.0" r="5.8" fill="#F44336"/><circle cx="1329.5" cy="906.3" r="5.8" fill="#F44336"/><circle cx="1367.0" cy="889.7" r="5.8" fill="#FFAB91"/><circle cx="1381.5" cy="928.7" r="5.8" fill="#F44336"/><circle cx="1350.0" cy="892.4" r="5.8" fill="#FFAB91"/><circle cx="1350.9" cy="948.3" r="5.8" fill="#F44336"/><circle cx="1329.2" cy="939.8" r="5.8" fill="#F44336"/><circle cx="1373.1" cy="908.9" r="5.8" fill="#2196F3"/><circle cx="1347.0" cy="959.1" r="5.8" fill="#F44336"/><circle cx="1347.8" cy="934.4" r="5.8" fill="#F44336"/><circle cx="1328.0" cy="937.2" r="5.8" fill="#F44336"/><circle cx="1366.0" cy="934.5" r="5.8" fill="#212121"/><circle cx="1351.5" cy="920.7" r="5.8" fill="#F44336"/><circle cx="1322.8" cy="951.8" r="5.8" fill="#F44336"/><circle cx="1360.8" cy="936.5" r="5.8" fill="#F44336"/><circle cx="1347.2" cy="934.8" r="5.8" fill="#F44336"/><circle cx="1324.6" cy="910.6" r="5.8" fill="#2196F3"/><circle cx="1333.7" cy="955.0" r="5.8" fill="#F44336"/><circle cx="1361.1" cy="903.2" r="5.8" fill="#F44336"/><circle cx="1332.5" cy="912.3" r="5.8" fill="#F44336"/><circle cx="1379.2" cy="931.4" r="5.8" fill="#F44336"/><circle cx="1372.3" cy="899.9" r="5.8" fill="#F44336"/><circle cx="1360.1" cy="929.4" r="5.8" fill="#212121"/><circle cx="1326.1" cy="931.3" r="5.8" fill="#F44336"/><circle cx="1320.7" cy="878.8" r="5.8" fill="#FFAB91"/><circle cx="1345.8" cy="921.9" r="5.8" fill="#212121"/><circle cx="1345.2" cy="924.7" r="5.8" fill="#2196F3"/><circle cx="1343.8" cy="938.9" r="5.8" fill="#F44336"/><circle cx="1320.1" cy="955.7" r="5.8" fill="#2196F3"/><circle cx="1352.6" cy="908.4" r="5.8" fill="#F44336"/><circle cx="1385.5" cy="965.1" r="5.8" fill="#212121"/><circle cx="1334.2" cy="916.0" r="5.8" fill="#F44336"/><circle cx="1331.3" cy="879.6" r="5.8" fill="#F44336"/><circle cx="1333.0" cy="951.2" r="5.8" fill="#F44336"/><circle cx="1313.5" cy="907.8" r="5.8" fill="#F44336"/><circle cx="1344.3" cy="965.5" r="5.8" fill="#212121"/><circle cx="1337.3" cy="951.0" r="5.8" fill="#F44336"/><circle cx="1374.6" cy="923.6" r="5.8" fill="#FFAB91"/><circle cx="1374.7" cy="942.2" r="5.8" fill="#2196F3"/><circle cx="1322.1" cy="909.5" r="5.8" fill="#F44336"/><circle cx="1374.2" cy="946.3" r="5.8" fill="#F44336"/><circle cx="1353.2" cy="966.5" r="5.8" fill="#2196F3"/><circle cx="1339.5" cy="906.1" r="5.8" fill="#F44336"/><circle cx="1339.0" cy="928.8" r="5.8" fill="#F44336"/><circle cx="1350.7" cy="948.3" r="5.8" fill="#F44336"/><circle cx="1332.5" cy="925.8" r="5.8" fill="#F44336"/><circle cx="1357.2" cy="879.9" r="5.8" fill="#F44336"/><circle cx="1339.8" cy="917.8" r="5.8" fill="#F44336"/><circle cx="1364.2" cy="942.4" r="5.8" fill="#F44336"/><circle cx="1325.0" cy="939.9" r="5.8" fill="#212121"/><circle cx="1313.9" cy="932.7" r="5.8" fill="#212121"/><circle cx="1321.0" cy="896.1" r="5.8" fill="#212121"/><circle cx="1381.1" cy="921.7" r="5.8" fill="#FFAB91"/><circle cx="1343.3" cy="930.5" r="5.8" fill="#F44336"/><circle cx="1372.0" cy="953.5" r="5.8" fill="#F44336"/><circle cx="1354.4" cy="935.4" r="5.8" fill="#F44336"/><circle cx="1318.6" cy="895.5" r="5.8" fill="#FFAB91"/><circle cx="1383.2" cy="945.6" r="5.8" fill="#2196F3"/><circle cx="1315.9" cy="893.8" r="5.8" fill="#F44336"/><circle cx="1367.1" cy="884.0" r="5.8" fill="#BDBDBD"/><circle cx="1329.3" cy="927.7" r="5.8" fill="#212121"/><circle cx="1342.6" cy="961.7" r="5.8" fill="#F44336"/><circle cx="1343.6" cy="965.2" r="5.8" fill="#F44336"/><circle cx="1333.0" cy="921.0" r="5.8" fill="#212121"/><circle cx="1377.4" cy="903.8" r="5.8" fill="#8BC34A"/><circle cx="1336.7" cy="941.4" r="5.8" fill="#8BC34A"/><circle cx="1382.6" cy="931.4" r="5.8" fill="#F44336"/><circle cx="1333.6" cy="920.7" r="5.8" fill="#212121"/><circle cx="1379.8" cy="954.0" r="5.8" fill="#F44336"/><circle cx="1335.8" cy="963.9" r="5.8" fill="#F44336"/><circle cx="1379.0" cy="942.3" r="5.8" fill="#F44336"/><circle cx="1374.5" cy="908.9" r="5.8" fill="#212121"/><circle cx="1340.2" cy="890.8" r="5.8" fill="#F44336"/><circle cx="1324.4" cy="943.1" r="5.8" fill="#F44336"/><circle cx="1345.6" cy="934.9" r="5.8" fill="#212121"/><circle cx="1349.7" cy="901.1" r="5.8" fill="#BDBDBD"/><circle cx="1354.2" cy="890.8" r="5.8" fill="#F44336"/><circle cx="1314.1" cy="885.1" r="5.8" fill="#F44336"/><circle cx="1360.9" cy="957.9" r="5.8" fill="#F44336"/><circle cx="1325.6" cy="898.5" r="5.8" fill="#2196F3"/><circle cx="1347.3" cy="906.9" r="5.8" fill="#2196F3"/><circle cx="1331.3" cy="953.2" r="5.8" fill="#F44336"/><circle cx="1343.7" cy="946.2" r="5.8" fill="#212121"/><circle cx="1357.8" cy="880.1" r="5.8" fill="#F44336"/><circle cx="1373.0" cy="901.9" r="5.8" fill="#212121"/><circle cx="1358.6" cy="926.0" r="5.8" fill="#F44336"/><circle cx="1379.7" cy="948.8" r="5.8" fill="#F44336"/><circle cx="1315.1" cy="949.1" r="5.8" fill="#212121"/><circle cx="1338.1" cy="918.5" r="5.8" fill="#BDBDBD"/><circle cx="1386.3" cy="949.6" r="5.8" fill="#F44336"/><circle cx="1358.9" cy="901.9" r="5.8" fill="#F44336"/><circle cx="1363.1" cy="940.5" r="5.8" fill="#F44336"/><circle cx="1327.0" cy="935.0" r="5.8" fill="#FFAB91"/><circle cx="1335.7" cy="881.7" r="5.8" fill="#212121"/><circle cx="1370.1" cy="927.0" r="5.8" fill="#F44336"/><circle cx="1351.4" cy="932.5" r="5.8" fill="#F44336"/><circle cx="1376.8" cy="904.7" r="5.8" fill="#FFAB91"/><circle cx="1367.4" cy="933.8" r="5.8" fill="#212121"/><circle cx="1383.2" cy="965.1" r="5.8" fill="#F44336"/><circle cx="1343.8" cy="966.4" r="5.8" fill="#F44336"/><circle cx="1350.3" cy="955.5" r="5.8" fill="#F44336"/><circle cx="1344.3" cy="890.0" r="5.8" fill="#F44336"/><circle cx="1328.3" cy="891.3" r="5.8" fill="#F44336"/><circle cx="1338.5" cy="942.7" r="5.8" fill="#BDBDBD"/><circle cx="1339.9" cy="923.1" r="5.8" fill="#F44336"/><circle cx="1369.6" cy="888.9" r="5.8" fill="#F44336"/><circle cx="1341.7" cy="951.5" r="5.8" fill="#212121"/><circle cx="1316.8" cy="892.5" r="5.8" fill="#212121"/><circle cx="1326.7" cy="922.6" r="5.8" fill="#BDBDBD"/><circle cx="1362.7" cy="921.7" r="5.8" fill="#F44336"/><circle cx="1338.3" cy="929.6" r="5.8" fill="#212121"/><circle cx="1359.8" cy="925.1" r="5.8" fill="#F44336"/><circle cx="1323.2" cy="940.4" r="5.8" fill="#F44336"/><circle cx="1335.2" cy="926.2" r="5.8" fill="#F44336"/><circle cx="1365.5" cy="949.6" r="5.8" fill="#8BC34A"/><circle cx="1330.7" cy="937.4" r="5.8" fill="#2196F3"/><circle cx="1370.2" cy="959.7" r="5.8" fill="#212121"/><circle cx="1346.3" cy="887.0" r="5.8" fill="#2196F3"/><circle cx="1332.3" cy="964.9" r="5.8" fill="#F44336"/><circle cx="1346.3" cy="903.3" r="5.8" fill="#F44336"/><circle cx="1314.5" cy="899.1" r="5.8" fill="#F44336"/><circle cx="1318.4" cy="965.4" r="5.8" fill="#F44336"/><circle cx="1347.7" cy="941.5" r="5.8" fill="#BDBDBD"/><circle cx="1385.6" cy="959.6" r="5.8" fill="#212121"/><circle cx="1374.2" cy="914.0" r="5.8" fill="#212121"/><circle cx="1362.8" cy="951.1" r="5.8" fill="#F44336"/><circle cx="1379.7" cy="933.1" r="5.8" fill="#BDBDBD"/><circle cx="1324.4" cy="961.2" r="5.8" fill="#F44336"/><circle cx="1358.7" cy="922.3" r="5.8" fill="#F44336"/><circle cx="1326.2" cy="885.6" r="5.8" fill="#F44336"/><circle cx="1342.5" cy="944.0" r="5.8" fill="#212121"/><circle cx="1334.6" cy="938.6" r="5.8" fill="#F44336"/><circle cx="1320.7" cy="884.2" r="5.8" fill="#212121"/><circle cx="1359.2" cy="898.7" r="5.8" fill="#8BC34A"/><circle cx="1320.4" cy="960.4" r="5.8" fill="#F44336"/><circle cx="1387.7" cy="964.0" r="5.8" fill="#212121"/><circle cx="1315.4" cy="931.4" r="5.8" fill="#F44336"/><circle cx="1369.7" cy="947.4" r="5.8" fill="#F44336"/><circle cx="1326.5" cy="944.7" r="5.8" fill="#F44336"/><circle cx="1368.3" cy="953.6" r="5.8" fill="#F44336"/><circle cx="1362.0" cy="924.9" r="5.8" fill="#F44336"/><circle cx="1327.6" cy="884.0" r="5.8" fill="#BDBDBD"/><circle cx="1373.8" cy="903.1" r="5.8" fill="#FFAB91"/><circle cx="1346.9" cy="927.8" r="5.8" fill="#FFAB91"/><circle cx="1386.8" cy="930.5" r="5.8" fill="#F44336"/><circle cx="1330.1" cy="920.1" r="5.8" fill="#BDBDBD"/><circle cx="1353.3" cy="955.1" r="5.8" fill="#F44336"/><circle cx="1324.7" cy="907.8" r="5.8" fill="#F44336"/><circle cx="1375.8" cy="905.3" r="5.8" fill="#212121"/><circle cx="1332.6" cy="948.7" r="5.8" fill="#F44336"/><circle cx="1315.3" cy="927.8" r="5.8" fill="#212121"/><circle cx="1371.2" cy="899.2" r="5.8" fill="#F44336"/><circle cx="1348.6" cy="911.3" r="5.8" fill="#BDBDBD"/><circle cx="1381.3" cy="894.6" r="5.8" fill="#2196F3"/><circle cx="1336.2" cy="916.1" r="5.8" fill="#BDBDBD"/><circle cx="1375.5" cy="914.9" r="5.8" fill="#212121"/><circle cx="1351.5" cy="886.0" r="5.8" fill="#212121"/><circle cx="1375.9" cy="908.6" r="5.8" fill="#F44336"/><circle cx="1371.8" cy="899.5" r="5.8" fill="#F44336"/><circle cx="1323.7" cy="932.9" r="5.8" fill="#F44336"/><circle cx="1313.8" cy="900.4" r="5.8" fill="#F44336"/><circle cx="1365.3" cy="954.4" r="5.8" fill="#F44336"/><circle cx="1322.3" cy="939.6" r="5.8" fill="#F44336"/><circle cx="1353.6" cy="903.4" r="5.8" fill="#F44336"/><circle cx="1319.3" cy="935.5" r="5.8" fill="#212121"/><circle cx="1388.9" cy="903.4" r="5.8" fill="#F44336"/><circle cx="1348.8" cy="898.1" r="5.8" fill="#2196F3"/><circle cx="1376.5" cy="933.2" r="5.8" fill="#BDBDBD"/><circle cx="1370.0" cy="907.2" r="5.8" fill="#212121"/><circle cx="1375.1" cy="963.7" r="5.8" fill="#F44336"/><circle cx="1343.8" cy="919.2" r="5.8" fill="#F44336"/><circle cx="1342.9" cy="946.1" r="5.8" fill="#F44336"/><circle cx="1351.2" cy="946.0" r="5.8" fill="#F44336"/><circle cx="1349.4" cy="919.4" r="5.8" fill="#F44336"/><circle cx="1319.9" cy="933.6" r="5.8" fill="#212121"/><circle cx="1359.5" cy="914.9" r="5.8" fill="#F44336"/><circle cx="1387.2" cy="951.2" r="5.8" fill="#F44336"/><circle cx="1330.5" cy="942.5" r="5.8" fill="#F44336"/><circle cx="1319.0" cy="883.4" r="5.8" fill="#8BC34A"/><circle cx="1378.6" cy="940.6" r="5.8" fill="#212121"/><circle cx="1386.8" cy="961.8" r="5.8" fill="#F44336"/><circle cx="1318.3" cy="954.3" r="5.8" fill="#F44336"/><circle cx="1387.1" cy="893.3" r="5.8" fill="#F44336"/><circle cx="1386.6" cy="906.6" r="5.8" fill="#BDBDBD"/><circle cx="1316.5" cy="892.2" r="5.8" fill="#BDBDBD"/><circle cx="1357.8" cy="879.5" r="5.8" fill="#F44336"/><circle cx="1338.7" cy="931.8" r="5.8" fill="#F44336"/><circle cx="1385.4" cy="915.7" r="5.8" fill="#2196F3"/><circle cx="1369.1" cy="900.4" r="5.8" fill="#F44336"/><circle cx="1329.9" cy="880.7" r="5.8" fill="#F44336"/><circle cx="1383.5" cy="951.9" r="5.8" fill="#F44336"/><circle cx="1389.7" cy="894.0" r="5.8" fill="#212121"/><circle cx="1389.2" cy="894.8" r="5.8" fill="#F44336"/><circle cx="1337.6" cy="899.7" r="5.8" fill="#212121"/><circle cx="1344.7" cy="912.0" r="5.8" fill="#F44336"/><circle cx="1354.1" cy="933.2" r="5.8" fill="#F44336"/><circle cx="1337.1" cy="962.9" r="5.8" fill="#F44336"/><circle cx="1337.4" cy="960.9" r="5.8" fill="#BDBDBD"/><circle cx="1342.6" cy="918.2" r="5.8" fill="#F44336"/><circle cx="1326.1" cy="942.1" r="5.8" fill="#FFAB91"/><circle cx="1323.6" cy="906.1" r="5.8" fill="#F44336"/><circle cx="1372.5" cy="957.2" r="5.8" fill="#F44336"/><circle cx="1362.9" cy="959.7" r="5.8" fill="#F44336"/><circle cx="1326.9" cy="944.2" r="5.8" fill="#F44336"/><circle cx="1356.6" cy="933.8" r="5.8" fill="#F44336"/><circle cx="1360.3" cy="915.5" r="5.8" fill="#212121"/><circle cx="1328.5" cy="908.6" r="5.8" fill="#F44336"/><circle cx="1380.1" cy="951.0" r="5.8" fill="#8BC34A"/><circle cx="1359.4" cy="944.1" r="5.8" fill="#212121"/><circle cx="1329.6" cy="930.5" r="5.8" fill="#F44336"/><circle cx="1331.8" cy="955.3" r="5.8" fill="#F44336"/><circle cx="1356.7" cy="887.8" r="5.8" fill="#F44336"/><circle cx="1355.2" cy="962.0" r="5.8" fill="#2196F3"/><circle cx="1383.2" cy="893.6" r="5.8" fill="#8BC34A"/><circle cx="1341.5" cy="884.4" r="5.8" fill="#F44336"/><circle cx="1351.9" cy="896.2" r="5.8" fill="#F44336"/><circle cx="1366.3" cy="892.1" r="5.8" fill="#212121"/><circle cx="1386.9" cy="966.6" r="5.8" fill="#F44336"/><circle cx="1318.0" cy="955.1" r="5.8" fill="#F44336"/><circle cx="1324.2" cy="939.8" r="5.8" fill="#BDBDBD"/><circle cx="1365.7" cy="962.8" r="5.8" fill="#F44336"/><circle cx="1327.6" cy="945.2" r="5.8" fill="#FFAB91"/><circle cx="1369.9" cy="961.8" r="5.8" fill="#F44336"/><circle cx="1346.8" cy="883.4" r="5.8" fill="#F44336"/><circle cx="1367.5" cy="939.9" r="5.8" fill="#212121"/><circle cx="1371.9" cy="926.2" r="5.8" fill="#212121"/><circle cx="1321.1" cy="913.6" r="5.8" fill="#F44336"/><circle cx="1366.2" cy="937.9" r="5.8" fill="#8BC34A"/><circle cx="1321.2" cy="893.8" r="5.8" fill="#F44336"/><circle cx="1367.6" cy="943.8" r="5.8" fill="#2196F3"/><circle cx="1344.7" cy="940.7" r="5.8" fill="#212121"/><circle cx="1373.3" cy="922.6" r="5.8" fill="#F44336"/><circle cx="1317.1" cy="878.9" r="5.8" fill="#F44336"/><circle cx="1335.6" cy="931.3" r="5.8" fill="#2196F3"/><circle cx="1382.0" cy="908.0" r="5.8" fill="#212121"/><circle cx="1389.6" cy="940.5" r="5.8" fill="#F44336"/><circle cx="1384.1" cy="905.8" r="5.8" fill="#F44336"/><circle cx="1352.1" cy="934.4" r="5.8" fill="#FFAB91"/><circle cx="1347.3" cy="940.9" r="5.8" fill="#F44336"/><circle cx="1320.3" cy="906.3" r="5.8" fill="#F44336"/><circle cx="1333.6" cy="886.7" r="5.8" fill="#212121"/><circle cx="1334.5" cy="938.7" r="5.8" fill="#F44336"/><circle cx="1389.6" cy="963.5" r="5.8" fill="#F44336"/><circle cx="1341.3" cy="930.2" r="5.8" fill="#F44336"/><circle cx="1319.7" cy="926.6" r="5.8" fill="#F44336"/><circle cx="1370.2" cy="888.4" r="5.8" fill="#F44336"/><circle cx="1353.6" cy="966.1" r="5.8" fill="#F44336"/><circle cx="1333.0" cy="879.5" r="5.8" fill="#212121"/><circle cx="1365.9" cy="903.5" r="5.8" fill="#F44336"/><circle cx="1370.7" cy="918.5" r="5.8" fill="#2196F3"/><circle cx="1384.4" cy="924.9" r="5.8" fill="#F44336"/><circle cx="1384.4" cy="923.1" r="5.8" fill="#F44336"/><circle cx="1313.7" cy="911.3" r="5.8" fill="#F44336"/><circle cx="1359.9" cy="914.5" r="5.8" fill="#F44336"/><circle cx="1328.1" cy="941.4" r="5.8" fill="#F44336"/><circle cx="1348.5" cy="926.3" r="5.8" fill="#212121"/><circle cx="1355.0" cy="955.3" r="5.8" fill="#F44336"/><circle cx="1350.6" cy="910.1" r="5.8" fill="#2196F3"/><circle cx="1355.4" cy="941.8" r="5.8" fill="#212121"/><circle cx="1330.0" cy="903.7" r="5.8" fill="#F44336"/><circle cx="1388.6" cy="939.9" r="5.8" fill="#F44336"/><circle cx="1358.3" cy="949.7" r="5.8" fill="#212121"/><circle cx="1357.0" cy="898.1" r="5.8" fill="#212121"/><circle cx="1330.1" cy="898.5" r="5.8" fill="#F44336"/><circle cx="1320.3" cy="920.0" r="5.8" fill="#212121"/><circle cx="1387.6" cy="939.6" r="5.8" fill="#F44336"/><circle cx="1341.0" cy="946.2" r="5.8" fill="#2196F3"/><circle cx="1378.1" cy="934.7" r="5.8" fill="#F44336"/><circle cx="1369.1" cy="902.5" r="5.8" fill="#BDBDBD"/><circle cx="1351.1" cy="935.7" r="5.8" fill="#F44336"/><circle cx="1385.7" cy="909.4" r="5.8" fill="#BDBDBD"/><circle cx="1334.9" cy="940.5" r="5.8" fill="#F44336"/><circle cx="1316.5" cy="902.3" r="5.8" fill="#F44336"/><circle cx="1313.8" cy="904.0" r="5.8" fill="#F44336"/><circle cx="1349.3" cy="950.9" r="5.8" fill="#8BC34A"/><circle cx="1375.9" cy="930.9" r="5.8" fill="#F44336"/><circle cx="1340.1" cy="944.6" r="5.8" fill="#F44336"/><circle cx="1330.3" cy="881.3" r="5.8" fill="#2196F3"/><circle cx="1334.0" cy="897.9" r="5.8" fill="#F44336"/><circle cx="1330.6" cy="910.6" r="5.8" fill="#F44336"/><circle cx="1317.9" cy="925.0" r="5.8" fill="#F44336"/><circle cx="1376.7" cy="939.9" r="5.8" fill="#F44336"/><circle cx="1351.5" cy="903.1" r="5.8" fill="#212121"/><circle cx="1341.8" cy="963.7" r="5.8" fill="#F44336"/><circle cx="1381.5" cy="908.2" r="5.8" fill="#2196F3"/><circle cx="1362.9" cy="916.6" r="5.8" fill="#BDBDBD"/><circle cx="1315.4" cy="914.6" r="5.8" fill="#F44336"/><circle cx="1329.4" cy="954.1" r="5.8" fill="#212121"/><circle cx="1374.4" cy="916.2" r="5.8" fill="#F44336"/><circle cx="1371.2" cy="952.3" r="5.8" fill="#8BC34A"/><circle cx="1316.8" cy="958.8" r="5.8" fill="#F44336"/><circle cx="1388.4" cy="962.5" r="5.8" fill="#2196F3"/><circle cx="1361.0" cy="888.3" r="5.8" fill="#F44336"/><circle cx="1335.6" cy="900.0" r="5.8" fill="#F44336"/><circle cx="1330.5" cy="931.4" r="5.8" fill="#F44336"/><circle cx="1329.7" cy="928.0" r="5.8" fill="#FFAB91"/><circle cx="1321.0" cy="929.3" r="5.8" fill="#212121"/><circle cx="1317.7" cy="886.8" r="5.8" fill="#F44336"/><circle cx="1329.5" cy="954.6" r="5.8" fill="#F44336"/><circle cx="1364.8" cy="895.2" r="5.8" fill="#F44336"/><circle cx="1342.1" cy="879.9" r="5.8" fill="#8BC34A"/><circle cx="1370.0" cy="929.4" r="5.8" fill="#212121"/><circle cx="1386.3" cy="935.5" r="5.8" fill="#F44336"/><circle cx="1363.7" cy="901.3" r="5.8" fill="#F44336"/><circle cx="1328.6" cy="914.3" r="5.8" fill="#F44336"/><circle cx="1368.9" cy="960.1" r="5.8" fill="#FFAB91"/><circle cx="1318.4" cy="894.4" r="5.8" fill="#212121"/></g>
<text x="197.3" y="1024.0" font-size="31.5" text-anchor="start" textLength="670.8" lengthAdjust="spacingAndGlyphs">Pooled clustered Lymph-BNHL/CLL/NOS variants</text>
<line x1="195.0" y1="1088.6" x2="825.0" y2="1088.6" stroke="#b0b0b0" stroke-width="1.6"/>
<line x1="195.0" y1="1168.4" x2="825.0" y2="1168.4" stroke="#b0b0b0" stroke-width="1.6"/>
<line x1="842.4" y1="1088.6" x2="1488.0" y2="1088.6" stroke="#b0b0b0" stroke-width="1.6"/>
<line x1="842.4" y1="1168.4" x2="1488.0" y2="1168.4" stroke="#b0b0b0" stroke-width="1.6"/>
<text x="162.5" y="1098.0" font-size="26.5" text-anchor="end" textLength="54.8" lengthAdjust="spacingAndGlyphs">1000</text>
<text x="165.5" y="1177.7" font-size="26.5" text-anchor="end" textLength="41.1" lengthAdjust="spacingAndGlyphs">500</text>
<text x="172.5" y="1256.3" font-size="26.5" text-anchor="end" textLength="13.7" lengthAdjust="spacingAndGlyphs">0</text>
<text x="91.0" y="1151.0" font-size="27" text-anchor="middle" transform="rotate(-90 91.0 1151.0)">Counts</text>
<rect x="201.0" y="1212.9" width="4.9" height="34.1" fill="#2196F3"/>
<rect x="207.4" y="1236.5" width="4.9" height="10.5" fill="#2196F3"/>
<rect x="213.8" y="1244.6" width="4.9" height="2.4" fill="#2196F3"/>
<rect x="220.3" y="1227.8" width="4.9" height="19.2" fill="#2196F3"/>
<rect x="226.7" y="1234.5" width="4.9" height="12.5" fill="#2196F3"/>
<rect x="233.1" y="1237.9" width="4.9" height="9.1" fill="#2196F3"/>
<rect x="239.6" y="1246.6" width="4.9" height="0.4" fill="#2196F3"/>
<rect x="246.0" y="1231.6" width="4.9" height="15.4" fill="#2196F3"/>
<rect x="252.4" y="1230.9" width="4.9" height="16.1" fill="#2196F3"/>
<rect x="258.9" y="1231.9" width="4.9" height="15.1" fill="#2196F3"/>
<rect x="265.3" y="1246.7" width="4.9" height="0.3" fill="#2196F3"/>
<rect x="271.7" y="1226.9" width="4.9" height="20.1" fill="#2196F3"/>
<rect x="278.2" y="1226.2" width="4.9" height="20.8" fill="#2196F3"/>
<rect x="284.6" y="1235.1" width="4.9" height="11.9" fill="#2196F3"/>
<rect x="291.0" y="1246.6" width="4.9" height="0.4" fill="#2196F3"/>
<rect x="297.5" y="1222.9" width="4.9" height="24.1" fill="#2196F3"/>
<rect x="303.9" y="1218.0" width="4.9" height="29.0" fill="#212121"/>
<rect x="310.3" y="1228.8" width="4.9" height="18.2" fill="#212121"/>
<rect x="316.8" y="1245.2" width="4.9" height="1.8" fill="#212121"/>
<rect x="323.2" y="1196.1" width="4.9" height="50.9" fill="#212121"/>
<rect x="329.7" y="1240.0" width="4.9" height="7.0" fill="#212121"/>
<rect x="336.1" y="1239.6" width="4.9" height="7.4" fill="#212121"/>
<rect x="342.5" y="1246.7" width="4.9" height="0.3" fill="#212121"/>
<rect x="349.0" y="1222.7" width="4.9" height="24.3" fill="#212121"/>
<rect x="355.4" y="1228.9" width="4.9" height="18.1" fill="#212121"/>
<rect x="361.8" y="1224.4" width="4.9" height="22.6" fill="#212121"/>
<rect x="368.3" y="1245.9" width="4.9" height="1.1" fill="#212121"/>
<rect x="374.7" y="1172.7" width="4.9" height="74.3" fill="#212121"/>
<rect x="381.1" y="1221.8" width="4.9" height="25.2" fill="#212121"/>
<rect x="387.6" y="1230.9" width="4.9" height="16.1" fill="#212121"/>
<rect x="394.0" y="1246.7" width="4.9" height="0.3" fill="#212121"/>
<rect x="400.4" y="1195.8" width="4.9" height="51.2" fill="#212121"/>
<rect x="406.9" y="1201.1" width="4.9" height="45.9" fill="#F44336"/>
<rect x="413.3" y="1210.2" width="4.9" height="36.8" fill="#F44336"/>
<rect x="419.7" y="1242.2" width="4.9" height="4.8" fill="#F44336"/>
<rect x="426.2" y="1192.7" width="4.9" height="54.3" fill="#F44336"/>
<rect x="432.6" y="1227.4" width="4.9" height="19.6" fill="#F44336"/>
<rect x="439.0" y="1223.9" width="4.9" height="23.1" fill="#F44336"/>
<rect x="445.5" y="1244.8" width="4.9" height="2.2" fill="#F44336"/>
<rect x="451.9" y="1209.8" width="4.9" height="37.2" fill="#F44336"/>
<rect x="458.3" y="1188.9" width="4.9" height="58.1" fill="#F44336"/>
<rect x="464.8" y="1184.3" width="4.9" height="62.7" fill="#F44336"/>
<rect x="471.2" y="1242.5" width="4.9" height="4.5" fill="#F44336"/>
<rect x="477.7" y="1119.4" width="4.9" height="127.6" fill="#F44336"/>
<rect x="484.1" y="1192.7" width="4.9" height="54.3" fill="#F44336"/>
<rect x="490.5" y="1213.1" width="4.9" height="33.9" fill="#F44336"/>
<rect x="497.0" y="1242.8" width="4.9" height="4.2" fill="#F44336"/>
<rect x="503.4" y="1155.1" width="4.9" height="91.9" fill="#F44336"/>
<rect x="509.8" y="1082.3" width="4.9" height="164.7" fill="#BDBDBD"/>
<rect x="516.3" y="1229.2" width="4.9" height="17.8" fill="#BDBDBD"/>
<rect x="522.7" y="1209.1" width="4.9" height="37.9" fill="#BDBDBD"/>
<rect x="529.1" y="1160.5" width="4.9" height="86.5" fill="#BDBDBD"/>
<rect x="535.6" y="1208.8" width="4.9" height="38.2" fill="#BDBDBD"/>
<rect x="542.0" y="1237.2" width="4.9" height="9.8" fill="#BDBDBD"/>
<rect x="548.4" y="1227.8" width="4.9" height="19.2" fill="#BDBDBD"/>
<rect x="554.9" y="1224.3" width="4.9" height="22.7" fill="#BDBDBD"/>
<rect x="561.3" y="1194.8" width="4.9" height="52.2" fill="#BDBDBD"/>
<rect x="567.7" y="1240.8" width="4.9" height="6.2" fill="#BDBDBD"/>
<rect x="574.2" y="1227.8" width="4.9" height="19.2" fill="#BDBDBD"/>
<rect x="580.6" y="1225.0" width="4.9" height="22.0" fill="#BDBDBD"/>
<rect x="587.0" y="1149.5" width="4.9" height="97.5" fill="#BDBDBD"/>
<rect x="593.5" y="1234.1" width="4.9" height="12.9" fill="#BDBDBD"/>
<rect x="599.9" y="1220.8" width="4.9" height="26.2" fill="#BDBDBD"/>
<rect x="606.4" y="1177.1" width="4.9" height="69.9" fill="#BDBDBD"/>
<rect x="612.8" y="1096.6" width="4.9" height="150.4" fill="#8BC34A"/>
<rect x="619.2" y="1215.9" width="4.9" height="31.1" fill="#8BC34A"/>
<rect x="625.7" y="1207.3" width="4.9" height="39.7" fill="#8BC34A"/>
<rect x="632.1" y="1093.2" width="4.9" height="153.8" fill="#8BC34A"/>
<rect x="638.5" y="1180.9" width="4.9" height="66.1" fill="#8BC34A"/>
<rect x="645.0" y="1216.4" width="4.9" height="30.6" fill="#8BC34A"/>
<rect x="651.4" y="1215.1" width="4.9" height="31.9" fill="#8BC34A"/>
<rect x="657.8" y="1165.7" width="4.9" height="81.3" fill="#8BC34A"/>
<rect x="664.3" y="1193.2" width="4.9" height="53.8" fill="#8BC34A"/>
<rect x="670.7" y="1226.6" width="4.9" height="20.4" fill="#8BC34A"/>
<rect x="677.1" y="1223.3" width="4.9" height="23.7" fill="#8BC34A"/>
<rect x="683.6" y="1179.3" width="4.9" height="67.7" fill="#8BC34A"/>
<rect x="690.0" y="1128.3" width="4.9" height="118.7" fill="#8BC34A"/>
<rect x="696.4" y="1202.3" width="4.9" height="44.7" fill="#8BC34A"/>
<rect x="702.9" y="1222.2" width="4.9" height="24.8" fill="#8BC34A"/>
<rect x="709.3" y="1066.3" width="4.9" height="180.7" fill="#8BC34A"/>
<rect x="715.7" y="1148.4" width="4.9" height="98.6" fill="#FFAB91"/>
<rect x="722.2" y="1225.0" width="4.9" height="22.0" fill="#FFAB91"/>
<rect x="728.6" y="1219.5" width="4.9" height="27.5" fill="#FFAB91"/>
<rect x="735.1" y="1194.1" width="4.9" height="52.9" fill="#FFAB91"/>
<rect x="741.5" y="1222.4" width="4.9" height="24.6" fill="#FFAB91"/>
<rect x="747.9" y="1231.1" width="4.9" height="15.9" fill="#FFAB91"/>
<rect x="754.4" y="1234.4" width="4.9" height="12.6" fill="#FFAB91"/>
<rect x="760.8" y="1219.1" width="4.9" height="27.9" fill="#FFAB91"/>
<rect x="767.2" y="1205.4" width="4.9" height="41.6" fill="#FFAB91"/>
<rect x="773.7" y="1238.1" width="4.9" height="8.9" fill="#FFAB91"/>
<rect x="780.1" y="1236.6" width="4.9" height="10.4" fill="#FFAB91"/>
<rect x="786.5" y="1212.3" width="4.9" height="34.7" fill="#FFAB91"/>
<rect x="793.0" y="1179.5" width="4.9" height="67.5" fill="#FFAB91"/>
<rect x="799.4" y="1219.8" width="4.9" height="27.2" fill="#FFAB91"/>
<rect x="805.8" y="1226.4" width="4.9" height="20.6" fill="#FFAB91"/>
<rect x="812.3" y="1147.3" width="4.9" height="99.7" fill="#FFAB91"/>
<text x="249.7" y="1072.3" font-size="26.5" text-anchor="middle" fill="#2196F3" textLength="48.1" lengthAdjust="spacingAndGlyphs">C&gt;A</text>
<text x="352.6" y="1072.3" font-size="26.5" text-anchor="middle" textLength="50.8" lengthAdjust="spacingAndGlyphs">C&gt;G</text>
<text x="455.6" y="1072.3" font-size="26.5" text-anchor="middle" fill="#F44336" textLength="46.7" lengthAdjust="spacingAndGlyphs">C&gt;T</text>
<text x="558.5" y="1072.3" font-size="26.5" text-anchor="middle" fill="#BDBDBD" textLength="45.4" lengthAdjust="spacingAndGlyphs">T&gt;A</text>
<text x="661.5" y="1072.3" font-size="26.5" text-anchor="middle" fill="#8BC34A" textLength="46.7" lengthAdjust="spacingAndGlyphs">T&gt;C</text>
<text x="764.5" y="1072.3" font-size="26.5" text-anchor="middle" fill="#FFAB91" textLength="48.1" lengthAdjust="spacingAndGlyphs">T&gt;G</text>
<rect x="848.8" y="1244.6" width="5.0" height="2.4" fill="#2196F3"/>
<rect x="855.4" y="1244.3" width="5.0" height="2.7" fill="#2196F3"/>
<rect x="868.6" y="1245.6" width="5.0" height="1.4" fill="#2196F3"/>
<rect x="881.8" y="1242.7" width="5.0" height="4.3" fill="#2196F3"/>
<rect x="895.0" y="1244.9" width="5.0" height="2.1" fill="#2196F3"/>
<rect x="901.6" y="1245.2" width="5.0" height="1.8" fill="#2196F3"/>
<rect x="908.2" y="1238.8" width="5.0" height="8.2" fill="#2196F3"/>
<rect x="914.8" y="1245.4" width="5.0" height="1.6" fill="#2196F3"/>
<rect x="921.4" y="1244.3" width="5.0" height="2.7" fill="#2196F3"/>
<rect x="934.6" y="1244.4" width="5.0" height="2.6" fill="#2196F3"/>
<rect x="947.8" y="1245.9" width="5.0" height="1.1" fill="#2196F3"/>
<rect x="954.4" y="1240.4" width="5.0" height="6.6" fill="#212121"/>
<rect x="961.1" y="1239.1" width="5.0" height="7.9" fill="#212121"/>
<rect x="967.7" y="1245.2" width="5.0" height="1.8" fill="#212121"/>
<rect x="974.3" y="1223.9" width="5.0" height="23.1" fill="#212121"/>
<rect x="980.9" y="1245.9" width="5.0" height="1.1" fill="#212121"/>
<rect x="987.5" y="1244.0" width="5.0" height="3.0" fill="#212121"/>
<rect x="1000.7" y="1231.8" width="5.0" height="15.2" fill="#212121"/>
<rect x="1007.3" y="1239.9" width="5.0" height="7.1" fill="#212121"/>
<rect x="1013.9" y="1232.3" width="5.0" height="14.7" fill="#212121"/>
<rect x="1020.5" y="1245.1" width="5.0" height="1.9" fill="#212121"/>
<rect x="1027.1" y="1204.5" width="5.0" height="42.5" fill="#212121"/>
<rect x="1033.7" y="1244.0" width="5.0" height="3.0" fill="#212121"/>
<rect x="1040.3" y="1239.9" width="5.0" height="7.1" fill="#212121"/>
<rect x="1046.9" y="1246.4" width="5.0" height="0.6" fill="#212121"/>
<rect x="1053.5" y="1232.7" width="5.0" height="14.3" fill="#212121"/>
<rect x="1060.1" y="1230.3" width="5.0" height="16.7" fill="#F44336"/>
<rect x="1066.7" y="1232.7" width="5.0" height="14.3" fill="#F44336"/>
<rect x="1073.3" y="1239.9" width="5.0" height="7.1" fill="#F44336"/>
<rect x="1079.9" y="1223.9" width="5.0" height="23.1" fill="#F44336"/>
<rect x="1086.5" y="1242.7" width="5.0" height="4.3" fill="#F44336"/>
<rect x="1093.1" y="1227.4" width="5.0" height="19.6" fill="#F44336"/>
<rect x="1099.7" y="1245.6" width="5.0" height="1.4" fill="#F44336"/>
<rect x="1106.3" y="1230.6" width="5.0" height="16.4" fill="#F44336"/>
<rect x="1112.9" y="1222.2" width="5.0" height="24.8" fill="#F44336"/>
<rect x="1119.5" y="1203.7" width="5.0" height="43.3" fill="#F44336"/>
<rect x="1126.1" y="1235.1" width="5.0" height="11.9" fill="#F44336"/>
<rect x="1132.7" y="1182.9" width="5.0" height="64.1" fill="#F44336"/>
<rect x="1139.3" y="1242.4" width="5.0" height="4.6" fill="#F44336"/>
<rect x="1145.9" y="1225.8" width="5.0" height="21.2" fill="#F44336"/>
<rect x="1152.5" y="1245.9" width="5.0" height="1.1" fill="#F44336"/>
<rect x="1159.1" y="1232.7" width="5.0" height="14.3" fill="#F44336"/>
<rect x="1165.7" y="1238.3" width="5.0" height="8.7" fill="#BDBDBD"/>
<rect x="1178.9" y="1243.6" width="5.0" height="3.4" fill="#BDBDBD"/>
<rect x="1185.6" y="1241.5" width="5.0" height="5.5" fill="#BDBDBD"/>
<rect x="1192.2" y="1245.6" width="5.0" height="1.4" fill="#BDBDBD"/>
<rect x="1205.4" y="1246.0" width="5.0" height="1.0" fill="#BDBDBD"/>
<rect x="1212.0" y="1245.7" width="5.0" height="1.3" fill="#BDBDBD"/>
<rect x="1218.6" y="1244.0" width="5.0" height="3.0" fill="#BDBDBD"/>
<rect x="1238.4" y="1245.4" width="5.0" height="1.6" fill="#BDBDBD"/>
<rect x="1245.0" y="1241.5" width="5.0" height="5.5" fill="#BDBDBD"/>
<rect x="1258.2" y="1246.0" width="5.0" height="1.0" fill="#BDBDBD"/>
<rect x="1264.8" y="1242.7" width="5.0" height="4.3" fill="#BDBDBD"/>
<rect x="1271.4" y="1240.3" width="5.0" height="6.7" fill="#8BC34A"/>
<rect x="1278.0" y="1244.0" width="5.0" height="3.0" fill="#8BC34A"/>
<rect x="1284.6" y="1244.3" width="5.0" height="2.7" fill="#8BC34A"/>
<rect x="1291.2" y="1236.9" width="5.0" height="10.1" fill="#8BC34A"/>
<rect x="1297.8" y="1243.4" width="5.0" height="3.6" fill="#8BC34A"/>
<rect x="1304.4" y="1244.8" width="5.0" height="2.2" fill="#8BC34A"/>
<rect x="1311.0" y="1243.8" width="5.0" height="3.2" fill="#8BC34A"/>
<rect x="1317.6" y="1236.9" width="5.0" height="10.1" fill="#8BC34A"/>
<rect x="1324.2" y="1245.1" width="5.0" height="1.9" fill="#8BC34A"/>
<rect x="1330.8" y="1244.4" width="5.0" height="2.6" fill="#8BC34A"/>
<rect x="1337.4" y="1245.6" width="5.0" height="1.4" fill="#8BC34A"/>
<rect x="1344.0" y="1239.0" width="5.0" height="8.0" fill="#8BC34A"/>
<rect x="1350.6" y="1239.0" width="5.0" height="8.0" fill="#8BC34A"/>
<rect x="1357.2" y="1242.7" width="5.0" height="4.3" fill="#8BC34A"/>
<rect x="1363.8" y="1244.5" width="5.0" height="2.5" fill="#8BC34A"/>
<rect x="1370.4" y="1231.8" width="5.0" height="15.2" fill="#8BC34A"/>
<rect x="1377.0" y="1242.7" width="5.0" height="4.3" fill="#FFAB91"/>
<rect x="1390.2" y="1244.8" width="5.0" height="2.2" fill="#FFAB91"/>
<rect x="1396.8" y="1243.4" width="5.0" height="3.6" fill="#FFAB91"/>
<rect x="1403.5" y="1245.8" width="5.0" height="1.2" fill="#FFAB91"/>
<rect x="1410.1" y="1244.8" width="5.0" height="2.2" fill="#FFAB91"/>
<rect x="1416.7" y="1244.8" width="5.0" height="2.2" fill="#FFAB91"/>
<rect x="1423.3" y="1246.3" width="5.0" height="0.7" fill="#FFAB91"/>
<rect x="1429.9" y="1243.8" width="5.0" height="3.2" fill="#FFAB91"/>
<rect x="1436.5" y="1246.7" width="5.0" height="0.3" fill="#FFAB91"/>
<rect x="1443.1" y="1246.7" width="5.0" height="0.3" fill="#FFAB91"/>
<rect x="1449.7" y="1244.8" width="5.0" height="2.2" fill="#FFAB91"/>
<rect x="1456.3" y="1243.1" width="5.0" height="3.9" fill="#FFAB91"/>
<rect x="1462.9" y="1244.4" width="5.0" height="2.6" fill="#FFAB91"/>
<rect x="1469.5" y="1245.8" width="5.0" height="1.2" fill="#FFAB91"/>
<rect x="1476.1" y="1241.5" width="5.0" height="5.5" fill="#FFAB91"/>
<text x="898.8" y="1072.3" font-size="26.5" text-anchor="middle" fill="#2196F3" textLength="48.1" lengthAdjust="spacingAndGlyphs">C&gt;A</text>
<text x="1004.5" y="1072.3" font-size="26.5" text-anchor="middle" textLength="50.8" lengthAdjust="spacingAndGlyphs">C&gt;G</text>
<text x="1110.1" y="1072.3" font-size="26.5" text-anchor="middle" fill="#F44336" textLength="46.7" lengthAdjust="spacingAndGlyphs">C&gt;T</text>
<text x="1215.8" y="1072.3" font-size="26.5" text-anchor="middle" fill="#BDBDBD" textLength="45.4" lengthAdjust="spacingAndGlyphs">T&gt;A</text>
<text x="1321.4" y="1072.3" font-size="26.5" text-anchor="middle" fill="#8BC34A" textLength="46.7" lengthAdjust="spacingAndGlyphs">T&gt;C</text>
<text x="1427.1" y="1072.3" font-size="26.5" text-anchor="middle" fill="#FFAB91" textLength="48.1" lengthAdjust="spacingAndGlyphs">T&gt;G</text>
<rect x="213.5" y="1092.5" width="223.6" height="74.3" rx="8" ry="8" fill="#d3d3d3" fill-opacity="0.5" stroke="#000" stroke-opacity="0.5" stroke-width="2.6"/>
<text x="224.5" y="1121.6" font-size="26.5" text-anchor="start" textLength="170.0" lengthAdjust="spacingAndGlyphs">all other states</text>
<text x="224.5" y="1151.9" font-size="26.5" text-anchor="start" textLength="116.4" lengthAdjust="spacingAndGlyphs">(TS14-like)</text>
<rect x="862.4" y="1093.0" width="250.8" height="74.2" rx="8" ry="8" fill="#d3d3d3" fill-opacity="0.5" stroke="#000" stroke-opacity="0.5" stroke-width="2.6"/>
<text x="872.0" y="1121.6" font-size="26.5" text-anchor="start" textLength="194.6" lengthAdjust="spacingAndGlyphs">TssA and TssFlnk</text>
<text x="872.0" y="1151.9" font-size="26.5" text-anchor="start" textLength="116.6" lengthAdjust="spacingAndGlyphs">(TS13-like)</text>
<text x="467.0" y="1288.0" font-size="31" text-anchor="middle" textLength="519.0" lengthAdjust="spacingAndGlyphs">Size distribution of clusters in pooled</text>
<text x="484.0" y="1324.7" font-size="31" text-anchor="middle" textLength="311.4" lengthAdjust="spacingAndGlyphs">Lymph-BNHL/CLL/NOS</text>
<text x="1121.0" y="1287.2" font-size="31" text-anchor="middle" textLength="502.8" lengthAdjust="spacingAndGlyphs"># of mutations per cluster in pooled</text>
<text x="1139.0" y="1324.5" font-size="31" text-anchor="middle" textLength="310.5" lengthAdjust="spacingAndGlyphs">Lymph-BNHL/CLL/NOS</text>
<text x="160.0" y="1336.0" font-size="26.5" text-anchor="end" textLength="61.7" lengthAdjust="spacingAndGlyphs">0.004</text>
<text x="160.0" y="1434.5" font-size="26.5" text-anchor="end" textLength="61.7" lengthAdjust="spacingAndGlyphs">0.002</text>
<text x="160.0" y="1533.0" font-size="26.5" text-anchor="end" textLength="61.7" lengthAdjust="spacingAndGlyphs">0.000</text>
<text x="193.7" y="1562.5" font-size="26.5" text-anchor="middle" textLength="13.7" lengthAdjust="spacingAndGlyphs">0</text>
<text x="348.3" y="1562.5" font-size="26.5" text-anchor="middle" textLength="41.1" lengthAdjust="spacingAndGlyphs">500</text>
<text x="504.1" y="1562.5" font-size="26.5" text-anchor="middle" textLength="54.8" lengthAdjust="spacingAndGlyphs">1000</text>
<text x="661.4" y="1562.5" font-size="26.5" text-anchor="middle" textLength="54.8" lengthAdjust="spacingAndGlyphs">1500</text>
<text x="494.6" y="1599.5" font-size="26.5" text-anchor="middle" textLength="161.0" lengthAdjust="spacingAndGlyphs">Cluster length</text>
<text x="83.0" y="1438.8" font-size="27" text-anchor="middle" textLength="217.6" lengthAdjust="spacingAndGlyphs" transform="rotate(-90 83.0 1438.8)">Normalized Counts</text>
<text x="815.0" y="1354.0" font-size="26.5" text-anchor="end" textLength="34.3" lengthAdjust="spacingAndGlyphs">0.4</text>
<text x="815.0" y="1443.3" font-size="26.5" text-anchor="end" textLength="34.3" lengthAdjust="spacingAndGlyphs">0.2</text>
<text x="841.4" y="1562.5" font-size="26.5" text-anchor="middle" textLength="13.7" lengthAdjust="spacingAndGlyphs">0</text>
<text x="1002.7" y="1562.5" font-size="26.5" text-anchor="middle" textLength="13.7" lengthAdjust="spacingAndGlyphs">5</text>
<text x="1161.3" y="1562.5" font-size="26.5" text-anchor="middle" textLength="27.4" lengthAdjust="spacingAndGlyphs">10</text>
<text x="1322.6" y="1562.5" font-size="26.5" text-anchor="middle" textLength="27.4" lengthAdjust="spacingAndGlyphs">15</text>
<text x="1483.9" y="1562.5" font-size="26.5" text-anchor="middle" textLength="27.4" lengthAdjust="spacingAndGlyphs">20</text>
<text x="1133.6" y="1599.5" font-size="26.5" text-anchor="middle" textLength="352.4" lengthAdjust="spacingAndGlyphs">Number of variants per cluster</text>
<path d="M194.50,1523.5h15.73v-196.50h-15.73zM210.23,1523.5h15.73v-124.50h-15.73zM225.96,1523.5h15.73v-98.80h-15.73zM241.69,1523.5h15.73v-67.90h-15.73zM257.42,1523.5h15.73v-40.00h-15.73zM273.15,1523.5h15.73v-42.00h-15.73zM288.88,1523.5h15.73v-31.00h-15.73zM304.61,1523.5h15.73v-31.00h-15.73zM320.34,1523.5h15.73v-29.50h-15.73zM336.07,1523.5h15.73v-25.00h-15.73zM351.80,1523.5h15.73v-20.00h-15.73zM367.53,1523.5h15.73v-16.00h-15.73zM383.26,1523.5h15.73v-11.40h-15.73zM398.99,1523.5h15.73v-11.40h-15.73zM414.72,1523.5h15.73v-10.00h-15.73zM430.45,1523.5h15.73v-8.00h-15.73zM446.18,1523.5h15.73v-7.50h-15.73zM461.91,1523.5h15.73v-7.00h-15.73zM477.64,1523.5h15.73v-6.50h-15.73zM493.37,1523.5h15.73v-5.50h-15.73zM509.10,1523.5h15.73v-5.00h-15.73zM524.83,1523.5h15.73v-5.00h-15.73zM540.56,1523.5h15.73v-4.50h-15.73zM556.29,1523.5h15.73v-4.50h-15.73zM572.02,1523.5h15.73v-4.00h-15.73zM587.75,1523.5h15.73v-4.00h-15.73zM603.48,1523.5h15.73v-3.50h-15.73zM619.21,1523.5h15.73v-3.50h-15.73zM634.94,1523.5h15.73v-3.00h-15.73zM650.67,1523.5h15.73v-3.00h-15.73zM666.40,1523.5h15.73v-3.00h-15.73zM682.13,1523.5h15.73v-2.50h-15.73zM697.86,1523.5h15.73v-2.50h-15.73zM713.59,1523.5h15.73v-2.50h-15.73zM729.32,1523.5h15.73v-2.00h-15.73zM745.05,1523.5h15.73v-2.00h-15.73zM760.78,1523.5h15.73v-2.00h-15.73zM776.51,1523.5h15.73v-2.00h-15.73zM792.24,1523.5h15.73v-1.50h-15.73zM807.97,1523.5h15.73v-1.50h-15.73z" fill="#1f77b4" fill-opacity="0.5"/>
<path d="M194.50,1523.5h15.73v-28.40h-15.73zM210.23,1523.5h15.73v-35.70h-15.73zM225.96,1523.5h15.73v-22.70h-15.73zM241.69,1523.5h15.73v-25.00h-15.73zM257.42,1523.5h15.73v-42.50h-15.73zM273.15,1523.5h15.73v-29.50h-15.73zM288.88,1523.5h15.73v-28.40h-15.73zM304.61,1523.5h15.73v-36.30h-15.73zM320.34,1523.5h15.73v-37.50h-15.73zM336.07,1523.5h15.73v-39.70h-15.73zM351.80,1523.5h15.73v-13.70h-15.73zM367.53,1523.5h15.73v-18.00h-15.73zM383.26,1523.5h15.73v-15.90h-15.73zM398.99,1523.5h15.73v-8.70h-15.73zM414.72,1523.5h15.73v-10.00h-15.73zM430.45,1523.5h15.73v-20.40h-15.73zM446.18,1523.5h15.73v-17.00h-15.73zM461.91,1523.5h15.73v-30.40h-15.73zM477.64,1523.5h15.73v-15.00h-15.73zM493.37,1523.5h15.73v-13.00h-15.73zM509.10,1523.5h15.73v-10.00h-15.73zM524.83,1523.5h15.73v-12.50h-15.73zM540.56,1523.5h15.73v-20.40h-15.73zM556.29,1523.5h15.73v-8.70h-15.73zM572.02,1523.5h15.73v-23.40h-15.73zM587.75,1523.5h15.73v-16.00h-15.73zM603.48,1523.5h15.73v-23.10h-15.73zM619.21,1523.5h15.73v-16.00h-15.73zM634.94,1523.5h15.73v-14.00h-15.73zM650.67,1523.5h15.73v-12.00h-15.73zM666.40,1523.5h15.73v-13.00h-15.73zM682.13,1523.5h15.73v-12.00h-15.73zM697.86,1523.5h15.73v-10.00h-15.73zM713.59,1523.5h15.73v-10.00h-15.73zM729.32,1523.5h15.73v-9.00h-15.73zM745.05,1523.5h15.73v-9.00h-15.73zM760.78,1523.5h15.73v-8.00h-15.73zM776.51,1523.5h15.73v-8.00h-15.73zM792.24,1523.5h15.73v-11.00h-15.73zM807.97,1523.5h15.73v-9.00h-15.73z" fill="#ff7f0e" fill-opacity="0.5"/>
<path d="M906.72,1523.5h32.26v-40.90h-32.26zM938.98,1523.5h32.26v-196.91h-32.26zM971.24,1523.5h32.26v-76.80h-32.26zM1003.50,1523.5h32.26v-41.97h-32.26zM1035.76,1523.5h32.26v-17.41h-32.26zM1068.02,1523.5h32.26v-10.72h-32.26zM1100.28,1523.5h32.26v-8.48h-32.26zM1132.54,1523.5h32.26v-4.91h-32.26zM1164.80,1523.5h32.26v-4.02h-32.26zM1197.06,1523.5h32.26v-3.13h-32.26zM1229.32,1523.5h32.26v-2.23h-32.26zM1261.58,1523.5h32.26v-1.79h-32.26zM1293.84,1523.5h32.26v-1.34h-32.26zM1326.10,1523.5h32.26v-1.34h-32.26zM1358.36,1523.5h32.26v-0.89h-32.26zM1390.62,1523.5h32.26v-0.89h-32.26zM1422.88,1523.5h32.26v-0.89h-32.26zM1455.14,1523.5h32.26v-0.89h-32.26z" fill="#1f77b4" fill-opacity="0.5"/>
<path d="M906.72,1523.5h32.26v-4.46h-32.26zM938.98,1523.5h32.26v-78.58h-32.26zM971.24,1523.5h32.26v-47.78h-32.26zM1003.50,1523.5h32.26v-44.20h-32.26zM1035.76,1523.5h32.26v-29.02h-32.26zM1068.02,1523.5h32.26v-19.20h-32.26zM1100.28,1523.5h32.26v-26.79h-32.26zM1132.54,1523.5h32.26v-16.07h-32.26zM1164.80,1523.5h32.26v-11.61h-32.26zM1197.06,1523.5h32.26v-18.31h-32.26zM1229.32,1523.5h32.26v-8.93h-32.26zM1261.58,1523.5h32.26v-8.93h-32.26zM1293.84,1523.5h32.26v-6.70h-32.26zM1326.10,1523.5h32.26v-8.04h-32.26zM1358.36,1523.5h32.26v-5.36h-32.26zM1390.62,1523.5h32.26v-5.36h-32.26zM1422.88,1523.5h32.26v-8.93h-32.26zM1455.14,1523.5h32.26v-4.46h-32.26z" fill="#ff7f0e" fill-opacity="0.5"/>
<path d="M194.5,1475.6 L195.7,1475.3 L197.2,1474.9 L199.0,1474.5 L201.1,1474.0 L203.3,1473.5 L205.6,1473.0 L207.8,1472.5 L210.0,1472.0 L212.1,1471.6 L214.2,1471.1 L216.4,1470.6 L218.6,1470.1 L220.9,1469.7 L223.3,1469.3 L225.8,1469.0 L228.5,1468.8 L231.3,1468.7 L234.3,1468.7 L237.4,1468.7 L240.6,1468.8 L243.9,1469.0 L247.2,1469.3 L250.6,1469.7 L254.1,1470.1 L257.6,1470.6 L261.2,1471.2 L264.8,1471.9 L268.5,1472.7 L272.3,1473.6 L276.1,1474.5 L280.0,1475.5 L284.0,1476.5 L288.1,1477.6 L292.3,1478.9 L296.5,1480.2 L300.9,1481.6 L305.3,1483.0 L309.6,1484.4 L314.0,1485.8 L318.3,1487.2 L322.6,1488.5 L326.9,1489.9 L331.1,1491.3 L335.4,1492.6 L339.7,1494.0 L344.0,1495.3 L348.2,1496.6 L352.5,1497.8 L356.7,1499.0 L360.9,1500.2 L365.0,1501.3 L369.1,1502.4 L373.3,1503.5 L377.6,1504.5 L382.0,1505.5 L386.7,1506.4 L391.5,1507.3 L396.4,1508.0 L401.3,1508.8 L406.4,1509.5 L411.8,1510.1 L417.3,1510.8 L423.2,1511.4 L429.4,1512.0 L435.9,1512.6 L442.6,1513.2 L449.5,1513.7 L456.7,1514.3 L464.2,1514.8 L472.1,1515.3 L480.5,1515.7 L489.3,1516.2 L498.8,1516.6 L508.9,1517.1 L519.5,1517.5 L530.4,1517.9 L541.6,1518.3 L552.8,1518.6 L563.9,1518.9 L574.8,1519.2 L585.0,1519.4 L594.4,1519.7 L603.5,1519.8 L612.7,1520.0 L622.6,1520.1 L633.5,1520.2 L645.9,1520.4 L660.3,1520.5 L678.1,1520.6 L699.4,1520.8 L722.8,1520.9 L747.0,1521.0 L770.5,1521.1 L792.0,1521.2 L809.9,1521.3 L823.0,1521.4" fill="none" stroke="#1f77b4" stroke-width="4.6" stroke-linejoin="round"/>
<path d="M194.5,1508.5 L197.4,1508.1 L201.3,1507.6 L205.9,1507.0 L211.0,1506.3 L216.4,1505.6 L222.0,1504.9 L227.5,1504.1 L232.8,1503.5 L237.9,1502.9 L243.2,1502.2 L248.5,1501.5 L253.9,1500.9 L259.3,1500.3 L264.7,1499.7 L270.1,1499.2 L275.5,1498.7 L280.8,1498.3 L286.2,1497.9 L291.5,1497.6 L296.9,1497.4 L302.3,1497.2 L307.6,1497.0 L313.0,1497.0 L318.3,1497.0 L323.6,1497.1 L329.0,1497.4 L334.3,1497.8 L339.6,1498.2 L345.0,1498.6 L350.3,1499.1 L355.7,1499.6 L361.0,1500.0 L366.3,1500.4 L371.7,1500.9 L377.0,1501.3 L382.4,1501.8 L387.8,1502.3 L393.1,1502.7 L398.5,1503.1 L403.8,1503.5 L409.1,1503.8 L414.5,1504.1 L419.8,1504.4 L425.1,1504.6 L430.5,1504.8 L435.8,1505.0 L441.2,1505.3 L446.5,1505.5 L451.8,1505.7 L457.2,1506.0 L462.5,1506.3 L467.9,1506.5 L473.3,1506.7 L478.6,1507.0 L484.0,1507.1 L489.3,1507.3 L494.6,1507.4 L500.0,1507.5 L505.3,1507.5 L510.7,1507.6 L516.0,1507.6 L521.3,1507.6 L526.7,1507.6 L532.0,1507.7 L537.3,1507.8 L542.7,1507.9 L548.0,1507.9 L553.4,1508.0 L558.8,1508.1 L564.1,1508.3 L569.5,1508.4 L574.8,1508.5 L580.1,1508.6 L585.5,1508.8 L590.8,1508.9 L596.1,1509.1 L601.5,1509.2 L606.8,1509.4 L612.2,1509.6 L617.5,1509.8 L622.8,1510.0 L628.2,1510.3 L633.5,1510.6 L638.9,1510.9 L644.3,1511.2 L649.6,1511.5 L655.0,1511.7 L660.3,1512.0 L665.6,1512.2 L671.0,1512.5 L676.3,1512.7 L681.6,1512.9 L687.0,1513.1 L692.3,1513.3 L697.7,1513.5 L703.0,1513.7 L708.1,1513.9 L712.9,1514.1 L717.5,1514.3 L722.2,1514.5 L727.2,1514.7 L732.7,1514.9 L738.8,1515.1 L745.8,1515.4 L754.3,1515.7 L764.5,1516.0 L775.6,1516.4 L787.1,1516.8 L798.2,1517.1 L808.3,1517.4 L816.8,1517.7 L823.0,1517.9" fill="none" stroke="#ff7f0e" stroke-width="4.6" stroke-linejoin="round"/>
<path d="M842.2,1503.1 L844.6,1502.3 L847.8,1501.2 L851.6,1499.9 L855.8,1498.5 L860.3,1496.9 L864.8,1495.2 L869.3,1493.5 L873.6,1491.7 L877.8,1489.8 L882.0,1487.7 L886.4,1485.5 L890.7,1483.3 L895.1,1481.0 L899.3,1478.8 L903.5,1476.6 L907.6,1474.7 L911.6,1472.9 L915.6,1471.0 L919.6,1469.3 L923.5,1467.6 L927.3,1466.0 L930.9,1464.6 L934.2,1463.3 L937.2,1462.2 L939.8,1461.3 L942.1,1460.6 L944.0,1460.1 L945.8,1459.6 L947.5,1459.3 L949.2,1459.1 L951.0,1458.9 L953.0,1458.8 L955.1,1458.7 L957.2,1458.5 L959.2,1458.4 L961.4,1458.4 L963.6,1458.5 L966.0,1458.8 L968.5,1459.2 L971.2,1459.9 L974.1,1460.8 L977.2,1461.9 L980.4,1463.1 L983.8,1464.5 L987.3,1466.1 L990.9,1467.7 L994.7,1469.5 L998.5,1471.3 L1002.6,1473.3 L1007.1,1475.6 L1011.8,1478.1 L1016.6,1480.6 L1021.3,1483.1 L1025.8,1485.5 L1029.9,1487.6 L1033.4,1489.3 L1036.3,1490.6 L1038.8,1491.7 L1040.8,1492.5 L1042.6,1493.1 L1044.3,1493.7 L1046.0,1494.2 L1047.9,1494.8 L1050.0,1495.5 L1052.3,1496.3 L1054.5,1497.0 L1056.8,1497.7 L1059.2,1498.4 L1061.6,1499.2 L1064.2,1499.9 L1067.0,1500.7 L1070.0,1501.5 L1073.3,1502.4 L1076.8,1503.3 L1080.5,1504.3 L1084.4,1505.3 L1088.3,1506.3 L1092.3,1507.2 L1096.2,1508.1 L1100.0,1508.9 L1103.8,1509.6 L1107.5,1510.3 L1111.2,1510.9 L1115.0,1511.5 L1118.8,1512.0 L1122.5,1512.5 L1126.2,1513.0 L1130.0,1513.5 L1133.5,1514.0 L1136.8,1514.4 L1139.9,1514.8 L1143.1,1515.1 L1146.6,1515.5 L1150.4,1515.8 L1154.8,1516.1 L1160.0,1516.5 L1165.7,1516.9 L1171.5,1517.2 L1177.7,1517.6 L1184.4,1518.0 L1191.8,1518.3 L1200.1,1518.7 L1209.4,1519.0 L1220.0,1519.3 L1231.9,1519.6 L1245.1,1519.8 L1259.4,1520.0 L1274.6,1520.3 L1290.4,1520.4 L1306.7,1520.6 L1323.3,1520.8 L1340.0,1520.9 L1358.1,1521.0 L1378.3,1521.1 L1399.6,1521.2 L1421.0,1521.2 L1441.5,1521.2 L1460.0,1521.3 L1475.5,1521.3 L1487.0,1521.3" fill="none" stroke="#1f77b4" stroke-width="4.6" stroke-linejoin="round"/>
<path d="M842.2,1516.7 L844.6,1516.2 L847.8,1515.5 L851.6,1514.7 L855.8,1513.9 L860.3,1512.9 L864.8,1511.9 L869.3,1510.9 L873.6,1509.9 L877.7,1508.9 L881.9,1507.8 L886.2,1506.7 L890.4,1505.5 L894.7,1504.3 L899.0,1503.1 L903.3,1502.0 L907.6,1500.8 L911.9,1499.6 L916.1,1498.4 L920.4,1497.2 L924.6,1495.9 L928.9,1494.7 L933.2,1493.6 L937.4,1492.6 L941.7,1491.7 L946.0,1490.9 L950.2,1490.2 L954.5,1489.6 L958.8,1489.1 L963.0,1488.7 L967.3,1488.3 L971.5,1488.0 L975.8,1487.8 L980.1,1487.7 L984.4,1487.6 L988.7,1487.7 L993.0,1487.8 L997.3,1488.0 L1001.6,1488.2 L1005.7,1488.5 L1009.8,1488.8 L1013.8,1489.1 L1017.6,1489.5 L1021.4,1490.0 L1025.1,1490.5 L1028.9,1491.0 L1032.6,1491.5 L1036.3,1492.0 L1040.0,1492.5 L1043.8,1493.0 L1047.5,1493.5 L1051.3,1494.0 L1055.0,1494.5 L1058.8,1495.0 L1062.5,1495.5 L1066.3,1496.0 L1070.0,1496.5 L1073.8,1497.0 L1077.5,1497.6 L1081.2,1498.2 L1085.0,1498.8 L1088.8,1499.3 L1092.5,1499.9 L1096.2,1500.4 L1100.0,1500.9 L1103.8,1501.4 L1107.5,1501.8 L1111.2,1502.2 L1115.0,1502.6 L1118.8,1502.9 L1122.5,1503.3 L1126.2,1503.6 L1130.0,1504.0 L1133.5,1504.3 L1136.8,1504.6 L1139.9,1504.9 L1143.1,1505.2 L1146.6,1505.5 L1150.4,1505.8 L1154.8,1506.2 L1160.0,1506.6 L1166.1,1507.1 L1172.9,1507.6 L1180.3,1508.2 L1188.1,1508.7 L1196.2,1509.3 L1204.3,1509.9 L1212.3,1510.4 L1220.0,1510.9 L1227.5,1511.3 L1235.0,1511.7 L1242.5,1512.0 L1250.0,1512.3 L1257.5,1512.6 L1265.0,1512.9 L1272.5,1513.2 L1280.0,1513.5 L1287.5,1513.8 L1295.0,1514.1 L1302.5,1514.3 L1310.0,1514.6 L1317.5,1514.9 L1325.0,1515.1 L1332.5,1515.4 L1340.0,1515.6 L1347.3,1515.8 L1354.4,1516.1 L1361.3,1516.3 L1368.3,1516.5 L1375.5,1516.8 L1383.1,1517.0 L1391.2,1517.2 L1400.0,1517.4 L1410.2,1517.6 L1421.9,1517.8 L1434.5,1518.0 L1447.2,1518.2 L1459.6,1518.3 L1470.7,1518.5 L1480.1,1518.6 L1487.0,1518.7" fill="none" stroke="#ff7f0e" stroke-width="4.6" stroke-linejoin="round"/>
<rect x="1170" y="1346" width="304.2" height="149" rx="4" ry="4" fill="#fff" fill-opacity="0.8" stroke="#cccccc" stroke-width="1.8"/>
<rect x="1181.0" y="1376.7" width="55.0" height="19.0" fill="#1f77b4" fill-opacity="0.5"/>
<rect x="1181.0" y="1447.3" width="55.0" height="18.7" fill="#ff7f0e" fill-opacity="0.5"/>
<text x="1258.5" y="1377.0" font-size="26.5" text-anchor="start" textLength="170.0" lengthAdjust="spacingAndGlyphs">all other states</text>
<text x="1258.5" y="1407.3" font-size="26.5" text-anchor="start" textLength="116.4" lengthAdjust="spacingAndGlyphs">(TS14-like)</text>
<text x="1258.5" y="1448.0" font-size="26.5" text-anchor="start" textLength="171.0" lengthAdjust="spacingAndGlyphs">TssA or TxFlnk</text>
<text x="1258.5" y="1478.3" font-size="26.5" text-anchor="start" textLength="116.6" lengthAdjust="spacingAndGlyphs">(TS13-like)</text>
<line x1="194.5" y1="43.0" x2="194.5" y2="229.6" stroke="#000" stroke-width="2.2"/>
<line x1="185.5" y1="43.0" x2="194.5" y2="43.0" stroke="#000" stroke-width="2.2"/>
<line x1="185.5" y1="109.5" x2="194.5" y2="109.5" stroke="#000" stroke-width="2.2"/>
<line x1="185.5" y1="176.0" x2="194.5" y2="176.0" stroke="#000" stroke-width="2.2"/>
<line x1="195.0" y1="254.4" x2="195.0" y2="440.8" stroke="#000" stroke-width="2.2"/>
<line x1="195.0" y1="440.8" x2="1487.0" y2="440.8" stroke="#000" stroke-width="2.2"/>
<line x1="186.0" y1="272.0" x2="195.0" y2="272.0" stroke="#000" stroke-width="2.2"/>
<line x1="186.0" y1="356.4" x2="195.0" y2="356.4" stroke="#000" stroke-width="2.2"/>
<line x1="186.0" y1="440.8" x2="195.0" y2="440.8" stroke="#000" stroke-width="2.2"/>
<line x1="206.9" y1="440.8" x2="206.9" y2="449.8" stroke="#000" stroke-width="2.2"/>
<line x1="461.1" y1="440.8" x2="461.1" y2="449.8" stroke="#000" stroke-width="2.2"/>
<line x1="715.4" y1="440.8" x2="715.4" y2="449.8" stroke="#000" stroke-width="2.2"/>
<line x1="969.6" y1="440.8" x2="969.6" y2="449.8" stroke="#000" stroke-width="2.2"/>
<line x1="1223.9" y1="440.8" x2="1223.9" y2="449.8" stroke="#000" stroke-width="2.2"/>
<line x1="1478.2" y1="440.8" x2="1478.2" y2="449.8" stroke="#000" stroke-width="2.2"/>
<line x1="194.9" y1="551.6" x2="194.9" y2="760.5" stroke="#000" stroke-width="2.2"/>
<line x1="185.9" y1="565.6" x2="194.9" y2="565.6" stroke="#000" stroke-width="2.2"/>
<line x1="185.9" y1="591.5" x2="194.9" y2="591.5" stroke="#000" stroke-width="2.2"/>
<line x1="185.9" y1="617.3" x2="194.9" y2="617.3" stroke="#000" stroke-width="2.2"/>
<line x1="185.9" y1="643.2" x2="194.9" y2="643.2" stroke="#000" stroke-width="2.2"/>
<line x1="185.9" y1="669.1" x2="194.9" y2="669.1" stroke="#000" stroke-width="2.2"/>
<line x1="185.9" y1="695.0" x2="194.9" y2="695.0" stroke="#000" stroke-width="2.2"/>
<line x1="185.9" y1="720.8" x2="194.9" y2="720.8" stroke="#000" stroke-width="2.2"/>
<line x1="185.9" y1="746.7" x2="194.9" y2="746.7" stroke="#000" stroke-width="2.2"/>
<line x1="518.3" y1="551.6" x2="518.3" y2="760.5" stroke="#000" stroke-width="2.2"/>
<line x1="509.3" y1="565.6" x2="518.3" y2="565.6" stroke="#000" stroke-width="2.2"/>
<line x1="509.3" y1="591.5" x2="518.3" y2="591.5" stroke="#000" stroke-width="2.2"/>
<line x1="509.3" y1="617.3" x2="518.3" y2="617.3" stroke="#000" stroke-width="2.2"/>
<line x1="509.3" y1="643.2" x2="518.3" y2="643.2" stroke="#000" stroke-width="2.2"/>
<line x1="509.3" y1="669.1" x2="518.3" y2="669.1" stroke="#000" stroke-width="2.2"/>
<line x1="509.3" y1="695.0" x2="518.3" y2="695.0" stroke="#000" stroke-width="2.2"/>
<line x1="509.3" y1="720.8" x2="518.3" y2="720.8" stroke="#000" stroke-width="2.2"/>
<line x1="509.3" y1="746.7" x2="518.3" y2="746.7" stroke="#000" stroke-width="2.2"/>
<line x1="842.3" y1="551.6" x2="842.3" y2="760.5" stroke="#000" stroke-width="2.2"/>
<line x1="833.3" y1="565.6" x2="842.3" y2="565.6" stroke="#000" stroke-width="2.2"/>
<line x1="833.3" y1="591.5" x2="842.3" y2="591.5" stroke="#000" stroke-width="2.2"/>
<line x1="833.3" y1="617.3" x2="842.3" y2="617.3" stroke="#000" stroke-width="2.2"/>
<line x1="833.3" y1="643.2" x2="842.3" y2="643.2" stroke="#000" stroke-width="2.2"/>
<line x1="833.3" y1="669.1" x2="842.3" y2="669.1" stroke="#000" stroke-width="2.2"/>
<line x1="833.3" y1="695.0" x2="842.3" y2="695.0" stroke="#000" stroke-width="2.2"/>
<line x1="833.3" y1="720.8" x2="842.3" y2="720.8" stroke="#000" stroke-width="2.2"/>
<line x1="833.3" y1="746.7" x2="842.3" y2="746.7" stroke="#000" stroke-width="2.2"/>
<line x1="1166.0" y1="551.6" x2="1166.0" y2="760.5" stroke="#000" stroke-width="2.2"/>
<line x1="1157.0" y1="565.6" x2="1166.0" y2="565.6" stroke="#000" stroke-width="2.2"/>
<line x1="1157.0" y1="591.5" x2="1166.0" y2="591.5" stroke="#000" stroke-width="2.2"/>
<line x1="1157.0" y1="617.3" x2="1166.0" y2="617.3" stroke="#000" stroke-width="2.2"/>
<line x1="1157.0" y1="643.2" x2="1166.0" y2="643.2" stroke="#000" stroke-width="2.2"/>
<line x1="1157.0" y1="669.1" x2="1166.0" y2="669.1" stroke="#000" stroke-width="2.2"/>
<line x1="1157.0" y1="695.0" x2="1166.0" y2="695.0" stroke="#000" stroke-width="2.2"/>
<line x1="1157.0" y1="720.8" x2="1166.0" y2="720.8" stroke="#000" stroke-width="2.2"/>
<line x1="1157.0" y1="746.7" x2="1166.0" y2="746.7" stroke="#000" stroke-width="2.2"/>
<line x1="194.9" y1="785.0" x2="194.9" y2="972.7" stroke="#000" stroke-width="2.2"/>
<line x1="185.9" y1="836.4" x2="194.9" y2="836.4" stroke="#000" stroke-width="2.2"/>
<line x1="185.9" y1="912.4" x2="194.9" y2="912.4" stroke="#000" stroke-width="2.2"/>
<line x1="518.3" y1="785.0" x2="518.3" y2="972.7" stroke="#000" stroke-width="2.2"/>
<line x1="509.3" y1="836.4" x2="518.3" y2="836.4" stroke="#000" stroke-width="2.2"/>
<line x1="509.3" y1="912.4" x2="518.3" y2="912.4" stroke="#000" stroke-width="2.2"/>
<line x1="842.3" y1="785.0" x2="842.3" y2="972.7" stroke="#000" stroke-width="2.2"/>
<line x1="833.3" y1="836.4" x2="842.3" y2="836.4" stroke="#000" stroke-width="2.2"/>
<line x1="833.3" y1="912.4" x2="842.3" y2="912.4" stroke="#000" stroke-width="2.2"/>
<line x1="1166.0" y1="785.0" x2="1166.0" y2="972.7" stroke="#000" stroke-width="2.2"/>
<line x1="1157.0" y1="830.7" x2="1166.0" y2="830.7" stroke="#000" stroke-width="2.2"/>
<line x1="1157.0" y1="910.1" x2="1166.0" y2="910.1" stroke="#000" stroke-width="2.2"/>
<line x1="195.0" y1="1040.4" x2="195.0" y2="1247.0" stroke="#000" stroke-width="2.2"/>
<line x1="195.0" y1="1247.0" x2="825.0" y2="1247.0" stroke="#000" stroke-width="2.2"/>
<line x1="186.0" y1="1088.6" x2="195.0" y2="1088.6" stroke="#000" stroke-width="2.2"/>
<line x1="186.0" y1="1168.4" x2="195.0" y2="1168.4" stroke="#000" stroke-width="2.2"/>
<line x1="186.0" y1="1247.0" x2="195.0" y2="1247.0" stroke="#000" stroke-width="2.2"/>
<line x1="842.4" y1="1040.4" x2="842.4" y2="1247.0" stroke="#000" stroke-width="2.2"/>
<line x1="842.4" y1="1247.0" x2="1488.0" y2="1247.0" stroke="#000" stroke-width="2.2"/>
<line x1="833.4" y1="1088.6" x2="842.4" y2="1088.6" stroke="#000" stroke-width="2.2"/>
<line x1="833.4" y1="1168.4" x2="842.4" y2="1168.4" stroke="#000" stroke-width="2.2"/>
<line x1="833.4" y1="1247.0" x2="842.4" y2="1247.0" stroke="#000" stroke-width="2.2"/>
<line x1="194.5" y1="1316.4" x2="194.5" y2="1523.5" stroke="#000" stroke-width="2.2"/>
<line x1="194.5" y1="1523.5" x2="824.0" y2="1523.5" stroke="#000" stroke-width="2.2"/>
<line x1="185.5" y1="1327.1" x2="194.5" y2="1327.1" stroke="#000" stroke-width="2.2"/>
<line x1="185.5" y1="1425.3" x2="194.5" y2="1425.3" stroke="#000" stroke-width="2.2"/>
<line x1="185.5" y1="1523.5" x2="194.5" y2="1523.5" stroke="#000" stroke-width="2.2"/>
<line x1="194.5" y1="1523.5" x2="194.5" y2="1532.5" stroke="#000" stroke-width="2.2"/>
<line x1="351.8" y1="1523.5" x2="351.8" y2="1532.5" stroke="#000" stroke-width="2.2"/>
<line x1="509.1" y1="1523.5" x2="509.1" y2="1532.5" stroke="#000" stroke-width="2.2"/>
<line x1="666.4" y1="1523.5" x2="666.4" y2="1532.5" stroke="#000" stroke-width="2.2"/>
<line x1="842.2" y1="1316.4" x2="842.2" y2="1523.5" stroke="#000" stroke-width="2.2"/>
<line x1="842.2" y1="1523.5" x2="1487.4" y2="1523.5" stroke="#000" stroke-width="2.2"/>
<line x1="833.2" y1="1344.7" x2="842.2" y2="1344.7" stroke="#000" stroke-width="2.2"/>
<line x1="833.2" y1="1434.0" x2="842.2" y2="1434.0" stroke="#000" stroke-width="2.2"/>
<line x1="833.2" y1="1523.5" x2="842.2" y2="1523.5" stroke="#000" stroke-width="2.2"/>
<line x1="842.2" y1="1523.5" x2="842.2" y2="1532.5" stroke="#000" stroke-width="2.2"/>
<line x1="1003.5" y1="1523.5" x2="1003.5" y2="1532.5" stroke="#000" stroke-width="2.2"/>
<line x1="1164.8" y1="1523.5" x2="1164.8" y2="1532.5" stroke="#000" stroke-width="2.2"/>
<line x1="1326.1" y1="1523.5" x2="1326.1" y2="1532.5" stroke="#000" stroke-width="2.2"/>
<line x1="1487.4" y1="1523.5" x2="1487.4" y2="1532.5" stroke="#000" stroke-width="2.2"/>
</svg></body></html>
